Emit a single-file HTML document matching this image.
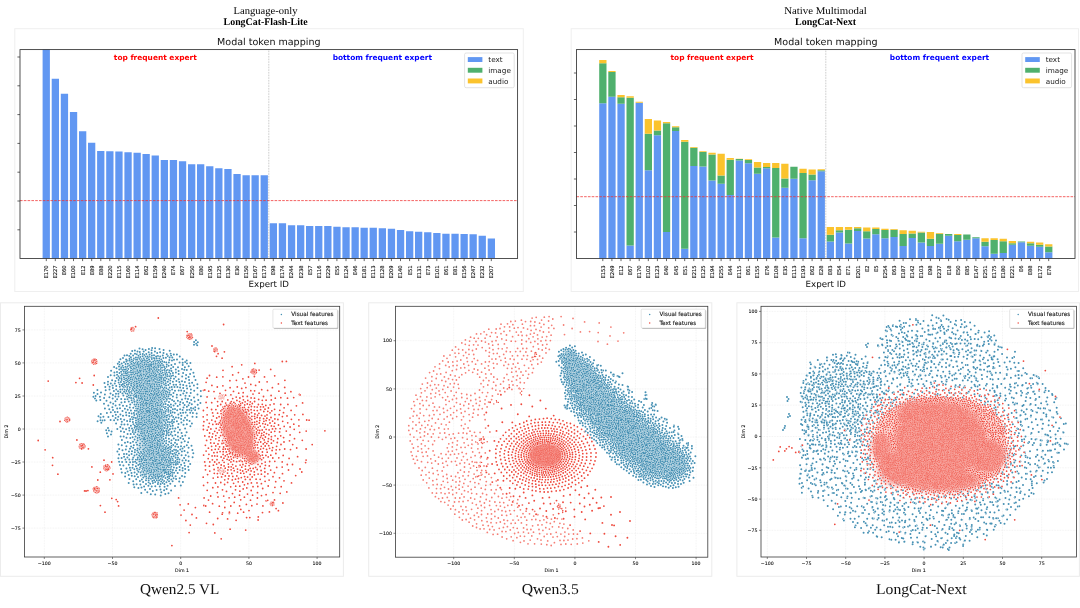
<!DOCTYPE html>
<html><head><meta charset="utf-8"><title>Modal token mapping and t-SNE features</title>
<style>html,body{margin:0;padding:0;background:#fff}svg{display:block;text-rendering:geometricPrecision;font-family:"DejaVu Sans","Liberation Sans",sans-serif}</style>
</head><body>
<svg width="1080" height="608" viewBox="0 0 1080 608">
<defs>
<filter id="bl1" x="-20%" y="-20%" width="140%" height="140%"><feGaussianBlur stdDeviation="1"/></filter>
<filter id="bl2" x="-20%" y="-20%" width="140%" height="140%"><feGaussianBlur stdDeviation="1.8"/></filter>
<filter id="bl3" x="-50%" y="-50%" width="200%" height="200%"><feGaussianBlur stdDeviation="3"/></filter>
<filter id="bl5" x="-50%" y="-50%" width="200%" height="200%"><feGaussianBlur stdDeviation="5"/></filter>
<clipPath id="cp1"><rect x="24.4" y="306.3" width="315.3" height="250.7"/></clipPath>
<clipPath id="cp2"><rect x="395.5" y="306.3" width="312.3" height="250.9"/></clipPath>
<clipPath id="cp3"><rect x="761" y="306.3" width="315.4" height="250.7"/></clipPath>
</defs>
<rect width="1080" height="608" fill="#fff"/>
<rect x="14.8" y="28.7" width="508.5" height="262.8" fill="#fff" stroke="#efefef" stroke-width="1"/>
<clipPath id="c20"><rect x="20" y="49.6" width="497.6" height="208.9"/></clipPath>
<g clip-path="url(#c20)" shape-rendering="auto">
<path fill="#6197f2" d="M42.6 20h7.3V258.5h-7.3zM51.7 78.7h7.3V258.5h-7.3zM60.8 93.7h7.3V258.5h-7.3zM69.9 112h7.3V258.5h-7.3zM79 131.3h7.3V258.5h-7.3zM88 142.8h7.3V258.5h-7.3zM97.1 151h7.3V258.5h-7.3zM106.2 151.2h7.3V258.5h-7.3zM115.3 151.6h7.3V258.5h-7.3zM124.4 152.2h7.3V258.5h-7.3zM133.5 152.8h7.3V258.5h-7.3zM142.5 154h7.3V258.5h-7.3zM151.6 155.5h7.3V258.5h-7.3zM160.7 160h7.3V258.5h-7.3zM169.8 160h7.3V258.5h-7.3zM178.9 161.3h7.3V258.5h-7.3zM188 164.3h7.3V258.5h-7.3zM197 164.3h7.3V258.5h-7.3zM206.1 166.3h7.3V258.5h-7.3zM215.2 168.2h7.3V258.5h-7.3zM224.3 169h7.3V258.5h-7.3zM233.4 174h7.3V258.5h-7.3zM242.5 175.2h7.3V258.5h-7.3zM251.5 175.2h7.3V258.5h-7.3zM260.6 175.2h7.3V258.5h-7.3zM269.7 223.3h7.3V258.5h-7.3zM278.8 223.3h7.3V258.5h-7.3zM287.9 225.2h7.3V258.5h-7.3zM297 225.2h7.3V258.5h-7.3zM306 226h7.3V258.5h-7.3zM315.1 226h7.3V258.5h-7.3zM324.2 226h7.3V258.5h-7.3zM333.3 226.7h7.3V258.5h-7.3zM342.4 227.3h7.3V258.5h-7.3zM351.5 227.3h7.3V258.5h-7.3zM360.5 227.8h7.3V258.5h-7.3zM369.6 227.8h7.3V258.5h-7.3zM378.7 228.3h7.3V258.5h-7.3zM387.8 228.8h7.3V258.5h-7.3zM396.9 230.1h7.3V258.5h-7.3zM406 231.2h7.3V258.5h-7.3zM415 231.7h7.3V258.5h-7.3zM424.1 232.3h7.3V258.5h-7.3zM433.2 233h7.3V258.5h-7.3zM442.3 233.7h7.3V258.5h-7.3zM451.4 233.7h7.3V258.5h-7.3zM460.5 234h7.3V258.5h-7.3zM469.5 234.3h7.3V258.5h-7.3zM478.6 235.7h7.3V258.5h-7.3zM487.7 238.5h7.3V258.5h-7.3z"/>
</g>
<path d="M268.8 49.6V258.5" stroke="#999" stroke-width="0.7" stroke-dasharray="0.7 0.9" fill="none"/>
<path d="M20 200.6H517.6" stroke="#f03030" stroke-width="0.75" stroke-dasharray="2.6 1.2" fill="none"/>
<rect x="20" y="49.6" width="497.6" height="208.9" fill="none" stroke="#333" stroke-width="0.85"/>
<path d="M46.3 258.5v2.6M55.3 258.5v2.6M64.4 258.5v2.6M73.5 258.5v2.6M82.6 258.5v2.6M91.7 258.5v2.6M100.8 258.5v2.6M109.8 258.5v2.6M118.9 258.5v2.6M128 258.5v2.6M137.1 258.5v2.6M146.2 258.5v2.6M155.3 258.5v2.6M164.3 258.5v2.6M173.4 258.5v2.6M182.5 258.5v2.6M191.6 258.5v2.6M200.7 258.5v2.6M209.8 258.5v2.6M218.8 258.5v2.6M227.9 258.5v2.6M237 258.5v2.6M246.1 258.5v2.6M255.2 258.5v2.6M264.3 258.5v2.6M273.3 258.5v2.6M282.4 258.5v2.6M291.5 258.5v2.6M300.6 258.5v2.6M309.7 258.5v2.6M318.8 258.5v2.6M327.8 258.5v2.6M336.9 258.5v2.6M346 258.5v2.6M355.1 258.5v2.6M364.2 258.5v2.6M373.3 258.5v2.6M382.3 258.5v2.6M391.4 258.5v2.6M400.5 258.5v2.6M409.6 258.5v2.6M418.7 258.5v2.6M427.8 258.5v2.6M436.8 258.5v2.6M445.9 258.5v2.6M455 258.5v2.6M464.1 258.5v2.6M473.2 258.5v2.6M482.3 258.5v2.6M491.3 258.5v2.6M20 57h-2.6M20 85.8h-2.6M20 114.6h-2.6M20 143.4h-2.6M20 172.2h-2.6M20 201h-2.6M20 229.8h-2.6" stroke="#333" stroke-width="0.75" fill="none"/>
<g font-size="5.2" fill="#111" stroke="#111" stroke-width="0.12" text-anchor="end">
<text transform="translate(48.2 265.4) rotate(-90)">E170</text>
<text transform="translate(57.2 265.4) rotate(-90)">E227</text>
<text transform="translate(66.3 265.4) rotate(-90)">E60</text>
<text transform="translate(75.4 265.4) rotate(-90)">E100</text>
<text transform="translate(84.5 265.4) rotate(-90)">E12</text>
<text transform="translate(93.6 265.4) rotate(-90)">E89</text>
<text transform="translate(102.7 265.4) rotate(-90)">E88</text>
<text transform="translate(111.7 265.4) rotate(-90)">E220</text>
<text transform="translate(120.8 265.4) rotate(-90)">E115</text>
<text transform="translate(129.9 265.4) rotate(-90)">E160</text>
<text transform="translate(139 265.4) rotate(-90)">E114</text>
<text transform="translate(148.1 265.4) rotate(-90)">E62</text>
<text transform="translate(157.2 265.4) rotate(-90)">E159</text>
<text transform="translate(166.2 265.4) rotate(-90)">E240</text>
<text transform="translate(175.3 265.4) rotate(-90)">E74</text>
<text transform="translate(184.4 265.4) rotate(-90)">E67</text>
<text transform="translate(193.5 265.4) rotate(-90)">E250</text>
<text transform="translate(202.6 265.4) rotate(-90)">E80</text>
<text transform="translate(211.7 265.4) rotate(-90)">E195</text>
<text transform="translate(220.7 265.4) rotate(-90)">E125</text>
<text transform="translate(229.8 265.4) rotate(-90)">E130</text>
<text transform="translate(238.9 265.4) rotate(-90)">E30</text>
<text transform="translate(248 265.4) rotate(-90)">E150</text>
<text transform="translate(257.1 265.4) rotate(-90)">E167</text>
<text transform="translate(266.2 265.4) rotate(-90)">E173</text>
<text transform="translate(275.2 265.4) rotate(-90)">E98</text>
<text transform="translate(284.3 265.4) rotate(-90)">E174</text>
<text transform="translate(293.4 265.4) rotate(-90)">E244</text>
<text transform="translate(302.5 265.4) rotate(-90)">E238</text>
<text transform="translate(311.6 265.4) rotate(-90)">E57</text>
<text transform="translate(320.7 265.4) rotate(-90)">E116</text>
<text transform="translate(329.7 265.4) rotate(-90)">E229</text>
<text transform="translate(338.8 265.4) rotate(-90)">E55</text>
<text transform="translate(347.9 265.4) rotate(-90)">E124</text>
<text transform="translate(357 265.4) rotate(-90)">E46</text>
<text transform="translate(366.1 265.4) rotate(-90)">E181</text>
<text transform="translate(375.2 265.4) rotate(-90)">E113</text>
<text transform="translate(384.2 265.4) rotate(-90)">E128</text>
<text transform="translate(393.3 265.4) rotate(-90)">E209</text>
<text transform="translate(402.4 265.4) rotate(-90)">E140</text>
<text transform="translate(411.5 265.4) rotate(-90)">E51</text>
<text transform="translate(420.6 265.4) rotate(-90)">E131</text>
<text transform="translate(429.7 265.4) rotate(-90)">E73</text>
<text transform="translate(438.7 265.4) rotate(-90)">E101</text>
<text transform="translate(447.8 265.4) rotate(-90)">E61</text>
<text transform="translate(456.9 265.4) rotate(-90)">E81</text>
<text transform="translate(466 265.4) rotate(-90)">E156</text>
<text transform="translate(475.1 265.4) rotate(-90)">E247</text>
<text transform="translate(484.2 265.4) rotate(-90)">E232</text>
<text transform="translate(493.2 265.4) rotate(-90)">E207</text>
</g>
<text x="268.8" y="45.3" font-size="9.55" text-anchor="middle" fill="#111">Modal token mapping</text>
<text x="268.8" y="286.9" font-size="8.7" text-anchor="middle" fill="#111">Expert ID</text>
<text x="155.3" y="60.2" font-size="7.43" font-weight="bold" text-anchor="middle" fill="#ff0000">top frequent expert</text>
<text x="382.3" y="60.2" font-size="7.43" font-weight="bold" text-anchor="middle" fill="#0000ff">bottom frequent expert</text>
<rect x="464.6" y="53" width="49.6" height="34.7" rx="1.5" fill="#fff" fill-opacity="0.8" stroke="#d0d0d0" stroke-width="0.6"/>
<rect x="467.8" y="57.1" width="14.6" height="4.9" fill="#6197f2"/>
<text x="488.3" y="62.1" font-size="7.25" fill="#222">text</text>
<rect x="467.8" y="67.8" width="14.6" height="4.9" fill="#4fb06d"/>
<text x="488.3" y="72.8" font-size="7.25" fill="#222">image</text>
<rect x="467.8" y="78.5" width="14.6" height="4.9" fill="#fbc32d"/>
<text x="488.3" y="83.5" font-size="7.25" fill="#222">audio</text>
<g font-family="'Liberation Serif',serif" fill="#000" text-anchor="middle" font-size="10.2">
<text x="265.6" y="13.7" textLength="64" lengthAdjust="spacingAndGlyphs">Language-only</text>
<text x="265.6" y="25" font-weight="bold" textLength="84" lengthAdjust="spacingAndGlyphs">LongCat-Flash-Lite</text>
</g>
<rect x="571.2" y="28.7" width="507.3" height="262.8" fill="#fff" stroke="#efefef" stroke-width="1"/>
<clipPath id="c576"><rect x="576.5" y="49.6" width="498.5" height="208.9"/></clipPath>
<g clip-path="url(#c576)" shape-rendering="auto">
<path fill="#6197f2" d="M599.2 103.3h7.3V258.5h-7.3zM608.3 96.7h7.3V258.5h-7.3zM617.4 103.8h7.3V258.5h-7.3zM626.5 245.5h7.3V258.5h-7.3zM635.6 102.8h7.3V258.5h-7.3zM644.7 170.3h7.3V258.5h-7.3zM653.8 135.2h7.3V258.5h-7.3zM662.9 232h7.3V258.5h-7.3zM672 131.1h7.3V258.5h-7.3zM681.1 248.8h7.3V258.5h-7.3zM690.2 166h7.3V258.5h-7.3zM699.3 166.5h7.3V258.5h-7.3zM708.4 180.4h7.3V258.5h-7.3zM717.5 183.8h7.3V258.5h-7.3zM726.6 195h7.3V258.5h-7.3zM735.7 160.4h7.3V258.5h-7.3zM744.8 163.2h7.3V258.5h-7.3zM753.9 173.7h7.3V258.5h-7.3zM763 168.2h7.3V258.5h-7.3zM772.1 237.5h7.3V258.5h-7.3zM781.2 187.8h7.3V258.5h-7.3zM790.3 178.7h7.3V258.5h-7.3zM799.4 238.3h7.3V258.5h-7.3zM808.5 180.3h7.3V258.5h-7.3zM817.6 171.3h7.3V258.5h-7.3zM826.7 241.6h7.3V258.5h-7.3zM835.8 232.6h7.3V258.5h-7.3zM844.9 243.4h7.3V258.5h-7.3zM854 230.9h7.3V258.5h-7.3zM863.1 238.6h7.3V258.5h-7.3zM872.2 234.2h7.3V258.5h-7.3zM881.3 238.2h7.3V258.5h-7.3zM890.4 237.1h7.3V258.5h-7.3zM899.5 246.1h7.3V258.5h-7.3zM908.6 238h7.3V258.5h-7.3zM917.7 242.4h7.3V258.5h-7.3zM926.8 246h7.3V258.5h-7.3zM935.9 243.7h7.3V258.5h-7.3zM945 235.8h7.3V258.5h-7.3zM954.1 241.2h7.3V258.5h-7.3zM963.2 239.7h7.3V258.5h-7.3zM972.3 238.2h7.3V258.5h-7.3zM981.4 246.3h7.3V258.5h-7.3zM990.5 253.7h7.3V258.5h-7.3zM999.6 252.9h7.3V258.5h-7.3zM1008.7 244.7h7.3V258.5h-7.3zM1017.8 242.2h7.3V258.5h-7.3zM1026.9 245.8h7.3V258.5h-7.3zM1036 246.7h7.3V258.5h-7.3zM1045.1 252.2h7.3V258.5h-7.3z"/>
<path fill="#4fb06d" d="M599.2 63.3h7.3V103.3h-7.3zM608.3 72h7.3V96.7h-7.3zM617.4 97.2h7.3V103.8h-7.3zM626.5 97.8h7.3V245.5h-7.3zM644.7 133.7h7.3V170.3h-7.3zM653.8 130.5h7.3V135.2h-7.3zM662.9 123.3h7.3V232h-7.3zM672 127.2h7.3V131.1h-7.3zM681.1 141.7h7.3V248.8h-7.3zM690.2 147.8h7.3V166h-7.3zM699.3 152h7.3V166.5h-7.3zM708.4 154.5h7.3V180.4h-7.3zM717.5 175.4h7.3V183.8h-7.3zM726.6 159.7h7.3V195h-7.3zM735.7 159h7.3V160.4h-7.3zM744.8 160h7.3V163.2h-7.3zM753.9 167.5h7.3V173.7h-7.3zM763 167h7.3V168.2h-7.3zM772.1 168h7.3V237.5h-7.3zM781.2 178.5h7.3V187.8h-7.3zM790.3 166.7h7.3V178.7h-7.3zM799.4 173h7.3V238.3h-7.3zM808.5 174.5h7.3V180.3h-7.3zM817.6 170.3h7.3V171.3h-7.3zM826.7 234.8h7.3V241.6h-7.3zM835.8 230.2h7.3V232.6h-7.3zM844.9 229.7h7.3V243.4h-7.3zM854 228.2h7.3V230.9h-7.3zM863.1 231.3h7.3V238.6h-7.3zM872.2 228.9h7.3V234.2h-7.3zM881.3 230h7.3V238.2h-7.3zM890.4 229.7h7.3V237.1h-7.3zM899.5 233.9h7.3V246.1h-7.3zM908.6 233.6h7.3V238h-7.3zM917.7 232.6h7.3V242.4h-7.3zM926.8 238.7h7.3V246h-7.3zM935.9 233.7h7.3V243.7h-7.3zM945 233.9h7.3V235.8h-7.3zM954.1 235.1h7.3V241.2h-7.3zM963.2 234.5h7.3V239.7h-7.3zM972.3 237.2h7.3V238.2h-7.3zM981.4 241.7h7.3V246.3h-7.3zM990.5 239.9h7.3V253.7h-7.3zM999.6 241.2h7.3V252.9h-7.3zM1008.7 243.2h7.3V244.7h-7.3zM1017.8 241.4h7.3V242.2h-7.3zM1026.9 243.2h7.3V245.8h-7.3zM1036 244.7h7.3V246.7h-7.3zM1045.1 246.4h7.3V252.2h-7.3z"/>
<path fill="#fbc32d" d="M599.2 60h7.3V63.3h-7.3zM608.3 71h7.3V72h-7.3zM617.4 95h7.3V97.2h-7.3zM626.5 96.3h7.3V97.8h-7.3zM635.6 101.7h7.3V102.8h-7.3zM644.7 119h7.3V133.7h-7.3zM653.8 120.5h7.3V130.5h-7.3zM662.9 122h7.3V123.3h-7.3zM672 126.2h7.3V127.2h-7.3zM681.1 140h7.3V141.7h-7.3zM690.2 147h7.3V147.8h-7.3zM699.3 151.2h7.3V152h-7.3zM708.4 152.8h7.3V154.5h-7.3zM717.5 153.8h7.3V175.4h-7.3zM726.6 157.9h7.3V159.7h-7.3zM735.7 158.8h7.3V159h-7.3zM744.8 159.2h7.3V160h-7.3zM753.9 162h7.3V167.5h-7.3zM763 163h7.3V167h-7.3zM772.1 163h7.3V168h-7.3zM781.2 163.7h7.3V178.5h-7.3zM799.4 168.8h7.3V173h-7.3zM808.5 169.5h7.3V174.5h-7.3zM817.6 169.3h7.3V170.3h-7.3zM826.7 227.1h7.3V234.8h-7.3zM835.8 227.1h7.3V230.2h-7.3zM844.9 227.1h7.3V229.7h-7.3zM854 227.1h7.3V228.2h-7.3zM863.1 227.4h7.3V231.3h-7.3zM872.2 227.4h7.3V228.9h-7.3zM881.3 228.7h7.3V230h-7.3zM890.4 228.9h7.3V229.7h-7.3zM899.5 230.3h7.3V233.9h-7.3zM908.6 230.7h7.3V233.6h-7.3zM917.7 231.8h7.3V232.6h-7.3zM926.8 232h7.3V238.7h-7.3zM935.9 232.9h7.3V233.7h-7.3zM954.1 233.9h7.3V235.1h-7.3zM981.4 238.3h7.3V241.7h-7.3zM990.5 238.2h7.3V239.9h-7.3zM999.6 238.8h7.3V241.2h-7.3zM1008.7 240.9h7.3V243.2h-7.3zM1026.9 241.8h7.3V243.2h-7.3zM1036 242.5h7.3V244.7h-7.3zM1045.1 244.2h7.3V246.4h-7.3z"/>
</g>
<path d="M825.8 49.6V258.5" stroke="#999" stroke-width="0.7" stroke-dasharray="0.7 0.9" fill="none"/>
<path d="M576.5 196.7H1075" stroke="#f03030" stroke-width="0.75" stroke-dasharray="2.6 1.2" fill="none"/>
<rect x="576.5" y="49.6" width="498.5" height="208.9" fill="none" stroke="#333" stroke-width="0.85"/>
<path d="M602.8 258.5v2.6M611.9 258.5v2.6M621 258.5v2.6M630.1 258.5v2.6M639.2 258.5v2.6M648.3 258.5v2.6M657.4 258.5v2.6M666.5 258.5v2.6M675.6 258.5v2.6M684.7 258.5v2.6M693.8 258.5v2.6M702.9 258.5v2.6M712 258.5v2.6M721.1 258.5v2.6M730.2 258.5v2.6M739.3 258.5v2.6M748.4 258.5v2.6M757.5 258.5v2.6M766.6 258.5v2.6M775.7 258.5v2.6M784.8 258.5v2.6M793.9 258.5v2.6M803 258.5v2.6M812.1 258.5v2.6M821.2 258.5v2.6M830.3 258.5v2.6M839.4 258.5v2.6M848.5 258.5v2.6M857.6 258.5v2.6M866.7 258.5v2.6M875.8 258.5v2.6M884.9 258.5v2.6M894 258.5v2.6M903.1 258.5v2.6M912.2 258.5v2.6M921.3 258.5v2.6M930.4 258.5v2.6M939.5 258.5v2.6M948.6 258.5v2.6M957.7 258.5v2.6M966.8 258.5v2.6M975.9 258.5v2.6M985 258.5v2.6M994.1 258.5v2.6M1003.2 258.5v2.6M1012.3 258.5v2.6M1021.4 258.5v2.6M1030.5 258.5v2.6M1039.6 258.5v2.6M1048.7 258.5v2.6M576.5 73h-2.6M576.5 99.5h-2.6M576.5 126h-2.6M576.5 152.5h-2.6M576.5 179h-2.6M576.5 205.5h-2.6M576.5 232h-2.6" stroke="#333" stroke-width="0.75" fill="none"/>
<g font-size="5.2" fill="#111" stroke="#111" stroke-width="0.12" text-anchor="end">
<text transform="translate(604.7 265.4) rotate(-90)">E153</text>
<text transform="translate(613.8 265.4) rotate(-90)">E249</text>
<text transform="translate(622.9 265.4) rotate(-90)">E12</text>
<text transform="translate(632 265.4) rotate(-90)">E67</text>
<text transform="translate(641.1 265.4) rotate(-90)">E170</text>
<text transform="translate(650.2 265.4) rotate(-90)">E102</text>
<text transform="translate(659.3 265.4) rotate(-90)">E123</text>
<text transform="translate(668.4 265.4) rotate(-90)">E40</text>
<text transform="translate(677.5 265.4) rotate(-90)">E45</text>
<text transform="translate(686.6 265.4) rotate(-90)">E51</text>
<text transform="translate(695.7 265.4) rotate(-90)">E215</text>
<text transform="translate(704.8 265.4) rotate(-90)">E125</text>
<text transform="translate(713.9 265.4) rotate(-90)">E194</text>
<text transform="translate(723 265.4) rotate(-90)">E255</text>
<text transform="translate(732.1 265.4) rotate(-90)">E44</text>
<text transform="translate(741.2 265.4) rotate(-90)">E115</text>
<text transform="translate(750.3 265.4) rotate(-90)">E61</text>
<text transform="translate(759.4 265.4) rotate(-90)">E155</text>
<text transform="translate(768.5 265.4) rotate(-90)">E76</text>
<text transform="translate(777.6 265.4) rotate(-90)">E108</text>
<text transform="translate(786.7 265.4) rotate(-90)">E35</text>
<text transform="translate(795.8 265.4) rotate(-90)">E113</text>
<text transform="translate(804.9 265.4) rotate(-90)">E193</text>
<text transform="translate(814 265.4) rotate(-90)">E62</text>
<text transform="translate(823.1 265.4) rotate(-90)">E28</text>
<text transform="translate(832.2 265.4) rotate(-90)">E83</text>
<text transform="translate(841.3 265.4) rotate(-90)">E54</text>
<text transform="translate(850.4 265.4) rotate(-90)">E71</text>
<text transform="translate(859.5 265.4) rotate(-90)">E201</text>
<text transform="translate(868.6 265.4) rotate(-90)">E2</text>
<text transform="translate(877.7 265.4) rotate(-90)">E5</text>
<text transform="translate(886.8 265.4) rotate(-90)">E254</text>
<text transform="translate(895.9 265.4) rotate(-90)">E63</text>
<text transform="translate(905 265.4) rotate(-90)">E187</text>
<text transform="translate(914.1 265.4) rotate(-90)">E142</text>
<text transform="translate(923.2 265.4) rotate(-90)">E103</text>
<text transform="translate(932.3 265.4) rotate(-90)">E98</text>
<text transform="translate(941.4 265.4) rotate(-90)">E237</text>
<text transform="translate(950.5 265.4) rotate(-90)">E18</text>
<text transform="translate(959.6 265.4) rotate(-90)">E50</text>
<text transform="translate(968.7 265.4) rotate(-90)">E85</text>
<text transform="translate(977.8 265.4) rotate(-90)">E147</text>
<text transform="translate(986.9 265.4) rotate(-90)">E251</text>
<text transform="translate(996 265.4) rotate(-90)">E175</text>
<text transform="translate(1005.1 265.4) rotate(-90)">E180</text>
<text transform="translate(1014.2 265.4) rotate(-90)">E221</text>
<text transform="translate(1023.3 265.4) rotate(-90)">E6</text>
<text transform="translate(1032.4 265.4) rotate(-90)">E88</text>
<text transform="translate(1041.5 265.4) rotate(-90)">E172</text>
<text transform="translate(1050.6 265.4) rotate(-90)">E78</text>
</g>
<text x="825.8" y="45.3" font-size="9.55" text-anchor="middle" fill="#111">Modal token mapping</text>
<text x="825.8" y="286.9" font-size="8.7" text-anchor="middle" fill="#111">Expert ID</text>
<text x="712" y="60.2" font-size="7.43" font-weight="bold" text-anchor="middle" fill="#ff0000">top frequent expert</text>
<text x="939.5" y="60.2" font-size="7.43" font-weight="bold" text-anchor="middle" fill="#0000ff">bottom frequent expert</text>
<rect x="1022" y="53" width="49.6" height="34.7" rx="1.5" fill="#fff" fill-opacity="0.8" stroke="#d0d0d0" stroke-width="0.6"/>
<rect x="1025.2" y="57.1" width="14.6" height="4.9" fill="#6197f2"/>
<text x="1045.7" y="62.1" font-size="7.25" fill="#222">text</text>
<rect x="1025.2" y="67.8" width="14.6" height="4.9" fill="#4fb06d"/>
<text x="1045.7" y="72.8" font-size="7.25" fill="#222">image</text>
<rect x="1025.2" y="78.5" width="14.6" height="4.9" fill="#fbc32d"/>
<text x="1045.7" y="83.5" font-size="7.25" fill="#222">audio</text>
<g font-family="'Liberation Serif',serif" fill="#000" text-anchor="middle" font-size="10.2">
<text x="825.5" y="13.7" textLength="82.5" lengthAdjust="spacingAndGlyphs">Native Multimodal</text>
<text x="825.5" y="25" font-weight="bold" textLength="61" lengthAdjust="spacingAndGlyphs">LongCat-Next</text>
</g>
<rect x="0.5" y="302.8" width="342.9" height="273.5" fill="#fff" stroke="#ececec" stroke-width="1"/>
<path d="M44.3 306.3V557M112.5 306.3V557M180.7 306.3V557M248.9 306.3V557M317.1 306.3V557M24.4 329.9H339.7M24.4 362.9H339.7M24.4 396H339.7M24.4 429H339.7M24.4 462H339.7M24.4 495.1H339.7M24.4 528.1H339.7" stroke="#e4e4e4" stroke-width="0.5" stroke-dasharray="0.8 0.8" fill="none"/>
<g clip-path="url(#cp1)" fill="none" stroke-linecap="round">
<path d="M143 374L149 400L152 425L156 462" stroke="#7fb2ce" stroke-width="24" stroke-linejoin="round" filter="url(#bl5)"/>
<path d="M95 398.4h0m.6-2.4h0m2 25.2h0m2.3-24.4h0m2.6 23.6h0m1.6-22.5h0m1.2-11h0m1.2 13.8h0m3.1-14h0m2.8 20.6h0m3.2 10.6h0m1.1-40h0m.6 51h0m.3-17h0m2.8 2.7h0m.7 54.5h0m.5-11h0m1.2-29.5h0m1-41h0m.3-14.7h0m.9 69.8h0m.1 33.7h0m1.3-93.8h0m.8 4.8h0m.6-27h0m.5 8.6h0m.6 26.2h0m.2 2.3h0m1.4-13.5h0m.2-30.2h0m.2 56.7h0m.2-42h0m.2 7.6h0m.2 97h0m.4-90h0m0-16.6h0m.1 84.7h0m.1-60.6h0m.1 11.9h0m.7-37.8h0m1.1 69.3h0m.6-67h0m.9-4.4h0m.7 6.5h0m0 19.7h0m.5 21.8h0m.1-33.8h0m.4-15.9h0m.8 13.6h0m.4 19.1h0m.1-26h0m.2 24.1h0m.2-5.4h0m0-3.1h0m.5 16.9h0m0 49.1h0m.2-31h0m.2-56.1h0m.2 32.9h0m.2-40.8h0m.2 85.2h0m.2-51.8h0m.1 2.6h0m.1 16.2h0m.2-19.8h0m0 34.4h0m.6-48.6h0m.1 17.2h0m.3 2.4h0m.1 22.7h0m.6 16.1h0m.3-52.5h0m.1 88.1h0m.2-102.1h0m.5 98.2h0m.4-89.1h0m.3 82.1h0m.1-83.9h0m.2 25.6h0m.4 65.5h0m.3-60.9h0m0 25.9h0m.2-71.1h0m.2 69.2h0m.1 28.4h0m.3-100.1h0m.1 107.2h0m0-88.6h0m.2 33.8h0m.1 8.4h0m0-47.1h0m.2 73.9h0m.4-43.8h0m0 94.3h0m.1-34.6h0m.1-40.5h0m0 8.6h0m.3 8.8h0m0-73.8h0m.6 10.1h0m.4 21.6h0m.1 66.4h0m.7 8h0m0-67.9h0m.3-16.1h0m.3 82.2h0m0-101.2h0m.3 89.1h0m.3 8.8h0m.2-86h0m.1 92h0m.4-77.7h0m.2 96.5h0m0-31.4h0m.1-92.6h0m0 15.4h0m.1-3.4h0m.1-6.9h0m.4 70.1h0m.3 30.7h0m.2-89.7h0m0 31.1h0m.1-51.9h0m.2 50h0m0 50.6h0m.1-36.7h0m.2 6.5h0m0-55h0m.1 31.2h0m0 26.2h0m.3-49.6h0m.5-1.3h0m.2-15h0m0 9.9h0m.2 78.6h0m0-95.1h0m.2 104.6h0m.1-30.8h0m0-83.7h0m1.7 85.7h0m.3-41.3h0m.1-28.7h0m0 78.2h0m.3-64.1h0m.1 78.5h0m.1-58.2h0m.2-42.5h0m0 81.8h0m.1-2.4h0m0-14.9h0m.1 43.4h0m.5-34.7h0m.7-30.3h0m.1-5.7h0m.8 42.9h0m0-79.4h0m.1 58.6h0m.5-46.2h0m.1 63.5h0m.2-7.5h0m0 48.6h0m.1-90.6h0m.5 38.1h0m0 14.6h0m.5 42h0m.3-29.4h0m.2-75.5h0m0 56h0m.2-15.5h0m.1-17.8h0m.4-30.3h0m.1 95h0m.1-21.2h0m.8 17.6h0m.7-.8h0m.4 22.1h0m.2-70.9h0m.1 18.8h0m.3 37.3h0m0-38.8h0m.6-30.4h0m.1 16h0m.4-35.7h0m1.3 119.1h0m.2-74.4h0m.1-4.2h0m.5 9.8h0m.2-18.3h0m1.2 6.8h0m0-59.2h0m1.7 120.1h0m.5-64.7h0m0 50.9h0m0 10h0m.7-64.5h0m.3 62h0m.1-5.3h0m1.5-58.8h0m.1 72.7h0m.3-103.6h0m1.1 71.7h0m.2 15.3h0m2.1-77.6h0m2.7-.8h0m.9 100.9h0m.4-88.6h0m1.4 47.7h0m.8-45.5h0m1.3 49.6h0m.3-43.5h0m.9-2.9h0m1.6 22.2h0m1.8-10.6h0m1.1 6.3h0" stroke="#fff" stroke-width="2.5" stroke-opacity="1.0"/>
<path d="M95 398.4h0m.6-2.4h0m2 25.2h0m2.3-24.4h0m2.6 23.6h0m1.6-22.5h0m1.2-11h0m1.2 13.8h0m3.1-14h0m2.8 20.6h0m3.2 10.6h0m1.1-40h0m.6 51h0m.3-17h0m2.8 2.7h0m.7 54.5h0m.5-11h0m1.2-29.5h0m1-41h0m.3-14.7h0m.9 69.8h0m.1 33.7h0m1.3-93.8h0m.8 4.8h0m.6-27h0m.5 8.6h0m.6 26.2h0m.2 2.3h0m1.4-13.5h0m.2-30.2h0m.2 56.7h0m.2-42h0m.2 7.6h0m.2 97h0m.4-90h0m0-16.6h0m.1 84.7h0m.1-60.6h0m.1 11.9h0m.7-37.8h0m1.1 69.3h0m.6-67h0m.9-4.4h0m.7 6.5h0m0 19.7h0m.5 21.8h0m.1-33.8h0m.4-15.9h0m.8 13.6h0m.4 19.1h0m.1-26h0m.2 24.1h0m.2-5.4h0m0-3.1h0m.5 16.9h0m0 49.1h0m.2-31h0m.2-56.1h0m.2 32.9h0m.2-40.8h0m.2 85.2h0m.2-51.8h0m.1 2.6h0m.1 16.2h0m.2-19.8h0m0 34.4h0m.6-48.6h0m.1 17.2h0m.3 2.4h0m.1 22.7h0m.6 16.1h0m.3-52.5h0m.1 88.1h0m.2-102.1h0m.5 98.2h0m.4-89.1h0m.3 82.1h0m.1-83.9h0m.2 25.6h0m.4 65.5h0m.3-60.9h0m0 25.9h0m.2-71.1h0m.2 69.2h0m.1 28.4h0m.3-100.1h0m.1 107.2h0m0-88.6h0m.2 33.8h0m.1 8.4h0m0-47.1h0m.2 73.9h0m.4-43.8h0m0 94.3h0m.1-34.6h0m.1-40.5h0m0 8.6h0m.3 8.8h0m0-73.8h0m.6 10.1h0m.4 21.6h0m.1 66.4h0m.7 8h0m0-67.9h0m.3-16.1h0m.3 82.2h0m0-101.2h0m.3 89.1h0m.3 8.8h0m.2-86h0m.1 92h0m.4-77.7h0m.2 96.5h0m0-31.4h0m.1-92.6h0m0 15.4h0m.1-3.4h0m.1-6.9h0m.4 70.1h0m.3 30.7h0m.2-89.7h0m0 31.1h0m.1-51.9h0m.2 50h0m0 50.6h0m.1-36.7h0m.2 6.5h0m0-55h0m.1 31.2h0m0 26.2h0m.3-49.6h0m.5-1.3h0m.2-15h0m0 9.9h0m.2 78.6h0m0-95.1h0m.2 104.6h0m.1-30.8h0m0-83.7h0m1.7 85.7h0m.3-41.3h0m.1-28.7h0m0 78.2h0m.3-64.1h0m.1 78.5h0m.1-58.2h0m.2-42.5h0m0 81.8h0m.1-2.4h0m0-14.9h0m.1 43.4h0m.5-34.7h0m.7-30.3h0m.1-5.7h0m.8 42.9h0m0-79.4h0m.1 58.6h0m.5-46.2h0m.1 63.5h0m.2-7.5h0m0 48.6h0m.1-90.6h0m.5 38.1h0m0 14.6h0m.5 42h0m.3-29.4h0m.2-75.5h0m0 56h0m.2-15.5h0m.1-17.8h0m.4-30.3h0m.1 95h0m.1-21.2h0m.8 17.6h0m.7-.8h0m.4 22.1h0m.2-70.9h0m.1 18.8h0m.3 37.3h0m0-38.8h0m.6-30.4h0m.1 16h0m.4-35.7h0m1.3 119.1h0m.2-74.4h0m.1-4.2h0m.5 9.8h0m.2-18.3h0m1.2 6.8h0m0-59.2h0m1.7 120.1h0m.5-64.7h0m0 50.9h0m0 10h0m.7-64.5h0m.3 62h0m.1-5.3h0m1.5-58.8h0m.1 72.7h0m.3-103.6h0m1.1 71.7h0m.2 15.3h0m2.1-77.6h0m2.7-.8h0m.9 100.9h0m.4-88.6h0m1.4 47.7h0m.8-45.5h0m1.3 49.6h0m.3-43.5h0m.9-2.9h0m1.6 22.2h0m1.8-10.6h0m1.1 6.3h0" stroke="#4791b4" stroke-width="2"/>
<path d="M101.3 422.8h0m2.7-19.1h0m.5-20.7h0m1.7 47.2h0m2.1-24.6h0m2.2-3.1h0m2.5 7.6h0m2.4-13.7h0m.7 27.1h0m3.9-15.2h0m.9 22.9h0m2.1-55.7h0m0 30.3h0m0-47.7h0m.8 23.7h0m.7-26.4h0m.4 53.4h0m.5-22.2h0m.6-6.2h0m.4 65.9h0m.6-91h0m.7 24h0m.3 2h0m.7-6.7h0m.2-2.7h0m.3 44h0m.2-33.2h0m.7 79.5h0m.2-42.9h0m1-60h0m.4 34.2h0m.3 23.6h0m.7 2.2h0m.1 45.5h0m.1-86.6h0m.6 17.2h0m0-19.2h0m.3 6.3h0m.9-11.1h0m.1 80.8h0m.2-2.5h0m.7-73.8h0m.2-18.5h0m.2 23.1h0m.1 62.1h0m0-57h0m.6-31.3h0m.7 116h0m.5-112.4h0m.5 12.9h0m.9 53.1h0m.1-75.3h0m0 26.1h0m.3 37.4h0m.1 68.8h0m.5-48.6h0m.4-16.6h0m.7 12h0m.2-68.4h0m.2 21.7h0m0 4.8h0m.2-16.9h0m0-3.8h0m.3 2.5h0m.1 39.7h0m.1-58h0m0 25.1h0m0 9h0m.2 1.3h0m.1-2.6h0m.2 15.6h0m1-42.7h0m.3 31.9h0m.2 89h0m.2-85.2h0m.3 73.9h0m.3-53.7h0m.1-39.9h0m.1 13.4h0m.2 89.9h0m0-96.6h0m.1-17.1h0m.1 119.6h0m.7-10.4h0m.3-21.5h0m.6 15h0m0-36.5h0m.1-8.4h0m0-52.2h0m.4 43.2h0m.2 4.3h0m.1 38.2h0m.2 30.4h0m.4-115.4h0m.1 7h0m.2-17.7h0m.3 73.7h0m.1-32.8h0m.2 54.4h0m0-84h0m.3 116.2h0m0-112.7h0m.2 97.7h0m.4-28.2h0m.3 7.7h0m.3-18.8h0m.4 40.4h0m.2-55.6h0m.1-66.1h0m.3 108h0m0-32.4h0m.1 6.1h0m.9 2.5h0m.1 8.5h0m0-37.8h0m.1 12.6h0m.1 33.6h0m.4 18.8h0m.1-10.2h0m0-22.8h0m0-5.8h0m.1 47.9h0m.4-4.6h0m.2-120.9h0m.2 108h0m.2-48.4h0m.1-38h0m0 55.3h0m0-66.5h0m.1 33.4h0m0 21.5h0m0 41.3h0m.2-51.6h0m.1-40.4h0m.3 20.6h0m.1 16.1h0m0 49.6h0m.2-74.9h0m0 54.7h0m.2-11.6h0m.1-20.8h0m.5-39.1h0m.3 94h0m.2-51.9h0m.6 58.9h0m.2-84.9h0m0 20.2h0m.1 72.8h0m.1-13.7h0m.4-49.3h0m0 8.2h0m.1-30.6h0m.2 46.7h0m.2-3.8h0m.3 44.7h0m.3-28.8h0m.1 17.2h0m.2-48.3h0m.4 66.7h0m.1-19.6h0m.4-79.7h0m.1 73.2h0m0-41.1h0m.2 33.8h0m0-31.1h0m.3-49.5h0m.3 37.3h0m0 72.2h0m.2-42.4h0m.3 50.9h0m.4-68.3h0m.2-56.7h0m.4 49h0m.4-44.8h0m.5 32.9h0m.1 68.4h0m.1-1.7h0m.4 5.5h0m.2-74.3h0m0 28.1h0m.2-38.9h0m.1 56h0m0 15.3h0m.5-90.9h0m1.3 117.2h0m1.3-40.9h0m.2 20.3h0m0-64.7h0m.5 22.2h0m.1-65.8h0m.5 29.8h0m.3 78h0m.4-54h0m.1 63.2h0m.8-52.4h0m.8 13h0m.1 25.7h0m2-.9h0m2.2-58.4h0m1.6 29.1h0m2.9-8.2h0m.6 60.2h0m.7-110.8h0m.5 19.8h0m.3 22.7h0m5.1 53.3h0m.8-51.2h0m.7-35.8h0m.1 38.9h0m.2-49.8h0m.3 29.9h0m3.4-16.5h0m3.1-31.1h0m3.6 45.7h0" stroke="#fff" stroke-width="2.5" stroke-opacity="1.0"/>
<path d="M101.3 422.8h0m2.7-19.1h0m.5-20.7h0m1.7 47.2h0m2.1-24.6h0m2.2-3.1h0m2.5 7.6h0m2.4-13.7h0m.7 27.1h0m3.9-15.2h0m.9 22.9h0m2.1-55.7h0m0 30.3h0m0-47.7h0m.8 23.7h0m.7-26.4h0m.4 53.4h0m.5-22.2h0m.6-6.2h0m.4 65.9h0m.6-91h0m.7 24h0m.3 2h0m.7-6.7h0m.2-2.7h0m.3 44h0m.2-33.2h0m.7 79.5h0m.2-42.9h0m1-60h0m.4 34.2h0m.3 23.6h0m.7 2.2h0m.1 45.5h0m.1-86.6h0m.6 17.2h0m0-19.2h0m.3 6.3h0m.9-11.1h0m.1 80.8h0m.2-2.5h0m.7-73.8h0m.2-18.5h0m.2 23.1h0m.1 62.1h0m0-57h0m.6-31.3h0m.7 116h0m.5-112.4h0m.5 12.9h0m.9 53.1h0m.1-75.3h0m0 26.1h0m.3 37.4h0m.1 68.8h0m.5-48.6h0m.4-16.6h0m.7 12h0m.2-68.4h0m.2 21.7h0m0 4.8h0m.2-16.9h0m0-3.8h0m.3 2.5h0m.1 39.7h0m.1-58h0m0 25.1h0m0 9h0m.2 1.3h0m.1-2.6h0m.2 15.6h0m1-42.7h0m.3 31.9h0m.2 89h0m.2-85.2h0m.3 73.9h0m.3-53.7h0m.1-39.9h0m.1 13.4h0m.2 89.9h0m0-96.6h0m.1-17.1h0m.1 119.6h0m.7-10.4h0m.3-21.5h0m.6 15h0m0-36.5h0m.1-8.4h0m0-52.2h0m.4 43.2h0m.2 4.3h0m.1 38.2h0m.2 30.4h0m.4-115.4h0m.1 7h0m.2-17.7h0m.3 73.7h0m.1-32.8h0m.2 54.4h0m0-84h0m.3 116.2h0m0-112.7h0m.2 97.7h0m.4-28.2h0m.3 7.7h0m.3-18.8h0m.4 40.4h0m.2-55.6h0m.1-66.1h0m.3 108h0m0-32.4h0m.1 6.1h0m.9 2.5h0m.1 8.5h0m0-37.8h0m.1 12.6h0m.1 33.6h0m.4 18.8h0m.1-10.2h0m0-22.8h0m0-5.8h0m.1 47.9h0m.4-4.6h0m.2-120.9h0m.2 108h0m.2-48.4h0m.1-38h0m0 55.3h0m0-66.5h0m.1 33.4h0m0 21.5h0m0 41.3h0m.2-51.6h0m.1-40.4h0m.3 20.6h0m.1 16.1h0m0 49.6h0m.2-74.9h0m0 54.7h0m.2-11.6h0m.1-20.8h0m.5-39.1h0m.3 94h0m.2-51.9h0m.6 58.9h0m.2-84.9h0m0 20.2h0m.1 72.8h0m.1-13.7h0m.4-49.3h0m0 8.2h0m.1-30.6h0m.2 46.7h0m.2-3.8h0m.3 44.7h0m.3-28.8h0m.1 17.2h0m.2-48.3h0m.4 66.7h0m.1-19.6h0m.4-79.7h0m.1 73.2h0m0-41.1h0m.2 33.8h0m0-31.1h0m.3-49.5h0m.3 37.3h0m0 72.2h0m.2-42.4h0m.3 50.9h0m.4-68.3h0m.2-56.7h0m.4 49h0m.4-44.8h0m.5 32.9h0m.1 68.4h0m.1-1.7h0m.4 5.5h0m.2-74.3h0m0 28.1h0m.2-38.9h0m.1 56h0m0 15.3h0m.5-90.9h0m1.3 117.2h0m1.3-40.9h0m.2 20.3h0m0-64.7h0m.5 22.2h0m.1-65.8h0m.5 29.8h0m.3 78h0m.4-54h0m.1 63.2h0m.8-52.4h0m.8 13h0m.1 25.7h0m2-.9h0m2.2-58.4h0m1.6 29.1h0m2.9-8.2h0m.6 60.2h0m.7-110.8h0m.5 19.8h0m.3 22.7h0m5.1 53.3h0m.8-51.2h0m.7-35.8h0m.1 38.9h0m.2-49.8h0m.3 29.9h0m3.4-16.5h0m3.1-31.1h0m3.6 45.7h0" stroke="#4791b4" stroke-width="2"/>
<path d="M97.5 394.1h0m3 26.1h0m7.5-38.4h0m0 46.2h0m5.2-24.3h0m.9 16.6h0m1.4-19.1h0m2.5-9.9h0m.5-15h0m1.1 28.5h0m.1-40.1h0m2.8 5.3h0m1.6 86.7h0m.7-54.7h0m.8-38h0m.2 7.4h0m.7 66.4h0m.7-67.1h0m.1 18.6h0m2.1-9h0m.1-4.7h0m.2 13.5h0m.5-24.6h0m.1 2.6h0m.1 103.2h0m0-108.2h0m.6 30h0m0-21.5h0m.2 10.9h0m.4 72.6h0m1 5.5h0m.2-85.3h0m0 57.6h0m.1-1.8h0m.2-74.7h0m.1 125.8h0m.1-23.7h0m.1-95.1h0m.6-4h0m.1 21.5h0m.4 14.3h0m.2-30.1h0m.7 54h0m.8-9.7h0m0-37.1h0m0 107.9h0m1.1-28.8h0m.2-80.7h0m.1 68.4h0m.1-3.7h0m.2-11.2h0m.1-38.4h0m.3 67.7h0m0-56.6h0m.1-6.8h0m0 15.6h0m.1-42.7h0m.9 60.1h0m0 47.1h0m.2-110.2h0m.1 7.3h0m.3-1.3h0m.1 45.1h0m.3 74.4h0m.8-53.6h0m.1-4.7h0m.1-48.7h0m.5 101.9h0m.1-97.5h0m0 89.3h0m.1-39h0m.1 2.6h0m.8-34.4h0m0 21.4h0m.1-8.2h0m0-37h0m.8 27.5h0m.2 8.4h0m.4-30.8h0m.4 37.5h0m.1 39.3h0m0 9h0m.1 22.2h0m.4-80.6h0m.3 38.3h0m.2-85.4h0m.1 24.7h0m.4-16.7h0m.1 73.8h0m.2-58.9h0m.4 55h0m.2-59.1h0m.4 3.9h0m.2 69.6h0m.1-30.7h0m0 33.1h0m.1 9.9h0m0-60.7h0m.3-11.7h0m.1 30.9h0m.1 30.2h0m.5 4.5h0m.4-85.1h0m.6 75.3h0m.1-33h0m.1 42.2h0m0-43.6h0m.1-42.5h0m.3-4.6h0m0 19.8h0m.2-16.3h0m0-2.4h0m.1 90.8h0m.1-28.1h0m.2-12.2h0m0-7.6h0m.3 52.1h0m.4-82.5h0m.3 10.3h0m.1 40.2h0m.3-34.2h0m.2-1.7h0m.3 75.9h0m.1-107.9h0m.4 100.9h0m0-76.7h0m.2 24.1h0m0 43.3h0m.7 9.8h0m.5-11.2h0m.4-49.9h0m.1-41.2h0m.1 81.7h0m.1-19.3h0m.4-36h0m1.7 23.9h0m.1-48.6h0m.1 7.3h0m.5 99h0m.7-47.7h0m0-60.3h0m.5 65.2h0m.4 21.9h0m.2 38.5h0m0-69.3h0m.3 26.6h0m.2-73.2h0m.5 90h0m.6-66.4h0m0-26.5h0m.3 53.1h0m.2-30.6h0m.6-10h0m.1 53.2h0m1-11.3h0m.3 61.7h0m.4-84.9h0m.1-29.8h0m.3 41.1h0m1.7 15.7h0m.3 36h0m.1-72.8h0m.1 85h0m.2-21h0m0-86.1h0m0 99.9h0m.3-61.9h0m1.3 48.3h0m0 20.2h0m0-116.4h0m.4 30.8h0m.5-17.1h0m.2 101.6h0m.3-21.8h0m.3-46.3h0m0-51.4h0m.1 95.1h0m.3-19h0m0-60.9h0m.6 29.1h0m.2 23.5h0m.5 2.2h0m.1-44.1h0m.3 63.2h0m.7-22.8h0m.1-20.9h0m1-37.1h0m.4 82.5h0m.5-29.2h0m.2 61.6h0m.9-119.5h0m.4 95.9h0m0-68.3h0m.1 74.9h0m1-44.3h0m.2-27.3h0m.7 69.2h0m.4-103.1h0m.5 45.5h0m.8 62.7h0m1.5-105.5h0m.6 79.7h0m1-48h0m.3 60.1h0m.3 14.8h0m1.3-90.7h0m2.4 30.1h0m.1-28.3h0m.5 3h0m1.8 9.7h0m3.8 11.9h0m.4 8.6h0m.8-69.8h0m.3 3.4h0" stroke="#fff" stroke-width="2.5" stroke-opacity="1.0"/>
<path d="M97.5 394.1h0m3 26.1h0m7.5-38.4h0m0 46.2h0m5.2-24.3h0m.9 16.6h0m1.4-19.1h0m2.5-9.9h0m.5-15h0m1.1 28.5h0m.1-40.1h0m2.8 5.3h0m1.6 86.7h0m.7-54.7h0m.8-38h0m.2 7.4h0m.7 66.4h0m.7-67.1h0m.1 18.6h0m2.1-9h0m.1-4.7h0m.2 13.5h0m.5-24.6h0m.1 2.6h0m.1 103.2h0m0-108.2h0m.6 30h0m0-21.5h0m.2 10.9h0m.4 72.6h0m1 5.5h0m.2-85.3h0m0 57.6h0m.1-1.8h0m.2-74.7h0m.1 125.8h0m.1-23.7h0m.1-95.1h0m.6-4h0m.1 21.5h0m.4 14.3h0m.2-30.1h0m.7 54h0m.8-9.7h0m0-37.1h0m0 107.9h0m1.1-28.8h0m.2-80.7h0m.1 68.4h0m.1-3.7h0m.2-11.2h0m.1-38.4h0m.3 67.7h0m0-56.6h0m.1-6.8h0m0 15.6h0m.1-42.7h0m.9 60.1h0m0 47.1h0m.2-110.2h0m.1 7.3h0m.3-1.3h0m.1 45.1h0m.3 74.4h0m.8-53.6h0m.1-4.7h0m.1-48.7h0m.5 101.9h0m.1-97.5h0m0 89.3h0m.1-39h0m.1 2.6h0m.8-34.4h0m0 21.4h0m.1-8.2h0m0-37h0m.8 27.5h0m.2 8.4h0m.4-30.8h0m.4 37.5h0m.1 39.3h0m0 9h0m.1 22.2h0m.4-80.6h0m.3 38.3h0m.2-85.4h0m.1 24.7h0m.4-16.7h0m.1 73.8h0m.2-58.9h0m.4 55h0m.2-59.1h0m.4 3.9h0m.2 69.6h0m.1-30.7h0m0 33.1h0m.1 9.9h0m0-60.7h0m.3-11.7h0m.1 30.9h0m.1 30.2h0m.5 4.5h0m.4-85.1h0m.6 75.3h0m.1-33h0m.1 42.2h0m0-43.6h0m.1-42.5h0m.3-4.6h0m0 19.8h0m.2-16.3h0m0-2.4h0m.1 90.8h0m.1-28.1h0m.2-12.2h0m0-7.6h0m.3 52.1h0m.4-82.5h0m.3 10.3h0m.1 40.2h0m.3-34.2h0m.2-1.7h0m.3 75.9h0m.1-107.9h0m.4 100.9h0m0-76.7h0m.2 24.1h0m0 43.3h0m.7 9.8h0m.5-11.2h0m.4-49.9h0m.1-41.2h0m.1 81.7h0m.1-19.3h0m.4-36h0m1.7 23.9h0m.1-48.6h0m.1 7.3h0m.5 99h0m.7-47.7h0m0-60.3h0m.5 65.2h0m.4 21.9h0m.2 38.5h0m0-69.3h0m.3 26.6h0m.2-73.2h0m.5 90h0m.6-66.4h0m0-26.5h0m.3 53.1h0m.2-30.6h0m.6-10h0m.1 53.2h0m1-11.3h0m.3 61.7h0m.4-84.9h0m.1-29.8h0m.3 41.1h0m1.7 15.7h0m.3 36h0m.1-72.8h0m.1 85h0m.2-21h0m0-86.1h0m0 99.9h0m.3-61.9h0m1.3 48.3h0m0 20.2h0m0-116.4h0m.4 30.8h0m.5-17.1h0m.2 101.6h0m.3-21.8h0m.3-46.3h0m0-51.4h0m.1 95.1h0m.3-19h0m0-60.9h0m.6 29.1h0m.2 23.5h0m.5 2.2h0m.1-44.1h0m.3 63.2h0m.7-22.8h0m.1-20.9h0m1-37.1h0m.4 82.5h0m.5-29.2h0m.2 61.6h0m.9-119.5h0m.4 95.9h0m0-68.3h0m.1 74.9h0m1-44.3h0m.2-27.3h0m.7 69.2h0m.4-103.1h0m.5 45.5h0m.8 62.7h0m1.5-105.5h0m.6 79.7h0m1-48h0m.3 60.1h0m.3 14.8h0m1.3-90.7h0m2.4 30.1h0m.1-28.3h0m.5 3h0m1.8 9.7h0m3.8 11.9h0m.4 8.6h0m.8-69.8h0m.3 3.4h0" stroke="#4791b4" stroke-width="2"/>
<path d="M101 392.6h0m5.9 20.4h0m0 20.3h0m4.1 1.1h0m.1-63.6h0m1.5 14.6h0m1.5-18.5h0m.7 16.5h0m.6-2.4h0m.8 8.5h0m.3-21.2h0m1.3-4.5h0m1.3 97.9h0m.6-77.1h0m.7-25.4h0m.8 8.1h0m.3 57.2h0m.2-61h0m.4 98.6h0m1.4-94.3h0m.7 17.7h0m.2 39h0m.2-34.8h0m.7 83.4h0m.8-113.7h0m.3 2.1h0m.2 92.5h0m.8 3.4h0m1.8-44.4h0m.1 46.5h0m.3-100.9h0m0 2h0m1.1 73.3h0m.2-56.2h0m.2-3.4h0m.7 101.4h0m.2-47.2h0m.9-6.6h0m.1-52.3h0m.6 14.9h0m.2 60.8h0m.5-30.4h0m.2-23.2h0m.1 80.8h0m.1-88.3h0m0 92h0m.3-89.3h0m.3 3.4h0m.1-30.7h0m.5 63.1h0m.5-58.6h0m.3 90.4h0m.2 14h0m0 5.8h0m.2-56.4h0m0 26.8h0m.1-78.9h0m.4 15.5h0m.4 95.7h0m.1-63h0m.8-15.9h0m.6 28.5h0m.4 27.5h0m.3-97h0m.4 50.6h0m.1-47.1h0m.1 33.4h0m.5-11.1h0m.1 29.2h0m.2 50.6h0m.2-46.3h0m.4 22.3h0m.2 29.6h0m0-74.5h0m.4 18.6h0m.4 57.4h0m.1 7.6h0m.5-119.2h0m0 76.8h0m.4 5.8h0m0-40.4h0m.1 27.9h0m.1 25.5h0m0-91.4h0m1 10.8h0m.2-23.1h0m.2 33h0m.1-3.4h0m0 52.2h0m.1-2.5h0m0-12.9h0m.3-53h0m.2 114.6h0m0-102.5h0m.7 18.8h0m.3 65.2h0m0-6.3h0m0-67.2h0m0 36.2h0m.1-39.4h0m.3 36.8h0m.2 9.7h0m.4-27.2h0m0-44.4h0m.3 61.4h0m.2-40.3h0m.1 82.3h0m.1 8.3h0m.2 1.8h0m.1-84.3h0m.3-15h0m.2 117h0m.2-14.1h0m.1-82.5h0m0 44.1h0m.1-18.3h0m0-17.2h0m.2-19.2h0m.3 22.8h0m.2 39.5h0m1 15.5h0m0 14.4h0m.2-70.1h0m.9-26.4h0m.2-7.7h0m.4 82.5h0m0-25.8h0m0-44.2h0m.2-27h0m.4 62h0m0 19.8h0m.1-50.8h0m.2 33.6h0m.6 47.6h0m0-84.1h0m.3 7.8h0m0 80.1h0m.8-103.7h0m.2 122.4h0m0-109.1h0m.3 37.5h0m.2-11.5h0m.9 50.8h0m.6-53.5h0m.1 69.2h0m0-94.4h0m.3 75.9h0m.2 20.1h0m.2-61.5h0m.4 20.6h0m.2-64.1h0m.3 96.8h0m.3 4.2h0m.1-40h0m0 26h0m.6-65.5h0m.8 7.1h0m.2 35.6h0m.3-28.7h0m.1 61.9h0m.2-51.6h0m.2 37.8h0m.3-59.3h0m.1 63.2h0m.1-107.6h0m.3 84.2h0m.3-12.5h0m.2 62.5h0m.1-8.4h0m.3-17.8h0m1-6.2h0m.2-35.9h0m.2-45.2h0m.1 17.6h0m.2-21.4h0m0 5.9h0m.1 116.3h0m.2-124.6h0m.6 51.1h0m.9-26h0m0 73.5h0m.3-83.5h0m.1 53.1h0m1.2-10.4h0m0 24.6h0m.4 26.6h0m0-10.3h0m.1-1.4h0m.2-50.9h0m.8 55.6h0m.2-20.4h0m.3-24.3h0m.1-61.2h0m.9 36.1h0m.3-29.5h0m.3 111.1h0m.7-59h0m.3 12h0m.2-18.4h0m.3 73.1h0m1.7-18h0m1-61.8h0m.3-38.9h0m1.7 102.8h0m.5-85.5h0m.1 65h0m2.3 18.5h0m.5-55.3h0m2.2 60.3h0m1.7-63h0m.3 5.6h0m4.5-11.3h0m.8 52.9h0m7.8-54.2h0" stroke="#fff" stroke-width="2.5" stroke-opacity="1.0"/>
<path d="M101 392.6h0m5.9 20.4h0m0 20.3h0m4.1 1.1h0m.1-63.6h0m1.5 14.6h0m1.5-18.5h0m.7 16.5h0m.6-2.4h0m.8 8.5h0m.3-21.2h0m1.3-4.5h0m1.3 97.9h0m.6-77.1h0m.7-25.4h0m.8 8.1h0m.3 57.2h0m.2-61h0m.4 98.6h0m1.4-94.3h0m.7 17.7h0m.2 39h0m.2-34.8h0m.7 83.4h0m.8-113.7h0m.3 2.1h0m.2 92.5h0m.8 3.4h0m1.8-44.4h0m.1 46.5h0m.3-100.9h0m0 2h0m1.1 73.3h0m.2-56.2h0m.2-3.4h0m.7 101.4h0m.2-47.2h0m.9-6.6h0m.1-52.3h0m.6 14.9h0m.2 60.8h0m.5-30.4h0m.2-23.2h0m.1 80.8h0m.1-88.3h0m0 92h0m.3-89.3h0m.3 3.4h0m.1-30.7h0m.5 63.1h0m.5-58.6h0m.3 90.4h0m.2 14h0m0 5.8h0m.2-56.4h0m0 26.8h0m.1-78.9h0m.4 15.5h0m.4 95.7h0m.1-63h0m.8-15.9h0m.6 28.5h0m.4 27.5h0m.3-97h0m.4 50.6h0m.1-47.1h0m.1 33.4h0m.5-11.1h0m.1 29.2h0m.2 50.6h0m.2-46.3h0m.4 22.3h0m.2 29.6h0m0-74.5h0m.4 18.6h0m.4 57.4h0m.1 7.6h0m.5-119.2h0m0 76.8h0m.4 5.8h0m0-40.4h0m.1 27.9h0m.1 25.5h0m0-91.4h0m1 10.8h0m.2-23.1h0m.2 33h0m.1-3.4h0m0 52.2h0m.1-2.5h0m0-12.9h0m.3-53h0m.2 114.6h0m0-102.5h0m.7 18.8h0m.3 65.2h0m0-6.3h0m0-67.2h0m0 36.2h0m.1-39.4h0m.3 36.8h0m.2 9.7h0m.4-27.2h0m0-44.4h0m.3 61.4h0m.2-40.3h0m.1 82.3h0m.1 8.3h0m.2 1.8h0m.1-84.3h0m.3-15h0m.2 117h0m.2-14.1h0m.1-82.5h0m0 44.1h0m.1-18.3h0m0-17.2h0m.2-19.2h0m.3 22.8h0m.2 39.5h0m1 15.5h0m0 14.4h0m.2-70.1h0m.9-26.4h0m.2-7.7h0m.4 82.5h0m0-25.8h0m0-44.2h0m.2-27h0m.4 62h0m0 19.8h0m.1-50.8h0m.2 33.6h0m.6 47.6h0m0-84.1h0m.3 7.8h0m0 80.1h0m.8-103.7h0m.2 122.4h0m0-109.1h0m.3 37.5h0m.2-11.5h0m.9 50.8h0m.6-53.5h0m.1 69.2h0m0-94.4h0m.3 75.9h0m.2 20.1h0m.2-61.5h0m.4 20.6h0m.2-64.1h0m.3 96.8h0m.3 4.2h0m.1-40h0m0 26h0m.6-65.5h0m.8 7.1h0m.2 35.6h0m.3-28.7h0m.1 61.9h0m.2-51.6h0m.2 37.8h0m.3-59.3h0m.1 63.2h0m.1-107.6h0m.3 84.2h0m.3-12.5h0m.2 62.5h0m.1-8.4h0m.3-17.8h0m1-6.2h0m.2-35.9h0m.2-45.2h0m.1 17.6h0m.2-21.4h0m0 5.9h0m.1 116.3h0m.2-124.6h0m.6 51.1h0m.9-26h0m0 73.5h0m.3-83.5h0m.1 53.1h0m1.2-10.4h0m0 24.6h0m.4 26.6h0m0-10.3h0m.1-1.4h0m.2-50.9h0m.8 55.6h0m.2-20.4h0m.3-24.3h0m.1-61.2h0m.9 36.1h0m.3-29.5h0m.3 111.1h0m.7-59h0m.3 12h0m.2-18.4h0m.3 73.1h0m1.7-18h0m1-61.8h0m.3-38.9h0m1.7 102.8h0m.5-85.5h0m.1 65h0m2.3 18.5h0m.5-55.3h0m2.2 60.3h0m1.7-63h0m.3 5.6h0m4.5-11.3h0m.8 52.9h0m7.8-54.2h0" stroke="#4791b4" stroke-width="2"/>
<path d="M96.3 400.4h0m8.6-6h0m0 14.2h0m3-24h0m4.2-4.4h0m1.8 10.8h0m4.5 2.7h0m.8 55.3h0m.3-76.1h0m.3 13.9h0m.6 5.2h0m2.1 18.9h0m.2-24.7h0m1.2-9h0m.3 42.5h0m.5-36.5h0m2.4 37.8h0m.4-21.8h0m.1 34.7h0m.1 8h0m.1-69.4h0m.1 13.4h0m1.1-20.5h0m.3-9.5h0m.1 123.1h0m.8-106.8h0m.7 53.5h0m1.7-37h0m.1-8.2h0m.3 61.2h0m.1-81.4h0m0 11h0m.1 76.4h0m.3-57.8h0m.1-21.7h0m.5 31.8h0m.9-46.3h0m.7 76.4h0m.1-36.5h0m.7 69.3h0m.2-38.7h0m1.1 35.4h0m0-2.2h0m.1-48.7h0m0-44.5h0m0 51.9h0m.3-4h0m0-33h0m.1 48.9h0m.1 60h0m0-16.2h0m.4-91.8h0m.4-16.1h0m.2 97.7h0m.5-92.4h0m.2 98.4h0m.4-100.3h0m.3 9.4h0m.1 75h0m.4 41.3h0m.4-91.8h0m.5 40.4h0m.8-7.9h0m.1 48.4h0m0-111.8h0m.1 2.6h0m.2 16.7h0m0-3.9h0m.3-17.6h0m.3 24h0m.1-25.4h0m.1 102.1h0m.1-91.4h0m.5 45.3h0m.3 22.4h0m0-31.8h0m0-47.5h0m0 76.2h0m.6-45.6h0m.4 69.7h0m0 10.5h0m.5-3.8h0m0-10.3h0m.6-88.7h0m.3 93.9h0m.3-3.4h0m.1-91.8h0m.2 64.4h0m.2 8.6h0m.3-9.9h0m.4 3.4h0m.1 23.6h0m.1-93.7h0m.4 54.7h0m0-69.2h0m.1 35h0m.1-9.6h0m0-9.8h0m1 25.7h0m.2 27.5h0m.3-1.7h0m.2-47.9h0m1 93.7h0m.1-51.9h0m.1 7.2h0m.1-39.2h0m.3 36.5h0m.3 50.1h0m0-76.9h0m.4 30.4h0m.6-27.1h0m.2-25h0m.4 85.6h0m.1 24.9h0m0-17.4h0m.1-13h0m.1 17.9h0m.2 6.9h0m.2 2h0m0-77.4h0m.3-31.8h0m.1 60.4h0m.2 34.8h0m.3-88.2h0m.2 104.1h0m.2-8.1h0m0-80.9h0m.1 4.5h0m.3 43.7h0m.1-34.1h0m0 2.7h0m.3-38.8h0m.1 52.3h0m.3 60.7h0m.1-94.8h0m.1 79.7h0m.3-51.1h0m0-20.5h0m.4 21.6h0m0-7.3h0m.1-49h0m.1 97.6h0m.1-52.9h0m0 13.3h0m.1-69.8h0m.4 27h0m.2 25.9h0m0 52.6h0m.3-72.7h0m.3 11.3h0m.1 33.9h0m.2 34.5h0m.3 30.8h0m.3-116.3h0m.2-12.7h0m.6 97.8h0m.7-43.7h0m.1 29h0m.3-19h0m.4-16.2h0m.2 79h0m.1-105.6h0m.4 3h0m.2 27.6h0m.2-46.8h0m0 91.8h0m1.1-17h0m.1 25.1h0m.1-21.8h0m.1 13.9h0m.2-64.1h0m.5 55.7h0m.7-95.9h0m0 25.7h0m.2 16.4h0m.8 69.1h0m.3-91h0m.3 16.4h0m.3-5.1h0m.9 38.6h0m1.8 32.4h0m.5-85.7h0m1.2 76.9h0m1.9 20.8h0m.3-18.3h0m.1-71.4h0m.8 29.4h0m1.4-39.2h0m1 96h0m.5-79.7h0m0 21.9h0m.4 28.6h0m.6-18.8h0m.1-28.6h0m.2 31.9h0m.8-46h0m.3 72.1h0m.6-45.5h0m.4 21.8h0m1.5-7h0m.7 37.4h0m.2-76.7h0m1.2 10h0m2.4 7.4h0m.9 30.4h0m.6-18.4h0m.2-8h0m.3 45.9h0m.4-22.3h0m1.5-50.7h0m.5 12.7h0m.2-43.6h0m1.4 38.2h0m2.3-37.9h0" stroke="#fff" stroke-width="2.5" stroke-opacity="1.0"/>
<path d="M96.3 400.4h0m8.6-6h0m0 14.2h0m3-24h0m4.2-4.4h0m1.8 10.8h0m4.5 2.7h0m.8 55.3h0m.3-76.1h0m.3 13.9h0m.6 5.2h0m2.1 18.9h0m.2-24.7h0m1.2-9h0m.3 42.5h0m.5-36.5h0m2.4 37.8h0m.4-21.8h0m.1 34.7h0m.1 8h0m.1-69.4h0m.1 13.4h0m1.1-20.5h0m.3-9.5h0m.1 123.1h0m.8-106.8h0m.7 53.5h0m1.7-37h0m.1-8.2h0m.3 61.2h0m.1-81.4h0m0 11h0m.1 76.4h0m.3-57.8h0m.1-21.7h0m.5 31.8h0m.9-46.3h0m.7 76.4h0m.1-36.5h0m.7 69.3h0m.2-38.7h0m1.1 35.4h0m0-2.2h0m.1-48.7h0m0-44.5h0m0 51.9h0m.3-4h0m0-33h0m.1 48.9h0m.1 60h0m0-16.2h0m.4-91.8h0m.4-16.1h0m.2 97.7h0m.5-92.4h0m.2 98.4h0m.4-100.3h0m.3 9.4h0m.1 75h0m.4 41.3h0m.4-91.8h0m.5 40.4h0m.8-7.9h0m.1 48.4h0m0-111.8h0m.1 2.6h0m.2 16.7h0m0-3.9h0m.3-17.6h0m.3 24h0m.1-25.4h0m.1 102.1h0m.1-91.4h0m.5 45.3h0m.3 22.4h0m0-31.8h0m0-47.5h0m0 76.2h0m.6-45.6h0m.4 69.7h0m0 10.5h0m.5-3.8h0m0-10.3h0m.6-88.7h0m.3 93.9h0m.3-3.4h0m.1-91.8h0m.2 64.4h0m.2 8.6h0m.3-9.9h0m.4 3.4h0m.1 23.6h0m.1-93.7h0m.4 54.7h0m0-69.2h0m.1 35h0m.1-9.6h0m0-9.8h0m1 25.7h0m.2 27.5h0m.3-1.7h0m.2-47.9h0m1 93.7h0m.1-51.9h0m.1 7.2h0m.1-39.2h0m.3 36.5h0m.3 50.1h0m0-76.9h0m.4 30.4h0m.6-27.1h0m.2-25h0m.4 85.6h0m.1 24.9h0m0-17.4h0m.1-13h0m.1 17.9h0m.2 6.9h0m.2 2h0m0-77.4h0m.3-31.8h0m.1 60.4h0m.2 34.8h0m.3-88.2h0m.2 104.1h0m.2-8.1h0m0-80.9h0m.1 4.5h0m.3 43.7h0m.1-34.1h0m0 2.7h0m.3-38.8h0m.1 52.3h0m.3 60.7h0m.1-94.8h0m.1 79.7h0m.3-51.1h0m0-20.5h0m.4 21.6h0m0-7.3h0m.1-49h0m.1 97.6h0m.1-52.9h0m0 13.3h0m.1-69.8h0m.4 27h0m.2 25.9h0m0 52.6h0m.3-72.7h0m.3 11.3h0m.1 33.9h0m.2 34.5h0m.3 30.8h0m.3-116.3h0m.2-12.7h0m.6 97.8h0m.7-43.7h0m.1 29h0m.3-19h0m.4-16.2h0m.2 79h0m.1-105.6h0m.4 3h0m.2 27.6h0m.2-46.8h0m0 91.8h0m1.1-17h0m.1 25.1h0m.1-21.8h0m.1 13.9h0m.2-64.1h0m.5 55.7h0m.7-95.9h0m0 25.7h0m.2 16.4h0m.8 69.1h0m.3-91h0m.3 16.4h0m.3-5.1h0m.9 38.6h0m1.8 32.4h0m.5-85.7h0m1.2 76.9h0m1.9 20.8h0m.3-18.3h0m.1-71.4h0m.8 29.4h0m1.4-39.2h0m1 96h0m.5-79.7h0m0 21.9h0m.4 28.6h0m.6-18.8h0m.1-28.6h0m.2 31.9h0m.8-46h0m.3 72.1h0m.6-45.5h0m.4 21.8h0m1.5-7h0m.7 37.4h0m.2-76.7h0m1.2 10h0m2.4 7.4h0m.9 30.4h0m.6-18.4h0m.2-8h0m.3 45.9h0m.4-22.3h0m1.5-50.7h0m.5 12.7h0m.2-43.6h0m1.4 38.2h0m2.3-37.9h0" stroke="#4791b4" stroke-width="2"/>
<path d="M93.4 396.7h0m7.4 17.4h0m7.2-37h0m1.3 32.1h0m1.5 3.1h0m2.1-17.4h0m1.5-22.4h0m0 3.1h0m4.6-9h0m2.1 5.1h0m.7 50h0m0 50.7h0m.1-32.3h0m.6-46.6h0m1.2 43.1h0m.3-74.4h0m2.1 67h0m.9-32.7h0m.5-30.1h0m0 10.9h0m.9 6.9h0m.3 90.8h0m.6-82.3h0m.1 37.8h0m.4-22.9h0m.1 60.1h0m2.3-116.7h0m1.2 73.2h0m.9-38.4h0m.5-7h0m.1-28.2h0m1 23.9h0m.1 45.9h0m.2-18.8h0m2.3-35.5h0m1 24h0m0-16.7h0m.1 47.2h0m.3-42.7h0m.1 50h0m.2 1.4h0m.1-26.5h0m.3-18.7h0m0-20.8h0m.3 102.6h0m0-52.3h0m0 20h0m.3 2.1h0m0 17.4h0m1.2-29.8h0m.2-60.9h0m.2 56.5h0m.6-2.9h0m.3-40.3h0m.4 67.6h0m0-26.1h0m.1 35h0m.6-46.8h0m.4-1.9h0m.3-35.2h0m.1 47h0m.2-27.4h0m.3 25.7h0m.2 57.6h0m0-68.5h0m.3 30.6h0m.2-24.9h0m.5-20.9h0m.2 40.8h0m0-24.6h0m.2 46.4h0m.3-86h0m.6 101.4h0m.2-79.7h0m.1-36.9h0m.1 63.9h0m.3 13.4h0m.3-23h0m.1-25.8h0m.1 36.4h0m.1 5.5h0m.2 23h0m.2 20.4h0m.1-5.3h0m.4-43.2h0m.1-30.8h0m0 47.3h0m.1 48.1h0m0-72.5h0m.1-3h0m.5-53h0m.3 126.3h0m.2-71.1h0m.2-33.4h0m.3 13.3h0m0 35.6h0m.1 12.8h0m.1-7.9h0m0-35.9h0m.1 54.3h0m0 38.8h0m.4-65.8h0m.1 18.6h0m.1-29.5h0m.1-14.6h0m0-28.8h0m0 111.2h0m0-74.5h0m.2 63.2h0m.2-96.4h0m0 109.2h0m.6-97.6h0m.3 3.9h0m.1 65.2h0m0-79.5h0m.1 72.9h0m.3-70.1h0m.4 54.4h0m.2-26.6h0m0 64.9h0m.2-6.8h0m0-77.2h0m.1 74.8h0m.3-45.1h0m0 37.9h0m.3 20.6h0m.1 6h0m.2-87.4h0m0 24.2h0m0-57.1h0m.3 95.5h0m.2 17.8h0m.4-67h0m.1-24.9h0m.5 37.8h0m0 20.5h0m.4-12.9h0m.2 26.8h0m.4-25.7h0m.1-9.8h0m0 11.1h0m.3 22.6h0m0-78.2h0m.2-4.6h0m.2 9.6h0m.1 51.3h0m.9 49.2h0m.2-65.6h0m0-11.1h0m.3-28.1h0m0 58.7h0m.6-6.7h0m.2-42h0m.2 52.9h0m.7-26h0m.4 43.8h0m.2-16.6h0m.6-23h0m.5-10.5h0m.1 60.9h0m.3 5.3h0m.2-78.7h0m.3 55.3h0m.2 15.1h0m0-77.3h0m.1 22.2h0m0 66.1h0m.5-18.3h0m.5-23.6h0m.5 46.5h0m.4 1.7h0m.2-25.4h0m.2-85.2h0m.1 112.1h0m.1-19.8h0m0 23.3h0m.5-120.6h0m.6 92h0m.1 34.2h0m.4-105.6h0m.3-9.7h0m.2 7.6h0m0 71.5h0m.2-82.6h0m.7 24.4h0m.2 86.7h0m1.7-97.3h0m1.3 49.6h0m.6 11.5h0m1-18.6h0m.9 29.6h0m0 13.2h0m.5-49.5h0m.9 66.9h0m1.3-86.6h0m1.4 56.7h0m.4-15.6h0m.8-62.9h0m.1 14.9h0m1.7-6.1h0m0-14.7h0m.3-5.2h0m.1 73.4h0m.1-37h0m.4 61.9h0m1.9-7.8h0m1-86.3h0m.6 17.1h0m.3 19.7h0m4.4-58.2h0m1.2 62.4h0m1.5 6.2h0m.7-29.2h0m.3 20.6h0" stroke="#fff" stroke-width="2.5" stroke-opacity="1.0"/>
<path d="M93.4 396.7h0m7.4 17.4h0m7.2-37h0m1.3 32.1h0m1.5 3.1h0m2.1-17.4h0m1.5-22.4h0m0 3.1h0m4.6-9h0m2.1 5.1h0m.7 50h0m0 50.7h0m.1-32.3h0m.6-46.6h0m1.2 43.1h0m.3-74.4h0m2.1 67h0m.9-32.7h0m.5-30.1h0m0 10.9h0m.9 6.9h0m.3 90.8h0m.6-82.3h0m.1 37.8h0m.4-22.9h0m.1 60.1h0m2.3-116.7h0m1.2 73.2h0m.9-38.4h0m.5-7h0m.1-28.2h0m1 23.9h0m.1 45.9h0m.2-18.8h0m2.3-35.5h0m1 24h0m0-16.7h0m.1 47.2h0m.3-42.7h0m.1 50h0m.2 1.4h0m.1-26.5h0m.3-18.7h0m0-20.8h0m.3 102.6h0m0-52.3h0m0 20h0m.3 2.1h0m0 17.4h0m1.2-29.8h0m.2-60.9h0m.2 56.5h0m.6-2.9h0m.3-40.3h0m.4 67.6h0m0-26.1h0m.1 35h0m.6-46.8h0m.4-1.9h0m.3-35.2h0m.1 47h0m.2-27.4h0m.3 25.7h0m.2 57.6h0m0-68.5h0m.3 30.6h0m.2-24.9h0m.5-20.9h0m.2 40.8h0m0-24.6h0m.2 46.4h0m.3-86h0m.6 101.4h0m.2-79.7h0m.1-36.9h0m.1 63.9h0m.3 13.4h0m.3-23h0m.1-25.8h0m.1 36.4h0m.1 5.5h0m.2 23h0m.2 20.4h0m.1-5.3h0m.4-43.2h0m.1-30.8h0m0 47.3h0m.1 48.1h0m0-72.5h0m.1-3h0m.5-53h0m.3 126.3h0m.2-71.1h0m.2-33.4h0m.3 13.3h0m0 35.6h0m.1 12.8h0m.1-7.9h0m0-35.9h0m.1 54.3h0m0 38.8h0m.4-65.8h0m.1 18.6h0m.1-29.5h0m.1-14.6h0m0-28.8h0m0 111.2h0m0-74.5h0m.2 63.2h0m.2-96.4h0m0 109.2h0m.6-97.6h0m.3 3.9h0m.1 65.2h0m0-79.5h0m.1 72.9h0m.3-70.1h0m.4 54.4h0m.2-26.6h0m0 64.9h0m.2-6.8h0m0-77.2h0m.1 74.8h0m.3-45.1h0m0 37.9h0m.3 20.6h0m.1 6h0m.2-87.4h0m0 24.2h0m0-57.1h0m.3 95.5h0m.2 17.8h0m.4-67h0m.1-24.9h0m.5 37.8h0m0 20.5h0m.4-12.9h0m.2 26.8h0m.4-25.7h0m.1-9.8h0m0 11.1h0m.3 22.6h0m0-78.2h0m.2-4.6h0m.2 9.6h0m.1 51.3h0m.9 49.2h0m.2-65.6h0m0-11.1h0m.3-28.1h0m0 58.7h0m.6-6.7h0m.2-42h0m.2 52.9h0m.7-26h0m.4 43.8h0m.2-16.6h0m.6-23h0m.5-10.5h0m.1 60.9h0m.3 5.3h0m.2-78.7h0m.3 55.3h0m.2 15.1h0m0-77.3h0m.1 22.2h0m0 66.1h0m.5-18.3h0m.5-23.6h0m.5 46.5h0m.4 1.7h0m.2-25.4h0m.2-85.2h0m.1 112.1h0m.1-19.8h0m0 23.3h0m.5-120.6h0m.6 92h0m.1 34.2h0m.4-105.6h0m.3-9.7h0m.2 7.6h0m0 71.5h0m.2-82.6h0m.7 24.4h0m.2 86.7h0m1.7-97.3h0m1.3 49.6h0m.6 11.5h0m1-18.6h0m.9 29.6h0m0 13.2h0m.5-49.5h0m.9 66.9h0m1.3-86.6h0m1.4 56.7h0m.4-15.6h0m.8-62.9h0m.1 14.9h0m1.7-6.1h0m0-14.7h0m.3-5.2h0m.1 73.4h0m.1-37h0m.4 61.9h0m1.9-7.8h0m1-86.3h0m.6 17.1h0m.3 19.7h0m4.4-58.2h0m1.2 62.4h0m1.5 6.2h0m.7-29.2h0m.3 20.6h0" stroke="#4791b4" stroke-width="2"/>
<path d="M100.5 417.5h0m2.9-.7h0m2.3-26.5h0m5.1-6.7h0m1.9 14.9h0m.2-10.5h0m2 24.1h0m2.1-40.1h0m.1 27.3h0m.6 20.5h0m.7 38.5h0m.1-61.8h0m.2-14.1h0m.7-4.4h0m.9 49.1h0m.9-28.2h0m.3-13.9h0m0-6.8h0m.1 1.9h0m1.4 3.8h0m1.3-4.7h0m.8-3.7h0m.6-2.6h0m.1 20.3h0m.5 22.1h0m0 46.8h0m.4-56h0m.3-32.2h0m.7 35.8h0m1.1-8.3h0m0 63.3h0m.1-73.6h0m1.1 57.7h0m0-27.5h0m.7-25.8h0m.4 50.9h0m.4-82.6h0m1.8 44h0m.1-9.6h0m.2 86.2h0m.9-109.9h0m.1 13.8h0m.1 39.5h0m.3-59.1h0m.1 27.9h0m.2 35.7h0m.1-54.5h0m.5 81.9h0m.2-77.1h0m.3 12.7h0m.2 1.8h0m.1-13.3h0m.2-4.8h0m.5-16.1h0m0 39.9h0m.1-31.7h0m.3 12.4h0m.4-6.9h0m.1 44.5h0m.2-65.3h0m1 89.7h0m.3-93.5h0m0 107.4h0m.3-79.1h0m.7 24.6h0m0 70.6h0m.2-53.1h0m.8-42.6h0m0 76.3h0m.4-89.6h0m.1 10.9h0m.3-21.2h0m.1 31.7h0m.2-7.4h0m0 73.6h0m.1-17.5h0m.2-16.3h0m.2-48.8h0m0 39.7h0m.3 56.4h0m.1-73.8h0m.2 80.4h0m0-25.8h0m.1 38h0m0-121.1h0m0 4.3h0m.1 63.7h0m.4-8h0m0-45.7h0m.1 70.7h0m.1 10h0m.3-25.8h0m.9-45.5h0m.4 70.9h0m0-8.5h0m.2-80h0m.4 52.3h0m.1-11.3h0m0 19.9h0m.2-1.5h0m.7-68.4h0m.3 111.1h0m.7-51.6h0m.2-38.5h0m0 69.5h0m.2-68.4h0m.1 47h0m.1 24.6h0m.4-27.4h0m.4-3.6h0m.2-27.2h0m.2-4.4h0m.1 41h0m.2-7.6h0m.1-35.8h0m0 79.8h0m0-92h0m.1-21.8h0m.3 27.6h0m0 87.9h0m.1-41.2h0m.4-37.4h0m.3 87h0m.1-32.7h0m.4 29.7h0m0-65.4h0m.5 42.5h0m.9-21.4h0m.1-64.7h0m.2-8.7h0m0 61.5h0m0 17.3h0m.4-62.5h0m.3 109.6h0m.8-129.8h0m0 81.3h0m.2-62.6h0m.3 19h0m.1 33.9h0m0-69.6h0m.1 11.7h0m.4 9.2h0m.4 95.3h0m.2-27.3h0m.2-24.2h0m.2-29.6h0m.1 56.5h0m.5-80h0m.3 94.7h0m.1-78.4h0m.2 66.4h0m.1-61.6h0m.2 70.6h0m0 4h0m.1 20.8h0m0-46.9h0m.3-31.3h0m0-56.1h0m.5 131.8h0m.1-7.7h0m.7-72.7h0m0 58.9h0m.1-8.4h0m.1-53.2h0m0 36.9h0m.2-21.3h0m.2 59.2h0m.3-88.4h0m.5-31.7h0m.2 87.7h0m.3-68.3h0m.2 96.4h0m0-90.9h0m0-27.6h0m.3 96.6h0m.1-37.1h0m.2 55.3h0m.1-1.3h0m.2-25.2h0m.2 11.4h0m.1-62.4h0m.2 29.4h0m0-2.8h0m.2-36.4h0m.5 23.7h0m.1 45.6h0m.4 15.9h0m.3 16.6h0m.2-10.9h0m1-95h0m.4 28.6h0m.2 39.8h0m.2-48.4h0m0 15.4h0m.6 69.6h0m.1-109h0m.1 69.5h0m1.3 29.8h0m.3-37.4h0m.8 22.5h0m.1-69.8h0m.5 33h0m.4-7.6h0m1.2-57.8h0m1.8 22.3h0m4-14.3h0m3.1 .2h0m1.6 100.3h0m2.7-43.1h0m4-50.4h0m1.4 80.5h0m.9-41.6h0m4.1-20.4h0m.1 6.6h0" stroke="#fff" stroke-width="2.5" stroke-opacity="1.0"/>
<path d="M100.5 417.5h0m2.9-.7h0m2.3-26.5h0m5.1-6.7h0m1.9 14.9h0m.2-10.5h0m2 24.1h0m2.1-40.1h0m.1 27.3h0m.6 20.5h0m.7 38.5h0m.1-61.8h0m.2-14.1h0m.7-4.4h0m.9 49.1h0m.9-28.2h0m.3-13.9h0m0-6.8h0m.1 1.9h0m1.4 3.8h0m1.3-4.7h0m.8-3.7h0m.6-2.6h0m.1 20.3h0m.5 22.1h0m0 46.8h0m.4-56h0m.3-32.2h0m.7 35.8h0m1.1-8.3h0m0 63.3h0m.1-73.6h0m1.1 57.7h0m0-27.5h0m.7-25.8h0m.4 50.9h0m.4-82.6h0m1.8 44h0m.1-9.6h0m.2 86.2h0m.9-109.9h0m.1 13.8h0m.1 39.5h0m.3-59.1h0m.1 27.9h0m.2 35.7h0m.1-54.5h0m.5 81.9h0m.2-77.1h0m.3 12.7h0m.2 1.8h0m.1-13.3h0m.2-4.8h0m.5-16.1h0m0 39.9h0m.1-31.7h0m.3 12.4h0m.4-6.9h0m.1 44.5h0m.2-65.3h0m1 89.7h0m.3-93.5h0m0 107.4h0m.3-79.1h0m.7 24.6h0m0 70.6h0m.2-53.1h0m.8-42.6h0m0 76.3h0m.4-89.6h0m.1 10.9h0m.3-21.2h0m.1 31.7h0m.2-7.4h0m0 73.6h0m.1-17.5h0m.2-16.3h0m.2-48.8h0m0 39.7h0m.3 56.4h0m.1-73.8h0m.2 80.4h0m0-25.8h0m.1 38h0m0-121.1h0m0 4.3h0m.1 63.7h0m.4-8h0m0-45.7h0m.1 70.7h0m.1 10h0m.3-25.8h0m.9-45.5h0m.4 70.9h0m0-8.5h0m.2-80h0m.4 52.3h0m.1-11.3h0m0 19.9h0m.2-1.5h0m.7-68.4h0m.3 111.1h0m.7-51.6h0m.2-38.5h0m0 69.5h0m.2-68.4h0m.1 47h0m.1 24.6h0m.4-27.4h0m.4-3.6h0m.2-27.2h0m.2-4.4h0m.1 41h0m.2-7.6h0m.1-35.8h0m0 79.8h0m0-92h0m.1-21.8h0m.3 27.6h0m0 87.9h0m.1-41.2h0m.4-37.4h0m.3 87h0m.1-32.7h0m.4 29.7h0m0-65.4h0m.5 42.5h0m.9-21.4h0m.1-64.7h0m.2-8.7h0m0 61.5h0m0 17.3h0m.4-62.5h0m.3 109.6h0m.8-129.8h0m0 81.3h0m.2-62.6h0m.3 19h0m.1 33.9h0m0-69.6h0m.1 11.7h0m.4 9.2h0m.4 95.3h0m.2-27.3h0m.2-24.2h0m.2-29.6h0m.1 56.5h0m.5-80h0m.3 94.7h0m.1-78.4h0m.2 66.4h0m.1-61.6h0m.2 70.6h0m0 4h0m.1 20.8h0m0-46.9h0m.3-31.3h0m0-56.1h0m.5 131.8h0m.1-7.7h0m.7-72.7h0m0 58.9h0m.1-8.4h0m.1-53.2h0m0 36.9h0m.2-21.3h0m.2 59.2h0m.3-88.4h0m.5-31.7h0m.2 87.7h0m.3-68.3h0m.2 96.4h0m0-90.9h0m0-27.6h0m.3 96.6h0m.1-37.1h0m.2 55.3h0m.1-1.3h0m.2-25.2h0m.2 11.4h0m.1-62.4h0m.2 29.4h0m0-2.8h0m.2-36.4h0m.5 23.7h0m.1 45.6h0m.4 15.9h0m.3 16.6h0m.2-10.9h0m1-95h0m.4 28.6h0m.2 39.8h0m.2-48.4h0m0 15.4h0m.6 69.6h0m.1-109h0m.1 69.5h0m1.3 29.8h0m.3-37.4h0m.8 22.5h0m.1-69.8h0m.5 33h0m.4-7.6h0m1.2-57.8h0m1.8 22.3h0m4-14.3h0m3.1 .2h0m1.6 100.3h0m2.7-43.1h0m4-50.4h0m1.4 80.5h0m.9-41.6h0m4.1-20.4h0m.1 6.6h0" stroke="#4791b4" stroke-width="2"/>
<path d="M93.9 392.7h0m6.4 7.4h0m7.7 36.5h0m.4-19.5h0m1-19.9h0m1.1-3.7h0m1.1 37.9h0m1.2-15.4h0m3.2-22.3h0m.2-7.8h0m1 22.7h0m.2 42.8h0m1.7 3.2h0m.9 10.5h0m1-96h0m.1 6.7h0m.3 26.6h0m.8-12.8h0m3.8 22.9h0m.7-44.6h0m1 56.7h0m.2-60.9h0m1.1 87.9h0m.2-23.7h0m1.7-70.7h0m.8 56.4h0m.2-52.2h0m.7 75.9h0m.4 24.6h0m.6-89.1h0m.2 44.6h0m.5 69.9h0m.1-85.5h0m.2 37.6h0m.2-13.7h0m.8-19.5h0m.3 60h0m.3-39.4h0m.4 57.4h0m.4-124.8h0m0 69.6h0m.3-55.5h0m.2 2.2h0m0 50.8h0m.1 21.9h0m.7 16.7h0m.1-33.7h0m.4-59.2h0m.6 65.4h0m.1-61.7h0m.1 38.8h0m.2-29.7h0m.2 79.1h0m.1-91.6h0m0 71h0m.4 3.9h0m.5-23.1h0m.2 36.9h0m0-2.3h0m.1-85.4h0m.1-3h0m.3 58.7h0m.6 45.6h0m.4-49h0m0 33.9h0m.1-63.3h0m.1-17.2h0m.3 22.9h0m.3 69.8h0m0-47.3h0m0 26.4h0m.2-99.5h0m0 87.4h0m.1-30.5h0m.3-48.3h0m.2 77.3h0m.1-22h0m.7 24.2h0m.2-15.4h0m.3 6.6h0m.3-50h0m.2 40.6h0m0 34.6h0m.1-51h0m.1-30.8h0m.3 61.5h0m.8-58.9h0m.6 44.1h0m.1-43.4h0m0 38.7h0m.2-26h0m.1-13.8h0m.3-24.1h0m0 127.9h0m.1-52.2h0m.5 12.6h0m.1-25.3h0m.1-6.5h0m.3 28.9h0m0-31.6h0m0 15.1h0m.1 33.6h0m.2 9h0m.1-18.6h0m0-34.6h0m.5-29.9h0m.3 85.6h0m.3-49.9h0m.1-16.4h0m.2-47h0m.2 6.1h0m.3 58.5h0m0 35h0m.4-51.1h0m.3 89.6h0m.3-115.4h0m.1 38h0m0 40.2h0m.6-81.8h0m0 39.5h0m.3 68.7h0m0-96.7h0m.1 30.7h0m.2-3.6h0m.2 32.8h0m.1-50.7h0m0 32.6h0m0-24h0m.3-13.2h0m.2 34.7h0m1.1 34.5h0m.1-35.4h0m.2 39.8h0m0-77.4h0m.3 67.1h0m.1-20.7h0m.4-48.2h0m.1 80.1h0m.2 6.6h0m.2-9.7h0m0 24.5h0m.2-93.1h0m.2-24h0m.1-4.8h0m.4 106.2h0m0-67.8h0m.2 25.1h0m.6-48.1h0m.1-3.6h0m.2 14.5h0m.4-23.2h0m.2 44.5h0m.4 18.5h0m.3-50.2h0m.8 79.6h0m.6 13.1h0m.4-11.8h0m.2 10.5h0m.3 7.2h0m.1-13.8h0m.1-84h0m.3 102.2h0m.2-11h0m.6-4.9h0m.8 4.6h0m0-46.9h0m.4-31.6h0m.2 44.2h0m.1 21.8h0m.3-39.9h0m.1-18.1h0m.2 34.5h0m.7 52h0m.2-19.7h0m.4-15.5h0m.2-40.7h0m.1 20.6h0m.1-64.7h0m.2 69.5h0m0 22h0m.3 12.5h0m.4-5.9h0m.1 1.3h0m.1-94.8h0m.3 28.4h0m0 30.3h0m.1-45.6h0m.9 11.3h0m.1 95.6h0m.9-18.2h0m.4-36.4h0m.3 15.2h0m.3-75.4h0m.6 9.1h0m.5 88h0m.4-85.6h0m.5 68.7h0m1.1-71.1h0m.8-30.3h0m1 82.2h0m.1-9.4h0m1.7 51.1h0m.2-73.9h0m1.1 41.8h0m.6 9h0m.4-86.2h0m0 30.4h0m.5 61.2h0m1.2-40.2h0m2.8-34.7h0m1.7 81.1h0m.4-19.1h0m.1 22.2h0m12.2-73.7h0" stroke="#fff" stroke-width="2.5" stroke-opacity="1.0"/>
<path d="M93.9 392.7h0m6.4 7.4h0m7.7 36.5h0m.4-19.5h0m1-19.9h0m1.1-3.7h0m1.1 37.9h0m1.2-15.4h0m3.2-22.3h0m.2-7.8h0m1 22.7h0m.2 42.8h0m1.7 3.2h0m.9 10.5h0m1-96h0m.1 6.7h0m.3 26.6h0m.8-12.8h0m3.8 22.9h0m.7-44.6h0m1 56.7h0m.2-60.9h0m1.1 87.9h0m.2-23.7h0m1.7-70.7h0m.8 56.4h0m.2-52.2h0m.7 75.9h0m.4 24.6h0m.6-89.1h0m.2 44.6h0m.5 69.9h0m.1-85.5h0m.2 37.6h0m.2-13.7h0m.8-19.5h0m.3 60h0m.3-39.4h0m.4 57.4h0m.4-124.8h0m0 69.6h0m.3-55.5h0m.2 2.2h0m0 50.8h0m.1 21.9h0m.7 16.7h0m.1-33.7h0m.4-59.2h0m.6 65.4h0m.1-61.7h0m.1 38.8h0m.2-29.7h0m.2 79.1h0m.1-91.6h0m0 71h0m.4 3.9h0m.5-23.1h0m.2 36.9h0m0-2.3h0m.1-85.4h0m.1-3h0m.3 58.7h0m.6 45.6h0m.4-49h0m0 33.9h0m.1-63.3h0m.1-17.2h0m.3 22.9h0m.3 69.8h0m0-47.3h0m0 26.4h0m.2-99.5h0m0 87.4h0m.1-30.5h0m.3-48.3h0m.2 77.3h0m.1-22h0m.7 24.2h0m.2-15.4h0m.3 6.6h0m.3-50h0m.2 40.6h0m0 34.6h0m.1-51h0m.1-30.8h0m.3 61.5h0m.8-58.9h0m.6 44.1h0m.1-43.4h0m0 38.7h0m.2-26h0m.1-13.8h0m.3-24.1h0m0 127.9h0m.1-52.2h0m.5 12.6h0m.1-25.3h0m.1-6.5h0m.3 28.9h0m0-31.6h0m0 15.1h0m.1 33.6h0m.2 9h0m.1-18.6h0m0-34.6h0m.5-29.9h0m.3 85.6h0m.3-49.9h0m.1-16.4h0m.2-47h0m.2 6.1h0m.3 58.5h0m0 35h0m.4-51.1h0m.3 89.6h0m.3-115.4h0m.1 38h0m0 40.2h0m.6-81.8h0m0 39.5h0m.3 68.7h0m0-96.7h0m.1 30.7h0m.2-3.6h0m.2 32.8h0m.1-50.7h0m0 32.6h0m0-24h0m.3-13.2h0m.2 34.7h0m1.1 34.5h0m.1-35.4h0m.2 39.8h0m0-77.4h0m.3 67.1h0m.1-20.7h0m.4-48.2h0m.1 80.1h0m.2 6.6h0m.2-9.7h0m0 24.5h0m.2-93.1h0m.2-24h0m.1-4.8h0m.4 106.2h0m0-67.8h0m.2 25.1h0m.6-48.1h0m.1-3.6h0m.2 14.5h0m.4-23.2h0m.2 44.5h0m.4 18.5h0m.3-50.2h0m.8 79.6h0m.6 13.1h0m.4-11.8h0m.2 10.5h0m.3 7.2h0m.1-13.8h0m.1-84h0m.3 102.2h0m.2-11h0m.6-4.9h0m.8 4.6h0m0-46.9h0m.4-31.6h0m.2 44.2h0m.1 21.8h0m.3-39.9h0m.1-18.1h0m.2 34.5h0m.7 52h0m.2-19.7h0m.4-15.5h0m.2-40.7h0m.1 20.6h0m.1-64.7h0m.2 69.5h0m0 22h0m.3 12.5h0m.4-5.9h0m.1 1.3h0m.1-94.8h0m.3 28.4h0m0 30.3h0m.1-45.6h0m.9 11.3h0m.1 95.6h0m.9-18.2h0m.4-36.4h0m.3 15.2h0m.3-75.4h0m.6 9.1h0m.5 88h0m.4-85.6h0m.5 68.7h0m1.1-71.1h0m.8-30.3h0m1 82.2h0m.1-9.4h0m1.7 51.1h0m.2-73.9h0m1.1 41.8h0m.6 9h0m.4-86.2h0m0 30.4h0m.5 61.2h0m1.2-40.2h0m2.8-34.7h0m1.7 81.1h0m.4-19.1h0m.1 22.2h0m12.2-73.7h0" stroke="#4791b4" stroke-width="2"/>
<path d="M98.5 416.2h0m6.1 4h0m11-14.7h0m.2 9.3h0m2.5 1.9h0m.3-36.6h0m.6-18.2h0m1.7 20.2h0m1-7.9h0m.6 76.1h0m.2-84.5h0m.3 50h0m1.1 16.1h0m0-62.2h0m1.4-3h0m.2 2.8h0m.1 80.1h0m.3-71.1h0m.3 12.4h0m.9 2.9h0m.3 77.7h0m1.3-94.7h0m1 10.5h0m.3 17.3h0m.3 38.4h0m.3-63.8h0m.8 21.1h0m.5-13.7h0m.4 81.1h0m2-63.1h0m.4 6.2h0m0-29.4h0m.9-15.2h0m.9 24.1h0m.4 2.3h0m.2 7.7h0m.2-48.9h0m0 36.5h0m.1 52.5h0m.9-33.9h0m.1 23.2h0m.2-51.4h0m.4 57.3h0m.1-53.3h0m.9 16.5h0m.4-7h0m0 80.6h0m.1-97.9h0m.8 22.9h0m0-18.6h0m0-3.1h0m.7 33.9h0m.1-10.3h0m.5-45.3h0m.2 74.9h0m.1 20.7h0m.8-75.2h0m.2 57.5h0m.5-11.1h0m0-37.9h0m.1 16.1h0m0 71.2h0m0-81h0m.1-10.8h0m.8-2.5h0m.1 17.8h0m0-27h0m.4 33.7h0m.1 22.1h0m0-4.5h0m.1-27.8h0m.4 20.8h0m.1-46.3h0m.2 14h0m.3 59.5h0m.3-69.5h0m.2 42.1h0m0 60.1h0m.2-70.3h0m0 7.2h0m.2 61.3h0m.5 9.2h0m.1-44.5h0m.3-22.8h0m.2-19.8h0m0 85h0m.6-115h0m.1 51.2h0m.1-36.3h0m0 96.3h0m.4-107.4h0m.6 73.2h0m.2 15.6h0m.1-87.5h0m0 96.5h0m.3-35.1h0m0 8.5h0m.1-72h0m.1 43.4h0m0-52.2h0m.2 86.6h0m.2-30.6h0m.1-24.4h0m.1 39.9h0m.4 33.5h0m.2-66.1h0m.1-14.4h0m.2 71h0m.1-55.4h0m.1 65.6h0m.7-76.4h0m0 61h0m.6-46.7h0m.1 9.8h0m.3 24.3h0m.1 28.2h0m.1-42.9h0m0-14.5h0m.1 10.5h0m.1 21.5h0m.1-38.9h0m.3 62.8h0m.3-43.8h0m.3 49.6h0m0 4.7h0m.5 5.8h0m0-12.3h0m0-74.1h0m.1-18h0m.1 45.8h0m.5 23.3h0m.1-16h0m.2-44.1h0m.1 8h0m0 39.2h0m.5 16h0m.5 4.2h0m.1-6.6h0m.2 16.1h0m.2-63.1h0m.5 70.5h0m.3-65.6h0m.1 5.7h0m.5-45.7h0m.2 26h0m.2 27.7h0m0 9.4h0m.1 29h0m0 18.1h0m0-88.1h0m.3 59h0m.4 39.2h0m.1-14h0m.6-9.7h0m0-4.9h0m.5-59.2h0m0-3h0m0 31.4h0m.4 34.3h0m.2-87.7h0m.3 106.4h0m.2-45.2h0m.4 43.8h0m.6-88.3h0m0 27.6h0m.1-35.3h0m.1-18.2h0m.8 114.9h0m0-10.7h0m.1-42h0m0-65.6h0m.4 100.2h0m.7-32.6h0m2.3 30.1h0m.5 17.4h0m0-4.8h0m.5-21.3h0m.1 36.1h0m.2-39.1h0m.5 22.5h0m.3-105.3h0m.9 59.4h0m.4 39.3h0m1.4-13.5h0m.7 11.7h0m.2 10.4h0m.1-14.7h0m0 12.9h0m.7-65.5h0m1.3 60.2h0m.2-10.8h0m.1-6.9h0m.4-60.7h0m.5 82.9h0m.7-32.5h0m.6-16.7h0m.3 72.5h0m.7-42.9h0m1.1 28h0m1.7-100.8h0m.3 35.1h0m.1 71.9h0m.5-7.9h0m.5-56.4h0m1.1-42.4h0m.1 36.6h0m1.2 35.5h0m2.1 21.7h0m1.9-81.2h0m1.2 70.5h0m.9-62.5h0m2.4 26.4h0m1.7-17.1h0" stroke="#fff" stroke-width="2.5" stroke-opacity="1.0"/>
<path d="M98.5 416.2h0m6.1 4h0m11-14.7h0m.2 9.3h0m2.5 1.9h0m.3-36.6h0m.6-18.2h0m1.7 20.2h0m1-7.9h0m.6 76.1h0m.2-84.5h0m.3 50h0m1.1 16.1h0m0-62.2h0m1.4-3h0m.2 2.8h0m.1 80.1h0m.3-71.1h0m.3 12.4h0m.9 2.9h0m.3 77.7h0m1.3-94.7h0m1 10.5h0m.3 17.3h0m.3 38.4h0m.3-63.8h0m.8 21.1h0m.5-13.7h0m.4 81.1h0m2-63.1h0m.4 6.2h0m0-29.4h0m.9-15.2h0m.9 24.1h0m.4 2.3h0m.2 7.7h0m.2-48.9h0m0 36.5h0m.1 52.5h0m.9-33.9h0m.1 23.2h0m.2-51.4h0m.4 57.3h0m.1-53.3h0m.9 16.5h0m.4-7h0m0 80.6h0m.1-97.9h0m.8 22.9h0m0-18.6h0m0-3.1h0m.7 33.9h0m.1-10.3h0m.5-45.3h0m.2 74.9h0m.1 20.7h0m.8-75.2h0m.2 57.5h0m.5-11.1h0m0-37.9h0m.1 16.1h0m0 71.2h0m0-81h0m.1-10.8h0m.8-2.5h0m.1 17.8h0m0-27h0m.4 33.7h0m.1 22.1h0m0-4.5h0m.1-27.8h0m.4 20.8h0m.1-46.3h0m.2 14h0m.3 59.5h0m.3-69.5h0m.2 42.1h0m0 60.1h0m.2-70.3h0m0 7.2h0m.2 61.3h0m.5 9.2h0m.1-44.5h0m.3-22.8h0m.2-19.8h0m0 85h0m.6-115h0m.1 51.2h0m.1-36.3h0m0 96.3h0m.4-107.4h0m.6 73.2h0m.2 15.6h0m.1-87.5h0m0 96.5h0m.3-35.1h0m0 8.5h0m.1-72h0m.1 43.4h0m0-52.2h0m.2 86.6h0m.2-30.6h0m.1-24.4h0m.1 39.9h0m.4 33.5h0m.2-66.1h0m.1-14.4h0m.2 71h0m.1-55.4h0m.1 65.6h0m.7-76.4h0m0 61h0m.6-46.7h0m.1 9.8h0m.3 24.3h0m.1 28.2h0m.1-42.9h0m0-14.5h0m.1 10.5h0m.1 21.5h0m.1-38.9h0m.3 62.8h0m.3-43.8h0m.3 49.6h0m0 4.7h0m.5 5.8h0m0-12.3h0m0-74.1h0m.1-18h0m.1 45.8h0m.5 23.3h0m.1-16h0m.2-44.1h0m.1 8h0m0 39.2h0m.5 16h0m.5 4.2h0m.1-6.6h0m.2 16.1h0m.2-63.1h0m.5 70.5h0m.3-65.6h0m.1 5.7h0m.5-45.7h0m.2 26h0m.2 27.7h0m0 9.4h0m.1 29h0m0 18.1h0m0-88.1h0m.3 59h0m.4 39.2h0m.1-14h0m.6-9.7h0m0-4.9h0m.5-59.2h0m0-3h0m0 31.4h0m.4 34.3h0m.2-87.7h0m.3 106.4h0m.2-45.2h0m.4 43.8h0m.6-88.3h0m0 27.6h0m.1-35.3h0m.1-18.2h0m.8 114.9h0m0-10.7h0m.1-42h0m0-65.6h0m.4 100.2h0m.7-32.6h0m2.3 30.1h0m.5 17.4h0m0-4.8h0m.5-21.3h0m.1 36.1h0m.2-39.1h0m.5 22.5h0m.3-105.3h0m.9 59.4h0m.4 39.3h0m1.4-13.5h0m.7 11.7h0m.2 10.4h0m.1-14.7h0m0 12.9h0m.7-65.5h0m1.3 60.2h0m.2-10.8h0m.1-6.9h0m.4-60.7h0m.5 82.9h0m.7-32.5h0m.6-16.7h0m.3 72.5h0m.7-42.9h0m1.1 28h0m1.7-100.8h0m.3 35.1h0m.1 71.9h0m.5-7.9h0m.5-56.4h0m1.1-42.4h0m.1 36.6h0m1.2 35.5h0m2.1 21.7h0m1.9-81.2h0m1.2 70.5h0m.9-62.5h0m2.4 26.4h0m1.7-17.1h0" stroke="#4791b4" stroke-width="2"/>
<path d="M97.4 389.9h0m11.5 40.7h0m.6-41h0m1.1 30.3h0m.1-44.7h0m6.4-.5h0m1.3 69.9h0m.9-75.1h0m1 19.9h0m.3 47.1h0m.2-17.5h0m1 26.2h0m1.6-49.7h0m0 70.1h0m.3-94.2h0m.3 82.6h0m.1-62.2h0m.8 7.5h0m.5 60.2h0m1 8.9h0m.5-83.6h0m.1-9.4h0m1.7 107.6h0m0-104.7h0m.4 76.9h0m1.2-17.2h0m.8-52.8h0m0 12.7h0m.9-25.4h0m.3 6.9h0m.9 7.6h0m.7 25.9h0m0-47.4h0m.4 103.8h0m.2-13.9h0m.6 6.3h0m.4-25.1h0m.4-63.4h0m.3 8.4h0m.2 22.9h0m.1-37.1h0m.1 46.7h0m0-27.2h0m.8-1h0m.6 39.2h0m.2-5.9h0m1 36.4h0m.4-39.4h0m.2-22.9h0m.1-22.9h0m.5 1h0m.1 85.6h0m.4-61h0m.3 23h0m.3 68.4h0m0-125.6h0m.6 56.1h0m0-14h0m.1 59.8h0m.5-18.2h0m.1-84.9h0m.5 45.1h0m.1 52.6h0m.2-1.5h0m.1-73h0m.1 81.4h0m.5-69.2h0m.1 34.4h0m.3-66.2h0m.4 5.5h0m.2 66.1h0m.5-44h0m.2 92.2h0m.4-19.5h0m0 3.9h0m.1-49h0m.4-60.9h0m.4 30.3h0m.1-7.1h0m0 9.8h0m.1-34.9h0m.9 129.1h0m.6-35.6h0m0-85h0m.1 15.3h0m0-21h0m.2 35.7h0m0 22.4h0m.1 50.7h0m0-87h0m0 66.4h0m.1-42.9h0m.7 22.6h0m.2-41.7h0m.4 108.6h0m0-35.9h0m0-11.2h0m.1-60.1h0m.5 22h0m.2 9.5h0m.1 6.1h0m.1 25.8h0m.2-11.3h0m.1 18.4h0m.4-11.2h0m.2 16.2h0m.1-91.5h0m0 17.2h0m.4-26.8h0m.1 6.4h0m0 96.1h0m.7-45.4h0m.2 52.6h0m0-73h0m.6-4h0m.1 21.6h0m0-25.8h0m.3 37.3h0m0 67.3h0m.3-81.9h0m0 18h0m.1 43.8h0m.2-55.1h0m.1-37.2h0m.3 66.9h0m0-25.3h0m.2-10.7h0m.2-24.4h0m.5 55.4h0m0-17.3h0m.4-14.3h0m.2 33.2h0m.2 7.7h0m0-27.3h0m.3 51.9h0m.2-85.7h0m.2 60h0m.4 11h0m0-80.6h0m.1 97.7h0m0-3.9h0m.1-15.8h0m.1-102h0m.5 21.3h0m.2 76h0m.1-58.7h0m.1 65.8h0m0 6.2h0m.5 26.2h0m.1-108.4h0m.2 63h0m0-31.9h0m.2 63.3h0m.5-87.3h0m0 35.8h0m.1 30.2h0m.1 4.4h0m.1-5.4h0m.1-49.4h0m.1 45.6h0m.1-94h0m.3 29.1h0m.9 74h0m.3-64.9h0m.2-2.5h0m.3-26.9h0m.2 75.2h0m.5-67.7h0m.3 116.5h0m0-120h0m.3 73.8h0m.6-17.5h0m.7 1.5h0m0 42.3h0m.3-14.6h0m.5-32.5h0m.7-42h0m.5 75.9h0m0-8.1h0m.1-51h0m1.6 58h0m2 21.4h0m.9-88.3h0m.1 71.4h0m.2-26h0m.2-78.6h0m1 49.1h0m0-18.2h0m.3 44.3h0m.3 22.7h0m0 3.3h0m.2-91.4h0m1.9 103.4h0m.2-72.3h0m.1 31.8h0m.7-58.4h0m.2 79.5h0m2.7-20.7h0m1-22.8h0m1.5 47.9h0m.2-11.2h0m.8-18.4h0m1.5 3.8h0m.1-39.5h0m0-32.3h0m.1 63.8h0m.2-60.7h0m1.6 93h0m.4-18.3h0m.9-52h0m3 26.9h0m1.1-15.6h0m4.6 10.9h0" stroke="#fff" stroke-width="2.5" stroke-opacity="1.0"/>
<path d="M97.4 389.9h0m11.5 40.7h0m.6-41h0m1.1 30.3h0m.1-44.7h0m6.4-.5h0m1.3 69.9h0m.9-75.1h0m1 19.9h0m.3 47.1h0m.2-17.5h0m1 26.2h0m1.6-49.7h0m0 70.1h0m.3-94.2h0m.3 82.6h0m.1-62.2h0m.8 7.5h0m.5 60.2h0m1 8.9h0m.5-83.6h0m.1-9.4h0m1.7 107.6h0m0-104.7h0m.4 76.9h0m1.2-17.2h0m.8-52.8h0m0 12.7h0m.9-25.4h0m.3 6.9h0m.9 7.6h0m.7 25.9h0m0-47.4h0m.4 103.8h0m.2-13.9h0m.6 6.3h0m.4-25.1h0m.4-63.4h0m.3 8.4h0m.2 22.9h0m.1-37.1h0m.1 46.7h0m0-27.2h0m.8-1h0m.6 39.2h0m.2-5.9h0m1 36.4h0m.4-39.4h0m.2-22.9h0m.1-22.9h0m.5 1h0m.1 85.6h0m.4-61h0m.3 23h0m.3 68.4h0m0-125.6h0m.6 56.1h0m0-14h0m.1 59.8h0m.5-18.2h0m.1-84.9h0m.5 45.1h0m.1 52.6h0m.2-1.5h0m.1-73h0m.1 81.4h0m.5-69.2h0m.1 34.4h0m.3-66.2h0m.4 5.5h0m.2 66.1h0m.5-44h0m.2 92.2h0m.4-19.5h0m0 3.9h0m.1-49h0m.4-60.9h0m.4 30.3h0m.1-7.1h0m0 9.8h0m.1-34.9h0m.9 129.1h0m.6-35.6h0m0-85h0m.1 15.3h0m0-21h0m.2 35.7h0m0 22.4h0m.1 50.7h0m0-87h0m0 66.4h0m.1-42.9h0m.7 22.6h0m.2-41.7h0m.4 108.6h0m0-35.9h0m0-11.2h0m.1-60.1h0m.5 22h0m.2 9.5h0m.1 6.1h0m.1 25.8h0m.2-11.3h0m.1 18.4h0m.4-11.2h0m.2 16.2h0m.1-91.5h0m0 17.2h0m.4-26.8h0m.1 6.4h0m0 96.1h0m.7-45.4h0m.2 52.6h0m0-73h0m.6-4h0m.1 21.6h0m0-25.8h0m.3 37.3h0m0 67.3h0m.3-81.9h0m0 18h0m.1 43.8h0m.2-55.1h0m.1-37.2h0m.3 66.9h0m0-25.3h0m.2-10.7h0m.2-24.4h0m.5 55.4h0m0-17.3h0m.4-14.3h0m.2 33.2h0m.2 7.7h0m0-27.3h0m.3 51.9h0m.2-85.7h0m.2 60h0m.4 11h0m0-80.6h0m.1 97.7h0m0-3.9h0m.1-15.8h0m.1-102h0m.5 21.3h0m.2 76h0m.1-58.7h0m.1 65.8h0m0 6.2h0m.5 26.2h0m.1-108.4h0m.2 63h0m0-31.9h0m.2 63.3h0m.5-87.3h0m0 35.8h0m.1 30.2h0m.1 4.4h0m.1-5.4h0m.1-49.4h0m.1 45.6h0m.1-94h0m.3 29.1h0m.9 74h0m.3-64.9h0m.2-2.5h0m.3-26.9h0m.2 75.2h0m.5-67.7h0m.3 116.5h0m0-120h0m.3 73.8h0m.6-17.5h0m.7 1.5h0m0 42.3h0m.3-14.6h0m.5-32.5h0m.7-42h0m.5 75.9h0m0-8.1h0m.1-51h0m1.6 58h0m2 21.4h0m.9-88.3h0m.1 71.4h0m.2-26h0m.2-78.6h0m1 49.1h0m0-18.2h0m.3 44.3h0m.3 22.7h0m0 3.3h0m.2-91.4h0m1.9 103.4h0m.2-72.3h0m.1 31.8h0m.7-58.4h0m.2 79.5h0m2.7-20.7h0m1-22.8h0m1.5 47.9h0m.2-11.2h0m.8-18.4h0m1.5 3.8h0m.1-39.5h0m0-32.3h0m.1 63.8h0m.2-60.7h0m1.6 93h0m.4-18.3h0m.9-52h0m3 26.9h0m1.1-15.6h0m4.6 10.9h0" stroke="#4791b4" stroke-width="2"/>
<g filter="url(#bl2)" fill="#f7a098" stroke="none"><ellipse cx="238" cy="431" rx="15.5" ry="26.5" transform="rotate(-15.5 238 431)"/><circle cx="252.5" cy="457" r="7"/></g>
<path d="M221.1 419.6h0m.4-3.4h0m1.1 11.5h0m0-6.6h0m.1 3.4h0m0-10.3h0m.4 14.6h0m.1 5h0m.1-16.1h0m.2 8.4h0m.1 4.1h0m.1-10.4h0m.3 18.6h0m.2-14.7h0m.2 3.7h0m0 4.7h0m.1-18.2h0m0 15h0m.1-10.9h0m.4 2.5h0m.1-3.8h0m.2 6.1h0m0 2.4h0m.2-10.6h0m.1 11.9h0m.2 9.5h0m0-25.7h0m.1 2.7h0m0-4.2h0m.1 34.4h0m.3-12.4h0m0-14.7h0m.1 5.1h0m.1-2.6h0m0 15.7h0m.1-10.9h0m.1 9.4h0m.1-4.6h0m.2 8.8h0m.1-19.8h0m.1 8.4h0m0-13.7h0m.1 2.4h0m.1 17.3h0m.1-22h0m0 29.6h0m0-9.3h0m0 10.8h0m.6-5.7h0m0 8.4h0m.1-15.7h0m.1-10h0m0 24.3h0m0-20.6h0m0-5.6h0m.1-3.4h0m0 21.3h0m0-9.6h0m.1-4.5h0m.1-9.4h0m0 27.9h0m.1-1.4h0m0-23h0m.1 17.8h0m0-8.9h0m.3-13.6h0m.3-1.3h0m.1 21.1h0m0 11.6h0m.1-22.3h0m.1 26.9h0m0-17.9h0m.1-11h0m0 31.1h0m0-13.1h0m0 4.7h0m.1 3.7h0m0-21.8h0m0 16.7h0m0-26.6h0m.3 25.2h0m0-12.6h0m0-8.9h0m.2 18.2h0m.4-19.5h0m0 3.7h0m.1-9.7h0m0 23.1h0m.1 13.7h0m.2-18.7h0m0-3.9h0m0 27.4h0m0-42.9h0m.1 3.9h0m.1 24h0m0 6.6h0m0-29.2h0m0 26h0m0 1.7h0m.2-12h0m.1-7h0m0-5.5h0m.1 17.6h0m.2 13.3h0m.2-22.5h0m0-14.6h0m.1 27.8h0m.1 14.9h0m.1-1.7h0m0-24.1h0m0 22.1h0m.2-34.8h0m.2 16.4h0m0 13.2h0m.1-2.5h0m.1-8.6h0m0-11.8h0m0 13.5h0m.1-16.6h0m0 1.6h0m0 20.3h0m.1-3h0m0 8.9h0m0-29.6h0m.1 9.9h0m0-17h0m0 2.3h0m.2 36.3h0m0 4.1h0m.1-28.5h0m.1 1.5h0m0 2.6h0m.2 22.8h0m.1-37.6h0m.1 36.3h0m0-6.7h0m0-13.3h0m.1 6.4h0m.1-16.7h0m0-4.5h0m0-3.9h0m.1 28.5h0m.2-1.5h0m.1 8.2h0m.2-19.5h0m.1 7.8h0m0-12.6h0m.1 31.9h0m.1-10h0m0-30.7h0m0 5.2h0m0 33.7h0m0-21h0m0-7.9h0m0 25.7h0m.2-32.9h0m0 16.8h0m.1-7.9h0m0 25.4h0m.1 4.7h0m.1-12.3h0m0-23h0m.1 9.2h0m.1 7.1h0m.2-24.4h0m.2 10h0m0-13.6h0m0 37.6h0m0-19.3h0m0 27.2h0m.1-22.8h0m.1 9.6h0m.1-22.5h0m0 31.8h0m0-11.1h0m0-1.4h0m.1-9.3h0m.1 28h0m.1-24h0m.1 15.8h0m.1-31.5h0m.1 17.4h0m0-10h0m.1 17.7h0m0-16.1h0m.1 17.9h0m0-22.1h0m.1 32.1h0m0-44.1h0m0 1.6h0m.1 25.3h0m.1-5.8h0m0-15.9h0m.1 36h0m0-4.5h0m.1-26.3h0m.2-6.9h0m0 13.8h0m0 2.5h0m0 9h0m0-15.5h0m.2 8.9h0m0 21h0m.1 4.6h0m.1-17.1h0m0-5.2h0m0 19.7h0m0-38.5h0m0 32.1h0m.2-4.5h0m0-24.8h0m.1 9.2h0m.1 27.8h0m.1-19.5h0m0-25.3h0m0 19.3h0m.1 20.9h0m.1-36.6h0m.1 30.9h0m.1-28.2h0m0 7.6h0m.1-12.6h0m0 28.8h0m0-7.7h0m.1-11.7h0m.3 18h0m0 9.1h0m.2-21.4h0m0 3.7h0m0 7h0m.1-14.4h0m.3 19.7h0m0-24.7h0m0 31.5h0m.1-14.1h0m0-3.7h0m0-18.4h0m.1 27.9h0m0 11h0m0-41.9h0m0 6h0m0 8.6h0m.1 21.5h0m0 13.3h0m0-8.8h0m.1-21.6h0m0 24.4h0m.1-39h0m0 29.2h0m0 11.7h0m.1-21.6h0m.1-6.1h0m.1 29h0m.1-8.9h0m0-11h0m0-17.2h0m0 18.7h0m.2-12.3h0m.2 23.7h0m.1-28.4h0m.1 3h0m.2 11h0m0-2.4h0m0-17h0m0 2.4h0m.1 22.9h0m.1-1.6h0m.1 19h0m0-44.4h0m0 41.1h0m.2-28.4h0m0 26.2h0m0-30.6h0m.2 21.5h0m0-24h0m0 26.3h0m.1 1.4h0m0-17.3h0m.1 21.4h0m.2-27.2h0m0 13.9h0m.1 11.5h0m0-21.8h0m0 6.3h0m.1 7.7h0m.1-24.7h0m0 4.2h0m.1-5.7h0m.1 24.4h0m.2-17.1h0m0 8.1h0m.1 25.6h0m.1-20.8h0m.1 8.8h0m0-15h0m.1 25.6h0m.1-7.4h0m0 5.9h0m.1-3.4h0m0-26.1h0m.1-4.6h0m.2 5.8h0m.1 14.4h0m.1 1.8h0m0-20.6h0m0 25.5h0m0-14h0m.1-14.2h0m0 8.6h0m.1 25.1h0m.1-14.1h0m.1 5.8h0m.1-20.6h0m.1 32.5h0m.1 1.9h0m.2-27.9h0m.1 24.6h0m.1-18.1h0m.2 26.1h0m0-35.6h0m.1 5.2h0m0-11.9h0m.1 22.1h0m0-3h0m0 5.9h0m0 5.2h0m0-25h0m0 26.7h0m.2-23.4h0m0-10.6h0m.1 39.1h0m.1-8.4h0m.1 10.7h0m0-28.8h0m.2 3.5h0m.2-11h0m0 24.3h0m.1 13.9h0m.1-45.9h0m.1 10.8h0m0 14.5h0m0-5.3h0m.1 18.7h0m0-16.8h0m.1 25.3h0m0-12.3h0m.1 7.4h0m0-25.6h0m0 23.7h0m.1-10.5h0m.1-16.4h0m0 14.3h0m0-18.6h0m.2-2.8h0m.1 42.8h0m0-16.1h0m.1-9.8h0m0-11.1h0m.4 16.7h0m0 7.3h0m0-16.9h0m.1 12.5h0m.1-9.9h0m0 24.7h0m.1-29.3h0m.1 8.8h0m0-10.9h0m.1 24.7h0m0 8.4h0m.1-5.2h0m0-4.6h0m.1 6.5h0m.2-33.8h0m.1 21.9h0m0 1.9h0m.1-26.4h0m.2 32.9h0m0-28.3h0m.1 11.6h0m0-1.4h0m0-3.6h0m.1 9.2h0m.1-14h0m.1 30.8h0m0-14.8h0m0-13.1h0m.1 9h0m.1 12.6h0m.1 3.5h0m.1-6.2h0m.1-15.5h0m.2 28.1h0m.1-2.7h0m0-18.8h0m.2 5.9h0m.1 4.8h0m0 6.4h0m0-28.6h0m0 13h0m.1 5.9h0m.1-11.3h0m.3 16.8h0m0 1.9h0m.1 5.2h0m0-25.6h0m0 10.4h0m.2-11.9h0m.1 10.5h0m0-12.1h0m0 6.6h0m.3 19.8h0m.2-1.5h0m.1-6.2h0m0 12.2h0m.5-1.9h0m0-11.5h0m0 4.7h0m.1-24.1h0m.2 29.6h0m.1-27h0m.1 23.5h0m.3-3.9h0m0-14.5h0m.2 24.6h0m.2-4.6h0m.1-7.3h0m.1 4.1h0m.4 1.3h0m.4 4.1h0m.3-6.6h0m.2 1.5h0m0 3.5h0m.2-6.3h0m.2 4.1h0m.4 4.8h0m.6-3.5h0m0-2.1h0m.1 4h0m.4-6.4h0" stroke="#f1695e" stroke-width="1.3"/>
<path d="M209.6 512.2h0m4.7-38.9h0m.4-17.4h0m1.7-31.7h0m1.6 43.5h0m3.8-49.8h0m.8 22.8h0m.3-54.9h0m.8 29.4h0m.2 43h0m1.4 17.7h0m.3-80.7h0m.2 43.4h0m.1 6.2h0m1.7 74.1h0m1.4-42.9h0m1.1-88.3h0m0 141.5h0m.7-23.2h0m.3-36.2h0m3.6 27.4h0m.6-91h0m.2 83.6h0m1.4-89.4h0m.4 57.7h0m1.6-53.4h0m.7 101.2h0m.5-40.8h0m.5-4.6h0m1.1-95.7h0m.6 96.8h0m2.4-56.7h0m1.7 99.5h0m.9-108h0m1 73.6h0m1.5-65.4h0m1.4 85.9h0m.2-119.1h0m1.6 115.3h0m1.2-76.4h0m.2-33.8h0m1.7 102.7h0m.9 3.7h0m.2-75.8h0m1.4 43.9h0m1.6 4.8h0m.4-49h0m1.3 56.8h0m1.5-15.3h0m2.7-19h0m0 65.4h0m.4-61.1h0m1.7 52.4h0m.2-78h0m2.3 62.1h0m5.9-23.8h0m3.5-17.7h0m3.4-15.9h0m.1 24.9h0m3.9-39.4h0m2 42.6h0m.6-5.9h0m1.3-15.6h0m3.3-4.5h0m1 60.8h0m6.1-3.6h0" stroke="#fff" stroke-width="2.5" stroke-opacity="1.0"/>
<path d="M209.6 512.2h0m4.7-38.9h0m.4-17.4h0m1.7-31.7h0m1.6 43.5h0m3.8-49.8h0m.8 22.8h0m.3-54.9h0m.8 29.4h0m.2 43h0m1.4 17.7h0m.3-80.7h0m.2 43.4h0m.1 6.2h0m1.7 74.1h0m1.4-42.9h0m1.1-88.3h0m0 141.5h0m.7-23.2h0m.3-36.2h0m3.6 27.4h0m.6-91h0m.2 83.6h0m1.4-89.4h0m.4 57.7h0m1.6-53.4h0m.7 101.2h0m.5-40.8h0m.5-4.6h0m1.1-95.7h0m.6 96.8h0m2.4-56.7h0m1.7 99.5h0m.9-108h0m1 73.6h0m1.5-65.4h0m1.4 85.9h0m.2-119.1h0m1.6 115.3h0m1.2-76.4h0m.2-33.8h0m1.7 102.7h0m.9 3.7h0m.2-75.8h0m1.4 43.9h0m1.6 4.8h0m.4-49h0m1.3 56.8h0m1.5-15.3h0m2.7-19h0m0 65.4h0m.4-61.1h0m1.7 52.4h0m.2-78h0m2.3 62.1h0m5.9-23.8h0m3.5-17.7h0m3.4-15.9h0m.1 24.9h0m3.9-39.4h0m2 42.6h0m.6-5.9h0m1.3-15.6h0m3.3-4.5h0m1 60.8h0m6.1-3.6h0" stroke="#ee4a3e" stroke-width="1.8"/>
<path d="M203.6 455.1h0m.5 42.8h0m.6-36h0m1.8 61.4h0m2.2-132.1h0m.6 32.1h0m1.4 72.7h0m3.4-26.5h0m.7-71.1h0m1.1 11.2h0m1.7 3.6h0m.1 105.3h0m1.4-101.8h0m1.7 6.8h0m.3 33.5h0m.2-31.8h0m2.3 21.8h0m.1-3.9h0m1.5 25.1h0m1.9-8.9h0m.1-4.7h0m.4 27.8h0m.2-82.5h0m3.5 1.8h0m.8-35h0m.5 88h0m1 28.6h0m1.9-4.1h0m3.3-22.8h0m5.6 28.4h0m7.1-72.1h0m.8-9.2h0m.9 64.9h0m1.2-33.6h0m.2-44h0m.4 36.3h0m.1 20.4h0m1.9 56.6h0m1.1-30h0m.6-74.7h0m.6 23.6h0m1.4 19h0m.7 32.2h0m.2-14.5h0m.1-26.4h0m.6-33h0m.5 23.3h0m2.6 .6h0m0 12.8h0m1.4 6.6h0m.4 8.6h0m.4-61.8h0m2.1 71.1h0m1-92.1h0m1.4 81.1h0m2-24.2h0m4.3 84.4h0m.1-85.7h0m2.2 10.8h0m.5 50.9h0m3-60.3h0m2.1 4.7h0m4.2 18.5h0m3.3-25.4h0m.4 5.1h0m8.4-26.4h0" stroke="#fff" stroke-width="2.5" stroke-opacity="1.0"/>
<path d="M203.6 455.1h0m.5 42.8h0m.6-36h0m1.8 61.4h0m2.2-132.1h0m.6 32.1h0m1.4 72.7h0m3.4-26.5h0m.7-71.1h0m1.1 11.2h0m1.7 3.6h0m.1 105.3h0m1.4-101.8h0m1.7 6.8h0m.3 33.5h0m.2-31.8h0m2.3 21.8h0m.1-3.9h0m1.5 25.1h0m1.9-8.9h0m.1-4.7h0m.4 27.8h0m.2-82.5h0m3.5 1.8h0m.8-35h0m.5 88h0m1 28.6h0m1.9-4.1h0m3.3-22.8h0m5.6 28.4h0m7.1-72.1h0m.8-9.2h0m.9 64.9h0m1.2-33.6h0m.2-44h0m.4 36.3h0m.1 20.4h0m1.9 56.6h0m1.1-30h0m.6-74.7h0m.6 23.6h0m1.4 19h0m.7 32.2h0m.2-14.5h0m.1-26.4h0m.6-33h0m.5 23.3h0m2.6 .6h0m0 12.8h0m1.4 6.6h0m.4 8.6h0m.4-61.8h0m2.1 71.1h0m1-92.1h0m1.4 81.1h0m2-24.2h0m4.3 84.4h0m.1-85.7h0m2.2 10.8h0m.5 50.9h0m3-60.3h0m2.1 4.7h0m4.2 18.5h0m3.3-25.4h0m.4 5.1h0m8.4-26.4h0" stroke="#ee4a3e" stroke-width="1.8"/>
<path d="M203.2 477.2h0m2.9-94.9h0m1 32.5h0m4.5-5.3h0m1.7 6.6h0m0 108.4h0m1.4-62.5h0m.5-12.7h0m.6-10.5h0m2.1 48.1h0m1.1-46.3h0m1.6-5h0m.2 46.9h0m.3-68.9h0m.1 51.4h0m.1-36.6h0m1.4-5.5h0m3.6 29h0m.2-10h0m4.4 20h0m1.1-57.8h0m.6 60.5h0m1-3.7h0m0-8.8h0m2.5 68.2h0m.7-44.4h0m4.5 1.7h0m.4-89.2h0m1 93.6h0m.2-85.6h0m.3 92.5h0m3.2-17.1h0m.2 45.8h0m1.3-107.9h0m1.7 10.9h0m.5 58.9h0m.4 20.7h0m1.3 5.5h0m1.2-111.6h0m.5 32.4h0m.8 45.4h0m.1 2.9h0m.2-73.3h0m.2-38.1h0m0 77.2h0m1 4.3h0m3.3-51.7h0m3.1 36.8h0m.5 8.3h0m2 38.1h0m.3-67.2h0m.2 52.9h0m0-16.1h0m.9-25.5h0m.9-5.6h0m.9 58.9h0m1.2-43.9h0m1-25.1h0m.9 12.7h0m1.5 11.4h0m2.8-30.7h0m.4 30.5h0m1.6 13.8h0m1.6-51.3h0m1.8 13.3h0m7.2-.1h0" stroke="#fff" stroke-width="2.5" stroke-opacity="1.0"/>
<path d="M203.2 477.2h0m2.9-94.9h0m1 32.5h0m4.5-5.3h0m1.7 6.6h0m0 108.4h0m1.4-62.5h0m.5-12.7h0m.6-10.5h0m2.1 48.1h0m1.1-46.3h0m1.6-5h0m.2 46.9h0m.3-68.9h0m.1 51.4h0m.1-36.6h0m1.4-5.5h0m3.6 29h0m.2-10h0m4.4 20h0m1.1-57.8h0m.6 60.5h0m1-3.7h0m0-8.8h0m2.5 68.2h0m.7-44.4h0m4.5 1.7h0m.4-89.2h0m1 93.6h0m.2-85.6h0m.3 92.5h0m3.2-17.1h0m.2 45.8h0m1.3-107.9h0m1.7 10.9h0m.5 58.9h0m.4 20.7h0m1.3 5.5h0m1.2-111.6h0m.5 32.4h0m.8 45.4h0m.1 2.9h0m.2-73.3h0m.2-38.1h0m0 77.2h0m1 4.3h0m3.3-51.7h0m3.1 36.8h0m.5 8.3h0m2 38.1h0m.3-67.2h0m.2 52.9h0m0-16.1h0m.9-25.5h0m.9-5.6h0m.9 58.9h0m1.2-43.9h0m1-25.1h0m.9 12.7h0m1.5 11.4h0m2.8-30.7h0m.4 30.5h0m1.6 13.8h0m1.6-51.3h0m1.8 13.3h0m7.2-.1h0" stroke="#ee4a3e" stroke-width="1.8"/>
<path d="M203.5 390.3h0m.1 95.1h0m3.5-88.5h0m.5 77.7h0m1.3-20.3h0m4.3 23.8h0m.9-34.9h0m2.6-66h0m.5 75.2h0m1.9-22.3h0m0 32.6h0m4-13.5h0m.1 2.5h0m1.3-15.3h0m.1 48.1h0m.1-4.7h0m4.8-26.1h0m1.1-1.2h0m.3-57.7h0m.9 78.6h0m.9-74.8h0m.6 7.2h0m.9 64.9h0m1.5-14h0m0 29.5h0m.5-89.1h0m2.3 81.4h0m1-72.3h0m0 89h0m.3-9h0m.1-88.2h0m0 93.2h0m.6-86.1h0m1.3 62.1h0m.9-59.5h0m1.1 65.6h0m2.6-11.5h0m.2-47.9h0m.7-9.9h0m2.9 64.4h0m.6-84h0m0 6.3h0m.9 28.7h0m1 8.7h0m2-3.7h0m.8 17.8h0m.1 25.2h0m.8-33.5h0m1.7 8.4h0m2.1-16.2h0m.9 44.4h0m.1-24.2h0m2.1-2.4h0m1.6 28.1h0m1.2-71.8h0m5.2 39.2h0m.1-13.5h0m.4-15.1h0m3 50.5h0m.1 26h0m4.7-55.4h0m3.1-10.6h0m.5 34.1h0m.9-47.6h0m.8-27.5h0m7.6 84.2h0" stroke="#fff" stroke-width="2.5" stroke-opacity="1.0"/>
<path d="M203.5 390.3h0m.1 95.1h0m3.5-88.5h0m.5 77.7h0m1.3-20.3h0m4.3 23.8h0m.9-34.9h0m2.6-66h0m.5 75.2h0m1.9-22.3h0m0 32.6h0m4-13.5h0m.1 2.5h0m1.3-15.3h0m.1 48.1h0m.1-4.7h0m4.8-26.1h0m1.1-1.2h0m.3-57.7h0m.9 78.6h0m.9-74.8h0m.6 7.2h0m.9 64.9h0m1.5-14h0m0 29.5h0m.5-89.1h0m2.3 81.4h0m1-72.3h0m0 89h0m.3-9h0m.1-88.2h0m0 93.2h0m.6-86.1h0m1.3 62.1h0m.9-59.5h0m1.1 65.6h0m2.6-11.5h0m.2-47.9h0m.7-9.9h0m2.9 64.4h0m.6-84h0m0 6.3h0m.9 28.7h0m1 8.7h0m2-3.7h0m.8 17.8h0m.1 25.2h0m.8-33.5h0m1.7 8.4h0m2.1-16.2h0m.9 44.4h0m.1-24.2h0m2.1-2.4h0m1.6 28.1h0m1.2-71.8h0m5.2 39.2h0m.1-13.5h0m.4-15.1h0m3 50.5h0m.1 26h0m4.7-55.4h0m3.1-10.6h0m.5 34.1h0m.9-47.6h0m.8-27.5h0m7.6 84.2h0" stroke="#ee4a3e" stroke-width="1.8"/>
<path d="M203.4 425.7h0m0-15.2h0m0 19h0m2 36.2h0m1.7-45.9h0m.1-12.2h0m2.6 54.3h0m2.3-6h0m3.7-20.3h0m1.5-48.6h0m.3 14.6h0m2 45.2h0m4.5 19.1h0m.7 41.6h0m.1-5.9h0m.8-98.5h0m1.8 70h0m.9-16.2h0m1.3-8.1h0m.6-45.6h0m3.3 54.3h0m.6 44.9h0m.8-98.8h0m1.4-23.3h0m1.1 88.8h0m.9-96.5h0m1.2 29h0m1.2 2h0m1.9 67.4h0m.5-78.3h0m.2 7.1h0m1.7 12.4h0m.3 67.2h0m1.2-67.3h0m2.4 98.5h0m.1-45h0m2.8-1.5h0m0-47.8h0m.7 78.9h0m3.8-56.9h0m3.3-7.8h0m1.7 53.2h0m2.5-62.4h0m1.1-5.2h0m1.6 33.3h0m4.7-49.5h0m.1 43.3h0m1-55.5h0m.3 59.9h0m.3 45h0m0-15.9h0m.5-35.9h0m1.2-9.5h0m1 50.4h0m.2-28.2h0m3.3-38.8h0m.5 34.9h0m1.1-51.9h0m1.4 64.2h0m.3 11.8h0m.4 29.3h0m2.2-109.8h0m1.9 22.7h0m1.5 54.1h0m7.9-64.2h0m10.3 14.2h0" stroke="#fff" stroke-width="2.5" stroke-opacity="1.0"/>
<path d="M203.4 425.7h0m0-15.2h0m0 19h0m2 36.2h0m1.7-45.9h0m.1-12.2h0m2.6 54.3h0m2.3-6h0m3.7-20.3h0m1.5-48.6h0m.3 14.6h0m2 45.2h0m4.5 19.1h0m.7 41.6h0m.1-5.9h0m.8-98.5h0m1.8 70h0m.9-16.2h0m1.3-8.1h0m.6-45.6h0m3.3 54.3h0m.6 44.9h0m.8-98.8h0m1.4-23.3h0m1.1 88.8h0m.9-96.5h0m1.2 29h0m1.2 2h0m1.9 67.4h0m.5-78.3h0m.2 7.1h0m1.7 12.4h0m.3 67.2h0m1.2-67.3h0m2.4 98.5h0m.1-45h0m2.8-1.5h0m0-47.8h0m.7 78.9h0m3.8-56.9h0m3.3-7.8h0m1.7 53.2h0m2.5-62.4h0m1.1-5.2h0m1.6 33.3h0m4.7-49.5h0m.1 43.3h0m1-55.5h0m.3 59.9h0m.3 45h0m0-15.9h0m.5-35.9h0m1.2-9.5h0m1 50.4h0m.2-28.2h0m3.3-38.8h0m.5 34.9h0m1.1-51.9h0m1.4 64.2h0m.3 11.8h0m.4 29.3h0m2.2-109.8h0m1.9 22.7h0m1.5 54.1h0m7.9-64.2h0m10.3 14.2h0" stroke="#ee4a3e" stroke-width="1.8"/>
<path d="M203.2 416.8h0m.7 88.7h0m1.5-60.2h0m.1 24.5h0m3.9-3.6h0m.2-33.2h0m2 13.3h0m.1-43.6h0m.7 57.1h0m.2 43.9h0m.8-38.5h0m1.3-33.9h0m1.5-3h0m1.1 64.3h0m.1-19h0m1.9 32.6h0m1.2-85.3h0m.2-16.4h0m.2 63.5h0m1.2-58.4h0m.6 64.6h0m.3-67.1h0m2.3 48.8h0m.2-65.6h0m2.3 17.9h0m.1 61.7h0m.7-2.9h0m.8 46.4h0m2-54.2h0m1.3-84.3h0m4.6 12h0m.9 94.9h0m4.2-78.9h0m2.2 73.7h0m.9-7.4h0m2 24.9h0m.1-17h0m1-69.7h0m.7 6.7h0m3 8.6h0m2 22.4h0m.2-46.9h0m.4 20.3h0m.7-33.1h0m1.7 25.2h0m.3 4.5h0m.2 15h0m.5 86.8h0m3.4-127.2h0m.7 65.5h0m2-28.1h0m1.4-21.7h0m3.3 74.7h0m.3 31.8h0m.2-63.6h0m1.2 6.9h0m.4-23h0m1.4-11.1h0m1.4-17.2h0m.9 15h0m.2 16.9h0m9.6-48.4h0m12.9 69.3h0m4.7-16.4h0m.6-25.9h0m3.3 16.7h0" stroke="#fff" stroke-width="2.5" stroke-opacity="1.0"/>
<path d="M203.2 416.8h0m.7 88.7h0m1.5-60.2h0m.1 24.5h0m3.9-3.6h0m.2-33.2h0m2 13.3h0m.1-43.6h0m.7 57.1h0m.2 43.9h0m.8-38.5h0m1.3-33.9h0m1.5-3h0m1.1 64.3h0m.1-19h0m1.9 32.6h0m1.2-85.3h0m.2-16.4h0m.2 63.5h0m1.2-58.4h0m.6 64.6h0m.3-67.1h0m2.3 48.8h0m.2-65.6h0m2.3 17.9h0m.1 61.7h0m.7-2.9h0m.8 46.4h0m2-54.2h0m1.3-84.3h0m4.6 12h0m.9 94.9h0m4.2-78.9h0m2.2 73.7h0m.9-7.4h0m2 24.9h0m.1-17h0m1-69.7h0m.7 6.7h0m3 8.6h0m2 22.4h0m.2-46.9h0m.4 20.3h0m.7-33.1h0m1.7 25.2h0m.3 4.5h0m.2 15h0m.5 86.8h0m3.4-127.2h0m.7 65.5h0m2-28.1h0m1.4-21.7h0m3.3 74.7h0m.3 31.8h0m.2-63.6h0m1.2 6.9h0m.4-23h0m1.4-11.1h0m1.4-17.2h0m.9 15h0m.2 16.9h0m9.6-48.4h0m12.9 69.3h0m4.7-16.4h0m.6-25.9h0m3.3 16.7h0" stroke="#ee4a3e" stroke-width="1.8"/>
<path d="M203.9 421.7h0m4.6 5.2h0m2.2 16h0m1.1-22.8h0m.4 16.9h0m.4-24.1h0m1.3 39.8h0m1.6 30.3h0m1.8-26.9h0m.7-12.1h0m.3 26.5h0m.8-32.9h0m2.5 39.3h0m.4-33.4h0m.5 46.3h0m.1 23h0m0-52.5h0m.5-5.9h0m.5-41.8h0m2.8-7.5h0m.1 41h0m1.4-.2h0m2-65.2h0m.9 75.9h0m.4 10.2h0m1.3 26.8h0m4.6-39.3h0m.6 58.9h0m1-120h0m1 61.8h0m1 44.8h0m2-89.9h0m.1 48.2h0m2.1 2.7h0m.8 69.3h0m2.1-46.4h0m.7-106.7h0m.1 39.9h0m2.5-19h0m.8 26.3h0m2.2 19.1h0m3.2 1.6h0m.1 53.1h0m.4-11.5h0m.4-59.2h0m.7-14h0m.2 19.7h0m.3 6.6h0m4-32.7h0m.1-10.4h0m1-19.6h0m.2 91.5h0m.2-26.1h0m.5 23h0m.5-9.9h0m1.9-44.1h0m.4 45.6h0m.7-22.2h0m.4 31.2h0m5.1 6.8h0m.3-49.5h0m3.2-3.7h0m.9 38.3h0m8.5 6.7h0m4.2 18.4h0m1.2-38.3h0" stroke="#fff" stroke-width="2.5" stroke-opacity="1.0"/>
<path d="M203.9 421.7h0m4.6 5.2h0m2.2 16h0m1.1-22.8h0m.4 16.9h0m.4-24.1h0m1.3 39.8h0m1.6 30.3h0m1.8-26.9h0m.7-12.1h0m.3 26.5h0m.8-32.9h0m2.5 39.3h0m.4-33.4h0m.5 46.3h0m.1 23h0m0-52.5h0m.5-5.9h0m.5-41.8h0m2.8-7.5h0m.1 41h0m1.4-.2h0m2-65.2h0m.9 75.9h0m.4 10.2h0m1.3 26.8h0m4.6-39.3h0m.6 58.9h0m1-120h0m1 61.8h0m1 44.8h0m2-89.9h0m.1 48.2h0m2.1 2.7h0m.8 69.3h0m2.1-46.4h0m.7-106.7h0m.1 39.9h0m2.5-19h0m.8 26.3h0m2.2 19.1h0m3.2 1.6h0m.1 53.1h0m.4-11.5h0m.4-59.2h0m.7-14h0m.2 19.7h0m.3 6.6h0m4-32.7h0m.1-10.4h0m1-19.6h0m.2 91.5h0m.2-26.1h0m.5 23h0m.5-9.9h0m1.9-44.1h0m.4 45.6h0m.7-22.2h0m.4 31.2h0m5.1 6.8h0m.3-49.5h0m3.2-3.7h0m.9 38.3h0m8.5 6.7h0m4.2 18.4h0m1.2-38.3h0" stroke="#ee4a3e" stroke-width="1.8"/>
<path d="M204.8 435.9h0m3.4 22.7h0m1.6 12.5h0m1.1-42.1h0m.8 20.9h0m5.3 9.8h0m.7-53.7h0m.1 71.2h0m.5-53.2h0m1.7-30.7h0m.1 58.3h0m.8-40.7h0m.8 20.2h0m.5-29.6h0m.1 69.6h0m.7-36.1h0m.7-26.4h0m0 87.5h0m2.8-4.7h0m1.6-86.1h0m1.4 .2h0m4.4-3.1h0m2 63.7h0m.7-4.4h0m2.7-.6h0m3.3-6.2h0m.3-76.1h0m.8 32.1h0m.6-3.5h0m.8-5.6h0m.8-14.2h0m.2 75.7h0m0-4.9h0m3.9-40.3h0m1.1 52.8h0m0-61.2h0m.3 73.2h0m.8-6h0m2.3-60.6h0m2 15.7h0m.4-10.6h0m.3 48.1h0m1.9-99.4h0m.6 50.3h0m.2-2.4h0m.3 48.5h0m.2-29.1h0m1.1-1.9h0m.1-20.1h0m.7-11.1h0m1.4 30.8h0m1.4 46.2h0m3.4-42.6h0m1.5-15.7h0m4.6-13.7h0m.3 5.3h0m2.9 24.1h0m6.9 10.3h0m2.1 42.9h0m.9-69.1h0m1.4 35.6h0m2-48h0m7.8 15.5h0m.5-31.5h0m.3 37.9h0m6.4 16.7h0" stroke="#fff" stroke-width="2.5" stroke-opacity="1.0"/>
<path d="M204.8 435.9h0m3.4 22.7h0m1.6 12.5h0m1.1-42.1h0m.8 20.9h0m5.3 9.8h0m.7-53.7h0m.1 71.2h0m.5-53.2h0m1.7-30.7h0m.1 58.3h0m.8-40.7h0m.8 20.2h0m.5-29.6h0m.1 69.6h0m.7-36.1h0m.7-26.4h0m0 87.5h0m2.8-4.7h0m1.6-86.1h0m1.4 .2h0m4.4-3.1h0m2 63.7h0m.7-4.4h0m2.7-.6h0m3.3-6.2h0m.3-76.1h0m.8 32.1h0m.6-3.5h0m.8-5.6h0m.8-14.2h0m.2 75.7h0m0-4.9h0m3.9-40.3h0m1.1 52.8h0m0-61.2h0m.3 73.2h0m.8-6h0m2.3-60.6h0m2 15.7h0m.4-10.6h0m.3 48.1h0m1.9-99.4h0m.6 50.3h0m.2-2.4h0m.3 48.5h0m.2-29.1h0m1.1-1.9h0m.1-20.1h0m.7-11.1h0m1.4 30.8h0m1.4 46.2h0m3.4-42.6h0m1.5-15.7h0m4.6-13.7h0m.3 5.3h0m2.9 24.1h0m6.9 10.3h0m2.1 42.9h0m.9-69.1h0m1.4 35.6h0m2-48h0m7.8 15.5h0m.5-31.5h0m.3 37.9h0m6.4 16.7h0" stroke="#ee4a3e" stroke-width="1.8"/>
<path d="M206.1 402.4h0m0 48.7h0m.5-10.7h0m.6 49.9h0m1.2-42.1h0m.7-11.5h0m.4-61.2h0m1.2 64.1h0m2.1-15.2h0m0 63.3h0m0-53.9h0m1.2-42.2h0m2.7 72.5h0m.6-31.3h0m1.2 16.3h0m1-26.4h0m.7 4.6h0m1-29.4h0m1.8-27.6h0m1.1 92h0m.8-55.8h0m.3 33.8h0m.2 8.7h0m2.8-42.2h0m.9 91h0m0-46.8h0m.2 9.2h0m1.4 26.6h0m1.8-33.8h0m.3 23.4h0m4.7-4.3h0m6.1 40.1h0m1.5-55.4h0m.3 9.3h0m1.4 21.8h0m1.8-77h0m1.5 63.5h0m4.4-67.6h0m.1 29.9h0m2.3-12.4h0m1.5-19.8h0m.7 50.1h0m.2-72.6h0m.7 76.5h0m.6-48.8h0m0 39.4h0m1.8 2.9h0m.5 53.9h0m.5-48.1h0m.4-46.3h0m.4 28.4h0m3.5-14.8h0m1 20.6h0m1.3-32.9h0m1.4 23.9h0m7-52.8h0m2.6 60.6h0m1.4-27.9h0m1.6 25.4h0m6.1-15h0m.8-35.3h0m3.6 47h0m2.2 9.3h0m2.2-28.2h0m6.7 42.8h0" stroke="#fff" stroke-width="2.5" stroke-opacity="1.0"/>
<path d="M206.1 402.4h0m0 48.7h0m.5-10.7h0m.6 49.9h0m1.2-42.1h0m.7-11.5h0m.4-61.2h0m1.2 64.1h0m2.1-15.2h0m0 63.3h0m0-53.9h0m1.2-42.2h0m2.7 72.5h0m.6-31.3h0m1.2 16.3h0m1-26.4h0m.7 4.6h0m1-29.4h0m1.8-27.6h0m1.1 92h0m.8-55.8h0m.3 33.8h0m.2 8.7h0m2.8-42.2h0m.9 91h0m0-46.8h0m.2 9.2h0m1.4 26.6h0m1.8-33.8h0m.3 23.4h0m4.7-4.3h0m6.1 40.1h0m1.5-55.4h0m.3 9.3h0m1.4 21.8h0m1.8-77h0m1.5 63.5h0m4.4-67.6h0m.1 29.9h0m2.3-12.4h0m1.5-19.8h0m.7 50.1h0m.2-72.6h0m.7 76.5h0m.6-48.8h0m0 39.4h0m1.8 2.9h0m.5 53.9h0m.5-48.1h0m.4-46.3h0m.4 28.4h0m3.5-14.8h0m1 20.6h0m1.3-32.9h0m1.4 23.9h0m7-52.8h0m2.6 60.6h0m1.4-27.9h0m1.6 25.4h0m6.1-15h0m.8-35.3h0m3.6 47h0m2.2 9.3h0m2.2-28.2h0m6.7 42.8h0" stroke="#ee4a3e" stroke-width="1.8"/>
<path d="M207.2 430.2h0m.4 52.4h0m4.3-97.2h0m3.4 36.1h0m.5 24.4h0m.9-27.9h0m1.3 78.9h0m3.4-64.6h0m.5-2.7h0m1-52.8h0m1.3 45.1h0m.1-10.7h0m.5 60.1h0m3.1-22.1h0m.4 29.6h0m0-14.7h0m4 15.8h0m1.1-11.7h0m.1-76.8h0m1.5 64.1h0m.6-1.2h0m1.7 1.9h0m3 13.9h0m.4 3.1h0m2.2-8.7h0m1.5 32.7h0m0-38.6h0m.6-75.5h0m.5 26.4h0m2.3-9.1h0m2.5 63.2h0m0-61.8h0m1.1 4.7h0m2.4 41.5h0m.8-25.8h0m.3-8.2h0m1.4 14.8h0m.9-11.4h0m.3 75.3h0m0-57.4h0m.3 12.5h0m.2 16.6h0m2.2 14.9h0m1.3 16.3h0m1.2-7.1h0m.9-69.8h0m.5 13.5h0m2 68.6h0m.8-82.6h0m.2-36.4h0m1 59.6h0m1.3-21.6h0m1.7-24.3h0m0 109.8h0m1.7-47.3h0m1.7 41.9h0m.2-124.1h0m1.5 74h0m.5 17.6h0m2.8 10.4h0m.3-67.5h0m.4 83h0m2-26.2h0m1.8 13.7h0m9.7-83.2h0" stroke="#fff" stroke-width="2.5" stroke-opacity="1.0"/>
<path d="M207.2 430.2h0m.4 52.4h0m4.3-97.2h0m3.4 36.1h0m.5 24.4h0m.9-27.9h0m1.3 78.9h0m3.4-64.6h0m.5-2.7h0m1-52.8h0m1.3 45.1h0m.1-10.7h0m.5 60.1h0m3.1-22.1h0m.4 29.6h0m0-14.7h0m4 15.8h0m1.1-11.7h0m.1-76.8h0m1.5 64.1h0m.6-1.2h0m1.7 1.9h0m3 13.9h0m.4 3.1h0m2.2-8.7h0m1.5 32.7h0m0-38.6h0m.6-75.5h0m.5 26.4h0m2.3-9.1h0m2.5 63.2h0m0-61.8h0m1.1 4.7h0m2.4 41.5h0m.8-25.8h0m.3-8.2h0m1.4 14.8h0m.9-11.4h0m.3 75.3h0m0-57.4h0m.3 12.5h0m.2 16.6h0m2.2 14.9h0m1.3 16.3h0m1.2-7.1h0m.9-69.8h0m.5 13.5h0m2 68.6h0m.8-82.6h0m.2-36.4h0m1 59.6h0m1.3-21.6h0m1.7-24.3h0m0 109.8h0m1.7-47.3h0m1.7 41.9h0m.2-124.1h0m1.5 74h0m.5 17.6h0m2.8 10.4h0m.3-67.5h0m.4 83h0m2-26.2h0m1.8 13.7h0m9.7-83.2h0" stroke="#ee4a3e" stroke-width="1.8"/>
<path d="M38.2 440.5h0m6.9 9.3h0m3.1-68.7h0m4.3 84.2h0m.2-7.6h0m5.2 16.5h0m2.1-52.7h0m15.9-38.9h0m1 57.4h0m2.7-61.7h0m2.5 4.7h0m2.5 107.9h0m1.5 .1h0m1.8-.4h0m.5-41.8h0m3.5 18.1h0m1.4-81.9h0m.9-9.5h0m3.6 104.5h0m2.5-7.8h0m.1 33.4h0m3.6-45.4h0m1 52h0m4.9-32.4h0m1.8-17.8h0m.1 36.3h0m1.2-24.4h0m3.2 25.7h0m1.4 2h0m1 4.3h0m17-179.2h0m22.7-8.7h0m13.6 227.6h0m6.7-47.7h0m1.5 6.9h0m.9 10.3h0m3.1-5h0m1.8 10.4h0m1.3-188.9h0m1.1 172.3h0m.8 28.7h0m1.2-7.5h0m1.7-10.6h0m3.4-6.9h0m1 10.3h0m8.4-127.9h0m.9 116h0m1.4-127.8h0m1.4 121.9h0m3.5-154.1h0m2.8 186.9h0m1.7-176.6h0m1.6-2.6h0m3.1 185.1h0m.9-180.6h0m.1 156h0m1.4-189.7h0m.8 27.3h0m5 160.4h0m11.4-2.8h0m9 8.2h0m8.3 2.4h0m4.4-7.4h0m5.2-12.3h0m8.4 8.3h0m6.2-147.1h0m4.1-.1h0m13.6 107.6h0m.1-74.1h0m6 65.2h0m3-39.9h0m3.1 24.4h0m12.7-13.8h0" stroke="#fff" stroke-width="2.5" stroke-opacity="1.0"/>
<path d="M38.2 440.5h0m6.9 9.3h0m3.1-68.7h0m4.3 84.2h0m.2-7.6h0m5.2 16.5h0m2.1-52.7h0m15.9-38.9h0m1 57.4h0m2.7-61.7h0m2.5 4.7h0m2.5 107.9h0m1.5 .1h0m1.8-.4h0m.5-41.8h0m3.5 18.1h0m1.4-81.9h0m.9-9.5h0m3.6 104.5h0m2.5-7.8h0m.1 33.4h0m3.6-45.4h0m1 52h0m4.9-32.4h0m1.8-17.8h0m.1 36.3h0m1.2-24.4h0m3.2 25.7h0m1.4 2h0m1 4.3h0m17-179.2h0m22.7-8.7h0m13.6 227.6h0m6.7-47.7h0m1.5 6.9h0m.9 10.3h0m3.1-5h0m1.8 10.4h0m1.3-188.9h0m1.1 172.3h0m.8 28.7h0m1.2-7.5h0m1.7-10.6h0m3.4-6.9h0m1 10.3h0m8.4-127.9h0m.9 116h0m1.4-127.8h0m1.4 121.9h0m3.5-154.1h0m2.8 186.9h0m1.7-176.6h0m1.6-2.6h0m3.1 185.1h0m.9-180.6h0m.1 156h0m1.4-189.7h0m.8 27.3h0m5 160.4h0m11.4-2.8h0m9 8.2h0m8.3 2.4h0m4.4-7.4h0m5.2-12.3h0m8.4 8.3h0m6.2-147.1h0m4.1-.1h0m13.6 107.6h0m.1-74.1h0m6 65.2h0m3-39.9h0m3.1 24.4h0m12.7-13.8h0" stroke="#ee4a3e" stroke-width="1.8"/>
<circle cx="132.3" cy="329.3" r="2.2" fill="#f0645a" stroke="none"/>
<path d="M131.1 330.5h0m.6-1.2h0m0-1.5h0m.2 2h0m1.4-1.9h0m.4 3.1h0m.2-1.2h0m.4-1h0" stroke="#fff" stroke-width="1.7" stroke-opacity="1.0"/>
<path d="M131.1 330.5h0m.6-1.2h0m0-1.5h0m.2 2h0m1.4-1.9h0m.4 3.1h0m.2-1.2h0m.4-1h0" stroke="#ee4a3e" stroke-width="1.2"/>
<path d="M131.1 330.2h0m.2-1.3h0m.1-.5h0m.4-.5h0m.1 2.9h0m0-1.9h0m.9-.4h0m.2-1.2h0" stroke="#fff" stroke-width="1.7" stroke-opacity="1.0"/>
<path d="M131.1 330.2h0m.2-1.3h0m.1-.5h0m.4-.5h0m.1 2.9h0m0-1.9h0m.9-.4h0m.2-1.2h0" stroke="#ee4a3e" stroke-width="1.2"/>
<path d="M130.5 329.8h0m.6-.6h0m0-1.1h0m.3 1.3h0m0 1.7h0m.3-2.3h0m.4-1.4h0m1.9 1.5h0" stroke="#fff" stroke-width="1.7" stroke-opacity="1.0"/>
<path d="M130.5 329.8h0m.6-.6h0m0-1.1h0m.3 1.3h0m0 1.7h0m.3-2.3h0m.4-1.4h0m1.9 1.5h0" stroke="#ee4a3e" stroke-width="1.2"/>
<circle cx="189.7" cy="336.5" r="3.2" fill="#f0645a" stroke="none"/>
<path d="M186.8 335.4h0m.5 1.1h0m.5-1.1h0m.1-1.3h0m1.2 .4h0m.5 .8h0m.2-1.8h0m.2 4.3h0m.1-.9h0m.3-2.9h0m.1 .7h0m0-.2h0m.2-.8h0m.4 4.1h0m.1 .6h0m.4-1.6h0m.2 2h0" stroke="#fff" stroke-width="1.7" stroke-opacity="1.0"/>
<path d="M186.8 335.4h0m.5 1.1h0m.5-1.1h0m.1-1.3h0m1.2 .4h0m.5 .8h0m.2-1.8h0m.2 4.3h0m.1-.9h0m.3-2.9h0m.1 .7h0m0-.2h0m.2-.8h0m.4 4.1h0m.1 .6h0m.4-1.6h0m.2 2h0" stroke="#ee4a3e" stroke-width="1.2"/>
<path d="M186.7 337.3h0m1-.7h0m.1 1.9h0m.7-3.6h0m.1 3.6h0m.1 .2h0m.1-4.3h0m.1 2.6h0m0-1.3h0m.6 3.5h0m.5-5.5h0m.6 5.3h0m1-2.5h0m.2-1.7h0m.2 2.7h0m0-.2h0m.5 .4h0" stroke="#fff" stroke-width="1.7" stroke-opacity="1.0"/>
<path d="M186.7 337.3h0m1-.7h0m.1 1.9h0m.7-3.6h0m.1 3.6h0m.1 .2h0m.1-4.3h0m.1 2.6h0m0-1.3h0m.6 3.5h0m.5-5.5h0m.6 5.3h0m1-2.5h0m.2-1.7h0m.2 2.7h0m0-.2h0m.5 .4h0" stroke="#ee4a3e" stroke-width="1.2"/>
<path d="M187.1 336.5h0m.5-.9h0m.9-.4h0m.1 2.2h0m.3 .2h0m.2-2.1h0m.4 2.3h0m0-1.8h0m.1 .2h0m.5 0h0m0 1h0m.7 .9h0m.4 .3h0m.2-4.6h0m.4 1.4h0m.1 1.7h0m.8 .6h0" stroke="#fff" stroke-width="1.7" stroke-opacity="1.0"/>
<path d="M187.1 336.5h0m.5-.9h0m.9-.4h0m.1 2.2h0m.3 .2h0m.2-2.1h0m.4 2.3h0m0-1.8h0m.1 .2h0m.5 0h0m0 1h0m.7 .9h0m.4 .3h0m.2-4.6h0m.4 1.4h0m.1 1.7h0m.8 .6h0" stroke="#ee4a3e" stroke-width="1.2"/>
<circle cx="215.4" cy="349.8" r="2.3" fill="#f0645a" stroke="none"/>
<path d="M213.5 351h0m.2 .2h0m.9-.6h0m0 1.2h0m.8-.2h0m0-3.6h0m1.4 2h0m.2-.9h0m.2 1.9h0" stroke="#fff" stroke-width="1.7" stroke-opacity="1.0"/>
<path d="M213.5 351h0m.2 .2h0m.9-.6h0m0 1.2h0m.8-.2h0m0-3.6h0m1.4 2h0m.2-.9h0m.2 1.9h0" stroke="#ee4a3e" stroke-width="1.2"/>
<path d="M215 348h0m.2 2.1h0m0-1.2h0m.3 2.2h0m.1-.1h0m.1-3h0m.3 1.2h0m.2-1.1h0m1 1.1h0" stroke="#fff" stroke-width="1.7" stroke-opacity="1.0"/>
<path d="M215 348h0m.2 2.1h0m0-1.2h0m.3 2.2h0m.1-.1h0m.1-3h0m.3 1.2h0m.2-1.1h0m1 1.1h0" stroke="#ee4a3e" stroke-width="1.2"/>
<path d="M214.2 349.7h0m.3 2h0m.6-1.4h0m0 .9h0m.7-2.2h0m.2-1.2h0m.1 1h0m1.1 .5h0" stroke="#fff" stroke-width="1.7" stroke-opacity="1.0"/>
<path d="M214.2 349.7h0m.3 2h0m.6-1.4h0m0 .9h0m.7-2.2h0m.2-1.2h0m.1 1h0m1.1 .5h0" stroke="#ee4a3e" stroke-width="1.2"/>
<circle cx="94.4" cy="361.6" r="3.0" fill="#f0645a" stroke="none"/>
<path d="M92 361.7h0m.6-.6h0m.1-.1h0m0 .2h0m.1 .4h0m.1 .6h0m1.2-3.5h0m0-.1h0m.7 .4h0m.4 1.9h0m.2 1.5h0m.1 .9h0m.1-4.3h0m.5 1.9h0m.1 2.2h0" stroke="#fff" stroke-width="1.7" stroke-opacity="1.0"/>
<path d="M92 361.7h0m.6-.6h0m.1-.1h0m0 .2h0m.1 .4h0m.1 .6h0m1.2-3.5h0m0-.1h0m.7 .4h0m.4 1.9h0m.2 1.5h0m.1 .9h0m.1-4.3h0m.5 1.9h0m.1 2.2h0" stroke="#ee4a3e" stroke-width="1.2"/>
<path d="M91.9 362.8h0m.4-2.7h0m.4 1.1h0m.2 2.1h0m.6-3.9h0m.5 2.1h0m.2-2.2h0m.3-.1h0m.5 4h0m.1 1h0m.1-1.8h0m.1-2.2h0m.4 .6h0m.3 2.2h0m.7-1.4h0" stroke="#fff" stroke-width="1.7" stroke-opacity="1.0"/>
<path d="M91.9 362.8h0m.4-2.7h0m.4 1.1h0m.2 2.1h0m.6-3.9h0m.5 2.1h0m.2-2.2h0m.3-.1h0m.5 4h0m.1 1h0m.1-1.8h0m.1-2.2h0m.4 .6h0m.3 2.2h0m.7-1.4h0" stroke="#ee4a3e" stroke-width="1.2"/>
<path d="M91.5 361.1h0m.7 1.2h0m.1-2.3h0m.8 2.7h0m.4-.8h0m.2 2.6h0m0-2.6h0m.1-1.5h0m.3 .1h0m.6-1.1h0m.4 0h0m.1 .9h0m1.3 3.3h0m0-3.9h0m.3 3.5h0" stroke="#fff" stroke-width="1.7" stroke-opacity="1.0"/>
<path d="M91.5 361.1h0m.7 1.2h0m.1-2.3h0m.8 2.7h0m.4-.8h0m.2 2.6h0m0-2.6h0m.1-1.5h0m.3 .1h0m.6-1.1h0m.4 0h0m.1 .9h0m1.3 3.3h0m0-3.9h0m.3 3.5h0" stroke="#ee4a3e" stroke-width="1.2"/>
<circle cx="253.8" cy="371.6" r="3.0" fill="#f0645a" stroke="none"/>
<path d="M251.7 370.4h0m.9 .9h0m.4 2.1h0m.2-.4h0m0-2.7h0m.1 .4h0m.2 2.5h0m.9-1.4h0m.2-.1h0m.3 2.4h0m.4-3.2h0m.3 .8h0m.2 1.1h0m.3 .4h0m.1-2.9h0" stroke="#fff" stroke-width="1.7" stroke-opacity="1.0"/>
<path d="M251.7 370.4h0m.9 .9h0m.4 2.1h0m.2-.4h0m0-2.7h0m.1 .4h0m.2 2.5h0m.9-1.4h0m.2-.1h0m.3 2.4h0m.4-3.2h0m.3 .8h0m.2 1.1h0m.3 .4h0m.1-2.9h0" stroke="#ee4a3e" stroke-width="1.2"/>
<path d="M251 372.4h0m1.2-1.1h0m.9 .8h0m.4-2.4h0m0 .8h0m.1 1.5h0m0-2.9h0m0 2.4h0m.2 1.6h0m.9-1.4h0m.5 1.4h0m0-3.2h0m.7 .2h0m.5 .9h0m.1-.8h0" stroke="#fff" stroke-width="1.7" stroke-opacity="1.0"/>
<path d="M251 372.4h0m1.2-1.1h0m.9 .8h0m.4-2.4h0m0 .8h0m.1 1.5h0m0-2.9h0m0 2.4h0m.2 1.6h0m.9-1.4h0m.5 1.4h0m0-3.2h0m.7 .2h0m.5 .9h0m.1-.8h0" stroke="#ee4a3e" stroke-width="1.2"/>
<path d="M251.8 371.7h0m.2 1h0m.1-3.4h0m.2 .4h0m0 1.4h0m0-.1h0m.1 0h0m1.1-2.1h0m.1 2.9h0m.5 .2h0m0-1.1h0m.3 1.4h0m.8-1.3h0m1.1 1.1h0m.3 .3h0" stroke="#fff" stroke-width="1.7" stroke-opacity="1.0"/>
<path d="M251.8 371.7h0m.2 1h0m.1-3.4h0m.2 .4h0m0 1.4h0m0-.1h0m.1 0h0m1.1-2.1h0m.1 2.9h0m.5 .2h0m0-1.1h0m.3 1.4h0m.8-1.3h0m1.1 1.1h0m.3 .3h0" stroke="#ee4a3e" stroke-width="1.2"/>
<circle cx="67.2" cy="419.6" r="2.8" fill="#f0645a" stroke="none"/>
<path d="M64.8 420h0m.9-.6h0m.4 .6h0m.5 .2h0m.2-2.1h0m.1 1.5h0m.2 .2h0m0-1.9h0m.4 3.5h0m0-4.5h0m.4 2.9h0m.6-.2h0m1.1 0h0" stroke="#fff" stroke-width="1.7" stroke-opacity="1.0"/>
<path d="M64.8 420h0m.9-.6h0m.4 .6h0m.5 .2h0m.2-2.1h0m.1 1.5h0m.2 .2h0m0-1.9h0m.4 3.5h0m0-4.5h0m.4 2.9h0m.6-.2h0m1.1 0h0" stroke="#ee4a3e" stroke-width="1.2"/>
<path d="M65.7 419.5h0m.1-1.5h0m0-.2h0m.1 1.8h0m1 2.6h0m.2-4.8h0m.3 3.9h0m1.2-3.3h0m0-.1h0m.3 .8h0m.2 .2h0m0 1.8h0m.1-.4h0" stroke="#fff" stroke-width="1.7" stroke-opacity="1.0"/>
<path d="M65.7 419.5h0m.1-1.5h0m0-.2h0m.1 1.8h0m1 2.6h0m.2-4.8h0m.3 3.9h0m1.2-3.3h0m0-.1h0m.3 .8h0m.2 .2h0m0 1.8h0m.1-.4h0" stroke="#ee4a3e" stroke-width="1.2"/>
<path d="M64.7 420.4h0m.6-2.4h0m1 2.1h0m.5-.9h0m.2-1.9h0m.6 2.5h0m.5-1.7h0m.4-.3h0m.8 2.9h0m0 0h0m.3-1.1h0m.1-.7h0m.1 1.3h0" stroke="#fff" stroke-width="1.7" stroke-opacity="1.0"/>
<path d="M64.7 420.4h0m.6-2.4h0m1 2.1h0m.5-.9h0m.2-1.9h0m.6 2.5h0m.5-1.7h0m.4-.3h0m.8 2.9h0m0 0h0m.3-1.1h0m.1-.7h0m.1 1.3h0" stroke="#ee4a3e" stroke-width="1.2"/>
<circle cx="82" cy="446.3" r="3.2" fill="#f0645a" stroke="none"/>
<path d="M79.6 444.8h0m.2 .2h0m.3-.7h0m.4 2.5h0m.7-2h0m.3 .1h0m.4-.2h0m.1 3.9h0m.4-4.6h0m.6-.4h0m.3 3.8h0m0-.7h0m.4-2.8h0m.5 2.6h0m0-1.3h0m.6 2.1h0m.3-.8h0" stroke="#fff" stroke-width="1.7" stroke-opacity="1.0"/>
<path d="M79.6 444.8h0m.2 .2h0m.3-.7h0m.4 2.5h0m.7-2h0m.3 .1h0m.4-.2h0m.1 3.9h0m.4-4.6h0m.6-.4h0m.3 3.8h0m0-.7h0m.4-2.8h0m.5 2.6h0m0-1.3h0m.6 2.1h0m.3-.8h0" stroke="#ee4a3e" stroke-width="1.2"/>
<path d="M79.1 446.8h0m.7-2.4h0m.7-.2h0m.9 .9h0m.1 4.3h0m.4-5.6h0m.1 3.5h0m.2-3.5h0m.2 4.8h0m0-5.1h0m.1 3.6h0m0-.3h0m.4 1.3h0m.1-1.3h0m.3-.7h0m0 2.3h0m1-4h0" stroke="#fff" stroke-width="1.7" stroke-opacity="1.0"/>
<path d="M79.1 446.8h0m.7-2.4h0m.7-.2h0m.9 .9h0m.1 4.3h0m.4-5.6h0m.1 3.5h0m.2-3.5h0m.2 4.8h0m0-5.1h0m.1 3.6h0m0-.3h0m.4 1.3h0m.1-1.3h0m.3-.7h0m0 2.3h0m1-4h0" stroke="#ee4a3e" stroke-width="1.2"/>
<path d="M80.6 445.1h0m.4 1.4h0m.1 1.5h0m.2-1.8h0m.3 2.2h0m.1-4.8h0m.1 2h0m.6-.4h0m.1 2.6h0m0-2.4h0m.3 1.4h0m0-2.3h0m.4 2.4h0m.1-2.1h0m.7 2.7h0m1-2h0m0 .7h0" stroke="#fff" stroke-width="1.7" stroke-opacity="1.0"/>
<path d="M80.6 445.1h0m.4 1.4h0m.1 1.5h0m.2-1.8h0m.3 2.2h0m.1-4.8h0m.1 2h0m.6-.4h0m.1 2.6h0m0-2.4h0m.3 1.4h0m0-2.3h0m.4 2.4h0m.1-2.1h0m.7 2.7h0m1-2h0m0 .7h0" stroke="#ee4a3e" stroke-width="1.2"/>
<circle cx="106.7" cy="467.8" r="3.4" fill="#f0645a" stroke="none"/>
<path d="M104.7 467.4h0m.6 1.6h0m0 .9h0m.1-.4h0m0-.3h0m.4 1.4h0m.3-3.4h0m0 2.2h0m.1-3.1h0m.3 1.3h0m.3 3.2h0m.3-2.3h0m.2-1.1h0m.3 3h0m.5-4.5h0m.3 .4h0m.3 2.8h0m.1-1.7h0m1.1 1h0" stroke="#fff" stroke-width="1.7" stroke-opacity="1.0"/>
<path d="M104.7 467.4h0m.6 1.6h0m0 .9h0m.1-.4h0m0-.3h0m.4 1.4h0m.3-3.4h0m0 2.2h0m.1-3.1h0m.3 1.3h0m.3 3.2h0m.3-2.3h0m.2-1.1h0m.3 3h0m.5-4.5h0m.3 .4h0m.3 2.8h0m.1-1.7h0m1.1 1h0" stroke="#ee4a3e" stroke-width="1.2"/>
<path d="M103.8 468.2h0m.2-2h0m.6 0h0m.7 3.6h0m.2-.8h0m0-2.4h0m.6-1.4h0m.1 4.7h0m.1-.7h0m0 0h0m1-4h0m.3 1.2h0m.4 3h0m0-1.9h0m0 .8h0m.2 .9h0m.1-3.5h0m.1 3.1h0m.6-1.5h0" stroke="#fff" stroke-width="1.7" stroke-opacity="1.0"/>
<path d="M103.8 468.2h0m.2-2h0m.6 0h0m.7 3.6h0m.2-.8h0m0-2.4h0m.6-1.4h0m.1 4.7h0m.1-.7h0m0 0h0m1-4h0m.3 1.2h0m.4 3h0m0-1.9h0m0 .8h0m.2 .9h0m.1-3.5h0m.1 3.1h0m.6-1.5h0" stroke="#ee4a3e" stroke-width="1.2"/>
<path d="M103.9 466.1h0m0 0h0m1.4-.7h0m.2 1.2h0m.1-1.6h0m.1 0h0m.2 3.6h0m.5-2h0m.3 2.8h0m.6-4.6h0m.3 4.3h0m.1 1.4h0m.2-5.9h0m.4 3.7h0m.1 1.2h0m.2-1.5h0m.2 1.5h0m.8-3h0m.3 1.1h0" stroke="#fff" stroke-width="1.7" stroke-opacity="1.0"/>
<path d="M103.9 466.1h0m0 0h0m1.4-.7h0m.2 1.2h0m.1-1.6h0m.1 0h0m.2 3.6h0m.5-2h0m.3 2.8h0m.6-4.6h0m.3 4.3h0m.1 1.4h0m.2-5.9h0m.4 3.7h0m.1 1.2h0m.2-1.5h0m.2 1.5h0m.8-3h0m.3 1.1h0" stroke="#ee4a3e" stroke-width="1.2"/>
<circle cx="96.4" cy="489.8" r="3.4" fill="#f0645a" stroke="none"/>
<path d="M93.2 489.6h0m.4-.8h0m.2-.9h0m1.2 2.5h0m0-2.5h0m.1-.1h0m0 3.9h0m.4-1.5h0m.1-2.7h0m.6 2.6h0m.1 1.3h0m.3 1h0m.1 .5h0m1.4-.4h0m.3-4.7h0m.2 1.3h0m.4 2.9h0m.3-2.9h0m.1 1.7h0" stroke="#fff" stroke-width="1.7" stroke-opacity="1.0"/>
<path d="M93.2 489.6h0m.4-.8h0m.2-.9h0m1.2 2.5h0m0-2.5h0m.1-.1h0m0 3.9h0m.4-1.5h0m.1-2.7h0m.6 2.6h0m.1 1.3h0m.3 1h0m.1 .5h0m1.4-.4h0m.3-4.7h0m.2 1.3h0m.4 2.9h0m.3-2.9h0m.1 1.7h0" stroke="#ee4a3e" stroke-width="1.2"/>
<path d="M93.2 488.6h0m.6 1.2h0m.3 .5h0m.6 1.8h0m.9-2.2h0m0-1.7h0m.1 1.9h0m.4 1h0m.1 0h0m0 1.2h0m.2-5.3h0m.3-.3h0m.1 4.6h0m.5-4.1h0m.1 4.3h0m1.4-3.7h0m.3 3.7h0m.2-.7h0m.1-2h0" stroke="#fff" stroke-width="1.7" stroke-opacity="1.0"/>
<path d="M93.2 488.6h0m.6 1.2h0m.3 .5h0m.6 1.8h0m.9-2.2h0m0-1.7h0m.1 1.9h0m.4 1h0m.1 0h0m0 1.2h0m.2-5.3h0m.3-.3h0m.1 4.6h0m.5-4.1h0m.1 4.3h0m1.4-3.7h0m.3 3.7h0m.2-.7h0m.1-2h0" stroke="#ee4a3e" stroke-width="1.2"/>
<path d="M93.8 490h0m0 1.1h0m.1-2.5h0m.2-1.2h0m.2 1.1h0m.1 .7h0m.5-.6h0m.4 .5h0m.2 3.5h0m.4-2.3h0m.6 .6h0m.4 2.1h0m0-4.6h0m.9-.1h0m.1 2.6h0m.1 1.7h0m.1-2.6h0m.3 2h0m.8-3.5h0" stroke="#fff" stroke-width="1.7" stroke-opacity="1.0"/>
<path d="M93.8 490h0m0 1.1h0m.1-2.5h0m.2-1.2h0m.2 1.1h0m.1 .7h0m.5-.6h0m.4 .5h0m.2 3.5h0m.4-2.3h0m.6 .6h0m.4 2.1h0m0-4.6h0m.9-.1h0m.1 2.6h0m.1 1.7h0m.1-2.6h0m.3 2h0m.8-3.5h0" stroke="#ee4a3e" stroke-width="1.2"/>
<circle cx="154.9" cy="515" r="3.2" fill="#f0645a" stroke="none"/>
<path d="M152.1 514.4h0m.2 .5h0m.4-.2h0m.4 1.3h0m.6 .3h0m.1-.7h0m.2-1h0m.2 2.2h0m.1-1.6h0m.2 1.7h0m.4-2.8h0m.1-1.2h0m0 .8h0m0 4.1h0m.8-5.5h0m0 3.8h0m.5 1.7h0" stroke="#fff" stroke-width="1.7" stroke-opacity="1.0"/>
<path d="M152.1 514.4h0m.2 .5h0m.4-.2h0m.4 1.3h0m.6 .3h0m.1-.7h0m.2-1h0m.2 2.2h0m.1-1.6h0m.2 1.7h0m.4-2.8h0m.1-1.2h0m0 .8h0m0 4.1h0m.8-5.5h0m0 3.8h0m.5 1.7h0" stroke="#ee4a3e" stroke-width="1.2"/>
<path d="M152.5 513.5h0m.4 2.9h0m.3-2.6h0m.7 0h0m.1-1.4h0m.3 3.7h0m.7-2.7h0m.3-1.1h0m.2 1.4h0m.1 2.1h0m.4 .8h0m.1 1.3h0m.5-5h0m.1 3.7h0m.1-1.9h0m.3-1.8h0m.1 4.3h0" stroke="#fff" stroke-width="1.7" stroke-opacity="1.0"/>
<path d="M152.5 513.5h0m.4 2.9h0m.3-2.6h0m.7 0h0m.1-1.4h0m.3 3.7h0m.7-2.7h0m.3-1.1h0m.2 1.4h0m.1 2.1h0m.4 .8h0m.1 1.3h0m.5-5h0m.1 3.7h0m.1-1.9h0m.3-1.8h0m.1 4.3h0" stroke="#ee4a3e" stroke-width="1.2"/>
<path d="M152.9 513.5h0m.1 .5h0m.1 3.5h0m.2-3.4h0m.5 3.7h0m.2-3.1h0m0-1.7h0m.1 3.4h0m.5-3.9h0m.3-.1h0m.2 5.1h0m.5-2.1h0m.1-1.1h0m.1-1.5h0m.2 2.6h0m.4-1.3h0m1 .4h0" stroke="#fff" stroke-width="1.7" stroke-opacity="1.0"/>
<path d="M152.9 513.5h0m.1 .5h0m.1 3.5h0m.2-3.4h0m.5 3.7h0m.2-3.1h0m0-1.7h0m.1 3.4h0m.5-3.9h0m.3-.1h0m.2 5.1h0m.5-2.1h0m.1-1.1h0m.1-1.5h0m.2 2.6h0m.4-1.3h0m1 .4h0" stroke="#ee4a3e" stroke-width="1.2"/>
<circle cx="272.3" cy="503.7" r="2.2" fill="#f0645a" stroke="none"/>
<path d="M271.1 505.2h0m.2-2.2h0m.1 2h0m1.4 .2h0m.3-.6h0m.1-.4h0m.3-.9h0m.4-.8h0" stroke="#fff" stroke-width="1.7" stroke-opacity="1.0"/>
<path d="M271.1 505.2h0m.2-2.2h0m.1 2h0m1.4 .2h0m.3-.6h0m.1-.4h0m.3-.9h0m.4-.8h0" stroke="#ee4a3e" stroke-width="1.2"/>
<path d="M271.1 502h0m.7 2.2h0m.5-.8h0m.3 1.5h0m.1 .5h0m.2-1.3h0m0-.2h0m.7-.9h0" stroke="#fff" stroke-width="1.7" stroke-opacity="1.0"/>
<path d="M271.1 502h0m.7 2.2h0m.5-.8h0m.3 1.5h0m.1 .5h0m.2-1.3h0m0-.2h0m.7-.9h0" stroke="#ee4a3e" stroke-width="1.2"/>
<path d="M270.2 503.9h0m.9 1.1h0m.7-1.4h0m.3-1.3h0m.4 3.4h0m.3-2.9h0m.7-.6h0m.4 2.9h0" stroke="#fff" stroke-width="1.7" stroke-opacity="1.0"/>
<path d="M270.2 503.9h0m.9 1.1h0m.7-1.4h0m.3-1.3h0m.4 3.4h0m.3-2.9h0m.7-.6h0m.4 2.9h0" stroke="#ee4a3e" stroke-width="1.2"/>
<path d="M219.3 397h0m0 2.1h0m.7-4h0m0 0h0m1.5-.2h0m.6 1.5h0m.3 .1h0m.7-1.8h0m.7 4.3h0m0-.9h0" stroke="#fff" stroke-width="1.7" stroke-opacity="1.0"/>
<path d="M219.3 397h0m0 2.1h0m.7-4h0m0 0h0m1.5-.2h0m.6 1.5h0m.3 .1h0m.7-1.8h0m.7 4.3h0m0-.9h0" stroke="#f59a92" stroke-width="1.2"/>
<path d="M218.8 396.8h0m.5-1h0m.4 .3h0m.4 .4h0m0 2.4h0m.9-2.6h0m.2 1.9h0m.2 .6h0m.5-.7h0m2.2-1.3h0" stroke="#fff" stroke-width="1.7" stroke-opacity="1.0"/>
<path d="M218.8 396.8h0m.5-1h0m.4 .3h0m.4 .4h0m0 2.4h0m.9-2.6h0m.2 1.9h0m.2 .6h0m.5-.7h0m2.2-1.3h0" stroke="#f59a92" stroke-width="1.2"/>
<path d="M219.2 398.4h0m.8-3.3h0m0 .9h0m1.9 1.7h0m.1-1.8h0m.5-.2h0m.2 2.4h0m.2-2.2h0m.8 2h0m.8-1.7h0" stroke="#fff" stroke-width="1.7" stroke-opacity="1.0"/>
<path d="M219.2 398.4h0m.8-3.3h0m0 .9h0m1.9 1.7h0m.1-1.8h0m.5-.2h0m.2 2.4h0m.2-2.2h0m.8 2h0m.8-1.7h0" stroke="#f59a92" stroke-width="1.2"/>
<path d="M219.6 470.2h0m.4 .3h0m.5 2h0m1-.9h0m.6 .2h0m.3-1h0m.2-.6h0m1.3 1.1h0m.1-1.4h0" stroke="#fff" stroke-width="1.7" stroke-opacity="1.0"/>
<path d="M219.6 470.2h0m.4 .3h0m.5 2h0m1-.9h0m.6 .2h0m.3-1h0m.2-.6h0m1.3 1.1h0m.1-1.4h0" stroke="#f59a92" stroke-width="1.2"/>
<path d="M219.2 473.3h0m.6-1.5h0m1-1.4h0m1.2 1.1h0m.2-.3h0m1.1 .9h0m.2 .4h0m.7-.1h0m.2-.6h0" stroke="#fff" stroke-width="1.7" stroke-opacity="1.0"/>
<path d="M219.2 473.3h0m.6-1.5h0m1-1.4h0m1.2 1.1h0m.2-.3h0m1.1 .9h0m.2 .4h0m.7-.1h0m.2-.6h0" stroke="#f59a92" stroke-width="1.2"/>
<path d="M219.3 469.8h0m.5-.7h0m.6 4.5h0m.3 .3h0m1.2-5.4h0m1 2.8h0m.7-.7h0m.2-.6h0m0 1.2h0" stroke="#fff" stroke-width="1.7" stroke-opacity="1.0"/>
<path d="M219.3 469.8h0m.5-.7h0m.6 4.5h0m.3 .3h0m1.2-5.4h0m1 2.8h0m.7-.7h0m.2-.6h0m0 1.2h0" stroke="#f59a92" stroke-width="1.2"/>
</g>
<rect x="24.4" y="306.3" width="315.3" height="250.7" fill="none" stroke="#3a3a3a" stroke-width="0.8"/>
<path d="M44.3 557v2M112.5 557v2M180.7 557v2M248.9 557v2M317.1 557v2M24.4 329.9h-2M24.4 362.9h-2M24.4 396h-2M24.4 429h-2M24.4 462h-2M24.4 495.1h-2M24.4 528.1h-2" stroke="#3a3a3a" stroke-width="0.6" fill="none"/>
<g font-size="4.7" fill="#111" stroke="#111" stroke-width="0.08">
<text x="44.3" y="564.6" text-anchor="middle">−100</text>
<text x="112.5" y="564.6" text-anchor="middle">−50</text>
<text x="180.7" y="564.6" text-anchor="middle">0</text>
<text x="248.9" y="564.6" text-anchor="middle">50</text>
<text x="317.1" y="564.6" text-anchor="middle">100</text>
<text x="20.8" y="331.6" text-anchor="end">75</text>
<text x="20.8" y="364.6" text-anchor="end">50</text>
<text x="20.8" y="397.7" text-anchor="end">25</text>
<text x="20.8" y="430.7" text-anchor="end">0</text>
<text x="20.8" y="463.7" text-anchor="end">−25</text>
<text x="20.8" y="496.8" text-anchor="end">−50</text>
<text x="20.8" y="529.8" text-anchor="end">−75</text>
<text x="182" y="571.6" text-anchor="middle">Dim 1</text>
<text transform="translate(8.2 431.6) rotate(-90)" text-anchor="middle">Dim 2</text>
</g>
<rect x="273.8" y="310.1" width="64.5" height="18.9" rx="1" fill="#888" fill-opacity="0.55"/>
<rect x="272.9" y="309.2" width="64.5" height="18.9" rx="1" fill="#fff" stroke="#ccc" stroke-width="0.5"/>
<circle cx="281.4" cy="314.6" r="0.75" fill="#4791b4"/><circle cx="281.4" cy="323" r="0.75" fill="#ee4a3e"/>
<text x="291.3" y="316.1" font-size="5.68" fill="#111" stroke="#111" stroke-width="0.1">Visual features</text>
<text x="291.3" y="324.5" font-size="5.68" fill="#111" stroke="#111" stroke-width="0.1">Text features</text>
<text x="179.7" y="594.2" font-family="'Liberation Serif',serif" font-size="15" text-anchor="middle" fill="#111" textLength="79.3" lengthAdjust="spacingAndGlyphs">Qwen2.5 VL</text>
<rect x="368.7" y="302.8" width="343.1" height="273.5" fill="#fff" stroke="#ececec" stroke-width="1"/>
<path d="M453.7 306.3V557.2M514.3 306.3V557.2M574.9 306.3V557.2M635.5 306.3V557.2M696.1 306.3V557.2M395.5 340.7H707.8M395.5 388.9H707.8M395.5 437H707.8M395.5 485.1H707.8M395.5 533.3H707.8" stroke="#e4e4e4" stroke-width="0.5" stroke-dasharray="0.8 0.8" fill="none"/>
<g clip-path="url(#cp2)" fill="none" stroke-linecap="round">
<path d="M408.8 430.4h0m1.2-12.3h0m1.5-9.5h0m1.4 13.2h0m2.1 41.6h0m1.7-32.5h0m.6-31.6h0m.7 51.9h0m1.2-32.8h0m.7-14.7h0m.6 33.5h0m1.3-11.8h0m.4 45.1h0m.9-30.2h0m1.3-4.4h0m.4-14.6h0m.2-30.5h0m1 84h0m.2-22.8h0m.2-51.3h0m.1 8.6h0m.4-12.4h0m.9 37.1h0m1.5 44.1h0m1.5-84.4h0m0 65.1h0m.6-21.8h0m.3 26.1h0m0-37h0m.5-7.6h0m.1 74.4h0m.4-48.4h0m.4 6.4h0m1.3-21.2h0m1 31.3h0m.1-38.1h0m.8-34.8h0m.2 105.1h0m.5-82.7h0m1.2 64.1h0m.1-55.4h0m.3 38h0m.8-50.1h0m.1-38.5h0m.1 26h0m.4 19.7h0m1.1 39.4h0m.8-73.3h0m.6 117.6h0m.2-34.8h0m.5 18.1h0m.8-95.6h0m.7 116.6h0m0-69.3h0m.3 60.7h0m2.2-77h0m.2-6.3h0m.3 71.9h0m.1-95.1h0m.3 117.9h0m.3-47h0m.1 30.9h0m.5 11.7h0m.4-78.5h0m1.3 86.8h0m.6-22.6h0m1.2-86.9h0m.6-33.8h0m.1 140.3h0m.1-72.1h0m1.2 20.3h0m.5-101.1h0m.1 22.8h0m.5-29h0m.2 140.5h0m.7-88.9h0m0-29h0m.9 71.3h0m1.2-7.6h0m.6 56h0m.6 8.8h0m.7-27.9h0m1.1-50.3h0m.2-76.9h0m.9 166.9h0m.4-8.3h0m.1 12.3h0m.6-108.3h0m.7 85.2h0m.6-66.6h0m1.7 9.4h0m.3-35.1h0m1 93.4h0m0-63.9h0m.2 17.4h0m.1 68.8h0m.6-159.8h0m.1 167.9h0m2.4-74.1h0m.4-12.5h0m2.1-26.1h0m.2-71.3h0m.1 177.2h0m.2-83.1h0m.5-38.8h0m.7 6h0m.3-58h0m.3 7.5h0m.3 174.8h0m.9-149.7h0m.8 35.3h0m2.1 52.9h0m.2 34.6h0m1-155.9h0m.2 179.7h0m.5-112h0m1.2-21.9h0m2.3-36.1h0m0 134.6h0m.8 9.4h0m.3-35.8h0m.2-52h0m.8 57.2h0m2-32.1h0m.3-95.7h0m.3 148.2h0m.6-110.5h0m.3 144.9h0m.2-119.3h0m.4-40.5h0m.1-17.6h0m.9 8.2h0m1.9 152.3h0m.9-143h0m.1 26.5h0m2.5 111h0m2.6-162.8h0m2.4 193.7h0m.3-24.7h0m0-114.7h0m.2-22.6h0m.1-34h0m.4 12.5h0m1.2 18h0m.1 149.6h0m.2 20.1h0m.4-191.4h0m.3 175.2h0m2.6-130.6h0m1.4 129.4h0m.2-192.7h0m.4 215.3h0m.5-164.6h0m.7-16.4h0m.5-31.1h0m1.2 34.8h0m.2 151.1h0m1.2-169.3h0m0 25.8h0m1 12.8h0m1.3 119.8h0m2.5 36.4h0m.1 6.2h0m1.3-198.3h0m.3 15.2h0m.1-23.7h0m.8 13h0m.6 183.6h0m.1-176.4h0m.7 27.1h0m1.2-61.2h0m.4 49.5h0m.7-35.6h0m.3 23.8h0m.6-3.7h0m1.2 12.5h0m1.7-34h0m.1-8.4h0m.2-4.2h0m3.7 4.2h0m.2 218.1h0m.1-32.5h0m.2-169.9h0m1.1-12h0m2 195.6h0m1.6 8.7h0m1.4-192.7h0m.3 21.1h0m.3-42h0m.4 204.7h0m.2-174.8h0m.9 165.9h0m.8 3.9h0m0-195.4h0m.4-7.2h0m1.5 31h0m.8 174.2h0m.2 22.3h0m.6-26.5h0m1.5-186.1h0m.2-15.5h0m.2 32.8h0m2.4-24.1h0m.7 201.5h0m2 15.9h0m1.8-10.4h0m1.1 4.3h0m3.8-220h0m.9 202.5h0m2.5-184.5h0m.2 201.9h0m8.3-218.1h0m4.3 225.5h0m3.1-212h0m2.4 211.2h0m6-2.3h0m18.6-196.6h0m10.6-3.1h0m5.7-8.3h0" stroke="#fff" stroke-width="2.4" stroke-opacity="1.0"/>
<path d="M408.8 430.4h0m1.2-12.3h0m1.5-9.5h0m1.4 13.2h0m2.1 41.6h0m1.7-32.5h0m.6-31.6h0m.7 51.9h0m1.2-32.8h0m.7-14.7h0m.6 33.5h0m1.3-11.8h0m.4 45.1h0m.9-30.2h0m1.3-4.4h0m.4-14.6h0m.2-30.5h0m1 84h0m.2-22.8h0m.2-51.3h0m.1 8.6h0m.4-12.4h0m.9 37.1h0m1.5 44.1h0m1.5-84.4h0m0 65.1h0m.6-21.8h0m.3 26.1h0m0-37h0m.5-7.6h0m.1 74.4h0m.4-48.4h0m.4 6.4h0m1.3-21.2h0m1 31.3h0m.1-38.1h0m.8-34.8h0m.2 105.1h0m.5-82.7h0m1.2 64.1h0m.1-55.4h0m.3 38h0m.8-50.1h0m.1-38.5h0m.1 26h0m.4 19.7h0m1.1 39.4h0m.8-73.3h0m.6 117.6h0m.2-34.8h0m.5 18.1h0m.8-95.6h0m.7 116.6h0m0-69.3h0m.3 60.7h0m2.2-77h0m.2-6.3h0m.3 71.9h0m.1-95.1h0m.3 117.9h0m.3-47h0m.1 30.9h0m.5 11.7h0m.4-78.5h0m1.3 86.8h0m.6-22.6h0m1.2-86.9h0m.6-33.8h0m.1 140.3h0m.1-72.1h0m1.2 20.3h0m.5-101.1h0m.1 22.8h0m.5-29h0m.2 140.5h0m.7-88.9h0m0-29h0m.9 71.3h0m1.2-7.6h0m.6 56h0m.6 8.8h0m.7-27.9h0m1.1-50.3h0m.2-76.9h0m.9 166.9h0m.4-8.3h0m.1 12.3h0m.6-108.3h0m.7 85.2h0m.6-66.6h0m1.7 9.4h0m.3-35.1h0m1 93.4h0m0-63.9h0m.2 17.4h0m.1 68.8h0m.6-159.8h0m.1 167.9h0m2.4-74.1h0m.4-12.5h0m2.1-26.1h0m.2-71.3h0m.1 177.2h0m.2-83.1h0m.5-38.8h0m.7 6h0m.3-58h0m.3 7.5h0m.3 174.8h0m.9-149.7h0m.8 35.3h0m2.1 52.9h0m.2 34.6h0m1-155.9h0m.2 179.7h0m.5-112h0m1.2-21.9h0m2.3-36.1h0m0 134.6h0m.8 9.4h0m.3-35.8h0m.2-52h0m.8 57.2h0m2-32.1h0m.3-95.7h0m.3 148.2h0m.6-110.5h0m.3 144.9h0m.2-119.3h0m.4-40.5h0m.1-17.6h0m.9 8.2h0m1.9 152.3h0m.9-143h0m.1 26.5h0m2.5 111h0m2.6-162.8h0m2.4 193.7h0m.3-24.7h0m0-114.7h0m.2-22.6h0m.1-34h0m.4 12.5h0m1.2 18h0m.1 149.6h0m.2 20.1h0m.4-191.4h0m.3 175.2h0m2.6-130.6h0m1.4 129.4h0m.2-192.7h0m.4 215.3h0m.5-164.6h0m.7-16.4h0m.5-31.1h0m1.2 34.8h0m.2 151.1h0m1.2-169.3h0m0 25.8h0m1 12.8h0m1.3 119.8h0m2.5 36.4h0m.1 6.2h0m1.3-198.3h0m.3 15.2h0m.1-23.7h0m.8 13h0m.6 183.6h0m.1-176.4h0m.7 27.1h0m1.2-61.2h0m.4 49.5h0m.7-35.6h0m.3 23.8h0m.6-3.7h0m1.2 12.5h0m1.7-34h0m.1-8.4h0m.2-4.2h0m3.7 4.2h0m.2 218.1h0m.1-32.5h0m.2-169.9h0m1.1-12h0m2 195.6h0m1.6 8.7h0m1.4-192.7h0m.3 21.1h0m.3-42h0m.4 204.7h0m.2-174.8h0m.9 165.9h0m.8 3.9h0m0-195.4h0m.4-7.2h0m1.5 31h0m.8 174.2h0m.2 22.3h0m.6-26.5h0m1.5-186.1h0m.2-15.5h0m.2 32.8h0m2.4-24.1h0m.7 201.5h0m2 15.9h0m1.8-10.4h0m1.1 4.3h0m3.8-220h0m.9 202.5h0m2.5-184.5h0m.2 201.9h0m8.3-218.1h0m4.3 225.5h0m3.1-212h0m2.4 211.2h0m6-2.3h0m18.6-196.6h0m10.6-3.1h0m5.7-8.3h0" stroke="#f57f76" stroke-width="1.8"/>
<path d="M410.2 434.5h0m2 21.1h0m.9-39.5h0m.3 31.9h0m.5-10.9h0m3.5 2.5h0m1.9-17.2h0m1.1 6.5h0m.1-32.2h0m.9 47.2h0m.1 4.9h0m.8-64.7h0m.9 21.4h0m.5 10.1h0m1.6 12h0m1.4 55.2h0m1.1-57.9h0m.6 16.2h0m1.2-68.5h0m.5 56.9h0m.3-44h0m.7 12.6h0m.8-21.4h0m1.1 26.5h0m1.5 3.7h0m.3-22.3h0m.2-17.8h0m.1 30h0m1.6 82.5h0m1.6-15.3h0m.4 34.6h0m.2-70.6h0m2 73.6h0m1.5-62.3h0m.3-78.4h0m.5 115.5h0m.2-67.9h0m1-31.6h0m.8 15.7h0m.5-11.1h0m1.3-23.2h0m.3 89.5h0m0 49.6h0m1.9-130.5h0m0 67.7h0m1-50.8h0m.5 31.1h0m.8 46.8h0m3.2-23.7h0m1.5-45.7h0m.3 10.3h0m0 47h0m0 43.2h0m.3-82.3h0m.2 47.4h0m2 54.1h0m0-26.8h0m.3-7.4h0m.1 39.5h0m.8-113.1h0m.6-44.2h0m0 7.9h0m.2 138.5h0m.4-80.8h0m.2 34.5h0m.1 34h0m.1-96.6h0m.3 54.9h0m.6-102.5h0m.8 66.7h0m.3 66.8h0m.8-20.6h0m.4 16.5h0m.4-139.4h0m.2 32.9h0m.3 134.1h0m.5 3.7h0m.5-152.7h0m.3 81.3h0m.2-77.6h0m.9 114.1h0m.2-67.4h0m.3-4.3h0m.1-54.5h0m0 122.3h0m.2-57.2h0m1.5-77.4h0m.1 160.8h0m.1-102.6h0m.2 61.9h0m.2 32.1h0m.4 19.9h0m.6-147.6h0m0 100h0m.1-17.4h0m.1 58.8h0m.3-51.2h0m0-79.6h0m.6 40.9h0m.8 60.9h0m.6 25h0m1.6 5.6h0m0-101.3h0m.2-69.5h0m.1 160h0m.5-23.5h0m.1 6.1h0m.4-116.1h0m.2 9.6h0m.5-31.7h0m.3 178.6h0m.4-51.2h0m.5-68.3h0m.1 41.5h0m.1-61.7h0m.3 124.3h0m.5-43.9h0m.3-123.8h0m.2 49.9h0m.5 130.8h0m.1-142.3h0m0 138.5h0m.1-40.2h0m.1 3.9h0m0-26.9h0m2.2 81.3h0m.3-114.1h0m.6-10.8h0m.2-4.1h0m0 19.9h0m.2 69.7h0m.4-115.5h0m.1 96.8h0m.6 47.1h0m.2-183.1h0m.5 187h0m.6-129.1h0m.6 133.1h0m.1-159.9h0m.2 36.3h0m.2-72.9h0m.7 18.9h0m.1 157.3h0m.1 24.1h0m2.1-32h0m.9-152.3h0m.4 189.2h0m.4-180.8h0m1.1 139.9h0m.3 22.9h0m1.5 6.4h0m.8-169.4h0m.4 180.8h0m.1-48.9h0m.6 32.7h0m0-8.5h0m1 18.8h0m1-6.3h0m.3-137.8h0m.3-23.9h0m.5 129.2h0m.7 42h0m2.7-139.8h0m.4-33.5h0m1.1-6.7h0m.4 187.3h0m.8-215h0m1 56h0m1.8 150.1h0m.9-188.7h0m.7 48.2h0m.7-52.7h0m.4 183.4h0m0-135.1h0m.1-8.2h0m1.5 156.7h0m2.5-30.1h0m.5-147.7h0m.1 151.5h0m.3-179.6h0m.4 7.6h0m1.6 43.1h0m1.4 144.6h0m.4-182.9h0m.6-15.8h0m.6 51h0m1.4-9.9h0m2.2 159.5h0m.1-4.6h0m0-171.8h0m1.9 25.9h0m.9 139.5h0m.7 26.3h0m.7-10.6h0m.5-178.3h0m.4 184.7h0m.6-163.2h0m3.4 146.8h0m.4-202.2h0m1.3 17.6h0m.4 3.9h0m.7 10.2h0m1-25.8h0m2.6 13.9h0m1.2-5.1h0m.8 204.5h0m1.8-183.6h0m.7-16.3h0m.3 197.5h0m4.4-15h0m2.5-190.7h0m7 205.7h0m7.1 6h0m.8-6h0m3.9 4.9h0m9.7-1.1h0m15.6-196.4h0m.2-8.9h0m12.7-5.5h0" stroke="#fff" stroke-width="2.4" stroke-opacity="1.0"/>
<path d="M410.2 434.5h0m2 21.1h0m.9-39.5h0m.3 31.9h0m.5-10.9h0m3.5 2.5h0m1.9-17.2h0m1.1 6.5h0m.1-32.2h0m.9 47.2h0m.1 4.9h0m.8-64.7h0m.9 21.4h0m.5 10.1h0m1.6 12h0m1.4 55.2h0m1.1-57.9h0m.6 16.2h0m1.2-68.5h0m.5 56.9h0m.3-44h0m.7 12.6h0m.8-21.4h0m1.1 26.5h0m1.5 3.7h0m.3-22.3h0m.2-17.8h0m.1 30h0m1.6 82.5h0m1.6-15.3h0m.4 34.6h0m.2-70.6h0m2 73.6h0m1.5-62.3h0m.3-78.4h0m.5 115.5h0m.2-67.9h0m1-31.6h0m.8 15.7h0m.5-11.1h0m1.3-23.2h0m.3 89.5h0m0 49.6h0m1.9-130.5h0m0 67.7h0m1-50.8h0m.5 31.1h0m.8 46.8h0m3.2-23.7h0m1.5-45.7h0m.3 10.3h0m0 47h0m0 43.2h0m.3-82.3h0m.2 47.4h0m2 54.1h0m0-26.8h0m.3-7.4h0m.1 39.5h0m.8-113.1h0m.6-44.2h0m0 7.9h0m.2 138.5h0m.4-80.8h0m.2 34.5h0m.1 34h0m.1-96.6h0m.3 54.9h0m.6-102.5h0m.8 66.7h0m.3 66.8h0m.8-20.6h0m.4 16.5h0m.4-139.4h0m.2 32.9h0m.3 134.1h0m.5 3.7h0m.5-152.7h0m.3 81.3h0m.2-77.6h0m.9 114.1h0m.2-67.4h0m.3-4.3h0m.1-54.5h0m0 122.3h0m.2-57.2h0m1.5-77.4h0m.1 160.8h0m.1-102.6h0m.2 61.9h0m.2 32.1h0m.4 19.9h0m.6-147.6h0m0 100h0m.1-17.4h0m.1 58.8h0m.3-51.2h0m0-79.6h0m.6 40.9h0m.8 60.9h0m.6 25h0m1.6 5.6h0m0-101.3h0m.2-69.5h0m.1 160h0m.5-23.5h0m.1 6.1h0m.4-116.1h0m.2 9.6h0m.5-31.7h0m.3 178.6h0m.4-51.2h0m.5-68.3h0m.1 41.5h0m.1-61.7h0m.3 124.3h0m.5-43.9h0m.3-123.8h0m.2 49.9h0m.5 130.8h0m.1-142.3h0m0 138.5h0m.1-40.2h0m.1 3.9h0m0-26.9h0m2.2 81.3h0m.3-114.1h0m.6-10.8h0m.2-4.1h0m0 19.9h0m.2 69.7h0m.4-115.5h0m.1 96.8h0m.6 47.1h0m.2-183.1h0m.5 187h0m.6-129.1h0m.6 133.1h0m.1-159.9h0m.2 36.3h0m.2-72.9h0m.7 18.9h0m.1 157.3h0m.1 24.1h0m2.1-32h0m.9-152.3h0m.4 189.2h0m.4-180.8h0m1.1 139.9h0m.3 22.9h0m1.5 6.4h0m.8-169.4h0m.4 180.8h0m.1-48.9h0m.6 32.7h0m0-8.5h0m1 18.8h0m1-6.3h0m.3-137.8h0m.3-23.9h0m.5 129.2h0m.7 42h0m2.7-139.8h0m.4-33.5h0m1.1-6.7h0m.4 187.3h0m.8-215h0m1 56h0m1.8 150.1h0m.9-188.7h0m.7 48.2h0m.7-52.7h0m.4 183.4h0m0-135.1h0m.1-8.2h0m1.5 156.7h0m2.5-30.1h0m.5-147.7h0m.1 151.5h0m.3-179.6h0m.4 7.6h0m1.6 43.1h0m1.4 144.6h0m.4-182.9h0m.6-15.8h0m.6 51h0m1.4-9.9h0m2.2 159.5h0m.1-4.6h0m0-171.8h0m1.9 25.9h0m.9 139.5h0m.7 26.3h0m.7-10.6h0m.5-178.3h0m.4 184.7h0m.6-163.2h0m3.4 146.8h0m.4-202.2h0m1.3 17.6h0m.4 3.9h0m.7 10.2h0m1-25.8h0m2.6 13.9h0m1.2-5.1h0m.8 204.5h0m1.8-183.6h0m.7-16.3h0m.3 197.5h0m4.4-15h0m2.5-190.7h0m7 205.7h0m7.1 6h0m.8-6h0m3.9 4.9h0m9.7-1.1h0m15.6-196.4h0m.2-8.9h0m12.7-5.5h0" stroke="#f57f76" stroke-width="1.8"/>
<path d="M408.8 425.7h0m3.3 18.4h0m1.7-42.5h0m.1 9.9h0m2.5 44.9h0m1 3.8h0m2.5-27.4h0m.1-23.9h0m.2 4.2h0m1 62.1h0m.2-82.4h0m.1 68.9h0m.6-9.3h0m1.1 27.5h0m1.9-34.1h0m.2 21.6h0m.3-89.3h0m1.6 9.6h0m.3-4.7h0m0 72.9h0m.2 6.4h0m.8-13.7h0m.6 23.7h0m0-66.9h0m.3 10.1h0m3 52.7h0m.4 12.5h0m.4-46.9h0m.8-19.1h0m.4 40.4h0m1.3-62h0m.5-14.6h0m1 106h0m.1-13.9h0m2.3-106.7h0m.4 69.2h0m.6 55.6h0m.1-114.8h0m.7 50.2h0m0 60.7h0m.8-26.4h0m0 12.5h0m.6-81.5h0m1.3 29.7h0m.4 68.2h0m1.2-121.9h0m.4 59.4h0m1.1 53.7h0m1.2-27h0m.7 41.4h0m.1-91.6h0m.8-46.2h0m1.1 35.9h0m1.2 55.9h0m0-76.2h0m0-20.5h0m.3 92.5h0m.2 51.8h0m0-132.6h0m1.3 33.7h0m.4 106.4h0m.8-4h0m.1-36.7h0m.2 15.2h0m1-11.3h0m.4-99.8h0m1.8 22.9h0m1 93.2h0m.8-72.6h0m1-15.3h0m.2-18.9h0m.5 145.3h0m.3-32.9h0m.6-54.2h0m.3-77.3h0m.2 73.1h0m.1-64.7h0m.7 103h0m.2-99.3h0m.4 79.6h0m1 72.2h0m.2-65.8h0m.5-59.2h0m.5 65.2h0m.7 40.9h0m.1-14.5h0m.8-115.8h0m.3-25h0m.4-4.2h0m.9 127h0m0 50.1h0m1.2-24.9h0m.8-142.8h0m.2 175.5h0m.3-120.2h0m.6 60.1h0m.1-111.4h0m.5 14.5h0m.4 150.8h0m.4-32.6h0m.6-123h0m.3 72h0m.6 91.3h0m1.4-78.7h0m.1-33.8h0m1.4-9.6h0m.1-15.4h0m.6 42.4h0m1.1 73.1h0m.3-63.2h0m.1-78.4h0m.6-16.3h0m.2 45h0m.2 100.9h0m.7-56.6h0m.7 29h0m.4 37.1h0m.2 4.5h0m.3-139.3h0m.4 84.7h0m.1-110.8h0m0 19.9h0m.7 15.8h0m.1 121.7h0m.1-17.9h0m1 50.8h0m1.4-188.5h0m.4 12.3h0m.6 144.9h0m1.7-23.5h0m.2-145h0m.8 55.9h0m1.2-6.3h0m.5 147.7h0m1.7-139.8h0m.2-49.4h0m.1 149h0m1.1-152.7h0m.1 42.2h0m.9-34.8h0m.2 4.2h0m1.1 8h0m.3 145.7h0m.6 3.8h0m.6-181.9h0m.9 191h0m1-21.3h0m.8-139.5h0m.2 165.6h0m.3-142.1h0m.3-51.1h0m.1 196.9h0m2.4-175.9h0m.4 41.1h0m0-20.6h0m.4 137.1h0m1.5-5.3h0m.3-173.2h0m.7 24.9h0m2.8 188.9h0m.1-176.7h0m1.1-35.8h0m1-7.1h0m.4 30.5h0m.6-19.5h0m.6 205.6h0m.3-21.6h0m0 12.2h0m.4-179.9h0m.3 14.8h0m.4 169.2h0m.1-12.3h0m2.6-148.1h0m.1-40.1h0m1.9 181.8h0m.5-185.8h0m.1 200h0m.4 13h0m.9-24h0m1.2-5.7h0m1.5-182.1h0m.1 49.1h0m.3 165.6h0m2.7-201.4h0m1.2 177.2h0m.2-201.5h0m.5 207.7h0m.5-189h0m.2 9.9h0m.1 21.6h0m.1 163.9h0m.2-16.1h0m.4-182.9h0m.8-11.2h0m0 32.8h0m3-10.9h0m1.7 12.1h0m.3 164.6h0m1.4 23.5h0m1.4-185.9h0m3.1 169.5h0m1.9 13.2h0m2.7-200.3h0m.4 193.4h0m.3-198.8h0m.1 210.3h0m1.6-226.5h0m6 207.9h0m2.2 17.5h0m1.6-16.6h0m1-202.8h0m.3 215.5h0m0-16.4h0m1.9 19.9h0m5.4 .3h0m.9-215.8h0m12.5-6.6h0m5 9.7h0m20.4 4.3h0" stroke="#fff" stroke-width="2.4" stroke-opacity="1.0"/>
<path d="M408.8 425.7h0m3.3 18.4h0m1.7-42.5h0m.1 9.9h0m2.5 44.9h0m1 3.8h0m2.5-27.4h0m.1-23.9h0m.2 4.2h0m1 62.1h0m.2-82.4h0m.1 68.9h0m.6-9.3h0m1.1 27.5h0m1.9-34.1h0m.2 21.6h0m.3-89.3h0m1.6 9.6h0m.3-4.7h0m0 72.9h0m.2 6.4h0m.8-13.7h0m.6 23.7h0m0-66.9h0m.3 10.1h0m3 52.7h0m.4 12.5h0m.4-46.9h0m.8-19.1h0m.4 40.4h0m1.3-62h0m.5-14.6h0m1 106h0m.1-13.9h0m2.3-106.7h0m.4 69.2h0m.6 55.6h0m.1-114.8h0m.7 50.2h0m0 60.7h0m.8-26.4h0m0 12.5h0m.6-81.5h0m1.3 29.7h0m.4 68.2h0m1.2-121.9h0m.4 59.4h0m1.1 53.7h0m1.2-27h0m.7 41.4h0m.1-91.6h0m.8-46.2h0m1.1 35.9h0m1.2 55.9h0m0-76.2h0m0-20.5h0m.3 92.5h0m.2 51.8h0m0-132.6h0m1.3 33.7h0m.4 106.4h0m.8-4h0m.1-36.7h0m.2 15.2h0m1-11.3h0m.4-99.8h0m1.8 22.9h0m1 93.2h0m.8-72.6h0m1-15.3h0m.2-18.9h0m.5 145.3h0m.3-32.9h0m.6-54.2h0m.3-77.3h0m.2 73.1h0m.1-64.7h0m.7 103h0m.2-99.3h0m.4 79.6h0m1 72.2h0m.2-65.8h0m.5-59.2h0m.5 65.2h0m.7 40.9h0m.1-14.5h0m.8-115.8h0m.3-25h0m.4-4.2h0m.9 127h0m0 50.1h0m1.2-24.9h0m.8-142.8h0m.2 175.5h0m.3-120.2h0m.6 60.1h0m.1-111.4h0m.5 14.5h0m.4 150.8h0m.4-32.6h0m.6-123h0m.3 72h0m.6 91.3h0m1.4-78.7h0m.1-33.8h0m1.4-9.6h0m.1-15.4h0m.6 42.4h0m1.1 73.1h0m.3-63.2h0m.1-78.4h0m.6-16.3h0m.2 45h0m.2 100.9h0m.7-56.6h0m.7 29h0m.4 37.1h0m.2 4.5h0m.3-139.3h0m.4 84.7h0m.1-110.8h0m0 19.9h0m.7 15.8h0m.1 121.7h0m.1-17.9h0m1 50.8h0m1.4-188.5h0m.4 12.3h0m.6 144.9h0m1.7-23.5h0m.2-145h0m.8 55.9h0m1.2-6.3h0m.5 147.7h0m1.7-139.8h0m.2-49.4h0m.1 149h0m1.1-152.7h0m.1 42.2h0m.9-34.8h0m.2 4.2h0m1.1 8h0m.3 145.7h0m.6 3.8h0m.6-181.9h0m.9 191h0m1-21.3h0m.8-139.5h0m.2 165.6h0m.3-142.1h0m.3-51.1h0m.1 196.9h0m2.4-175.9h0m.4 41.1h0m0-20.6h0m.4 137.1h0m1.5-5.3h0m.3-173.2h0m.7 24.9h0m2.8 188.9h0m.1-176.7h0m1.1-35.8h0m1-7.1h0m.4 30.5h0m.6-19.5h0m.6 205.6h0m.3-21.6h0m0 12.2h0m.4-179.9h0m.3 14.8h0m.4 169.2h0m.1-12.3h0m2.6-148.1h0m.1-40.1h0m1.9 181.8h0m.5-185.8h0m.1 200h0m.4 13h0m.9-24h0m1.2-5.7h0m1.5-182.1h0m.1 49.1h0m.3 165.6h0m2.7-201.4h0m1.2 177.2h0m.2-201.5h0m.5 207.7h0m.5-189h0m.2 9.9h0m.1 21.6h0m.1 163.9h0m.2-16.1h0m.4-182.9h0m.8-11.2h0m0 32.8h0m3-10.9h0m1.7 12.1h0m.3 164.6h0m1.4 23.5h0m1.4-185.9h0m3.1 169.5h0m1.9 13.2h0m2.7-200.3h0m.4 193.4h0m.3-198.8h0m.1 210.3h0m1.6-226.5h0m6 207.9h0m2.2 17.5h0m1.6-16.6h0m1-202.8h0m.3 215.5h0m0-16.4h0m1.9 19.9h0m5.4 .3h0m.9-215.8h0m12.5-6.6h0m5 9.7h0m20.4 4.3h0" stroke="#f57f76" stroke-width="1.8"/>
<path d="M410.2 440.9h0m.9 11h0m1.6-23.4h0m.7 30.7h0m1.2-53.7h0m1.4-10.3h0m0 29.8h0m.9-9.5h0m1.1 31.1h0m1 21.4h0m1.7-79.4h0m1.7 11.8h0m.7 55.9h0m1.5-24.4h0m4.3 56h0m0-67.3h0m2.9-39.5h0m.5 8.6h0m.8 95.1h0m0-74.2h0m.1 62.9h0m.4-102.5h0m.9 69.8h0m.9 55.9h0m1.1-8.1h0m.4-114.5h0m1.6 10.7h0m.2 52.5h0m.3-46.4h0m2.1 101.9h0m1.5-95.2h0m1.1 69.5h0m.2-54.7h0m0-56.4h0m.5 73.1h0m1.3-29.1h0m.2 37.4h0m.1-32.8h0m0 49.8h0m.1-82h0m0 89h0m.6 13.1h0m.7-9.2h0m.3-68.7h0m.5-34.6h0m0 66.8h0m.3-50.1h0m.3 65.1h0m1.7-68.8h0m0 33.3h0m0 46.4h0m.5-16.1h0m.2 37.6h0m1.1-25.1h0m.3-71.5h0m0 110.3h0m.1-9.7h0m0-61.7h0m.9-31.4h0m0 25.5h0m.6-6.3h0m.1-22.8h0m.5 130.7h0m.6-4.5h0m.2-152.9h0m.4 125.1h0m.4-101.9h0m.3 36.6h0m.4-55.5h0m0 83.8h0m.8 27.8h0m.3-88.4h0m.4 69.5h0m0-104.5h0m.2 4h0m.2 148.4h0m.2-124.4h0m.8 86.2h0m1-16.1h0m.3-34.4h0m1.3 24.7h0m.4 38.2h0m.4-19.3h0m.7-13.8h0m0 54.1h0m.2-24.9h0m.7-60.6h0m.3-9.8h0m0-57.3h0m.5 8.2h0m2.8 12.8h0m.7 98.9h0m.4-43.5h0m.3 10.5h0m.3 50.4h0m.5-81.1h0m1.3 39.6h0m.5-22.9h0m.6 61.4h0m.4-133.8h0m.6 13.8h0m.7 124h0m.2-26.9h0m1.6 6.7h0m.4 50.5h0m.8-4.7h0m.1-64.3h0m0-98.8h0m.7 138.6h0m.7-31h0m.7-51.5h0m0 127.7h0m.1-49.3h0m1 8.6h0m1.8 37h0m.4-144.7h0m.7-48.7h0m1 145.1h0m0-138.7h0m.5 89.9h0m.9-31.8h0m1.2 117.7h0m.1-129h0m1.1-4.3h0m0 93.5h0m.2-104.2h0m.2-8.3h0m.1-9.4h0m1.6 157.3h0m0 13.1h0m.3-32.8h0m.2 24h0m.9-118h0m0 130.7h0m1-163.3h0m.4 4.7h0m0 9h0m1 134.5h0m.8-178.6h0m.6-3.9h0m.1 151.9h0m.1 24.7h0m.7-141.7h0m.9 30.3h0m2-3.3h0m0-62.4h0m1.8 10.4h0m.2 171.8h0m0-12.5h0m.1 38.8h0m.1-188.2h0m1.2 32.7h0m1.2 125.8h0m1.9-172.3h0m.1 162.3h0m.3-122.9h0m.5 152.3h0m.1-6.1h0m1-156.2h0m1.1 128.6h0m.1 17.6h0m.1-179.8h0m.4 28.1h0m.5 137.7h0m.4 26.8h0m.6-18.4h0m.2-123.7h0m0-12.9h0m1.3 132.5h0m.1 26.7h0m2-4.4h0m.8-151.7h0m1.2 4.2h0m1.8-7h0m1.2 13.8h0m0-31.1h0m.1 158.4h0m.7 7.5h0m.3-197.1h0m1 184.8h0m2.1 31.3h0m1.4-184.3h0m.4-10.5h0m.8 188h0m1.4 3.6h0m.4-194.4h0m1.7 22.4h0m.5-30.7h0m.7 34.3h0m.3-7.3h0m5.4 2h0m0 179.4h0m.3-174.8h0m0 150.7h0m1.2 14.8h0m.9-198.8h0m1.1 209.4h0m.1-213h0m1.5 17.9h0m.3 185.4h0m2.9-190h0m1.1 3.9h0m1.7-23.3h0m.1 6.9h0m.7 201.2h0m.9-5.7h0m2.7 13.7h0m.3-22.3h0m1 6.9h0m3-3.1h0m2.6 4.7h0m.1 17.1h0m4.9-8.3h0m2.9-3.6h0m5.4 1.4h0m.3 4.1h0m3.4 4.7h0m.5-4.5h0m21.8-211.3h0" stroke="#fff" stroke-width="2.4" stroke-opacity="1.0"/>
<path d="M410.2 440.9h0m.9 11h0m1.6-23.4h0m.7 30.7h0m1.2-53.7h0m1.4-10.3h0m0 29.8h0m.9-9.5h0m1.1 31.1h0m1 21.4h0m1.7-79.4h0m1.7 11.8h0m.7 55.9h0m1.5-24.4h0m4.3 56h0m0-67.3h0m2.9-39.5h0m.5 8.6h0m.8 95.1h0m0-74.2h0m.1 62.9h0m.4-102.5h0m.9 69.8h0m.9 55.9h0m1.1-8.1h0m.4-114.5h0m1.6 10.7h0m.2 52.5h0m.3-46.4h0m2.1 101.9h0m1.5-95.2h0m1.1 69.5h0m.2-54.7h0m0-56.4h0m.5 73.1h0m1.3-29.1h0m.2 37.4h0m.1-32.8h0m0 49.8h0m.1-82h0m0 89h0m.6 13.1h0m.7-9.2h0m.3-68.7h0m.5-34.6h0m0 66.8h0m.3-50.1h0m.3 65.1h0m1.7-68.8h0m0 33.3h0m0 46.4h0m.5-16.1h0m.2 37.6h0m1.1-25.1h0m.3-71.5h0m0 110.3h0m.1-9.7h0m0-61.7h0m.9-31.4h0m0 25.5h0m.6-6.3h0m.1-22.8h0m.5 130.7h0m.6-4.5h0m.2-152.9h0m.4 125.1h0m.4-101.9h0m.3 36.6h0m.4-55.5h0m0 83.8h0m.8 27.8h0m.3-88.4h0m.4 69.5h0m0-104.5h0m.2 4h0m.2 148.4h0m.2-124.4h0m.8 86.2h0m1-16.1h0m.3-34.4h0m1.3 24.7h0m.4 38.2h0m.4-19.3h0m.7-13.8h0m0 54.1h0m.2-24.9h0m.7-60.6h0m.3-9.8h0m0-57.3h0m.5 8.2h0m2.8 12.8h0m.7 98.9h0m.4-43.5h0m.3 10.5h0m.3 50.4h0m.5-81.1h0m1.3 39.6h0m.5-22.9h0m.6 61.4h0m.4-133.8h0m.6 13.8h0m.7 124h0m.2-26.9h0m1.6 6.7h0m.4 50.5h0m.8-4.7h0m.1-64.3h0m0-98.8h0m.7 138.6h0m.7-31h0m.7-51.5h0m0 127.7h0m.1-49.3h0m1 8.6h0m1.8 37h0m.4-144.7h0m.7-48.7h0m1 145.1h0m0-138.7h0m.5 89.9h0m.9-31.8h0m1.2 117.7h0m.1-129h0m1.1-4.3h0m0 93.5h0m.2-104.2h0m.2-8.3h0m.1-9.4h0m1.6 157.3h0m0 13.1h0m.3-32.8h0m.2 24h0m.9-118h0m0 130.7h0m1-163.3h0m.4 4.7h0m0 9h0m1 134.5h0m.8-178.6h0m.6-3.9h0m.1 151.9h0m.1 24.7h0m.7-141.7h0m.9 30.3h0m2-3.3h0m0-62.4h0m1.8 10.4h0m.2 171.8h0m0-12.5h0m.1 38.8h0m.1-188.2h0m1.2 32.7h0m1.2 125.8h0m1.9-172.3h0m.1 162.3h0m.3-122.9h0m.5 152.3h0m.1-6.1h0m1-156.2h0m1.1 128.6h0m.1 17.6h0m.1-179.8h0m.4 28.1h0m.5 137.7h0m.4 26.8h0m.6-18.4h0m.2-123.7h0m0-12.9h0m1.3 132.5h0m.1 26.7h0m2-4.4h0m.8-151.7h0m1.2 4.2h0m1.8-7h0m1.2 13.8h0m0-31.1h0m.1 158.4h0m.7 7.5h0m.3-197.1h0m1 184.8h0m2.1 31.3h0m1.4-184.3h0m.4-10.5h0m.8 188h0m1.4 3.6h0m.4-194.4h0m1.7 22.4h0m.5-30.7h0m.7 34.3h0m.3-7.3h0m5.4 2h0m0 179.4h0m.3-174.8h0m0 150.7h0m1.2 14.8h0m.9-198.8h0m1.1 209.4h0m.1-213h0m1.5 17.9h0m.3 185.4h0m2.9-190h0m1.1 3.9h0m1.7-23.3h0m.1 6.9h0m.7 201.2h0m.9-5.7h0m2.7 13.7h0m.3-22.3h0m1 6.9h0m3-3.1h0m2.6 4.7h0m.1 17.1h0m4.9-8.3h0m2.9-3.6h0m5.4 1.4h0m.3 4.1h0m3.4 4.7h0m.5-4.5h0m21.8-211.3h0" stroke="#f57f76" stroke-width="1.8"/>
<path d="M481.2 456.5h0m2.8-17.2h0m2.3-26.8h0m.1 59.9h0m.3-6.1h0m1-8.5h0m.6-32h0m1.4 24.9h0m.4-48.5h0m2 61.8h0m.2 18.1h0m2.1-41.2h0m.3 32.5h0m1.8-42.5h0m1.4 49h0m2.4 7.9h0m.6-93.1h0m.7 13.8h0m.7 13.8h0m1.1 58.5h0m3.2 13h0m2.7-106.3h0m.4 100.5h0m1.3-83.1h0m1.3 17.5h0m.4 79.5h0m.8-5.6h0m1.8-7.6h0m2.5-74.4h0m1.2 91.4h0m.3-117.2h0m.4 107.9h0m1.6-92.2h0m2.4 88.3h0m1.9 5.4h0m.9 10.9h0m2.4-5.7h0m.3-86.7h0m.2-21.1h0m2.9 11.2h0m.1 88.9h0m.2 14.2h0m1.6-8.9h0m1.9 13.5h0m3.9-5.7h0m.4-108h0m2.2 97.4h0m1.1 5.6h0m2.1-94.9h0m.5 102.4h0m.2 5.8h0m2.8-19.4h0m1.1 6.4h0m2.7 5.1h0m.6-93.3h0m1.2 102.4h0m1.6-17.4h0m2.2 13h0m1.5-5.6h0m2.8-5.8h0m.6 16.5h0m0-22.8h0m2.2 15.3h0m4.3 13.9h0m0-30.3h0m.6 7.8h0m3.6 6.9h0m.2 7.2h0m.9-26.5h0m3.9 4.6h0m.5 8.7h0m.3 27.6h0m1.1-43.9h0m.5 24.8h0m2.7-14h0m.1 8.5h0m.7 12.9h0m2.1-33.4h0m1.4 7.5h0m1.1 11.3h0m.5 28.6h0m1.8-22.7h0m.8-12.5h0m2.4-8.4h0m1.3 13h0m1.8 5.5h0m.3 33.6h0m1.3-33.9h0m1.3-10.5h0m1.1 25.4h0m1.5-16.8h0m.5 27.7h0m4 12.9h0m2.6-49.7h0m0 17.8h0m1 10.2h0m2.1 .4h0m1.5 10.8h0m4.4-24.2h0m.2 32.9h0m7.2-7.2h0m2.6-16.7h0" stroke="#fff" stroke-width="2.6" stroke-opacity="1.0"/>
<path d="M481.2 456.5h0m2.8-17.2h0m2.3-26.8h0m.1 59.9h0m.3-6.1h0m1-8.5h0m.6-32h0m1.4 24.9h0m.4-48.5h0m2 61.8h0m.2 18.1h0m2.1-41.2h0m.3 32.5h0m1.8-42.5h0m1.4 49h0m2.4 7.9h0m.6-93.1h0m.7 13.8h0m.7 13.8h0m1.1 58.5h0m3.2 13h0m2.7-106.3h0m.4 100.5h0m1.3-83.1h0m1.3 17.5h0m.4 79.5h0m.8-5.6h0m1.8-7.6h0m2.5-74.4h0m1.2 91.4h0m.3-117.2h0m.4 107.9h0m1.6-92.2h0m2.4 88.3h0m1.9 5.4h0m.9 10.9h0m2.4-5.7h0m.3-86.7h0m.2-21.1h0m2.9 11.2h0m.1 88.9h0m.2 14.2h0m1.6-8.9h0m1.9 13.5h0m3.9-5.7h0m.4-108h0m2.2 97.4h0m1.1 5.6h0m2.1-94.9h0m.5 102.4h0m.2 5.8h0m2.8-19.4h0m1.1 6.4h0m2.7 5.1h0m.6-93.3h0m1.2 102.4h0m1.6-17.4h0m2.2 13h0m1.5-5.6h0m2.8-5.8h0m.6 16.5h0m0-22.8h0m2.2 15.3h0m4.3 13.9h0m0-30.3h0m.6 7.8h0m3.6 6.9h0m.2 7.2h0m.9-26.5h0m3.9 4.6h0m.5 8.7h0m.3 27.6h0m1.1-43.9h0m.5 24.8h0m2.7-14h0m.1 8.5h0m.7 12.9h0m2.1-33.4h0m1.4 7.5h0m1.1 11.3h0m.5 28.6h0m1.8-22.7h0m.8-12.5h0m2.4-8.4h0m1.3 13h0m1.8 5.5h0m.3 33.6h0m1.3-33.9h0m1.3-10.5h0m1.1 25.4h0m1.5-16.8h0m.5 27.7h0m4 12.9h0m2.6-49.7h0m0 17.8h0m1 10.2h0m2.1 .4h0m1.5 10.8h0m4.4-24.2h0m.2 32.9h0m7.2-7.2h0m2.6-16.7h0" stroke="#ee4a3e" stroke-width="1.9"/>
<path d="M475 462.3h0m2.1-19.7h0m2 33h0m.8-10.1h0m.5 1h0m.1-27.8h0m.6 36.6h0m.4-32.5h0m5.7-1h0m6.6-37.9h0m2.6-3.3h0m.3 1.4h0m1.6 .4h0m22-9.4h0m3.5-4.4h0m9.3-28.9h0m1.4-3.2h0m.4-2.5h0m.3-1.5h0m.5 4.1h0m.4-3.7h0m21.3 153.6h0m.8-1.1h0m.5-1.5h0m.6 3.2h0m.4 .5h0m2.3 .9h0m.6 2.7h0m.2-.8h0" stroke="#fff" stroke-width="2" stroke-opacity="1.0"/>
<path d="M475 462.3h0m2.1-19.7h0m2 33h0m.8-10.1h0m.5 1h0m.1-27.8h0m.6 36.6h0m.4-32.5h0m5.7-1h0m6.6-37.9h0m2.6-3.3h0m.3 1.4h0m1.6 .4h0m22-9.4h0m3.5-4.4h0m9.3-28.9h0m1.4-3.2h0m.4-2.5h0m.3-1.5h0m.5 4.1h0m.4-3.7h0m21.3 153.6h0m.8-1.1h0m.5-1.5h0m.6 3.2h0m.4 .5h0m2.3 .9h0m.6 2.7h0m.2-.8h0" stroke="#ee4a3e" stroke-width="1.4"/>
<path d="M471.7 444.1h0m4-2.2h0m0 35h0m.9-9.5h0m.7 9.2h0m1.2-.6h0m.6-9.1h0m.4-26.6h0m1.1-.4h0m.3 32.9h0m.2-32.9h0m.4-1.2h0m.1 23.7h0m1.1-18.9h0m1.4-.9h0m33-56.8h0m3 3.1h0m1.4 5.8h0m.2-3.4h0m11.1-34h0m3.7-3.1h0m17.9 148.9h0m3.7 4.4h0m.6 1.6h0m1.3-2.7h0m0-1.4h0m1.7 3.7h0m1 3.8h0m3-4.6h0" stroke="#fff" stroke-width="2" stroke-opacity="1.0"/>
<path d="M471.7 444.1h0m4-2.2h0m0 35h0m.9-9.5h0m.7 9.2h0m1.2-.6h0m.6-9.1h0m.4-26.6h0m1.1-.4h0m.3 32.9h0m.2-32.9h0m.4-1.2h0m.1 23.7h0m1.1-18.9h0m1.4-.9h0m33-56.8h0m3 3.1h0m1.4 5.8h0m.2-3.4h0m11.1-34h0m3.7-3.1h0m17.9 148.9h0m3.7 4.4h0m.6 1.6h0m1.3-2.7h0m0-1.4h0m1.7 3.7h0m1 3.8h0m3-4.6h0" stroke="#ee4a3e" stroke-width="1.4"/>
<ellipse cx="545.6" cy="455.2" rx="18" ry="13.3" fill="#f6968e" filter="url(#bl2)" stroke="none"/>
<path d="M529.3 458.9h0m.1-5.1h0m0-1.6h0m.2 3.9h0m.3 1.2h0m.1-2.3h0m.2 4.9h0m.1-8.6h0m.3 2.6h0m.2-4.2h0m.4 6.4h0m.2 2.2h0m0-5.6h0m.2 2.1h0m.1 5.2h0m.2-11.7h0m.1 2h0m.1 6.9h0m0 4.3h0m.3 1.3h0m.2-15.7h0m.4 12.6h0m0-7.6h0m.2 4h0m.1-7.3h0m0 15.1h0m.2-9.9h0m.1 6.9h0m.2-3.4h0m0 5h0m.4-9.5h0m0 2.1h0m0-4.3h0m.1-4.9h0m.1 13h0m.1-11.8h0m.2 2.3h0m0 14.7h0m.5-3.4h0m.1-3.5h0m0-9.1h0m.1 7.6h0m.1-1.7h0m.1 4.8h0m.1 3.9h0m.1-17.6h0m0 6h0m.3 14.1h0m0-15.4h0m.1-3.3h0m.2 14.7h0m0-8.5h0m.1 11.3h0m.2-8.5h0m0-7.3h0m.3 6h0m0-9.2h0m.1 6.5h0m.1 10.9h0m.1-5.3h0m0-7.8h0m.1-3h0m.1 12.7h0m.3 7.2h0m.1-5.3h0m.1-13.1h0m.1 5.7h0m.1 2h0m0 8.8h0m.2-1.3h0m.1-11.6h0m.1 5.8h0m.1-7.1h0m0-5.9h0m.1 15.4h0m.1-13h0m0 15h0m.4-9.2h0m.1 13.1h0m0-9.9h0m.1 2.9h0m.2-4.2h0m0-6h0m.2-4.5h0m0 19.6h0m.1-2.5h0m0-4.2h0m.1-6.6h0m.2-4.9h0m.1 8h0m.1 6.3h0m.1-12.6h0m.1 19.9h0m.2-12.3h0m0 3.5h0m0-7h0m.1 11.1h0m.1-13.4h0m.4-2.9h0m.1 6.5h0m.1 13h0m.1-9h0m.1-5.9h0m0 9.4h0m.1-15.9h0m.1 22.7h0m0-12.6h0m0 9.1h0m.1-1.6h0m.6-13.4h0m.1 1.5h0m0-4.8h0m.1 13.5h0m0-6.2h0m.1 12.2h0m.1-8.7h0m.1-4.7h0m.1-4.5h0m.1 10.5h0m0 4.4h0m.1-18.3h0m0 10.3h0m.2 6.1h0m.1 6.5h0m.2 1.5h0m.1-22.8h0m0 18.3h0m.1-13.5h0m.1 5.5h0m.4 2.3h0m.1-9h0m.2 13.3h0m0-7.7h0m0-1.9h0m.2 14.3h0m0-19.9h0m.1 4.1h0m0 14h0m0-4.5h0m.3-15.7h0m.1 14.2h0m0-15.7h0m.1 12.8h0m.3-3h0m0-4.4h0m.1 19h0m0-4.5h0m0-17.2h0m0 8.5h0m.1-4.5h0m.1 12h0m.5 4.2h0m.1-1.6h0m0-17.1h0m.1 11.6h0m.1-1.3h0m.1-13.4h0m0 8h0m.1 8.2h0m.1-9.8h0m.1 11.7h0m0-13.3h0m.1 5.4h0m.1 1.8h0m.3 11h0m.3-4h0m.1-18h0m.1 2.4h0m0-3.9h0m0 17.3h0m.2-1.6h0m0-4.2h0m.1-3.3h0m0 6.2h0m.1 6.3h0m0 1.4h0m.3-19.4h0m0 3.1h0m.1 12.7h0m.1-8.3h0m.1-3.1h0m.1-2.5h0m.1-3.6h0m0 22.6h0m.3-6.8h0m0-3.8h0m.1 1.7h0m0-5.7h0m0 2.5h0m.5-6.2h0m.1 12.7h0m0 4.1h0m.1-1.8h0m.2-17h0m0-3.2h0m.2 6.9h0m0 4h0m.1-1.5h0m0 2.8h0m.1 3.1h0m0-13.9h0m.2 17.7h0m.2-14.7h0m.1 18.8h0m.1-9.6h0m0-5.8h0m.2 8.7h0m0 5.1h0m.1-11.6h0m.1 7.9h0m.1 2.2h0m0-16.9h0m.2 2.3h0m.4 6.6h0m.1 2.8h0m.2-6.4h0m.1 10.7h0m.1-16.7h0m0 1.5h0m0 13h0m.1-6.1h0m0-9.9h0m.1 5.9h0m.3 15.6h0m.1-1.4h0m.2-5.4h0m.1-2.8h0m0 5.3h0m.1-3.9h0m.2-8.5h0m.1-2.4h0m.2 5h0m0 1.9h0m.2 9.6h0m0-8.1h0m.1-9.9h0m.6 14.6h0m0-9.6h0m.2-4h0m.1 8h0m0 7.8h0m0-3.6h0m.1-2h0m.1 8.1h0m.1-12.8h0m.1 1.3h0m.1-5.1h0m.1 15.3h0m.4-14.1h0m0 6.4h0m.1 1.8h0m.1 4.1h0m.4-11.1h0m.1 4h0m0-1.8h0m.1-5.4h0m0 12.3h0m.1 3.4h0m.3-6.7h0m0 4.6h0m.4-9.4h0m0 6h0m.1-9.4h0m.3 1.2h0m.1 5.7h0m.1-1.5h0m0 5.5h0m.2 1.3h0m0 1.6h0m.4-10.1h0m.3 6.1h0m0-2h0m.2-5.5h0m.2 4.2h0m.1-1.5h0m.2 6.8h0m.4-8.3h0m.4 6.9h0m.3-1.5h0m.2-3.3h0m.1 1.5h0" stroke="#f1695e" stroke-width="1.3"/>
<path d="M496 453.5h0m5.3 18.9h0m7.2-17.2h0m1.2 20.3h0m.7-29.6h0m1-12.2h0m2.5 7.4h0m1.6 12.2h0m.1-27.7h0m.2 46.2h0m.3-21.1h0m1.6 13h0m1.4-4.2h0m.2-19.8h0m.7 22h0m.1 25.5h0m2.4-21.3h0m2.3-6.1h0m.3-30.9h0m.1 13.2h0m0 29.4h0m.5-6.5h0m.2-26.3h0m.3 30.2h0m.3-33.8h0m.4 22.8h0m1.7-2.2h0m0 9.2h0m.7-5.8h0m.1-17.2h0m1.6-18.3h0m.2 54.1h0m1.1-2.8h0m.3-4.5h0m.7-30.5h0m.8 1.8h0m1.4 1.6h0m.4-6.6h0m.1 50.3h0m.9-15.1h0m.4-40.5h0m.8 9.1h0m.1-18.1h0m.8 62.8h0m.8-5.9h0m.5-39.7h0m.2-4h0m.2-2.2h0m3 55.5h0m1.1-60.9h0m.7 51.8h0m0-8.6h0m.1 14.1h0m.2-12.4h0m.4-39.7h0m.9 34.7h0m.7 14.7h0m.1-11.7h0m.1 21.1h0m2.2-23.1h0m.9-40.5h0m.1-9.7h0m.4 55.7h0m.3-32.5h0m.1 28.4h0m.3-44.9h0m.3 59.3h0m.6-46.6h0m.6 4.5h0m.2 31.6h0m1.2-37.8h0m.1-17h0m.6 56.6h0m.1-30.9h0m.2 45.8h0m.5-56.1h0m.8 2.5h0m1.1 5h0m.2 30.2h0m0-25.1h0m1.8 27.2h0m.6-24.9h0m1.1-22.2h0m.7 42.8h0m.1-38.6h0m.8 5.6h0m.7 25.8h0m0-15.5h0m.1 18.8h0m.3-10.6h0m2.4-.3h0m.1 1.9h0m.2 5.6h0m.9-32.5h0m.3 53.7h0m.6-32.1h0m.9-28.6h0m.8 63.2h0m.5-20.1h0m.3-7.2h0m.1-15.2h0m2.4-10.7h0m0 43h0m.7-16.9h0m.2-8h0m.2 14.9h0m1.8-39.7h0m.3 4.7h0m1.1 20.8h0m1 19.9h0m2.4-12.3h0m4.2 10.5h0m.1-10.2h0m5.6 8.1h0" stroke="#fff" stroke-width="2.4" stroke-opacity="1.0"/>
<path d="M496 453.5h0m5.3 18.9h0m7.2-17.2h0m1.2 20.3h0m.7-29.6h0m1-12.2h0m2.5 7.4h0m1.6 12.2h0m.1-27.7h0m.2 46.2h0m.3-21.1h0m1.6 13h0m1.4-4.2h0m.2-19.8h0m.7 22h0m.1 25.5h0m2.4-21.3h0m2.3-6.1h0m.3-30.9h0m.1 13.2h0m0 29.4h0m.5-6.5h0m.2-26.3h0m.3 30.2h0m.3-33.8h0m.4 22.8h0m1.7-2.2h0m0 9.2h0m.7-5.8h0m.1-17.2h0m1.6-18.3h0m.2 54.1h0m1.1-2.8h0m.3-4.5h0m.7-30.5h0m.8 1.8h0m1.4 1.6h0m.4-6.6h0m.1 50.3h0m.9-15.1h0m.4-40.5h0m.8 9.1h0m.1-18.1h0m.8 62.8h0m.8-5.9h0m.5-39.7h0m.2-4h0m.2-2.2h0m3 55.5h0m1.1-60.9h0m.7 51.8h0m0-8.6h0m.1 14.1h0m.2-12.4h0m.4-39.7h0m.9 34.7h0m.7 14.7h0m.1-11.7h0m.1 21.1h0m2.2-23.1h0m.9-40.5h0m.1-9.7h0m.4 55.7h0m.3-32.5h0m.1 28.4h0m.3-44.9h0m.3 59.3h0m.6-46.6h0m.6 4.5h0m.2 31.6h0m1.2-37.8h0m.1-17h0m.6 56.6h0m.1-30.9h0m.2 45.8h0m.5-56.1h0m.8 2.5h0m1.1 5h0m.2 30.2h0m0-25.1h0m1.8 27.2h0m.6-24.9h0m1.1-22.2h0m.7 42.8h0m.1-38.6h0m.8 5.6h0m.7 25.8h0m0-15.5h0m.1 18.8h0m.3-10.6h0m2.4-.3h0m.1 1.9h0m.2 5.6h0m.9-32.5h0m.3 53.7h0m.6-32.1h0m.9-28.6h0m.8 63.2h0m.5-20.1h0m.3-7.2h0m.1-15.2h0m2.4-10.7h0m0 43h0m.7-16.9h0m.2-8h0m.2 14.9h0m1.8-39.7h0m.3 4.7h0m1.1 20.8h0m1 19.9h0m2.4-12.3h0m4.2 10.5h0m.1-10.2h0m5.6 8.1h0" stroke="#ee4a3e" stroke-width="1.8"/>
<path d="M496.3 461.8h0m2.4-19.9h0m1.8-3.1h0m.5 9.9h0m.9-3.7h0m1.8 31h0m3.1-3.4h0m.6-28.8h0m0 23.2h0m1.9-5.7h0m2.5 10.7h0m.6-19.9h0m3.9-13.6h0m.4 9.9h0m1.4 33.5h0m.4-25h0m.1-4.8h0m.5 13.6h0m1.5-38.1h0m.5 44.6h0m.4-30.3h0m.2 3.7h0m.5-15h0m.5 49.3h0m0-18.4h0m1.2-28.1h0m1.2 16.6h0m1.4 28.7h0m.7-15.6h0m.3-16.8h0m.7 42.8h0m.6-44h0m.2 7.2h0m1 21.3h0m.5-4.2h0m.2-5.2h0m.5-23.4h0m.1-20.4h0m.6 47.1h0m.3-4.4h0m.3 23.5h0m.3-51.4h0m.9 33.4h0m.4-36.7h0m0 46.1h0m1.5-8.7h0m.3-24.3h0m2.6 21.5h0m.1-38h0m0 7.7h0m1 34.4h0m1.3-27.4h0m.2 25.6h0m1.3-29.2h0m0-14.6h0m.3 16.3h0m.4-10.6h0m.7 40.6h0m1.3-3.4h0m1.5 7.2h0m2.1-7.8h0m.7-45.3h0m.9 13.5h0m.1 37.2h0m1.2 18.7h0m.4-60.4h0m1.3-8.4h0m0 53.8h0m.5-10.2h0m.1 1.6h0m.8-23.3h0m0 27h0m1.9-30.1h0m0 36.9h0m.4-7.5h0m.3-4.7h0m.2-19.7h0m.1-7h0m.9 36h0m2.6-3.8h0m.5-8.7h0m.1 3.2h0m.2-14.6h0m.4 25h0m.3-21.8h0m.8-8.7h0m1.2 12h0m.3-13.8h0m.6 27.7h0m.3-10.6h0m0-11.9h0m.1 28.6h0m.4-39.2h0m.3 12.7h0m.2 15.9h0m0-44.6h0m1.6 38h0m.4 4.9h0m.9 3h0m.1-30h0m1.9-6.8h0m.5 8.2h0m1.8 28.4h0m1.9-23.8h0m2.5 23.7h0m.4 14.4h0m.6-44.7h0m3.4 15.6h0m.7-10h0m3.1 13.3h0m.9-21.9h0m.4 39.9h0m7.1-26h0" stroke="#fff" stroke-width="2.4" stroke-opacity="1.0"/>
<path d="M496.3 461.8h0m2.4-19.9h0m1.8-3.1h0m.5 9.9h0m.9-3.7h0m1.8 31h0m3.1-3.4h0m.6-28.8h0m0 23.2h0m1.9-5.7h0m2.5 10.7h0m.6-19.9h0m3.9-13.6h0m.4 9.9h0m1.4 33.5h0m.4-25h0m.1-4.8h0m.5 13.6h0m1.5-38.1h0m.5 44.6h0m.4-30.3h0m.2 3.7h0m.5-15h0m.5 49.3h0m0-18.4h0m1.2-28.1h0m1.2 16.6h0m1.4 28.7h0m.7-15.6h0m.3-16.8h0m.7 42.8h0m.6-44h0m.2 7.2h0m1 21.3h0m.5-4.2h0m.2-5.2h0m.5-23.4h0m.1-20.4h0m.6 47.1h0m.3-4.4h0m.3 23.5h0m.3-51.4h0m.9 33.4h0m.4-36.7h0m0 46.1h0m1.5-8.7h0m.3-24.3h0m2.6 21.5h0m.1-38h0m0 7.7h0m1 34.4h0m1.3-27.4h0m.2 25.6h0m1.3-29.2h0m0-14.6h0m.3 16.3h0m.4-10.6h0m.7 40.6h0m1.3-3.4h0m1.5 7.2h0m2.1-7.8h0m.7-45.3h0m.9 13.5h0m.1 37.2h0m1.2 18.7h0m.4-60.4h0m1.3-8.4h0m0 53.8h0m.5-10.2h0m.1 1.6h0m.8-23.3h0m0 27h0m1.9-30.1h0m0 36.9h0m.4-7.5h0m.3-4.7h0m.2-19.7h0m.1-7h0m.9 36h0m2.6-3.8h0m.5-8.7h0m.1 3.2h0m.2-14.6h0m.4 25h0m.3-21.8h0m.8-8.7h0m1.2 12h0m.3-13.8h0m.6 27.7h0m.3-10.6h0m0-11.9h0m.1 28.6h0m.4-39.2h0m.3 12.7h0m.2 15.9h0m0-44.6h0m1.6 38h0m.4 4.9h0m.9 3h0m.1-30h0m1.9-6.8h0m.5 8.2h0m1.8 28.4h0m1.9-23.8h0m2.5 23.7h0m.4 14.4h0m.6-44.7h0m3.4 15.6h0m.7-10h0m3.1 13.3h0m.9-21.9h0m.4 39.9h0m7.1-26h0" stroke="#ee4a3e" stroke-width="1.8"/>
<path d="M497 445.8h0m3 6h0m1.5 11.7h0m1.7-28.2h0m1 6h0m1.1 18.9h0m.8-13.3h0m.3-8.1h0m.4 39.8h0m2.4-37.4h0m.1 7.7h0m3.8 .6h0m1-18.6h0m1.1 49.4h0m.3-21.6h0m1.2-24.7h0m.5-4.7h0m1.2 16.7h0m.1 8.6h0m1-10.8h0m.4 35.2h0m.6-31.3h0m1.4 35.6h0m1.4-34.8h0m.4 28.8h0m.1-54.8h0m.3 24h0m.3 5.2h0m2.9 8.3h0m.3-35.3h0m.6 36.9h0m.5 6.4h0m.1 14.7h0m.2-48.9h0m.4 29.1h0m.8 3.4h0m.2 5.3h0m.2-27.9h0m1.1 4.1h0m.1-14.8h0m.5 9.5h0m1.5 24h0m1.6 14.5h0m.4 3.2h0m1.3-5h0m.9-45.4h0m.8 9.7h0m.5 25h0m.1-49.4h0m.4 69.6h0m1.1-47.1h0m.9-13.6h0m.3 47h0m1.2-41.7h0m.1 34.4h0m2.2-32.2h0m.2 7.3h0m.2-12h0m2.4 8.8h0m.2-8.6h0m.2-5.8h0m.4 49.7h0m1.4 2.1h0m.5-33.5h0m1.4 28.5h0m.3-28.3h0m1.2 35.5h0m.1-9.3h0m.5-29.5h0m.1-8.9h0m.4-5.1h0m.2 39h0m1.9-21.6h0m.2-21.2h0m1 63.9h0m.5-16.4h0m.1-4.9h0m.3-45.5h0m2.5 27.8h0m.2-3h0m.3 13.7h0m.9 14.8h0m0 6.1h0m.7-19.3h0m.6-7.6h0m1.1 29.1h0m2.3-33.2h0m.2 39.9h0m.6-11.7h0m0-42.4h0m1.4 8.5h0m.7 5.1h0m.4-11.7h0m2.8 37h0m.2-47.4h0m.2 16.8h0m2.6 21.9h0m3.1 1.4h0m1-17.8h0m.3 15.2h0m.2 13.1h0m.2-34.8h0m.7 28.1h0m.2-12.4h0m1.9-25.2h0m.3 15h0m.3 16.8h0m1.5-10.1h0m.7-10.9h0m.4 24.8h0m3.1-10.7h0m.1-3.7h0m.9-11.4h0" stroke="#fff" stroke-width="2.4" stroke-opacity="1.0"/>
<path d="M497 445.8h0m3 6h0m1.5 11.7h0m1.7-28.2h0m1 6h0m1.1 18.9h0m.8-13.3h0m.3-8.1h0m.4 39.8h0m2.4-37.4h0m.1 7.7h0m3.8 .6h0m1-18.6h0m1.1 49.4h0m.3-21.6h0m1.2-24.7h0m.5-4.7h0m1.2 16.7h0m.1 8.6h0m1-10.8h0m.4 35.2h0m.6-31.3h0m1.4 35.6h0m1.4-34.8h0m.4 28.8h0m.1-54.8h0m.3 24h0m.3 5.2h0m2.9 8.3h0m.3-35.3h0m.6 36.9h0m.5 6.4h0m.1 14.7h0m.2-48.9h0m.4 29.1h0m.8 3.4h0m.2 5.3h0m.2-27.9h0m1.1 4.1h0m.1-14.8h0m.5 9.5h0m1.5 24h0m1.6 14.5h0m.4 3.2h0m1.3-5h0m.9-45.4h0m.8 9.7h0m.5 25h0m.1-49.4h0m.4 69.6h0m1.1-47.1h0m.9-13.6h0m.3 47h0m1.2-41.7h0m.1 34.4h0m2.2-32.2h0m.2 7.3h0m.2-12h0m2.4 8.8h0m.2-8.6h0m.2-5.8h0m.4 49.7h0m1.4 2.1h0m.5-33.5h0m1.4 28.5h0m.3-28.3h0m1.2 35.5h0m.1-9.3h0m.5-29.5h0m.1-8.9h0m.4-5.1h0m.2 39h0m1.9-21.6h0m.2-21.2h0m1 63.9h0m.5-16.4h0m.1-4.9h0m.3-45.5h0m2.5 27.8h0m.2-3h0m.3 13.7h0m.9 14.8h0m0 6.1h0m.7-19.3h0m.6-7.6h0m1.1 29.1h0m2.3-33.2h0m.2 39.9h0m.6-11.7h0m0-42.4h0m1.4 8.5h0m.7 5.1h0m.4-11.7h0m2.8 37h0m.2-47.4h0m.2 16.8h0m2.6 21.9h0m3.1 1.4h0m1-17.8h0m.3 15.2h0m.2 13.1h0m.2-34.8h0m.7 28.1h0m.2-12.4h0m1.9-25.2h0m.3 15h0m.3 16.8h0m1.5-10.1h0m.7-10.9h0m.4 24.8h0m3.1-10.7h0m.1-3.7h0m.9-11.4h0" stroke="#ee4a3e" stroke-width="1.8"/>
<path d="M495.7 457.7h0m1.5 7.3h0m8.5-32.7h0m.3 31.4h0m2.4-11.7h0m.7-22.1h0m1 51h0m1-42.2h0m1.3 19h0m0 9.2h0m.1-39.1h0m3.4 16.2h0m.5 17.5h0m2.8-29.5h0m1.8 32.1h0m.6-25.7h0m.6 12.1h0m1.6 3.3h0m.1 9.5h0m.3 4.2h0m.2-9.7h0m1.6-12.9h0m.3 7.4h0m0-20.5h0m.1 24.5h0m.3-35.3h0m.2 45.8h0m1-17.7h0m.2 21.3h0m.5-16.7h0m.5-23.1h0m.1 49.2h0m.3-32.4h0m.2 3.3h0m.9-1.6h0m1.5-3.9h0m.4 20.1h0m.2-35.5h0m.9 34.4h0m.7-18.5h0m.4 27.8h0m.7-47.6h0m.1 41.4h0m1.2-1.4h0m.6 1.9h0m.2-29.4h0m2 36.2h0m.4-43.2h0m2 6h0m1.1 31.7h0m.5-50.5h0m.7 73.4h0m.1-49.2h0m0-3.4h0m1.4-14.2h0m1 44.2h0m.4-51.2h0m.3 69.9h0m.7-52.7h0m.1 44.2h0m.1-6.6h0m.4-39.7h0m1.6 33.9h0m.5 21h0m0-6.2h0m.3-48.2h0m.3 45.8h0m.5-12.9h0m.7-26.5h0m2.8 3h0m1 30.2h0m1.9-9.8h0m.7-18.6h0m.4 32.7h0m0-42.6h0m.1 3.3h0m.4 41.6h0m.3-47.1h0m0 10.6h0m.8 25.4h0m.5-32.4h0m.1 5.1h0m.4 45h0m1-18.7h0m0-47.1h0m.2 22.3h0m.1 18.2h0m.5 28.3h0m0-39h0m1.1-15.5h0m.2 50.2h0m.1-16.2h0m.8-27h0m.2 22.6h0m.3-18.6h0m.8-19.7h0m2.2 32.6h0m.5-4.8h0m1-26.5h0m.5 34h0m.6 8.9h0m.3-18.2h0m.1 2.1h0m1.3-8.1h0m2.1 7.9h0m1.5 20h0m1 4h0m1.5-33.4h0m.4-11.1h0m3.1 2.6h0m6.4 1.3h0m5.2 23.2h0m.9-3.9h0" stroke="#fff" stroke-width="2.4" stroke-opacity="1.0"/>
<path d="M495.7 457.7h0m1.5 7.3h0m8.5-32.7h0m.3 31.4h0m2.4-11.7h0m.7-22.1h0m1 51h0m1-42.2h0m1.3 19h0m0 9.2h0m.1-39.1h0m3.4 16.2h0m.5 17.5h0m2.8-29.5h0m1.8 32.1h0m.6-25.7h0m.6 12.1h0m1.6 3.3h0m.1 9.5h0m.3 4.2h0m.2-9.7h0m1.6-12.9h0m.3 7.4h0m0-20.5h0m.1 24.5h0m.3-35.3h0m.2 45.8h0m1-17.7h0m.2 21.3h0m.5-16.7h0m.5-23.1h0m.1 49.2h0m.3-32.4h0m.2 3.3h0m.9-1.6h0m1.5-3.9h0m.4 20.1h0m.2-35.5h0m.9 34.4h0m.7-18.5h0m.4 27.8h0m.7-47.6h0m.1 41.4h0m1.2-1.4h0m.6 1.9h0m.2-29.4h0m2 36.2h0m.4-43.2h0m2 6h0m1.1 31.7h0m.5-50.5h0m.7 73.4h0m.1-49.2h0m0-3.4h0m1.4-14.2h0m1 44.2h0m.4-51.2h0m.3 69.9h0m.7-52.7h0m.1 44.2h0m.1-6.6h0m.4-39.7h0m1.6 33.9h0m.5 21h0m0-6.2h0m.3-48.2h0m.3 45.8h0m.5-12.9h0m.7-26.5h0m2.8 3h0m1 30.2h0m1.9-9.8h0m.7-18.6h0m.4 32.7h0m0-42.6h0m.1 3.3h0m.4 41.6h0m.3-47.1h0m0 10.6h0m.8 25.4h0m.5-32.4h0m.1 5.1h0m.4 45h0m1-18.7h0m0-47.1h0m.2 22.3h0m.1 18.2h0m.5 28.3h0m0-39h0m1.1-15.5h0m.2 50.2h0m.1-16.2h0m.8-27h0m.2 22.6h0m.3-18.6h0m.8-19.7h0m2.2 32.6h0m.5-4.8h0m1-26.5h0m.5 34h0m.6 8.9h0m.3-18.2h0m.1 2.1h0m1.3-8.1h0m2.1 7.9h0m1.5 20h0m1 4h0m1.5-33.4h0m.4-11.1h0m3.1 2.6h0m6.4 1.3h0m5.2 23.2h0m.9-3.9h0" stroke="#ee4a3e" stroke-width="1.8"/>
<path d="M495.8 449.2h0m3.2 20.2h0m1-13.8h0m.7 3.9h0m3.5-5.7h0m.3 3.5h0m.3 12.2h0m4.2-33.6h0m4 24.7h0m.9 2.7h0m.1 6.7h0m2.9 14.9h0m.2-16.8h0m.1-25.9h0m1 31.5h0m.6-3.6h0m2.8-17.4h0m.2 6.6h0m1.6-15.6h0m.2-3.2h0m.1 32.9h0m.2-37h0m.2-10.2h0m1.1 58.7h0m.5-3.7h0m.5-6.1h0m.8-34.4h0m.3 31.9h0m.2-29.2h0m.9-15.4h0m.3 29.4h0m0 19.2h0m.1 9.7h0m.3-47.1h0m2.1 22.7h0m1 21.8h0m0-57.3h0m.2 46.4h0m.3 7.8h0m.4-33.7h0m.7-9.5h0m.9-14.7h0m.5 11.8h0m.1-15.1h0m.3 9.9h0m.3 11.4h0m1 33.5h0m.3-31.5h0m.3 1.5h0m1.4 37.5h0m.1-39.8h0m.9 35h0m.2 14.8h0m1.4-18.9h0m.1 9.8h0m.6-3h0m0 5.6h0m.3-42.3h0m.9-7.5h0m1.3 33.8h0m.1-28.2h0m.1 41.1h0m.4-5h0m1.1-37.6h0m2.1 29.8h0m.3-31.6h0m.6 47.4h0m.2-42.2h0m.6-1.4h0m.3-1.7h0m1.9 28.8h0m1.4 13.2h0m0-47.8h0m.1-5.1h0m.8 58.8h0m2.3-58.5h0m2.5 11.3h0m.3 26.6h0m.3-18.5h0m.4-24.9h0m.1 40.4h0m1-4.5h0m.4-20.2h0m.5 16.9h0m0 26h0m.2-48.4h0m.5 30.8h0m2.4-36.1h0m.7 30.9h0m.3-26.7h0m.5 20.7h0m.1 20.6h0m.6-37.3h0m.1 7h0m.2-3.1h0m.9 9.5h0m.7 22.2h0m.3-16h0m1.7-6.6h0m.3 28.2h0m1.1-13.5h0m.9-27.1h0m1.4 42.8h0m.1-23.3h0m2.1-9.8h0m.8 2.9h0m.7 8.4h0m2.9 22.2h0m1.9-7.7h0m5.3-27.5h0m.7 18.2h0m3.8-18.2h0m.1 19.1h0" stroke="#fff" stroke-width="2.4" stroke-opacity="1.0"/>
<path d="M495.8 449.2h0m3.2 20.2h0m1-13.8h0m.7 3.9h0m3.5-5.7h0m.3 3.5h0m.3 12.2h0m4.2-33.6h0m4 24.7h0m.9 2.7h0m.1 6.7h0m2.9 14.9h0m.2-16.8h0m.1-25.9h0m1 31.5h0m.6-3.6h0m2.8-17.4h0m.2 6.6h0m1.6-15.6h0m.2-3.2h0m.1 32.9h0m.2-37h0m.2-10.2h0m1.1 58.7h0m.5-3.7h0m.5-6.1h0m.8-34.4h0m.3 31.9h0m.2-29.2h0m.9-15.4h0m.3 29.4h0m0 19.2h0m.1 9.7h0m.3-47.1h0m2.1 22.7h0m1 21.8h0m0-57.3h0m.2 46.4h0m.3 7.8h0m.4-33.7h0m.7-9.5h0m.9-14.7h0m.5 11.8h0m.1-15.1h0m.3 9.9h0m.3 11.4h0m1 33.5h0m.3-31.5h0m.3 1.5h0m1.4 37.5h0m.1-39.8h0m.9 35h0m.2 14.8h0m1.4-18.9h0m.1 9.8h0m.6-3h0m0 5.6h0m.3-42.3h0m.9-7.5h0m1.3 33.8h0m.1-28.2h0m.1 41.1h0m.4-5h0m1.1-37.6h0m2.1 29.8h0m.3-31.6h0m.6 47.4h0m.2-42.2h0m.6-1.4h0m.3-1.7h0m1.9 28.8h0m1.4 13.2h0m0-47.8h0m.1-5.1h0m.8 58.8h0m2.3-58.5h0m2.5 11.3h0m.3 26.6h0m.3-18.5h0m.4-24.9h0m.1 40.4h0m1-4.5h0m.4-20.2h0m.5 16.9h0m0 26h0m.2-48.4h0m.5 30.8h0m2.4-36.1h0m.7 30.9h0m.3-26.7h0m.5 20.7h0m.1 20.6h0m.6-37.3h0m.1 7h0m.2-3.1h0m.9 9.5h0m.7 22.2h0m.3-16h0m1.7-6.6h0m.3 28.2h0m1.1-13.5h0m.9-27.1h0m1.4 42.8h0m.1-23.3h0m2.1-9.8h0m.8 2.9h0m.7 8.4h0m2.9 22.2h0m1.9-7.7h0m5.3-27.5h0m.7 18.2h0m3.8-18.2h0m.1 19.1h0" stroke="#ee4a3e" stroke-width="1.8"/>
<path d="M502.8 466.5h0m2-15.9h0m4 7.8h0m.6 11.7h0m1.1-5.8h0m1.1-9.5h0m.1-11.4h0m1 34.3h0m.1 5.6h0m1.2-8.6h0m0-28.2h0m.1-10.1h0m1.3 19.7h0m.1 9.7h0m1.4 10.9h0m1.7-39.9h0m1 13h0m.1-25.8h0m1.3 51.7h0m0-7.8h0m.1-33.1h0m.1 20.2h0m.1 2.2h0m1.5 12.6h0m.9 19.1h0m.2-32.7h0m2 5.7h0m.3-13.7h0m.1 6.1h0m1-3.5h0m.6-13.4h0m2.3 23.1h0m.2-24.3h0m.2 10.1h0m.7-7.9h0m1 52h0m1.3-46.2h0m1.2 31.4h0m.2-4.4h0m.1-6h0m.3-26.1h0m.5 51.8h0m1.4-14.7h0m.1-6.3h0m1.2-44.5h0m.5 47.2h0m.8-34.7h0m.1 29.2h0m1.7 .3h0m.1 3.4h0m.4-48.6h0m.5 55h0m.6-4.2h0m1-35.5h0m.1 37.5h0m1-52.9h0m1.2 19h0m0-3.5h0m1-9.7h0m.2 15h0m.2 34.2h0m.2-35.8h0m1.6 29.2h0m1.1-32.5h0m1.9-1.9h0m2.6 2.8h0m.4 28.3h0m.2 17h0m.1-15h0m.5-4.7h0m.5-32.6h0m.2 48.9h0m.7-12.8h0m1.2-41.2h0m.1 56.6h0m.2-21h0m.5 28.1h0m.4-44.4h0m.2-15.9h0m.1 30.9h0m1.7-8h0m.6-4.2h0m1-8.1h0m.2-16.1h0m.6 29.3h0m.2 21.6h0m2.7-5.4h0m1.1 9.8h0m.5-34.3h0m.9 18.1h0m1.1 11.2h0m.9 7.5h0m.3-25.3h0m1.9-27.4h0m0 32.3h0m.2-13.1h0m1 35.6h0m.4-45h0m.2 31h0m1.1-34.8h0m1 6.5h0m.2 18.7h0m.9-5.5h0m2.2-26.2h0m.8 21.3h0m1.4 15.6h0m.7 12h0m1.2-39.2h0m.2 10.9h0m3.9-.7h0m.3 22.1h0m.8-11h0m5.2-7.4h0" stroke="#fff" stroke-width="2.4" stroke-opacity="1.0"/>
<path d="M502.8 466.5h0m2-15.9h0m4 7.8h0m.6 11.7h0m1.1-5.8h0m1.1-9.5h0m.1-11.4h0m1 34.3h0m.1 5.6h0m1.2-8.6h0m0-28.2h0m.1-10.1h0m1.3 19.7h0m.1 9.7h0m1.4 10.9h0m1.7-39.9h0m1 13h0m.1-25.8h0m1.3 51.7h0m0-7.8h0m.1-33.1h0m.1 20.2h0m.1 2.2h0m1.5 12.6h0m.9 19.1h0m.2-32.7h0m2 5.7h0m.3-13.7h0m.1 6.1h0m1-3.5h0m.6-13.4h0m2.3 23.1h0m.2-24.3h0m.2 10.1h0m.7-7.9h0m1 52h0m1.3-46.2h0m1.2 31.4h0m.2-4.4h0m.1-6h0m.3-26.1h0m.5 51.8h0m1.4-14.7h0m.1-6.3h0m1.2-44.5h0m.5 47.2h0m.8-34.7h0m.1 29.2h0m1.7 .3h0m.1 3.4h0m.4-48.6h0m.5 55h0m.6-4.2h0m1-35.5h0m.1 37.5h0m1-52.9h0m1.2 19h0m0-3.5h0m1-9.7h0m.2 15h0m.2 34.2h0m.2-35.8h0m1.6 29.2h0m1.1-32.5h0m1.9-1.9h0m2.6 2.8h0m.4 28.3h0m.2 17h0m.1-15h0m.5-4.7h0m.5-32.6h0m.2 48.9h0m.7-12.8h0m1.2-41.2h0m.1 56.6h0m.2-21h0m.5 28.1h0m.4-44.4h0m.2-15.9h0m.1 30.9h0m1.7-8h0m.6-4.2h0m1-8.1h0m.2-16.1h0m.6 29.3h0m.2 21.6h0m2.7-5.4h0m1.1 9.8h0m.5-34.3h0m.9 18.1h0m1.1 11.2h0m.9 7.5h0m.3-25.3h0m1.9-27.4h0m0 32.3h0m.2-13.1h0m1 35.6h0m.4-45h0m.2 31h0m1.1-34.8h0m1 6.5h0m.2 18.7h0m.9-5.5h0m2.2-26.2h0m.8 21.3h0m1.4 15.6h0m.7 12h0m1.2-39.2h0m.2 10.9h0m3.9-.7h0m.3 22.1h0m.8-11h0m5.2-7.4h0" stroke="#ee4a3e" stroke-width="1.8"/>
<path d="M576 372L589 390L611 417L635 443L658 461" stroke="#6ea5c3" stroke-width="15" stroke-linejoin="round" filter="url(#bl5)"/>
<path d="M562.3 355.7h0m1.7 3.9h0m1.3 11.7h0m.9-10.4h0m.7 21.9h0m.7-29.3h0m.4 8.2h0m1.5-.2h0m.1 33h0m.7-44.9h0m.8 13.8h0m.1 47.9h0m.1-22.3h0m.4-36.8h0m.3 42.7h0m.2-47.3h0m1.3 17.3h0m.4-1h0m.3 13.9h0m.4 26.9h0m.4-25.7h0m.6 5.4h0m.3 3.7h0m1.1-11.9h0m0 5.3h0m1.3 8.6h0m.1-20.2h0m.3 16.3h0m.2 5.3h0m.3-16.1h0m.3-5.9h0m.1 4.3h0m.1 16.7h0m.2-1.3h0m.3-16.5h0m.5 6.7h0m.3-11.5h0m.7 12.3h0m.4 7.8h0m.4-4.3h0m0-25.6h0m0 36.1h0m.2-5.2h0m.2 16.3h0m.1-32.9h0m.5-2.4h0m.2 36.4h0m1.2-.6h0m.2-28.8h0m.7 22.1h0m.5-2h0m.7-27h0m.1 23.2h0m.4-2.5h0m.2 17.4h0m.6-12.7h0m.4 5.6h0m.2-26.4h0m.1 42.6h0m.4-33.2h0m.1-8.3h0m.4 43.5h0m.6-51.8h0m.1 67.2h0m.7-32.8h0m.7 6.8h0m.5-5.4h0m.4-36.9h0m0 26h0m.5 16.8h0m.7 30.2h0m.2-49.5h0m1.4 27.1h0m.4 9.5h0m0-13.9h0m.5-31.1h0m.2 25.7h0m.2-41.6h0m.6 42.4h0m1 2.5h0m.3-24.6h0m.1 30h0m2.4-.4h0m.4-42.9h0m.1 25.7h0m.8-8.9h0m.1 1.3h0m1 48.8h0m.6-19.3h0m.1-27.6h0m.7 35.5h0m0-15.2h0m.1-5.9h0m.1 12.7h0m.1-39.7h0m.1 45h0m.1 14.4h0m.4-24.4h0m0-39.4h0m.1 25h0m.1 36h0m.8-1.2h0m.1-3.3h0m.4-29.2h0m2-6.4h0m.2 24.7h0m.1 10.4h0m.1-28.5h0m.1 20.1h0m.1-5.4h0m.5 34.3h0m.9-67.8h0m.6 58h0m.3-28.4h0m.2-15h0m.1 1.3h0m.2 38.2h0m.3 11.6h0m.4-36.7h0m.8 20.1h0m.1-34.7h0m1.3 54.9h0m.8-2h0m.1-21.4h0m1.1 0h0m.1 26.9h0m.3-15.3h0m.5-28.6h0m.1 16.5h0m.7-13.5h0m.1 35.9h0m.2-7.4h0m.1-23h0m.4 13.1h0m.6 4.2h0m.2-9.6h0m.7-36.4h0m0 3.8h0m0 24.2h0m.6 12.1h0m.1-28.5h0m.6 9.1h0m.4-6.7h0m.1 9.4h0m.5 25.2h0m.4-22.7h0m0-1.5h0m.6-18.4h0m.5 47.7h0m.3-11.8h0m.2-32h0m0 30.5h0m.6 4.6h0m.8 28.1h0m.3-50.7h0m.2 36.4h0m.2 6.6h0m.3-49.4h0m.4 18.6h0m.6 41.6h0m.2-54h0m.5 24.5h0m.6 7.7h0m.4-12.5h0m.2-33.8h0m.6 33.3h0m.9 13.6h0m0-23.3h0m.1-7.1h0m.2 5.1h0m.6 23.7h0m.2-9.9h0m.9-.8h0m.2 28.6h0m.2-1.6h0m.8-9.6h0m.5-14h0m.2 2.6h0m.4 2.3h0m.5 15.4h0m.6 13h0m.5-6.6h0m.1-64.9h0m.6 51.2h0m.6-2.8h0m.2-23.9h0m.6 22.9h0m1.4 9h0m0-21.1h0m.5 30.9h0m.4-23.8h0m.3 30.7h0m.2-22h0m.2-13h0m.3-40.1h0m.5 38.4h0m.2-9.5h0m.4 13.9h0m.3 24.6h0m.4 9.5h0m.2 4.3h0m.1-34.1h0m.5 14.1h0m.3-32.6h0m.4 53.9h0m.4-7.5h0m.4-27.1h0m1.5 11.9h0m.2 2h0m.4 19.6h0m.6-41.8h0m.1 22.5h0m.4-12.5h0m1.1-25.6h0m.2 30.7h0m.8-4.9h0m1-4.3h0m3.4-1h0m.6 13h0m.1 2.2h0m.2 3.1h0m.1-16.9h0m.2 24.4h0m.2-14.9h0m.5-8.1h0m.4 5.9h0m.1-14.9h0m2 13.5h0m0 4.2h0m.3 11.6h0m.2 3.6h0m0-20.5h0m.2 10.6h0m0-1.5h0m.5-24h0m.1 11.3h0m.4-1.4h0m.9 4.3h0m.6 27h0m.8-44.6h0m.6 42.3h0m.9 10.6h0m1.4-26.6h0m0 10.8h0m1.1-1.6h0m2-2.4h0m1.2-4.4h0m.2 9.5h0m.1-21.7h0m.8-12.8h0m0 36.8h0m.1-6.1h0m1.1-7.5h0m.2 8.1h0m1.5 2.2h0m.5-8h0m.2-6.2h0m.4 7.8h0m.4-16.7h0m2.3 7.9h0m1-13h0m.5 19.4h0m6.9-3.2h0m5.5-.2h0" stroke="#fff" stroke-width="2.4" stroke-opacity="1.0"/>
<path d="M562.3 355.7h0m1.7 3.9h0m1.3 11.7h0m.9-10.4h0m.7 21.9h0m.7-29.3h0m.4 8.2h0m1.5-.2h0m.1 33h0m.7-44.9h0m.8 13.8h0m.1 47.9h0m.1-22.3h0m.4-36.8h0m.3 42.7h0m.2-47.3h0m1.3 17.3h0m.4-1h0m.3 13.9h0m.4 26.9h0m.4-25.7h0m.6 5.4h0m.3 3.7h0m1.1-11.9h0m0 5.3h0m1.3 8.6h0m.1-20.2h0m.3 16.3h0m.2 5.3h0m.3-16.1h0m.3-5.9h0m.1 4.3h0m.1 16.7h0m.2-1.3h0m.3-16.5h0m.5 6.7h0m.3-11.5h0m.7 12.3h0m.4 7.8h0m.4-4.3h0m0-25.6h0m0 36.1h0m.2-5.2h0m.2 16.3h0m.1-32.9h0m.5-2.4h0m.2 36.4h0m1.2-.6h0m.2-28.8h0m.7 22.1h0m.5-2h0m.7-27h0m.1 23.2h0m.4-2.5h0m.2 17.4h0m.6-12.7h0m.4 5.6h0m.2-26.4h0m.1 42.6h0m.4-33.2h0m.1-8.3h0m.4 43.5h0m.6-51.8h0m.1 67.2h0m.7-32.8h0m.7 6.8h0m.5-5.4h0m.4-36.9h0m0 26h0m.5 16.8h0m.7 30.2h0m.2-49.5h0m1.4 27.1h0m.4 9.5h0m0-13.9h0m.5-31.1h0m.2 25.7h0m.2-41.6h0m.6 42.4h0m1 2.5h0m.3-24.6h0m.1 30h0m2.4-.4h0m.4-42.9h0m.1 25.7h0m.8-8.9h0m.1 1.3h0m1 48.8h0m.6-19.3h0m.1-27.6h0m.7 35.5h0m0-15.2h0m.1-5.9h0m.1 12.7h0m.1-39.7h0m.1 45h0m.1 14.4h0m.4-24.4h0m0-39.4h0m.1 25h0m.1 36h0m.8-1.2h0m.1-3.3h0m.4-29.2h0m2-6.4h0m.2 24.7h0m.1 10.4h0m.1-28.5h0m.1 20.1h0m.1-5.4h0m.5 34.3h0m.9-67.8h0m.6 58h0m.3-28.4h0m.2-15h0m.1 1.3h0m.2 38.2h0m.3 11.6h0m.4-36.7h0m.8 20.1h0m.1-34.7h0m1.3 54.9h0m.8-2h0m.1-21.4h0m1.1 0h0m.1 26.9h0m.3-15.3h0m.5-28.6h0m.1 16.5h0m.7-13.5h0m.1 35.9h0m.2-7.4h0m.1-23h0m.4 13.1h0m.6 4.2h0m.2-9.6h0m.7-36.4h0m0 3.8h0m0 24.2h0m.6 12.1h0m.1-28.5h0m.6 9.1h0m.4-6.7h0m.1 9.4h0m.5 25.2h0m.4-22.7h0m0-1.5h0m.6-18.4h0m.5 47.7h0m.3-11.8h0m.2-32h0m0 30.5h0m.6 4.6h0m.8 28.1h0m.3-50.7h0m.2 36.4h0m.2 6.6h0m.3-49.4h0m.4 18.6h0m.6 41.6h0m.2-54h0m.5 24.5h0m.6 7.7h0m.4-12.5h0m.2-33.8h0m.6 33.3h0m.9 13.6h0m0-23.3h0m.1-7.1h0m.2 5.1h0m.6 23.7h0m.2-9.9h0m.9-.8h0m.2 28.6h0m.2-1.6h0m.8-9.6h0m.5-14h0m.2 2.6h0m.4 2.3h0m.5 15.4h0m.6 13h0m.5-6.6h0m.1-64.9h0m.6 51.2h0m.6-2.8h0m.2-23.9h0m.6 22.9h0m1.4 9h0m0-21.1h0m.5 30.9h0m.4-23.8h0m.3 30.7h0m.2-22h0m.2-13h0m.3-40.1h0m.5 38.4h0m.2-9.5h0m.4 13.9h0m.3 24.6h0m.4 9.5h0m.2 4.3h0m.1-34.1h0m.5 14.1h0m.3-32.6h0m.4 53.9h0m.4-7.5h0m.4-27.1h0m1.5 11.9h0m.2 2h0m.4 19.6h0m.6-41.8h0m.1 22.5h0m.4-12.5h0m1.1-25.6h0m.2 30.7h0m.8-4.9h0m1-4.3h0m3.4-1h0m.6 13h0m.1 2.2h0m.2 3.1h0m.1-16.9h0m.2 24.4h0m.2-14.9h0m.5-8.1h0m.4 5.9h0m.1-14.9h0m2 13.5h0m0 4.2h0m.3 11.6h0m.2 3.6h0m0-20.5h0m.2 10.6h0m0-1.5h0m.5-24h0m.1 11.3h0m.4-1.4h0m.9 4.3h0m.6 27h0m.8-44.6h0m.6 42.3h0m.9 10.6h0m1.4-26.6h0m0 10.8h0m1.1-1.6h0m2-2.4h0m1.2-4.4h0m.2 9.5h0m.1-21.7h0m.8-12.8h0m0 36.8h0m.1-6.1h0m1.1-7.5h0m.2 8.1h0m1.5 2.2h0m.5-8h0m.2-6.2h0m.4 7.8h0m.4-16.7h0m2.3 7.9h0m1-13h0m.5 19.4h0m6.9-3.2h0m5.5-.2h0" stroke="#4791b4" stroke-width="2"/>
<path d="M563.8 377.5h0m.3-21.7h0m1.1 51.7h0m.9-55.3h0m.8 18.1h0m.4-20.7h0m2.2 22.7h0m.2 24.1h0m.6 2.5h0m1.5-1.9h0m.2-6.1h0m.8-18.8h0m.1 16.5h0m.3-35.6h0m.5 34.3h0m.3-17.2h0m.6-18.1h0m1.5 46h0m1.8-32.2h0m.5 16.7h0m.3-14.6h0m2.9 41.7h0m.3-27.1h0m.6 7.7h0m.1 9.7h0m1.5 3.8h0m.1-9h0m.6-23.1h0m.1 9.8h0m.2 39.1h0m.3-49.8h0m.2 21.7h0m.3-6.6h0m1 12.7h0m1-12.1h0m0 11.2h0m.2-4.5h0m.8-33h0m.9 31.6h0m.1-2.6h0m.3 12.5h0m.9 9.5h0m1 7.5h0m1.1-47.1h0m1.2 21.1h0m1.5 11h0m.3 37.2h0m.2-51.4h0m.5 1.2h0m.1-15.7h0m.2 42.7h0m.8-4.6h0m.1-29.1h0m.3 41.9h0m.8-35.6h0m.1 43.6h0m0-27.5h0m.4 13.4h0m.9 .9h0m.2-22.2h0m.2 14.1h0m.7-.9h0m.2-16.8h0m1 21h0m.6-13.8h0m.5 35.4h0m.3-32.2h0m.3 18h0m.2 21.2h0m.2-49.4h0m.3 26.4h0m.2-35.7h0m.7 20.2h0m.2 1.1h0m.2-4.7h0m.4 14.9h0m.6 31.3h0m.3-65.7h0m.2 7.2h0m.4 20.8h0m.8 18.9h0m.7 26.8h0m.4-48.9h0m.4-28.7h0m.2 47.5h0m.1-26.7h0m1.1-4.1h0m.1 14h0m.2 27.1h0m0-34.2h0m.5 45h0m0-39.6h0m.3 1.1h0m.3-33.1h0m.8 32.1h0m.7 51.4h0m1.7-26.6h0m.1-25.6h0m.2 7.3h0m.1-1.2h0m.3-37.3h0m1 59.9h0m0-18.3h0m1 9.2h0m.1-21.6h0m.9-15.7h0m.9 55.2h0m.6 9.7h0m0-42.7h0m.5 18.8h0m.3-11.9h0m.1-16.3h0m.4 53.1h0m.2-12.2h0m.1-51.7h0m0 31.4h0m.7-19.7h0m.1 18.4h0m.1-15.7h0m.1 23.2h0m.2-16.6h0m.6 31.8h0m0 4.6h0m.2 5.1h0m.1-24.5h0m.8 7.1h0m.1-10.9h0m.9 2.4h0m.1 7.4h0m.4-18.9h0m.2-4.1h0m.8 28.8h0m.2 1.1h0m.6 7.7h0m.9-11.3h0m.8-14h0m.5-6.7h0m.2 48.9h0m0-17.4h0m1.3-.6h0m.2 3.1h0m1.2-9.8h0m.3-4.3h0m.2-17.5h0m.3 39.3h0m.4-10.4h0m0 2.2h0m.2 14.9h0m0-28.6h0m.7 22.8h0m.1-3.9h0m.6-18.1h0m.1-12.4h0m.5 1.2h0m.7 4.2h0m.7-10h0m.6 32.3h0m0 8.4h0m.3-35.9h0m.1-7.2h0m.1 31.1h0m.1 29.3h0m.8-33h0m.3-20.8h0m1.5 36.1h0m.2-32.8h0m0-10.5h0m.5 46.8h0m.3 1.3h0m.1-12.5h0m.4-2.9h0m.2-28.4h0m0 21.3h0m.9-1.6h0m.2 6.4h0m.5 20.8h0m.3-27.4h0m0-4h0m.2 19.2h0m.2 5.1h0m.2-51.3h0m.5 66.9h0m.6-35.7h0m.2 21h0m.3-4h0m.2-12.5h0m.1 4.4h0m.8-1.8h0m.6 36.3h0m0-18.3h0m.3-5.7h0m0 3h0m0 1.5h0m.3-21.9h0m.1 25.1h0m.7 8.2h0m1-19.4h0m.9-18.6h0m.1 9.4h0m.4-14.3h0m.1 34.3h0m.1-23.4h0m.6 9.6h0m0-34.4h0m1 39.2h0m.2-4.1h0m.1-4.2h0m.2-16.8h0m.3-4.4h0m.2 24.8h0m.4-6.9h0m1 25.5h0m.4-23.2h0m.1-32.2h0m.9 40h0m1.2-18.2h0m.6 12.4h0m.8-16.6h0m.4-15h0m1.4 11.7h0m.1 7.2h0m.5 27.3h0m.3-1h0m.6-17.2h0m.1-13.7h0m.5 33.5h0m.1-22.4h0m.9 22h0m.8-27.9h0m.1 34.2h0m.2-15.1h0m.2-11.4h0m.2 13.3h0m.8 1h0m.1 2.6h0m.4 12.4h0m1.1-41.9h0m.4 38.1h0m.2-21.2h0m.4-2.7h0m.3 22.7h0m.4 2.1h0m.2-31.8h0m.3-17.8h0m.4 35.4h0m.8-12.1h0m.3 27.4h0m.7-6.7h0m.2-9.7h0m.8 5.7h0m.1 4.6h0m.7-11.2h0m.9-29.8h0m.9 13.6h0m1.1 16.2h0m.6-23h0m.2 24.6h0m1 20h0m.4-27.5h0m1.2 19.8h0m.4-12.6h0m3.8-9.9h0m5 27.4h0m1.1-14.8h0" stroke="#fff" stroke-width="2.4" stroke-opacity="1.0"/>
<path d="M563.8 377.5h0m.3-21.7h0m1.1 51.7h0m.9-55.3h0m.8 18.1h0m.4-20.7h0m2.2 22.7h0m.2 24.1h0m.6 2.5h0m1.5-1.9h0m.2-6.1h0m.8-18.8h0m.1 16.5h0m.3-35.6h0m.5 34.3h0m.3-17.2h0m.6-18.1h0m1.5 46h0m1.8-32.2h0m.5 16.7h0m.3-14.6h0m2.9 41.7h0m.3-27.1h0m.6 7.7h0m.1 9.7h0m1.5 3.8h0m.1-9h0m.6-23.1h0m.1 9.8h0m.2 39.1h0m.3-49.8h0m.2 21.7h0m.3-6.6h0m1 12.7h0m1-12.1h0m0 11.2h0m.2-4.5h0m.8-33h0m.9 31.6h0m.1-2.6h0m.3 12.5h0m.9 9.5h0m1 7.5h0m1.1-47.1h0m1.2 21.1h0m1.5 11h0m.3 37.2h0m.2-51.4h0m.5 1.2h0m.1-15.7h0m.2 42.7h0m.8-4.6h0m.1-29.1h0m.3 41.9h0m.8-35.6h0m.1 43.6h0m0-27.5h0m.4 13.4h0m.9 .9h0m.2-22.2h0m.2 14.1h0m.7-.9h0m.2-16.8h0m1 21h0m.6-13.8h0m.5 35.4h0m.3-32.2h0m.3 18h0m.2 21.2h0m.2-49.4h0m.3 26.4h0m.2-35.7h0m.7 20.2h0m.2 1.1h0m.2-4.7h0m.4 14.9h0m.6 31.3h0m.3-65.7h0m.2 7.2h0m.4 20.8h0m.8 18.9h0m.7 26.8h0m.4-48.9h0m.4-28.7h0m.2 47.5h0m.1-26.7h0m1.1-4.1h0m.1 14h0m.2 27.1h0m0-34.2h0m.5 45h0m0-39.6h0m.3 1.1h0m.3-33.1h0m.8 32.1h0m.7 51.4h0m1.7-26.6h0m.1-25.6h0m.2 7.3h0m.1-1.2h0m.3-37.3h0m1 59.9h0m0-18.3h0m1 9.2h0m.1-21.6h0m.9-15.7h0m.9 55.2h0m.6 9.7h0m0-42.7h0m.5 18.8h0m.3-11.9h0m.1-16.3h0m.4 53.1h0m.2-12.2h0m.1-51.7h0m0 31.4h0m.7-19.7h0m.1 18.4h0m.1-15.7h0m.1 23.2h0m.2-16.6h0m.6 31.8h0m0 4.6h0m.2 5.1h0m.1-24.5h0m.8 7.1h0m.1-10.9h0m.9 2.4h0m.1 7.4h0m.4-18.9h0m.2-4.1h0m.8 28.8h0m.2 1.1h0m.6 7.7h0m.9-11.3h0m.8-14h0m.5-6.7h0m.2 48.9h0m0-17.4h0m1.3-.6h0m.2 3.1h0m1.2-9.8h0m.3-4.3h0m.2-17.5h0m.3 39.3h0m.4-10.4h0m0 2.2h0m.2 14.9h0m0-28.6h0m.7 22.8h0m.1-3.9h0m.6-18.1h0m.1-12.4h0m.5 1.2h0m.7 4.2h0m.7-10h0m.6 32.3h0m0 8.4h0m.3-35.9h0m.1-7.2h0m.1 31.1h0m.1 29.3h0m.8-33h0m.3-20.8h0m1.5 36.1h0m.2-32.8h0m0-10.5h0m.5 46.8h0m.3 1.3h0m.1-12.5h0m.4-2.9h0m.2-28.4h0m0 21.3h0m.9-1.6h0m.2 6.4h0m.5 20.8h0m.3-27.4h0m0-4h0m.2 19.2h0m.2 5.1h0m.2-51.3h0m.5 66.9h0m.6-35.7h0m.2 21h0m.3-4h0m.2-12.5h0m.1 4.4h0m.8-1.8h0m.6 36.3h0m0-18.3h0m.3-5.7h0m0 3h0m0 1.5h0m.3-21.9h0m.1 25.1h0m.7 8.2h0m1-19.4h0m.9-18.6h0m.1 9.4h0m.4-14.3h0m.1 34.3h0m.1-23.4h0m.6 9.6h0m0-34.4h0m1 39.2h0m.2-4.1h0m.1-4.2h0m.2-16.8h0m.3-4.4h0m.2 24.8h0m.4-6.9h0m1 25.5h0m.4-23.2h0m.1-32.2h0m.9 40h0m1.2-18.2h0m.6 12.4h0m.8-16.6h0m.4-15h0m1.4 11.7h0m.1 7.2h0m.5 27.3h0m.3-1h0m.6-17.2h0m.1-13.7h0m.5 33.5h0m.1-22.4h0m.9 22h0m.8-27.9h0m.1 34.2h0m.2-15.1h0m.2-11.4h0m.2 13.3h0m.8 1h0m.1 2.6h0m.4 12.4h0m1.1-41.9h0m.4 38.1h0m.2-21.2h0m.4-2.7h0m.3 22.7h0m.4 2.1h0m.2-31.8h0m.3-17.8h0m.4 35.4h0m.8-12.1h0m.3 27.4h0m.7-6.7h0m.2-9.7h0m.8 5.7h0m.1 4.6h0m.7-11.2h0m.9-29.8h0m.9 13.6h0m1.1 16.2h0m.6-23h0m.2 24.6h0m1 20h0m.4-27.5h0m1.2 19.8h0m.4-12.6h0m3.8-9.9h0m5 27.4h0m1.1-14.8h0" stroke="#4791b4" stroke-width="2"/>
<path d="M556.3 361.7h0m3.7-3h0m2.2 .3h0m1-4.8h0m.3 17.6h0m.9 1.9h0m1 13.3h0m.4 3.3h0m.4-9.6h0m.2-12.7h0m.9-16.5h0m.3 11.8h0m.6-3.3h0m.7-11.3h0m0 19.8h0m.3 13.4h0m.7-36.3h0m1.5 8h0m.1 12.7h0m.4 20.5h0m.7-18.3h0m.8 6.3h0m.1-8.6h0m1.5 2.4h0m.6-3.9h0m.3-7.3h0m.3 4.7h0m1.3 5.8h0m.5 19.6h0m0 10.4h0m.1-26.9h0m1.4 12.3h0m.5 39.9h0m.3-28h0m0-17.4h0m.7 14.9h0m0-5.7h0m.2 14.7h0m.3 6h0m.4-36.3h0m.7 8.3h0m0-14.6h0m1.6 10.4h0m.5 3.5h0m.2-14.8h0m.8 9.7h0m1.1 32.9h0m.1-14.8h0m.1-8.7h0m1.2 23.6h0m0-30.3h0m.7 15.9h0m0-23.5h0m.5 30.5h0m.1 3.3h0m.5-23.1h0m.4-8.5h0m0 18.8h0m.1 13.8h0m0 17.4h0m0-37.1h0m.7-8.9h0m.6-4.6h0m1 34.5h0m.7-11.1h0m.3-7.4h0m.1 1.4h0m0 34.1h0m1.4-32.3h0m.7-13.7h0m1.3 67h0m.6-37.8h0m.2-6.4h0m.2 8.3h0m.6-30.2h0m.7 35.7h0m.3 24.6h0m.9-18.8h0m.2-34.5h0m.1 51h0m.4-8.3h0m.4 13.1h0m.6-27.4h0m0 16.1h0m1.6 3h0m.4-17.6h0m.3-9.9h0m.9-5.7h0m0 6.3h0m.1-34h0m1 22.8h0m.3 6.6h0m.2 7.7h0m.1 18.6h0m0-2.4h0m0-12h0m.4-17.4h0m.9 20.8h0m.3 35.1h0m.2-43.6h0m.3 37.8h0m.2-44.8h0m.2-1.2h0m.1 16.6h0m0-2.4h0m.5-6.2h0m.1 17.5h0m.3 16.8h0m.2 9.1h0m.1-17.2h0m0-11.3h0m.4-7.3h0m1.5-23.2h0m.2 12.3h0m.2 29.3h0m.2-7h0m.2-50.9h0m.7 37.6h0m.1 35.7h0m.1-32.3h0m.5-10.3h0m.3 29.2h0m.3-53h0m0 7.7h0m.7 52.8h0m.4-20.6h0m0 14.9h0m.9-36h0m.1 43.2h0m.4 9.9h0m.2-61.8h0m.6 16.8h0m.5 33.7h0m.1-46.9h0m.1 5.4h0m.8 14h0m.6 48.3h0m0-2.5h0m.2-42h0m.3-4.6h0m.9 44h0m.7-25.8h0m1.2-30.7h0m.4 39.3h0m.3-26.7h0m.2 25.6h0m.1-32.3h0m.7 19.7h0m.4 20.8h0m.2-31.8h0m.3-9.1h0m0 27.3h0m.3 6.9h0m.8-21.6h0m.3-22.8h0m.7 17h0m.6 12.9h0m.4 17.9h0m.8-31.7h0m1.6 23.1h0m1.4-10.4h0m.2-6.7h0m.1 14.2h0m1-1.5h0m.3 23.9h0m0-14.1h0m.1-11.5h0m.2 13.9h0m1.1-19.1h0m.1 16h0m.3-7.9h0m.2 17.1h0m.5-7.1h0m.9-.9h0m0 14.5h0m.1-45.5h0m.2 22.6h0m.4 7.4h0m0 14.6h0m.4-22.9h0m.8-4.8h0m.1 41.3h0m.1-29.6h0m0-18.4h0m.6 33.7h0m0 1.3h0m.5 14.5h0m.1-27.5h0m.1-15.2h0m.2 11.6h0m.5 19h0m1.2-17.3h0m1.3 14.1h0m.6-25.1h0m0 23.7h0m.1-58.7h0m.6 46.3h0m0 25.1h0m.3-11h0m1.1-15.3h0m.2-1.2h0m.2 31.7h0m.3-29.2h0m.1 7.1h0m.2-10.5h0m.9 1.5h0m0 3.1h0m1-34.8h0m.2 44.2h0m0-24.9h0m.5 2.4h0m.1 41.6h0m.3-31.5h0m.2 20.7h0m.3 9.6h0m.2-14.2h0m.9 6.6h0m.5-51.9h0m.5 27.2h0m.4 5.4h0m.5-38.2h0m.2 12.5h0m.3 46.1h0m.9-18.1h0m.5 21h0m.2-39h0m.3 9h0m4.3 21.4h0m.1 13.8h0m.4-8.5h0m.1 5.7h0m.1 14.4h0m.8-29.7h0m1 10h0m.2-9.4h0m1.1 .5h0m.1-6.5h0m.2 12.3h0m1 10.2h0m.4 1.8h0m.5-10.9h0m.2 16h0m1.7-5.6h0m.1-26.6h0m0-4.7h0m1.3 42.3h0m.1-50.7h0m.6 22.8h0m.8 10.1h0m.5 15.4h0m1-17.4h0m.3-16.5h0m.8 5.9h0m.7 1.7h0m1.3 22.5h0m1.8-15.9h0m1.6-5.3h0m1.1-4.7h0m1.2 32h0m1.4-11.5h0m.2 3h0m2.2-18.1h0m.6-13.3h0m1.2 23.2h0" stroke="#fff" stroke-width="2.4" stroke-opacity="1.0"/>
<path d="M556.3 361.7h0m3.7-3h0m2.2 .3h0m1-4.8h0m.3 17.6h0m.9 1.9h0m1 13.3h0m.4 3.3h0m.4-9.6h0m.2-12.7h0m.9-16.5h0m.3 11.8h0m.6-3.3h0m.7-11.3h0m0 19.8h0m.3 13.4h0m.7-36.3h0m1.5 8h0m.1 12.7h0m.4 20.5h0m.7-18.3h0m.8 6.3h0m.1-8.6h0m1.5 2.4h0m.6-3.9h0m.3-7.3h0m.3 4.7h0m1.3 5.8h0m.5 19.6h0m0 10.4h0m.1-26.9h0m1.4 12.3h0m.5 39.9h0m.3-28h0m0-17.4h0m.7 14.9h0m0-5.7h0m.2 14.7h0m.3 6h0m.4-36.3h0m.7 8.3h0m0-14.6h0m1.6 10.4h0m.5 3.5h0m.2-14.8h0m.8 9.7h0m1.1 32.9h0m.1-14.8h0m.1-8.7h0m1.2 23.6h0m0-30.3h0m.7 15.9h0m0-23.5h0m.5 30.5h0m.1 3.3h0m.5-23.1h0m.4-8.5h0m0 18.8h0m.1 13.8h0m0 17.4h0m0-37.1h0m.7-8.9h0m.6-4.6h0m1 34.5h0m.7-11.1h0m.3-7.4h0m.1 1.4h0m0 34.1h0m1.4-32.3h0m.7-13.7h0m1.3 67h0m.6-37.8h0m.2-6.4h0m.2 8.3h0m.6-30.2h0m.7 35.7h0m.3 24.6h0m.9-18.8h0m.2-34.5h0m.1 51h0m.4-8.3h0m.4 13.1h0m.6-27.4h0m0 16.1h0m1.6 3h0m.4-17.6h0m.3-9.9h0m.9-5.7h0m0 6.3h0m.1-34h0m1 22.8h0m.3 6.6h0m.2 7.7h0m.1 18.6h0m0-2.4h0m0-12h0m.4-17.4h0m.9 20.8h0m.3 35.1h0m.2-43.6h0m.3 37.8h0m.2-44.8h0m.2-1.2h0m.1 16.6h0m0-2.4h0m.5-6.2h0m.1 17.5h0m.3 16.8h0m.2 9.1h0m.1-17.2h0m0-11.3h0m.4-7.3h0m1.5-23.2h0m.2 12.3h0m.2 29.3h0m.2-7h0m.2-50.9h0m.7 37.6h0m.1 35.7h0m.1-32.3h0m.5-10.3h0m.3 29.2h0m.3-53h0m0 7.7h0m.7 52.8h0m.4-20.6h0m0 14.9h0m.9-36h0m.1 43.2h0m.4 9.9h0m.2-61.8h0m.6 16.8h0m.5 33.7h0m.1-46.9h0m.1 5.4h0m.8 14h0m.6 48.3h0m0-2.5h0m.2-42h0m.3-4.6h0m.9 44h0m.7-25.8h0m1.2-30.7h0m.4 39.3h0m.3-26.7h0m.2 25.6h0m.1-32.3h0m.7 19.7h0m.4 20.8h0m.2-31.8h0m.3-9.1h0m0 27.3h0m.3 6.9h0m.8-21.6h0m.3-22.8h0m.7 17h0m.6 12.9h0m.4 17.9h0m.8-31.7h0m1.6 23.1h0m1.4-10.4h0m.2-6.7h0m.1 14.2h0m1-1.5h0m.3 23.9h0m0-14.1h0m.1-11.5h0m.2 13.9h0m1.1-19.1h0m.1 16h0m.3-7.9h0m.2 17.1h0m.5-7.1h0m.9-.9h0m0 14.5h0m.1-45.5h0m.2 22.6h0m.4 7.4h0m0 14.6h0m.4-22.9h0m.8-4.8h0m.1 41.3h0m.1-29.6h0m0-18.4h0m.6 33.7h0m0 1.3h0m.5 14.5h0m.1-27.5h0m.1-15.2h0m.2 11.6h0m.5 19h0m1.2-17.3h0m1.3 14.1h0m.6-25.1h0m0 23.7h0m.1-58.7h0m.6 46.3h0m0 25.1h0m.3-11h0m1.1-15.3h0m.2-1.2h0m.2 31.7h0m.3-29.2h0m.1 7.1h0m.2-10.5h0m.9 1.5h0m0 3.1h0m1-34.8h0m.2 44.2h0m0-24.9h0m.5 2.4h0m.1 41.6h0m.3-31.5h0m.2 20.7h0m.3 9.6h0m.2-14.2h0m.9 6.6h0m.5-51.9h0m.5 27.2h0m.4 5.4h0m.5-38.2h0m.2 12.5h0m.3 46.1h0m.9-18.1h0m.5 21h0m.2-39h0m.3 9h0m4.3 21.4h0m.1 13.8h0m.4-8.5h0m.1 5.7h0m.1 14.4h0m.8-29.7h0m1 10h0m.2-9.4h0m1.1 .5h0m.1-6.5h0m.2 12.3h0m1 10.2h0m.4 1.8h0m.5-10.9h0m.2 16h0m1.7-5.6h0m.1-26.6h0m0-4.7h0m1.3 42.3h0m.1-50.7h0m.6 22.8h0m.8 10.1h0m.5 15.4h0m1-17.4h0m.3-16.5h0m.8 5.9h0m.7 1.7h0m1.3 22.5h0m1.8-15.9h0m1.6-5.3h0m1.1-4.7h0m1.2 32h0m1.4-11.5h0m.2 3h0m2.2-18.1h0m.6-13.3h0m1.2 23.2h0" stroke="#4791b4" stroke-width="2"/>
<path d="M563.6 351.5h0m1.3 27.9h0m.1-18.4h0m.2-1.5h0m1.3 25.5h0m.4-6.6h0m0-12.4h0m1.8-6.9h0m.9-2h0m.2 1.6h0m2.3 18.6h0m.4 2.5h0m.2 28.2h0m.1-52.3h0m.1 17.5h0m.2-14h0m.2 10.1h0m.1 27.1h0m.4-39.9h0m.5 3.2h0m.6-13.4h0m.3 12.4h0m.6 7.5h0m0 23.2h0m.7-25.6h0m1.3 3.1h0m.2 6.7h0m.1 43.9h0m.5-57.7h0m.4 5.4h0m.3 42.8h0m.3-40.7h0m.2 20.2h0m.2 27.7h0m.2-29.1h0m.1 16.4h0m.2 4.3h0m.7-22.6h0m0 36.7h0m.1-15.5h0m.9-1.2h0m.3-7.9h0m.1 26.8h0m.4-48h0m2.2 11.6h0m.2 15.8h0m0-19.2h0m.1-21.1h0m.3-7.6h0m.1 20.8h0m.2 29.5h0m.3 3.1h0m.1-35h0m.2 14h0m.6-12h0m1-7.7h0m.3 16.2h0m.1 20.5h0m.4-22.6h0m.7-3.2h0m.2 4.6h0m.5-20.7h0m.2 55.8h0m.5-35.6h0m.7 55.6h0m.1-52h0m.2 26.2h0m.1-16.1h0m.7 23.6h0m.9 16.1h0m.4-38.3h0m.5-11.7h0m0 9.1h0m.1 24.2h0m1.6-22h0m.4 26.1h0m.2-17h0m0 21.6h0m.4-23.4h0m1 33.9h0m.1-63h0m.2 18.2h0m1.2 21.9h0m0-15.5h0m0-6.8h0m.4-4.1h0m.3 39.1h0m1.1-32h0m.1 22.7h0m.1-9.9h0m.8-22.6h0m.3 27.3h0m0-42.9h0m.1 35.8h0m.6-26.5h0m.5 44.8h0m.2-34.5h0m.9 6.7h0m.2 4.5h0m.5 9.9h0m.2-15.8h0m.3 48.2h0m1.3-22.5h0m.2-1.6h0m.4-2.1h0m0-19.4h0m.5 24.8h0m.3-38.2h0m.7 16.7h0m.8 42.4h0m1-37.3h0m.5 50.9h0m.1-37.2h0m.3-7.7h0m.7 5.4h0m.6-18h0m.1 27.6h0m.1-17.8h0m0 32.2h0m.5 15h0m0-5.1h0m.1-28.1h0m.4-14.8h0m.1 31.6h0m.1-19.8h0m.4-6.2h0m.1-7.8h0m.6-6h0m0 24.2h0m.3 39.4h0m0-19.7h0m1-21.8h0m.1-25.5h0m.4-9.3h0m.2 60h0m0-33.5h0m0-2.7h0m.2 19.7h0m.2-46.9h0m1.2 63.3h0m.3-25.2h0m.2-24.7h0m.3 10.4h0m1.5 32.2h0m.2 5.9h0m1.1-17.1h0m.3 1.1h0m.4-15.5h0m1.9-.3h0m.7 24.8h0m.2-21.9h0m.5 24.9h0m.8-52.1h0m.1 57.1h0m.6-23.6h0m0 15h0m.4-33.4h0m0 34.9h0m.5-37.4h0m.6 15.3h0m.3 17.8h0m.1 35.4h0m1-31.4h0m0-23.6h0m.3-13.2h0m.5 22.4h0m.1 30h0m1.1-26.4h0m.6 14.1h0m1-3.3h0m.9 6.2h0m.6-18.9h0m1.1 34.2h0m.3-6.7h0m1.4-7.4h0m.6 4.1h0m.3-15.5h0m.9 25.2h0m.3-2.3h0m.9 1.1h0m.1-47.8h0m.1 18.6h0m0 14.3h0m.2-12.8h0m.5-27.4h0m1.9 57.6h0m.1-22.1h0m.1 11.1h0m.1-19.2h0m.3 32.5h0m.2-30.3h0m.3 29.3h0m.1-11.3h0m.7 15.2h0m.3-24.3h0m.1-23h0m.2 39.9h0m.1-38.1h0m1.5 39.5h0m0-31.6h0m.1 44.3h0m.4-27.8h0m.2-9.3h0m.4-3.4h0m0 20.9h0m0 1.7h0m.2-13.3h0m1.1 30.5h0m.2-14.4h0m.3-16.7h0m.6-4.5h0m.4 13.4h0m.4 11.8h0m.3 23.5h0m.5-53.6h0m1.7-7.8h0m0 42.2h0m.4-34.6h0m.5 9.1h0m.6 43h0m1-56.1h0m1 11h0m.1 28h0m.5 16.6h0m.1-31.2h0m1 6.9h0m.2 5.1h0m3-46.4h0m.2 .3h0m.5 67.4h0m1.3-46.1h0m.7 7.4h0m.3 19.4h0m.7-15.4h0m.4 18.5h0m.2-9.6h0m2.1 .9h0m.1-3.8h0m.1 8.5h0m.6-9.3h0m.4 11.7h0m.8-30.9h0m.9-7.7h0m.6 52.7h0m.3-32.6h0m.3-9.3h0m.3 13.8h0m.3 15.8h0m1.8-7.4h0m1.4-10.6h0m.3 3.2h0m.5-6.9h0m.2 2.1h0m.3 6.4h0m.3 12.6h0m.7 1.4h0m.3-7.8h0m2.1-1.7h0m1.3-14.7h0m.3 18.4h0m1.7 5h0m2.1-.8h0m.2-9h0m2.2-15.1h0" stroke="#fff" stroke-width="2.4" stroke-opacity="1.0"/>
<path d="M563.6 351.5h0m1.3 27.9h0m.1-18.4h0m.2-1.5h0m1.3 25.5h0m.4-6.6h0m0-12.4h0m1.8-6.9h0m.9-2h0m.2 1.6h0m2.3 18.6h0m.4 2.5h0m.2 28.2h0m.1-52.3h0m.1 17.5h0m.2-14h0m.2 10.1h0m.1 27.1h0m.4-39.9h0m.5 3.2h0m.6-13.4h0m.3 12.4h0m.6 7.5h0m0 23.2h0m.7-25.6h0m1.3 3.1h0m.2 6.7h0m.1 43.9h0m.5-57.7h0m.4 5.4h0m.3 42.8h0m.3-40.7h0m.2 20.2h0m.2 27.7h0m.2-29.1h0m.1 16.4h0m.2 4.3h0m.7-22.6h0m0 36.7h0m.1-15.5h0m.9-1.2h0m.3-7.9h0m.1 26.8h0m.4-48h0m2.2 11.6h0m.2 15.8h0m0-19.2h0m.1-21.1h0m.3-7.6h0m.1 20.8h0m.2 29.5h0m.3 3.1h0m.1-35h0m.2 14h0m.6-12h0m1-7.7h0m.3 16.2h0m.1 20.5h0m.4-22.6h0m.7-3.2h0m.2 4.6h0m.5-20.7h0m.2 55.8h0m.5-35.6h0m.7 55.6h0m.1-52h0m.2 26.2h0m.1-16.1h0m.7 23.6h0m.9 16.1h0m.4-38.3h0m.5-11.7h0m0 9.1h0m.1 24.2h0m1.6-22h0m.4 26.1h0m.2-17h0m0 21.6h0m.4-23.4h0m1 33.9h0m.1-63h0m.2 18.2h0m1.2 21.9h0m0-15.5h0m0-6.8h0m.4-4.1h0m.3 39.1h0m1.1-32h0m.1 22.7h0m.1-9.9h0m.8-22.6h0m.3 27.3h0m0-42.9h0m.1 35.8h0m.6-26.5h0m.5 44.8h0m.2-34.5h0m.9 6.7h0m.2 4.5h0m.5 9.9h0m.2-15.8h0m.3 48.2h0m1.3-22.5h0m.2-1.6h0m.4-2.1h0m0-19.4h0m.5 24.8h0m.3-38.2h0m.7 16.7h0m.8 42.4h0m1-37.3h0m.5 50.9h0m.1-37.2h0m.3-7.7h0m.7 5.4h0m.6-18h0m.1 27.6h0m.1-17.8h0m0 32.2h0m.5 15h0m0-5.1h0m.1-28.1h0m.4-14.8h0m.1 31.6h0m.1-19.8h0m.4-6.2h0m.1-7.8h0m.6-6h0m0 24.2h0m.3 39.4h0m0-19.7h0m1-21.8h0m.1-25.5h0m.4-9.3h0m.2 60h0m0-33.5h0m0-2.7h0m.2 19.7h0m.2-46.9h0m1.2 63.3h0m.3-25.2h0m.2-24.7h0m.3 10.4h0m1.5 32.2h0m.2 5.9h0m1.1-17.1h0m.3 1.1h0m.4-15.5h0m1.9-.3h0m.7 24.8h0m.2-21.9h0m.5 24.9h0m.8-52.1h0m.1 57.1h0m.6-23.6h0m0 15h0m.4-33.4h0m0 34.9h0m.5-37.4h0m.6 15.3h0m.3 17.8h0m.1 35.4h0m1-31.4h0m0-23.6h0m.3-13.2h0m.5 22.4h0m.1 30h0m1.1-26.4h0m.6 14.1h0m1-3.3h0m.9 6.2h0m.6-18.9h0m1.1 34.2h0m.3-6.7h0m1.4-7.4h0m.6 4.1h0m.3-15.5h0m.9 25.2h0m.3-2.3h0m.9 1.1h0m.1-47.8h0m.1 18.6h0m0 14.3h0m.2-12.8h0m.5-27.4h0m1.9 57.6h0m.1-22.1h0m.1 11.1h0m.1-19.2h0m.3 32.5h0m.2-30.3h0m.3 29.3h0m.1-11.3h0m.7 15.2h0m.3-24.3h0m.1-23h0m.2 39.9h0m.1-38.1h0m1.5 39.5h0m0-31.6h0m.1 44.3h0m.4-27.8h0m.2-9.3h0m.4-3.4h0m0 20.9h0m0 1.7h0m.2-13.3h0m1.1 30.5h0m.2-14.4h0m.3-16.7h0m.6-4.5h0m.4 13.4h0m.4 11.8h0m.3 23.5h0m.5-53.6h0m1.7-7.8h0m0 42.2h0m.4-34.6h0m.5 9.1h0m.6 43h0m1-56.1h0m1 11h0m.1 28h0m.5 16.6h0m.1-31.2h0m1 6.9h0m.2 5.1h0m3-46.4h0m.2 .3h0m.5 67.4h0m1.3-46.1h0m.7 7.4h0m.3 19.4h0m.7-15.4h0m.4 18.5h0m.2-9.6h0m2.1 .9h0m.1-3.8h0m.1 8.5h0m.6-9.3h0m.4 11.7h0m.8-30.9h0m.9-7.7h0m.6 52.7h0m.3-32.6h0m.3-9.3h0m.3 13.8h0m.3 15.8h0m1.8-7.4h0m1.4-10.6h0m.3 3.2h0m.5-6.9h0m.2 2.1h0m.3 6.4h0m.3 12.6h0m.7 1.4h0m.3-7.8h0m2.1-1.7h0m1.3-14.7h0m.3 18.4h0m1.7 5h0m2.1-.8h0m.2-9h0m2.2-15.1h0" stroke="#4791b4" stroke-width="2"/>
<path d="M558.4 356.2h0m1.6-.9h0m1.1 2h0m2.2 1.2h0m.9 23.8h0m.6-14.7h0m2.6 9.4h0m1.8 7h0m.1-31.7h0m.7 35.7h0m1.3-27.3h0m.1 11.3h0m.6-13.8h0m0 47.2h0m1.4-42.7h0m.1-1.3h0m0 28.9h0m.5 21.7h0m.2-20.1h0m.3 7h0m.2-32.8h0m.1-11.7h0m1.5 12.6h0m.1-13.2h0m.1 17.4h0m.2 32.3h0m.3-38.5h0m1.9 34.1h0m1.2-2.5h0m.4-32.5h0m.1 2.2h0m.2 16.8h0m.1-11.5h0m.2 45.5h0m.5-53.4h0m0 47.4h0m.4-58.5h0m.8 73h0m.1-56.6h0m.5 39.3h0m0-29.4h0m.4-1.6h0m.4 8.3h0m.1-3.5h0m0 9.7h0m.1-23.1h0m.3-9.4h0m.1 37.6h0m.5-8.9h0m.1 5.9h0m.8 9.7h0m.8-39.7h0m.2 3.9h0m0 21.8h0m0-9.8h0m.3-18.5h0m.1 60.2h0m.2-43.1h0m.1 54.4h0m1.5-38.1h0m.3 15.5h0m.5 1.7h0m.5-16.9h0m.1-6.3h0m.2 2.3h0m.1-18.5h0m.9 19.2h0m.1 29.7h0m.2-36.8h0m.1-8.9h0m.7 28.4h0m.1-25.9h0m.4 17.7h0m.5 2.8h0m.2 6.4h0m.1 21.2h0m.1-37.5h0m.1 2.8h0m0 9.9h0m.6-3.4h0m.5 36h0m.1-48.9h0m.1 39.4h0m.4-2.8h0m.4-1.8h0m0-20.8h0m.3 9.6h0m.2-5.6h0m.2 31.4h0m1.2-37.1h0m3-7.3h0m.3 33.2h0m.6-48.4h0m.1 50.4h0m.5-42h0m.4 27.1h0m0 11.2h0m.2-3.6h0m.3-20.6h0m.8 32h0m.6-21.4h0m.5 5.9h0m.8 5.8h0m.3 33h0m.3-37.3h0m1.1-14.3h0m.3 8.1h0m1.2-.8h0m.4 2h0m.4-18.1h0m.2-19.8h0m.1 46.3h0m.5 40.8h0m0-46.7h0m.8 11.7h0m.1-9.4h0m.3 18.4h0m.1-22.8h0m.2-30.3h0m0 65.1h0m.2-21.7h0m.6 10.8h0m0 9.1h0m.2-3.4h0m1.7 5.6h0m0-15.6h0m.2-39.2h0m.4 57.5h0m.2-9.9h0m.1-39.5h0m.9 38.2h0m0-9h0m1.1 4.7h0m.6-13.7h0m.2 12.8h0m.1 1.9h0m.3 9h0m.9-19.3h0m.6-7h0m.3-15.6h0m1.2 48h0m.7-29.7h0m.1 4.9h0m.2 44.6h0m.1-43.4h0m.2 7.3h0m.3-5h0m0 18.2h0m.7-23h0m2.2-2.5h0m1.1 19.1h0m.9-32.7h0m.5 12.9h0m.6 10.6h0m.1 22.3h0m.3-44.6h0m.1 20.7h0m0 34.2h0m.1-31.3h0m.9 28.1h0m.1-63.1h0m0 45.8h0m.1 1.7h0m.3 2.5h0m.5-5.4h0m.2-2.4h0m2.2 13.1h0m.8-17.5h0m.4 39.8h0m.4-44.4h0m.6 25.5h0m1.1-42.9h0m.2 40.6h0m2.4 6.5h0m.1-1.8h0m0-14.3h0m.6-25.4h0m.5 32.6h0m1.5-2.7h0m0 2.5h0m.3-14.4h0m.1 5.6h0m.1 26.3h0m.5-54.1h0m0 42.6h0m.1 7.4h0m.4 5.5h0m0-74.5h0m.4 29.1h0m.2 43.7h0m1.3 4.1h0m.4-42.9h0m.1 19.8h0m.9 18.1h0m.5-33h0m.8 1.5h0m.5 17.6h0m.8-5.9h0m.8 16.1h0m.2-22.1h0m0 15.4h0m.1-25.4h0m.4-21.1h0m.1 73.8h0m.7-23.2h0m1.1-1h0m0-3.7h0m.1 18.5h0m.1-46.2h0m.2 34.1h0m.2 1.5h0m.1-16.7h0m.3 33.5h0m.1-5h0m.2-10.1h0m.2-19.8h0m.2 7.2h0m.7 4.2h0m.8-10.7h0m0 26.6h0m.3-2.9h0m.3-20.1h0m.7-3.1h0m.2 5.6h0m.2-26.7h0m.4 38.5h0m2.7 10.8h0m.5-2.3h0m1.8-2.7h0m1-32.2h0m.1 44.5h0m0-11.8h0m.3-7.1h0m.4-7.6h0m0 11.9h0m.4-10.5h0m.3-2.4h0m0-2.3h0m.2-1.1h0m1-4.6h0m.8-4.4h0m.7 21.4h0m0 10.6h0m1.3 1h0m.8-19.7h0m.3 3.2h0m.5-12.7h0m.8-1.5h0m1.1 8.7h0m.6 11.1h0m2.1 10.4h0m0-3.7h0m.4 9.7h0m1.7-14h0m.5-2.1h0m.4 8h0m.3-10.1h0m1.2-1h0m1.4-3.7h0m1.9 9.2h0m2.5-22.4h0m.1 12.8h0m1.5 23h0m3.2-20h0" stroke="#fff" stroke-width="2.4" stroke-opacity="1.0"/>
<path d="M558.4 356.2h0m1.6-.9h0m1.1 2h0m2.2 1.2h0m.9 23.8h0m.6-14.7h0m2.6 9.4h0m1.8 7h0m.1-31.7h0m.7 35.7h0m1.3-27.3h0m.1 11.3h0m.6-13.8h0m0 47.2h0m1.4-42.7h0m.1-1.3h0m0 28.9h0m.5 21.7h0m.2-20.1h0m.3 7h0m.2-32.8h0m.1-11.7h0m1.5 12.6h0m.1-13.2h0m.1 17.4h0m.2 32.3h0m.3-38.5h0m1.9 34.1h0m1.2-2.5h0m.4-32.5h0m.1 2.2h0m.2 16.8h0m.1-11.5h0m.2 45.5h0m.5-53.4h0m0 47.4h0m.4-58.5h0m.8 73h0m.1-56.6h0m.5 39.3h0m0-29.4h0m.4-1.6h0m.4 8.3h0m.1-3.5h0m0 9.7h0m.1-23.1h0m.3-9.4h0m.1 37.6h0m.5-8.9h0m.1 5.9h0m.8 9.7h0m.8-39.7h0m.2 3.9h0m0 21.8h0m0-9.8h0m.3-18.5h0m.1 60.2h0m.2-43.1h0m.1 54.4h0m1.5-38.1h0m.3 15.5h0m.5 1.7h0m.5-16.9h0m.1-6.3h0m.2 2.3h0m.1-18.5h0m.9 19.2h0m.1 29.7h0m.2-36.8h0m.1-8.9h0m.7 28.4h0m.1-25.9h0m.4 17.7h0m.5 2.8h0m.2 6.4h0m.1 21.2h0m.1-37.5h0m.1 2.8h0m0 9.9h0m.6-3.4h0m.5 36h0m.1-48.9h0m.1 39.4h0m.4-2.8h0m.4-1.8h0m0-20.8h0m.3 9.6h0m.2-5.6h0m.2 31.4h0m1.2-37.1h0m3-7.3h0m.3 33.2h0m.6-48.4h0m.1 50.4h0m.5-42h0m.4 27.1h0m0 11.2h0m.2-3.6h0m.3-20.6h0m.8 32h0m.6-21.4h0m.5 5.9h0m.8 5.8h0m.3 33h0m.3-37.3h0m1.1-14.3h0m.3 8.1h0m1.2-.8h0m.4 2h0m.4-18.1h0m.2-19.8h0m.1 46.3h0m.5 40.8h0m0-46.7h0m.8 11.7h0m.1-9.4h0m.3 18.4h0m.1-22.8h0m.2-30.3h0m0 65.1h0m.2-21.7h0m.6 10.8h0m0 9.1h0m.2-3.4h0m1.7 5.6h0m0-15.6h0m.2-39.2h0m.4 57.5h0m.2-9.9h0m.1-39.5h0m.9 38.2h0m0-9h0m1.1 4.7h0m.6-13.7h0m.2 12.8h0m.1 1.9h0m.3 9h0m.9-19.3h0m.6-7h0m.3-15.6h0m1.2 48h0m.7-29.7h0m.1 4.9h0m.2 44.6h0m.1-43.4h0m.2 7.3h0m.3-5h0m0 18.2h0m.7-23h0m2.2-2.5h0m1.1 19.1h0m.9-32.7h0m.5 12.9h0m.6 10.6h0m.1 22.3h0m.3-44.6h0m.1 20.7h0m0 34.2h0m.1-31.3h0m.9 28.1h0m.1-63.1h0m0 45.8h0m.1 1.7h0m.3 2.5h0m.5-5.4h0m.2-2.4h0m2.2 13.1h0m.8-17.5h0m.4 39.8h0m.4-44.4h0m.6 25.5h0m1.1-42.9h0m.2 40.6h0m2.4 6.5h0m.1-1.8h0m0-14.3h0m.6-25.4h0m.5 32.6h0m1.5-2.7h0m0 2.5h0m.3-14.4h0m.1 5.6h0m.1 26.3h0m.5-54.1h0m0 42.6h0m.1 7.4h0m.4 5.5h0m0-74.5h0m.4 29.1h0m.2 43.7h0m1.3 4.1h0m.4-42.9h0m.1 19.8h0m.9 18.1h0m.5-33h0m.8 1.5h0m.5 17.6h0m.8-5.9h0m.8 16.1h0m.2-22.1h0m0 15.4h0m.1-25.4h0m.4-21.1h0m.1 73.8h0m.7-23.2h0m1.1-1h0m0-3.7h0m.1 18.5h0m.1-46.2h0m.2 34.1h0m.2 1.5h0m.1-16.7h0m.3 33.5h0m.1-5h0m.2-10.1h0m.2-19.8h0m.2 7.2h0m.7 4.2h0m.8-10.7h0m0 26.6h0m.3-2.9h0m.3-20.1h0m.7-3.1h0m.2 5.6h0m.2-26.7h0m.4 38.5h0m2.7 10.8h0m.5-2.3h0m1.8-2.7h0m1-32.2h0m.1 44.5h0m0-11.8h0m.3-7.1h0m.4-7.6h0m0 11.9h0m.4-10.5h0m.3-2.4h0m0-2.3h0m.2-1.1h0m1-4.6h0m.8-4.4h0m.7 21.4h0m0 10.6h0m1.3 1h0m.8-19.7h0m.3 3.2h0m.5-12.7h0m.8-1.5h0m1.1 8.7h0m.6 11.1h0m2.1 10.4h0m0-3.7h0m.4 9.7h0m1.7-14h0m.5-2.1h0m.4 8h0m.3-10.1h0m1.2-1h0m1.4-3.7h0m1.9 9.2h0m2.5-22.4h0m.1 12.8h0m1.5 23h0m3.2-20h0" stroke="#4791b4" stroke-width="2"/>
<path d="M561.8 370.7h0m.1 11.2h0m1.4-13.3h0m2-2.7h0m1.8 41.4h0m.8-16.4h0m.1-23.7h0m0 34.6h0m.6-43.7h0m1.5 32.9h0m.4 12.3h0m.5-38h0m.5-5.9h0m.5 11.7h0m.2 27.7h0m.4-17.1h0m.4-5.5h0m.6 3.1h0m1-17h0m0 13.8h0m.2 12.5h0m.4-27.8h0m.3 6.9h0m.2 24.6h0m.3 2h0m.1-8.7h0m.4-13h0m.3-11.9h0m1.5 20.8h0m.8-23h0m1 2.3h0m.6 13.5h0m.5-9.2h0m1 19.5h0m.1-16.5h0m1.1 29.8h0m.1-17.3h0m.4-19.8h0m.3 12.9h0m.8 15.5h0m.2-16.3h0m.1 25.1h0m.1-2.3h0m.6-27.5h0m.7 13.9h0m.1 32.6h0m.6-18.4h0m.1 7.3h0m1.6-33.1h0m.2 6.7h0m.6-20.3h0m.3 74.4h0m.1-37.9h0m0-19.5h0m.1 13.7h0m.8-9.5h0m.2 22.6h0m.1-17h0m.2 21.8h0m.1 10.4h0m.8-15.3h0m1.4-40.3h0m.5 39.8h0m.1 6.8h0m.8 8.5h0m.2-8h0m0-15.5h0m.1 8.4h0m.1-11.9h0m.7 48.4h0m.3-68.6h0m.6 19.9h0m.1 23.7h0m.7-20.2h0m.1-12.8h0m.9 17.6h0m0 26.8h0m.2 1.4h0m0 10.8h0m.1-31.8h0m0-1.4h0m.3 37.9h0m.5 2.5h0m.1-41.5h0m.1 6.3h0m.1-2h0m.2-39.6h0m.2 58.2h0m.4-2.6h0m.3-14h0m.1 12.5h0m.9-8.8h0m.3 31h0m.2-11.8h0m.3-6.9h0m1.3 26.2h0m.4-66.2h0m.2 16.4h0m1.1 28.7h0m.6-24.6h0m1.3-8h0m0-4.2h0m.2 8h0m.3 37.1h0m0 5.6h0m.5-48.7h0m.1 25.7h0m1.4 27h0m1.3-25h0m0 1.1h0m.6-47.7h0m.3 54.4h0m2.3-17.8h0m.3 7.6h0m.4 18.5h0m1.3-6.1h0m.1-36.7h0m0 13.6h0m.7 18.9h0m1.5-3.5h0m.4-16.8h0m.4 46.7h0m.3-11.8h0m.1-16.7h0m.2 8.7h0m.1 15.2h0m.1-17.7h0m.2-25.4h0m.8 46.7h0m.4-30.2h0m.4 4.5h0m0 1h0m.6-17.1h0m.2 29.1h0m1.2-13.2h0m.2-15.8h0m0 55.8h0m.2-15.4h0m.1-34.8h0m.5-21.3h0m.3 37.3h0m.1-22.8h0m.3 45.5h0m.3-10.1h0m.3-15.6h0m.2-4.5h0m.2 11.8h0m.4 9.1h0m.8-45.9h0m.4 35.4h0m.5 13.4h0m.2-24.3h0m.1-14.4h0m.1 48h0m.5-24h0m0-6.7h0m.3 13.4h0m0 4.7h0m1.8 5.3h0m.3 25h0m.7-25.7h0m.3-11.2h0m.7-5h0m1.2 13.7h0m1.4 15h0m.6-41.2h0m.2 47.1h0m.1-10.8h0m.1-10.6h0m.9-26.7h0m.3-2.4h0m.4 25.1h0m.2 2.9h0m.6-1.2h0m1-4h0m0-10.4h0m1-6.3h0m.3 25.4h0m1.2 25.9h0m.2-44.2h0m.2-14.9h0m.2 33.9h0m.4-14.6h0m.1-37.2h0m1.2 .7h0m.2 51.2h0m.1 34.1h0m.8-19.9h0m.2-22.9h0m.2 27.9h0m.4-23.9h0m0-17.6h0m.1 9.2h0m0 24.2h0m0 1.1h0m.1-5.3h0m.6-48.6h0m.1 74.8h0m.9-20.6h0m.4-30.6h0m.1 31.9h0m.5-4.6h0m.3-54.5h0m.5 53.4h0m.4 14h0m.3-23.1h0m.1 13.1h0m.5-18.2h0m.5 8.6h0m0 19.9h0m.2-66.2h0m.1 30.2h0m.4-10.2h0m.1 39.6h0m.6-12.4h0m.2 3.2h0m.8 17.1h0m.4-30.7h0m.2-6.5h0m.8 16h0m0 22.9h0m1.1-40.9h0m.1 25.1h0m1 3.6h0m.1-7.8h0m.5-8.2h0m.3 23h0m.8 2h0m.2-26.1h0m.1 30.4h0m.1-14.1h0m1.2-22.6h0m1.2 25.5h0m.4-17.8h0m.1 3h0m1.1 21.8h0m.5-21.8h0m.5-8.3h0m.2-9h0m1.4 54.2h0m0-41.9h0m.6 7.7h0m.1 28.6h0m1.5-27.1h0m.4-2.4h0m.2 10.5h0m.3-15.1h0m1.3 18.8h0m.8-8.6h0m1.4 16.6h0m.5 12.5h0m.9-43.7h0m.2 18.2h0m.8-8.9h0m.3 31.2h0m1.1-10.5h0m.7 1.6h0m3.1-2h0m1.6-7.9h0m1.7 11.3h0m.6-33.2h0m1.2 20.2h0m.8 13.8h0m4.3-10h0" stroke="#fff" stroke-width="2.4" stroke-opacity="1.0"/>
<path d="M561.8 370.7h0m.1 11.2h0m1.4-13.3h0m2-2.7h0m1.8 41.4h0m.8-16.4h0m.1-23.7h0m0 34.6h0m.6-43.7h0m1.5 32.9h0m.4 12.3h0m.5-38h0m.5-5.9h0m.5 11.7h0m.2 27.7h0m.4-17.1h0m.4-5.5h0m.6 3.1h0m1-17h0m0 13.8h0m.2 12.5h0m.4-27.8h0m.3 6.9h0m.2 24.6h0m.3 2h0m.1-8.7h0m.4-13h0m.3-11.9h0m1.5 20.8h0m.8-23h0m1 2.3h0m.6 13.5h0m.5-9.2h0m1 19.5h0m.1-16.5h0m1.1 29.8h0m.1-17.3h0m.4-19.8h0m.3 12.9h0m.8 15.5h0m.2-16.3h0m.1 25.1h0m.1-2.3h0m.6-27.5h0m.7 13.9h0m.1 32.6h0m.6-18.4h0m.1 7.3h0m1.6-33.1h0m.2 6.7h0m.6-20.3h0m.3 74.4h0m.1-37.9h0m0-19.5h0m.1 13.7h0m.8-9.5h0m.2 22.6h0m.1-17h0m.2 21.8h0m.1 10.4h0m.8-15.3h0m1.4-40.3h0m.5 39.8h0m.1 6.8h0m.8 8.5h0m.2-8h0m0-15.5h0m.1 8.4h0m.1-11.9h0m.7 48.4h0m.3-68.6h0m.6 19.9h0m.1 23.7h0m.7-20.2h0m.1-12.8h0m.9 17.6h0m0 26.8h0m.2 1.4h0m0 10.8h0m.1-31.8h0m0-1.4h0m.3 37.9h0m.5 2.5h0m.1-41.5h0m.1 6.3h0m.1-2h0m.2-39.6h0m.2 58.2h0m.4-2.6h0m.3-14h0m.1 12.5h0m.9-8.8h0m.3 31h0m.2-11.8h0m.3-6.9h0m1.3 26.2h0m.4-66.2h0m.2 16.4h0m1.1 28.7h0m.6-24.6h0m1.3-8h0m0-4.2h0m.2 8h0m.3 37.1h0m0 5.6h0m.5-48.7h0m.1 25.7h0m1.4 27h0m1.3-25h0m0 1.1h0m.6-47.7h0m.3 54.4h0m2.3-17.8h0m.3 7.6h0m.4 18.5h0m1.3-6.1h0m.1-36.7h0m0 13.6h0m.7 18.9h0m1.5-3.5h0m.4-16.8h0m.4 46.7h0m.3-11.8h0m.1-16.7h0m.2 8.7h0m.1 15.2h0m.1-17.7h0m.2-25.4h0m.8 46.7h0m.4-30.2h0m.4 4.5h0m0 1h0m.6-17.1h0m.2 29.1h0m1.2-13.2h0m.2-15.8h0m0 55.8h0m.2-15.4h0m.1-34.8h0m.5-21.3h0m.3 37.3h0m.1-22.8h0m.3 45.5h0m.3-10.1h0m.3-15.6h0m.2-4.5h0m.2 11.8h0m.4 9.1h0m.8-45.9h0m.4 35.4h0m.5 13.4h0m.2-24.3h0m.1-14.4h0m.1 48h0m.5-24h0m0-6.7h0m.3 13.4h0m0 4.7h0m1.8 5.3h0m.3 25h0m.7-25.7h0m.3-11.2h0m.7-5h0m1.2 13.7h0m1.4 15h0m.6-41.2h0m.2 47.1h0m.1-10.8h0m.1-10.6h0m.9-26.7h0m.3-2.4h0m.4 25.1h0m.2 2.9h0m.6-1.2h0m1-4h0m0-10.4h0m1-6.3h0m.3 25.4h0m1.2 25.9h0m.2-44.2h0m.2-14.9h0m.2 33.9h0m.4-14.6h0m.1-37.2h0m1.2 .7h0m.2 51.2h0m.1 34.1h0m.8-19.9h0m.2-22.9h0m.2 27.9h0m.4-23.9h0m0-17.6h0m.1 9.2h0m0 24.2h0m0 1.1h0m.1-5.3h0m.6-48.6h0m.1 74.8h0m.9-20.6h0m.4-30.6h0m.1 31.9h0m.5-4.6h0m.3-54.5h0m.5 53.4h0m.4 14h0m.3-23.1h0m.1 13.1h0m.5-18.2h0m.5 8.6h0m0 19.9h0m.2-66.2h0m.1 30.2h0m.4-10.2h0m.1 39.6h0m.6-12.4h0m.2 3.2h0m.8 17.1h0m.4-30.7h0m.2-6.5h0m.8 16h0m0 22.9h0m1.1-40.9h0m.1 25.1h0m1 3.6h0m.1-7.8h0m.5-8.2h0m.3 23h0m.8 2h0m.2-26.1h0m.1 30.4h0m.1-14.1h0m1.2-22.6h0m1.2 25.5h0m.4-17.8h0m.1 3h0m1.1 21.8h0m.5-21.8h0m.5-8.3h0m.2-9h0m1.4 54.2h0m0-41.9h0m.6 7.7h0m.1 28.6h0m1.5-27.1h0m.4-2.4h0m.2 10.5h0m.3-15.1h0m1.3 18.8h0m.8-8.6h0m1.4 16.6h0m.5 12.5h0m.9-43.7h0m.2 18.2h0m.8-8.9h0m.3 31.2h0m1.1-10.5h0m.7 1.6h0m3.1-2h0m1.6-7.9h0m1.7 11.3h0m.6-33.2h0m1.2 20.2h0m.8 13.8h0m4.3-10h0" stroke="#4791b4" stroke-width="2"/>
<path d="M560.4 375.8h0m5.2 20.4h0m.2-19.2h0m.3-19.6h0m.1 15.8h0m.9-18.5h0m.3 53.5h0m.2-50.8h0m1.1 35.4h0m1.3-26.5h0m.3-14.7h0m1.1 49h0m.4-38.9h0m.2 12.3h0m1.7 7.2h0m.2 28.4h0m1-37.6h0m.1 9h0m1 1.3h0m.4-13.9h0m.2 44.5h0m.1-13h0m.1-21.2h0m.8 14.5h0m.1 2.7h0m0 19h0m.9-10.8h0m.2-10h0m.1-31.2h0m.1 21.7h0m.8-8h0m.5 15.2h0m.6-30h0m1 7.9h0m1.2 12.5h0m.4 11.2h0m.2-4.8h0m0 30.3h0m1.2-34.8h0m1.7-5.8h0m.1 9.9h0m.2-7.2h0m.5 18.5h0m.2 6.3h0m.3-20.5h0m0-3h0m.6 32.3h0m.2-9.4h0m.1 7.4h0m0-23.2h0m.2-25.2h0m1.4 17.1h0m.8-2h0m0-2.9h0m.1 16.7h0m.5-24.9h0m.1 30.9h0m.1-8.8h0m.2-16.8h0m.1 8.2h0m.1 6.5h0m.4-4.6h0m.3 27.5h0m.3 7.1h0m.5-33h0m.3 42.6h0m.2-23.9h0m.1 10.2h0m.5 6.2h0m.2-23.5h0m1.7-11.9h0m0 17.2h0m.1 13.7h0m1.1 8.4h0m.1-59.1h0m0 56.5h0m.1-6.6h0m.2-11.4h0m.1 16.5h0m.6-47.5h0m.1 28.2h0m.1 21.1h0m.4-13.3h0m.2 36.7h0m.7-50.7h0m.9-14.2h0m0 1.8h0m.1 5.5h0m.3-9.1h0m.1 68.8h0m.4-50.3h0m.3 17.6h0m.2-20h0m.2-1.4h0m.1 26.2h0m.4-16.1h0m.1 5.6h0m1.9 14.3h0m.1 8.5h0m.2-21.9h0m.3 12.2h0m.7-7.7h0m.3-13.3h0m.4 17.6h0m.1 3.8h0m0 6.4h0m.9-25.6h0m1.5-21.4h0m.9 38.6h0m0-16.3h0m.1 7.7h0m.1 13.2h0m.5-14.5h0m.2-21.1h0m1.1 32h0m.4-2.3h0m.2-44.6h0m.2 45.7h0m.1-4h0m0-27.3h0m.1 39.5h0m1.2-45.7h0m.1 42.7h0m.9 1.5h0m.1 2.2h0m.1 6.2h0m.4-19.8h0m1.3 34.6h0m.4-40.5h0m1.4 23.6h0m.3-13.7h0m.9 31.1h0m.2-13.7h0m.1 19.4h0m.5-48.9h0m.4 27.6h0m1-.5h0m.2 10.3h0m.9-24.5h0m.1 37.1h0m.1-32.9h0m.4 11.5h0m.1 9.3h0m.5-8h0m1.8-10.7h0m.9 7.8h0m.4-4.2h0m.1 6h0m.5 25.6h0m.2-32.7h0m.2 18h0m1.2-23.7h0m.7-3.6h0m.5-8.2h0m.1 19.5h0m0 23.2h0m1.1-21.8h0m.1-2.5h0m.5 26.8h0m.2-57.3h0m.4 67.1h0m1.9-35h0m0 39.2h0m.3-36.9h0m.3 23.9h0m.2-5h0m.7-45.4h0m0 43.9h0m.1 18.9h0m.2-34.1h0m.2-11.6h0m.1 5.2h0m.5 47h0m.1-28.1h0m.2-19.9h0m0 7.6h0m.2 7.8h0m.1-5.4h0m.3-25h0m.3 2.4h0m.1 25.6h0m.8-39.8h0m.6 50.4h0m.1-17.4h0m.2 3.4h0m.2-9h0m.1-14.5h0m.5 39.3h0m.6-27.4h0m.1 13.5h0m.5-15.3h0m.2 19.5h0m.2 2.6h0m.8-7.5h0m0 21.4h0m.2 16.4h0m.6-29.7h0m.4 13.8h0m.5-28.2h0m.1 6.5h0m.5 21.6h0m0-15.1h0m.1 12.9h0m.2-7.5h0m.8-25.8h0m0 5.4h0m.1 37h0m.2-23.8h0m1.2 25.3h0m.9-55.3h0m.2 43.4h0m.3-23h0m.6 2.1h0m.4 30.3h0m.2-1.2h0m.1-1.6h0m.1-28.7h0m.7 32.6h0m.8-17.8h0m1.6-21.1h0m.1 12h0m.8 36.7h0m0-24.2h0m.6-42.9h0m.5 56.6h0m.4-2.2h0m.4-41.7h0m0 57.1h0m0-2.5h0m2.6-35.5h0m.3-4.8h0m.9-10h0m.7 33.8h0m0-6h0m.2 8.1h0m.1 3.1h0m.5-4.7h0m.2-1.6h0m.9-.4h0m.1 4.6h0m.2-8.4h0m1.9 8.8h0m.3-5h0m.6 9.4h0m.3-15.2h0m.5 4.1h0m.5 7.6h0m.3-38.4h0m.5 34.1h0m0-2.1h0m1 5.4h0m.1-11.2h0m2.2 2.6h0m.8 7.7h0m1.1 8.2h0m.9-15.4h0m1.5-30.5h0m1 20.8h0m.1 24.8h0m.2-1.7h0m.1-11.3h0m4.6 7.7h0m.6 2.5h0m5.6 2.8h0" stroke="#fff" stroke-width="2.4" stroke-opacity="1.0"/>
<path d="M560.4 375.8h0m5.2 20.4h0m.2-19.2h0m.3-19.6h0m.1 15.8h0m.9-18.5h0m.3 53.5h0m.2-50.8h0m1.1 35.4h0m1.3-26.5h0m.3-14.7h0m1.1 49h0m.4-38.9h0m.2 12.3h0m1.7 7.2h0m.2 28.4h0m1-37.6h0m.1 9h0m1 1.3h0m.4-13.9h0m.2 44.5h0m.1-13h0m.1-21.2h0m.8 14.5h0m.1 2.7h0m0 19h0m.9-10.8h0m.2-10h0m.1-31.2h0m.1 21.7h0m.8-8h0m.5 15.2h0m.6-30h0m1 7.9h0m1.2 12.5h0m.4 11.2h0m.2-4.8h0m0 30.3h0m1.2-34.8h0m1.7-5.8h0m.1 9.9h0m.2-7.2h0m.5 18.5h0m.2 6.3h0m.3-20.5h0m0-3h0m.6 32.3h0m.2-9.4h0m.1 7.4h0m0-23.2h0m.2-25.2h0m1.4 17.1h0m.8-2h0m0-2.9h0m.1 16.7h0m.5-24.9h0m.1 30.9h0m.1-8.8h0m.2-16.8h0m.1 8.2h0m.1 6.5h0m.4-4.6h0m.3 27.5h0m.3 7.1h0m.5-33h0m.3 42.6h0m.2-23.9h0m.1 10.2h0m.5 6.2h0m.2-23.5h0m1.7-11.9h0m0 17.2h0m.1 13.7h0m1.1 8.4h0m.1-59.1h0m0 56.5h0m.1-6.6h0m.2-11.4h0m.1 16.5h0m.6-47.5h0m.1 28.2h0m.1 21.1h0m.4-13.3h0m.2 36.7h0m.7-50.7h0m.9-14.2h0m0 1.8h0m.1 5.5h0m.3-9.1h0m.1 68.8h0m.4-50.3h0m.3 17.6h0m.2-20h0m.2-1.4h0m.1 26.2h0m.4-16.1h0m.1 5.6h0m1.9 14.3h0m.1 8.5h0m.2-21.9h0m.3 12.2h0m.7-7.7h0m.3-13.3h0m.4 17.6h0m.1 3.8h0m0 6.4h0m.9-25.6h0m1.5-21.4h0m.9 38.6h0m0-16.3h0m.1 7.7h0m.1 13.2h0m.5-14.5h0m.2-21.1h0m1.1 32h0m.4-2.3h0m.2-44.6h0m.2 45.7h0m.1-4h0m0-27.3h0m.1 39.5h0m1.2-45.7h0m.1 42.7h0m.9 1.5h0m.1 2.2h0m.1 6.2h0m.4-19.8h0m1.3 34.6h0m.4-40.5h0m1.4 23.6h0m.3-13.7h0m.9 31.1h0m.2-13.7h0m.1 19.4h0m.5-48.9h0m.4 27.6h0m1-.5h0m.2 10.3h0m.9-24.5h0m.1 37.1h0m.1-32.9h0m.4 11.5h0m.1 9.3h0m.5-8h0m1.8-10.7h0m.9 7.8h0m.4-4.2h0m.1 6h0m.5 25.6h0m.2-32.7h0m.2 18h0m1.2-23.7h0m.7-3.6h0m.5-8.2h0m.1 19.5h0m0 23.2h0m1.1-21.8h0m.1-2.5h0m.5 26.8h0m.2-57.3h0m.4 67.1h0m1.9-35h0m0 39.2h0m.3-36.9h0m.3 23.9h0m.2-5h0m.7-45.4h0m0 43.9h0m.1 18.9h0m.2-34.1h0m.2-11.6h0m.1 5.2h0m.5 47h0m.1-28.1h0m.2-19.9h0m0 7.6h0m.2 7.8h0m.1-5.4h0m.3-25h0m.3 2.4h0m.1 25.6h0m.8-39.8h0m.6 50.4h0m.1-17.4h0m.2 3.4h0m.2-9h0m.1-14.5h0m.5 39.3h0m.6-27.4h0m.1 13.5h0m.5-15.3h0m.2 19.5h0m.2 2.6h0m.8-7.5h0m0 21.4h0m.2 16.4h0m.6-29.7h0m.4 13.8h0m.5-28.2h0m.1 6.5h0m.5 21.6h0m0-15.1h0m.1 12.9h0m.2-7.5h0m.8-25.8h0m0 5.4h0m.1 37h0m.2-23.8h0m1.2 25.3h0m.9-55.3h0m.2 43.4h0m.3-23h0m.6 2.1h0m.4 30.3h0m.2-1.2h0m.1-1.6h0m.1-28.7h0m.7 32.6h0m.8-17.8h0m1.6-21.1h0m.1 12h0m.8 36.7h0m0-24.2h0m.6-42.9h0m.5 56.6h0m.4-2.2h0m.4-41.7h0m0 57.1h0m0-2.5h0m2.6-35.5h0m.3-4.8h0m.9-10h0m.7 33.8h0m0-6h0m.2 8.1h0m.1 3.1h0m.5-4.7h0m.2-1.6h0m.9-.4h0m.1 4.6h0m.2-8.4h0m1.9 8.8h0m.3-5h0m.6 9.4h0m.3-15.2h0m.5 4.1h0m.5 7.6h0m.3-38.4h0m.5 34.1h0m0-2.1h0m1 5.4h0m.1-11.2h0m2.2 2.6h0m.8 7.7h0m1.1 8.2h0m.9-15.4h0m1.5-30.5h0m1 20.8h0m.1 24.8h0m.2-1.7h0m.1-11.3h0m4.6 7.7h0m.6 2.5h0m5.6 2.8h0" stroke="#4791b4" stroke-width="2"/>
<path d="M561.5 354.1h0m.5 8.9h0m1.8-1h0m.2-4.8h0m1 1.2h0m1.3-2.9h0m.3 53.3h0m1.7-9.6h0m.2-13.4h0m.3-32h0m.9 26.1h0m.8-10.9h0m.8 24.1h0m.2-10.1h0m1.5-28.4h0m.7 17.9h0m1.6 1.3h0m0 3.6h0m.1-14.2h0m.5 42.9h0m.1-30.6h0m.2 20.3h0m0-15.3h0m1.4-1h0m.1-1.8h0m.6-13.3h0m.1-8.3h0m.4-2.7h0m1.7 6.2h0m.5 29.8h0m.4-4h0m.4-6.9h0m.6 14.5h0m.5-6.1h0m.2-31.6h0m.4 57.3h0m.2-16.8h0m.2 4.5h0m.7-20h0m.5 21h0m1.1-35.3h0m.3 28.6h0m.4 14.9h0m.3 19.5h0m.7-63.3h0m.2 22.8h0m.9-3.2h0m0 1.6h0m1.1 20.7h0m1.4 2.3h0m0-2.5h0m0 12.5h0m.8 3.1h0m.7-23.7h0m0 6.9h0m.9-32.6h0m1.5 49.4h0m.5-4.8h0m.1-39.6h0m.4 51.9h0m.4-29.4h0m0-14.9h0m.3-15.4h0m.2 9.8h0m0-3.6h0m.8 32.6h0m.2 8.4h0m.3-4h0m.2-33.6h0m.7 18.3h0m.2 31.2h0m.1-15.8h0m.7-22h0m.4 33.2h0m0-16h0m.5 1.1h0m.1 2.9h0m.1-13.5h0m1.1 22.8h0m0 4.4h0m.6-28.4h0m.2-2.4h0m.4-4.5h0m.3 55.2h0m.2-44.1h0m0-20.9h0m0 2.9h0m.1 21.5h0m0 5.4h0m.5-2.6h0m.2 8.8h0m2.2 22.5h0m.1-6.8h0m.1 3.9h0m.6-25h0m.3 13h0m.1 9.5h0m.1-32.7h0m.2 28.8h0m0-54.2h0m.2 47.3h0m.1 29.4h0m1-19.1h0m.2-44.3h0m0 40h0m.5-28.1h0m.8-1.1h0m.2 27h0m.6-9.2h0m.9-17.6h0m1.2 38h0m.2-9.7h0m.2-12.2h0m2.4-7.8h0m.2 2.7h0m.2 6.8h0m0 15.5h0m.4-28h0m1 58h0m0-24.2h0m.1-15.2h0m1.2 15.4h0m0-27.9h0m.4 14h0m0 5.8h0m.5-29.3h0m.7 36.4h0m.3-30.2h0m.1-36.1h0m1.2 62.4h0m.9 2.7h0m.7-12.6h0m1 38.4h0m.6-20.3h0m.4-20.4h0m.3-18.9h0m0 52.2h0m.2-34.7h0m.6 27.4h0m.4-28.3h0m.1-28h0m.2 80.1h0m0-55.8h0m.1 7.5h0m.7-2.1h0m.1 14.5h0m1.2 .2h0m.4-9.4h0m.1-21.7h0m.1 8.5h0m.3-22.8h0m1.4 67.3h0m.2-28.2h0m.4-7.3h0m.5-2.2h0m.2 23.4h0m.2-35.6h0m1.8 1.2h0m0 2.2h0m.1 4.8h0m.1 19.5h0m.6 7.9h0m.5-13.9h0m0-26.4h0m.1 36.1h0m0-1.1h0m.2-1.8h0m0-20.7h0m1.3 28h0m.2 21.9h0m.2 4.1h0m.2-14.2h0m.4-33.3h0m.3 52.8h0m.9-31.6h0m.1 8.4h0m.6-9.1h0m.5-2.5h0m.2 35.3h0m.6-20.5h0m.6-23.8h0m.5 15.4h0m.9-22.5h0m.1 32.3h0m1.7-4.1h0m.6-36h0m.3 36.7h0m.1 1.2h0m1.4 0h0m.1-11.9h0m0-3.1h0m.2 7.9h0m0 17.3h0m1.2 9.9h0m.4-20.4h0m0-1.1h0m.2-51.5h0m.5 13.9h0m.1 62.9h0m0-33h0m.1-12.4h0m.2 20.3h0m1.9 22.8h0m.6-19.4h0m.1 2.1h0m0-11.3h0m.3 21.3h0m.1-19.2h0m1.2 31.3h0m0-42.3h0m.1 23.3h0m.5-12h0m1-3h0m0 9.3h0m.1-16.2h0m.1-3.2h0m0 28.3h0m1.2 5.3h0m.2 5.7h0m0-27.4h0m.1 15.9h0m0-8.1h0m.2-22h0m.4 26.1h0m1-31.6h0m.1 31.2h0m.7-7.7h0m.5-6.4h0m.2 29.2h0m.3 4.4h0m.5-26.1h0m1.8-8.9h0m.2 5.9h0m.2 7.1h0m.4 12.6h0m.5-21.6h0m.8 9.3h0m.7 4.3h0m.2-12.8h0m.4 16.6h0m.6-29.4h0m.4 18.2h0m2 4.2h0m.2 27.5h0m2.2-28.6h0m.3 1.2h0m.1 7.1h0m1.4-20.2h0m.2 26.1h0m.3-9.2h0m0-13h0m.3 4.4h0m.2-22.3h0m.1 16.1h0m0 17.4h0m.6 19.9h0m1.8-46.7h0m.5 26.3h0m4.1-16.5h0m1.5-1.9h0m0 13.9h0m.6 12.4h0m.5-26.9h0m4.3 1.1h0" stroke="#fff" stroke-width="2.4" stroke-opacity="1.0"/>
<path d="M561.5 354.1h0m.5 8.9h0m1.8-1h0m.2-4.8h0m1 1.2h0m1.3-2.9h0m.3 53.3h0m1.7-9.6h0m.2-13.4h0m.3-32h0m.9 26.1h0m.8-10.9h0m.8 24.1h0m.2-10.1h0m1.5-28.4h0m.7 17.9h0m1.6 1.3h0m0 3.6h0m.1-14.2h0m.5 42.9h0m.1-30.6h0m.2 20.3h0m0-15.3h0m1.4-1h0m.1-1.8h0m.6-13.3h0m.1-8.3h0m.4-2.7h0m1.7 6.2h0m.5 29.8h0m.4-4h0m.4-6.9h0m.6 14.5h0m.5-6.1h0m.2-31.6h0m.4 57.3h0m.2-16.8h0m.2 4.5h0m.7-20h0m.5 21h0m1.1-35.3h0m.3 28.6h0m.4 14.9h0m.3 19.5h0m.7-63.3h0m.2 22.8h0m.9-3.2h0m0 1.6h0m1.1 20.7h0m1.4 2.3h0m0-2.5h0m0 12.5h0m.8 3.1h0m.7-23.7h0m0 6.9h0m.9-32.6h0m1.5 49.4h0m.5-4.8h0m.1-39.6h0m.4 51.9h0m.4-29.4h0m0-14.9h0m.3-15.4h0m.2 9.8h0m0-3.6h0m.8 32.6h0m.2 8.4h0m.3-4h0m.2-33.6h0m.7 18.3h0m.2 31.2h0m.1-15.8h0m.7-22h0m.4 33.2h0m0-16h0m.5 1.1h0m.1 2.9h0m.1-13.5h0m1.1 22.8h0m0 4.4h0m.6-28.4h0m.2-2.4h0m.4-4.5h0m.3 55.2h0m.2-44.1h0m0-20.9h0m0 2.9h0m.1 21.5h0m0 5.4h0m.5-2.6h0m.2 8.8h0m2.2 22.5h0m.1-6.8h0m.1 3.9h0m.6-25h0m.3 13h0m.1 9.5h0m.1-32.7h0m.2 28.8h0m0-54.2h0m.2 47.3h0m.1 29.4h0m1-19.1h0m.2-44.3h0m0 40h0m.5-28.1h0m.8-1.1h0m.2 27h0m.6-9.2h0m.9-17.6h0m1.2 38h0m.2-9.7h0m.2-12.2h0m2.4-7.8h0m.2 2.7h0m.2 6.8h0m0 15.5h0m.4-28h0m1 58h0m0-24.2h0m.1-15.2h0m1.2 15.4h0m0-27.9h0m.4 14h0m0 5.8h0m.5-29.3h0m.7 36.4h0m.3-30.2h0m.1-36.1h0m1.2 62.4h0m.9 2.7h0m.7-12.6h0m1 38.4h0m.6-20.3h0m.4-20.4h0m.3-18.9h0m0 52.2h0m.2-34.7h0m.6 27.4h0m.4-28.3h0m.1-28h0m.2 80.1h0m0-55.8h0m.1 7.5h0m.7-2.1h0m.1 14.5h0m1.2 .2h0m.4-9.4h0m.1-21.7h0m.1 8.5h0m.3-22.8h0m1.4 67.3h0m.2-28.2h0m.4-7.3h0m.5-2.2h0m.2 23.4h0m.2-35.6h0m1.8 1.2h0m0 2.2h0m.1 4.8h0m.1 19.5h0m.6 7.9h0m.5-13.9h0m0-26.4h0m.1 36.1h0m0-1.1h0m.2-1.8h0m0-20.7h0m1.3 28h0m.2 21.9h0m.2 4.1h0m.2-14.2h0m.4-33.3h0m.3 52.8h0m.9-31.6h0m.1 8.4h0m.6-9.1h0m.5-2.5h0m.2 35.3h0m.6-20.5h0m.6-23.8h0m.5 15.4h0m.9-22.5h0m.1 32.3h0m1.7-4.1h0m.6-36h0m.3 36.7h0m.1 1.2h0m1.4 0h0m.1-11.9h0m0-3.1h0m.2 7.9h0m0 17.3h0m1.2 9.9h0m.4-20.4h0m0-1.1h0m.2-51.5h0m.5 13.9h0m.1 62.9h0m0-33h0m.1-12.4h0m.2 20.3h0m1.9 22.8h0m.6-19.4h0m.1 2.1h0m0-11.3h0m.3 21.3h0m.1-19.2h0m1.2 31.3h0m0-42.3h0m.1 23.3h0m.5-12h0m1-3h0m0 9.3h0m.1-16.2h0m.1-3.2h0m0 28.3h0m1.2 5.3h0m.2 5.7h0m0-27.4h0m.1 15.9h0m0-8.1h0m.2-22h0m.4 26.1h0m1-31.6h0m.1 31.2h0m.7-7.7h0m.5-6.4h0m.2 29.2h0m.3 4.4h0m.5-26.1h0m1.8-8.9h0m.2 5.9h0m.2 7.1h0m.4 12.6h0m.5-21.6h0m.8 9.3h0m.7 4.3h0m.2-12.8h0m.4 16.6h0m.6-29.4h0m.4 18.2h0m2 4.2h0m.2 27.5h0m2.2-28.6h0m.3 1.2h0m.1 7.1h0m1.4-20.2h0m.2 26.1h0m.3-9.2h0m0-13h0m.3 4.4h0m.2-22.3h0m.1 16.1h0m0 17.4h0m.6 19.9h0m1.8-46.7h0m.5 26.3h0m4.1-16.5h0m1.5-1.9h0m0 13.9h0m.6 12.4h0m.5-26.9h0m4.3 1.1h0" stroke="#4791b4" stroke-width="2"/>
<path d="M561.1 379.5h0m.1-29.2h0m2 33.9h0m2.3-30.8h0m.6 54.5h0m.9-2h0m.6-25.9h0m0 24.7h0m.2-31.3h0m.1-4.3h0m.7-17.9h0m.2 27.3h0m0-2.3h0m1.1-20.1h0m.1 11.8h0m.4-15.1h0m.1 5h0m.2 3.8h0m0 23.8h0m1.3-1.1h0m.6-23.8h0m.2 22.7h0m.8-22.8h0m.1-2.1h0m.7-2.8h0m.1 9.4h0m.4 32h0m1.5-27.4h0m.2-10.3h0m.9-1.1h0m.1 50.3h0m.3-46h0m.8 13.9h0m.2 20.6h0m0-8.5h0m.5-16.2h0m0 7.4h0m.7 4.9h0m.2 9.1h0m1 20h0m0-32.5h0m.1-4.3h0m.3-10.6h0m.4 32.2h0m1.3 12.4h0m.1-8.9h0m.3-39.6h0m.3 21h0m1.4 43.5h0m.1 4.4h0m.1-52.9h0m.2 32.3h0m.9-9.5h0m1.2-27.1h0m.3 50.2h0m1.2-33.7h0m.2 36.2h0m.6-60.7h0m.1 20.1h0m.3 13.7h0m1.2 4.7h0m.3-27.1h0m.9 37h0m.2-7.1h0m.2-30.5h0m.1 26h0m.4 21.3h0m.3-40h0m.3-15.8h0m.8 40.6h0m.4 2.3h0m1.1 21h0m.2-33.9h0m.4 30.9h0m0-36.3h0m1 9h0m.3-19.5h0m.1 29.3h0m.1 16.7h0m.4-36.9h0m.1 3.3h0m.4 32.2h0m0-16.8h0m.3 7h0m0 14.9h0m.6-28.9h0m.2 1.2h0m.7-2h0m.2 3.6h0m.8 28.3h0m1.1-34.6h0m.1 27.1h0m.1-11.5h0m.1-2.6h0m.3-2.8h0m1.1-20.8h0m.3 37.6h0m.5 3.7h0m0-39.2h0m.1 33h0m0-5.8h0m.4 2.6h0m0-22.4h0m.7 29h0m.1 19h0m1.8-19.9h0m.1 6.4h0m.6-28.2h0m.7 34.1h0m.1-52.1h0m0 8.9h0m.1 9.8h0m0 42.6h0m.1-38.7h0m.1 13.6h0m.6-26.3h0m.4 8.4h0m.4 11.8h0m.3 13.4h0m.5-24.5h0m.1-10.8h0m.2 19.3h0m.7-20.6h0m.2 25.1h0m.2 19.1h0m.4-35h0m.1 58.9h0m.6-49.4h0m1 34.6h0m2.8 3.1h0m.2-11.4h0m0-35.3h0m0 27.5h0m.1-1.2h0m.1-1.1h0m.7-17.8h0m1.4 14.5h0m0 12.4h0m.1-5.8h0m.2 4.5h0m.6-15.7h0m.1 27.3h0m.3-30.7h0m0 19.7h0m1.1 10.3h0m.2 7.9h0m.3-24.8h0m.2 2.3h0m.4 23.6h0m.5-43.5h0m0 18.5h0m.1-8.1h0m.5-4.2h0m0 27.2h0m.1 4.8h0m.1-50.4h0m.2 67.4h0m.4-81.5h0m.5 44.7h0m0-13.1h0m0-31.4h0m.4 66.1h0m.2-9.1h0m.2-11.7h0m.7 24.4h0m.3-24.3h0m.2 11.2h0m.4-27.1h0m.4 33.4h0m.8-1.1h0m.2-25.5h0m.1-13.1h0m1.3 59.2h0m.1-34.8h0m.8 26.8h0m0-26h0m.1 37.9h0m.3-61.1h0m.2 35.5h0m.5-24.4h0m.2 4.8h0m.5 8.7h0m.4-8h0m.3-2.9h0m.1-5h0m.4-1.2h0m.4 34.9h0m1.9 20.2h0m0-13.6h0m.7-26.6h0m.5 3.9h0m.2-6.8h0m.8 34.9h0m.2 8.6h0m.2-11.9h0m.5-40.7h0m.1-15h0m.8 27.9h0m1.2 24.6h0m.4-30.2h0m.4-37.5h0m0 26.8h0m1.9 5h0m.2 12h0m.4 12h0m0 17.7h0m.6-12.7h0m1 19.8h0m.4-49.7h0m0 34.3h0m.3-29.2h0m0 49.9h0m.5-57.1h0m.3 15h0m.8 17.4h0m.4 15.2h0m.4-62.4h0m.7 26.5h0m.2-3.1h0m.3 37.4h0m.4-35.7h0m.9 20.7h0m.3 15.3h0m1.5 3.6h0m.6-12.6h0m0 6.5h0m.1-3.3h0m.5-41h0m.7 62.8h0m1-7.6h0m1-8.7h0m.2-16h0m.4 5.3h0m1.5 22.3h0m1.6-6.6h0m0-7.5h0m1.1-19.8h0m1.8 22h0m.1-3.4h0m.6 1.1h0m1.5-8.2h0m1.4-6.4h0m.9 21.6h0m.3-3.6h0m.2-4.8h0m1.1 .5h0m.8 10.4h0m0 4.3h0m.3-16.1h0m1.4 15.8h0m.3-14.3h0m.3 4.2h0m1.7-33.6h0m.5 34.5h0m2.3 8.5h0m1.1-11.5h0m.1-8.6h0m.5-2.6h0m.6-8.7h0m.5 11h0m1.9 6.6h0m2.8-9.4h0m.8 20.9h0" stroke="#fff" stroke-width="2.4" stroke-opacity="1.0"/>
<path d="M561.1 379.5h0m.1-29.2h0m2 33.9h0m2.3-30.8h0m.6 54.5h0m.9-2h0m.6-25.9h0m0 24.7h0m.2-31.3h0m.1-4.3h0m.7-17.9h0m.2 27.3h0m0-2.3h0m1.1-20.1h0m.1 11.8h0m.4-15.1h0m.1 5h0m.2 3.8h0m0 23.8h0m1.3-1.1h0m.6-23.8h0m.2 22.7h0m.8-22.8h0m.1-2.1h0m.7-2.8h0m.1 9.4h0m.4 32h0m1.5-27.4h0m.2-10.3h0m.9-1.1h0m.1 50.3h0m.3-46h0m.8 13.9h0m.2 20.6h0m0-8.5h0m.5-16.2h0m0 7.4h0m.7 4.9h0m.2 9.1h0m1 20h0m0-32.5h0m.1-4.3h0m.3-10.6h0m.4 32.2h0m1.3 12.4h0m.1-8.9h0m.3-39.6h0m.3 21h0m1.4 43.5h0m.1 4.4h0m.1-52.9h0m.2 32.3h0m.9-9.5h0m1.2-27.1h0m.3 50.2h0m1.2-33.7h0m.2 36.2h0m.6-60.7h0m.1 20.1h0m.3 13.7h0m1.2 4.7h0m.3-27.1h0m.9 37h0m.2-7.1h0m.2-30.5h0m.1 26h0m.4 21.3h0m.3-40h0m.3-15.8h0m.8 40.6h0m.4 2.3h0m1.1 21h0m.2-33.9h0m.4 30.9h0m0-36.3h0m1 9h0m.3-19.5h0m.1 29.3h0m.1 16.7h0m.4-36.9h0m.1 3.3h0m.4 32.2h0m0-16.8h0m.3 7h0m0 14.9h0m.6-28.9h0m.2 1.2h0m.7-2h0m.2 3.6h0m.8 28.3h0m1.1-34.6h0m.1 27.1h0m.1-11.5h0m.1-2.6h0m.3-2.8h0m1.1-20.8h0m.3 37.6h0m.5 3.7h0m0-39.2h0m.1 33h0m0-5.8h0m.4 2.6h0m0-22.4h0m.7 29h0m.1 19h0m1.8-19.9h0m.1 6.4h0m.6-28.2h0m.7 34.1h0m.1-52.1h0m0 8.9h0m.1 9.8h0m0 42.6h0m.1-38.7h0m.1 13.6h0m.6-26.3h0m.4 8.4h0m.4 11.8h0m.3 13.4h0m.5-24.5h0m.1-10.8h0m.2 19.3h0m.7-20.6h0m.2 25.1h0m.2 19.1h0m.4-35h0m.1 58.9h0m.6-49.4h0m1 34.6h0m2.8 3.1h0m.2-11.4h0m0-35.3h0m0 27.5h0m.1-1.2h0m.1-1.1h0m.7-17.8h0m1.4 14.5h0m0 12.4h0m.1-5.8h0m.2 4.5h0m.6-15.7h0m.1 27.3h0m.3-30.7h0m0 19.7h0m1.1 10.3h0m.2 7.9h0m.3-24.8h0m.2 2.3h0m.4 23.6h0m.5-43.5h0m0 18.5h0m.1-8.1h0m.5-4.2h0m0 27.2h0m.1 4.8h0m.1-50.4h0m.2 67.4h0m.4-81.5h0m.5 44.7h0m0-13.1h0m0-31.4h0m.4 66.1h0m.2-9.1h0m.2-11.7h0m.7 24.4h0m.3-24.3h0m.2 11.2h0m.4-27.1h0m.4 33.4h0m.8-1.1h0m.2-25.5h0m.1-13.1h0m1.3 59.2h0m.1-34.8h0m.8 26.8h0m0-26h0m.1 37.9h0m.3-61.1h0m.2 35.5h0m.5-24.4h0m.2 4.8h0m.5 8.7h0m.4-8h0m.3-2.9h0m.1-5h0m.4-1.2h0m.4 34.9h0m1.9 20.2h0m0-13.6h0m.7-26.6h0m.5 3.9h0m.2-6.8h0m.8 34.9h0m.2 8.6h0m.2-11.9h0m.5-40.7h0m.1-15h0m.8 27.9h0m1.2 24.6h0m.4-30.2h0m.4-37.5h0m0 26.8h0m1.9 5h0m.2 12h0m.4 12h0m0 17.7h0m.6-12.7h0m1 19.8h0m.4-49.7h0m0 34.3h0m.3-29.2h0m0 49.9h0m.5-57.1h0m.3 15h0m.8 17.4h0m.4 15.2h0m.4-62.4h0m.7 26.5h0m.2-3.1h0m.3 37.4h0m.4-35.7h0m.9 20.7h0m.3 15.3h0m1.5 3.6h0m.6-12.6h0m0 6.5h0m.1-3.3h0m.5-41h0m.7 62.8h0m1-7.6h0m1-8.7h0m.2-16h0m.4 5.3h0m1.5 22.3h0m1.6-6.6h0m0-7.5h0m1.1-19.8h0m1.8 22h0m.1-3.4h0m.6 1.1h0m1.5-8.2h0m1.4-6.4h0m.9 21.6h0m.3-3.6h0m.2-4.8h0m1.1 .5h0m.8 10.4h0m0 4.3h0m.3-16.1h0m1.4 15.8h0m.3-14.3h0m.3 4.2h0m1.7-33.6h0m.5 34.5h0m2.3 8.5h0m1.1-11.5h0m.1-8.6h0m.5-2.6h0m.6-8.7h0m.5 11h0m1.9 6.6h0m2.8-9.4h0m.8 20.9h0" stroke="#4791b4" stroke-width="2"/>
<path d="M558.7 360.9h0m.4 4.6h0m2.1 7.7h0m3.2 2.7h0m.1 29.6h0m.4-42.1h0m.4-13.7h0m.8 12.5h0m1 46.2h0m1.6-43.6h0m.5 5.6h0m.2 3.8h0m.1-11.5h0m1.1-7.6h0m.4 20.1h0m.2-7.8h0m.3-10.3h0m.6 18.1h0m.1-10h0m.2 38.1h0m.9-35.9h0m1.2 7.2h0m1.1 16.2h0m0 10.7h0m.4-46h0m.6 28h0m0-9.9h0m.3 36.5h0m.1-18.4h0m.2-1.3h0m.2 11.5h0m.1-27.3h0m.9 4.2h0m1 34.2h0m.1-51.2h0m.5 39.3h0m1.7-27.6h0m.6 41.6h0m.1-23.8h0m.1-10.3h0m.2-3.2h0m.6-1.5h0m1.4 31h0m1.3 9h0m0-26.7h0m.8 12.9h0m.3-43.8h0m1.2 52.4h0m.1-20.2h0m.7 7.3h0m.1-4.6h0m.7 3h0m1.6-9.1h0m.2-23h0m0 30.3h0m.6 37.4h0m.1-4.4h0m1.2-47.9h0m.2-4.4h0m.2 36.4h0m.9-32.6h0m.4 2.9h0m0-1.7h0m.3 25.5h0m.3-10.5h0m1.2-.4h0m0 18.9h0m.2-17.7h0m.6-26.2h0m0 16.7h0m1.2 18.3h0m.8-18.1h0m.3-8.9h0m.3 12.4h0m.1 5.3h0m.6-9.4h0m.2 46.6h0m.3-3h0m.5-28.9h0m.6 15.9h0m0 15.5h0m.6-55.4h0m.1 10.9h0m1.6-.1h0m.8 53.9h0m1.8-11.1h0m.3-44.2h0m.1 29.7h0m0-7.8h0m.5 30.8h0m.1-25.5h0m.6-1.7h0m0 4.3h0m1.8 0h0m.3 21.4h0m.5-8.4h0m.6-36.7h0m.3 47.5h0m.3 13.5h0m.1-30.8h0m.6 13.5h0m0-24.9h0m.2 19.1h0m.2-38.2h0m.4-5.6h0m.1 19.8h0m0 20h0m.2-25.2h0m.6 42.6h0m.1-11.6h0m.5-10.3h0m.3-28.9h0m0 10.5h0m1.2 13.4h0m0-6.3h0m.2-8h0m1.6 8.4h0m.1 24.5h0m.2-14.8h0m.1 34.2h0m.6-36.5h0m.4-19h0m.1 16.3h0m.3 4.2h0m.1 47.2h0m.6-19.2h0m.1-21.3h0m.1-7.4h0m.1 9.4h0m.2-29.4h0m.1-14.3h0m.8 77.6h0m.9-65.6h0m.6 11.7h0m.9 9.8h0m0 24.7h0m0-23.1h0m.3 2.1h0m.1 2.3h0m2 14h0m.3-27.8h0m.1 15.6h0m.1 28.5h0m.3 5.1h0m.5-8.6h0m1.1 14.6h0m.2-4.9h0m.5-19.1h0m.2 1.8h0m.2 8.6h0m.2-22.2h0m.1 26.7h0m.2-24.2h0m.4 20.7h0m.4 4.6h0m.2-36.6h0m.3 23.2h0m.1-7h0m.1-27.3h0m.2 60.7h0m0-16.2h0m.4-13.9h0m.2-13.9h0m.4 23.9h0m.2-47.1h0m.4 64.7h0m.1-14.4h0m.4-27.6h0m.1 50.6h0m.3-32.3h0m0-12h0m1.1 31.8h0m1.3-48.8h0m.3 47.3h0m.6-35.6h0m.6 31.3h0m.7 6.5h0m1-32.5h0m.1 17.3h0m.5 14.6h0m0-16h0m.9 20.6h0m0-5.8h0m1.1-20.4h0m.4-32.9h0m0 11h0m.5 24.6h0m.5 28.1h0m0-2.7h0m.1-34.2h0m.3 7.3h0m.5 12.3h0m.2-11.4h0m.2-7.6h0m.8 19.1h0m.1-41.3h0m.2 43h0m1-4.5h0m.5-8.1h0m3.5 30.3h0m.8-33h0m0-28.4h0m.5 43.6h0m.8-8.5h0m.4-17.8h0m.4 39.8h0m.1-9.7h0m.3-3.2h0m1 1.3h0m.1-21.7h0m.5 33.3h0m.2-16.8h0m.3-15h0m1.5 9h0m.1 13.2h0m.1-2h0m.9-5.3h0m.1 26.2h0m.2-63.4h0m0 40h0m.1-8.5h0m.7-24h0m2 49.2h0m0-15h0m.1-2.2h0m0 11.6h0m.3-49.9h0m0 59.4h0m.5-25.2h0m1.2 25.8h0m.5-3.9h0m0-21.2h0m.6-9.4h0m.1 35.9h0m1.8-15.4h0m.1 14.9h0m.4-3.3h0m.6-18h0m.4 9.6h0m.1-10.7h0m.4-13.4h0m1.3-2.4h0m.5 20h0m0 10.4h0m.2 13.4h0m.3-58.6h0m.1 41.6h0m.5 2.1h0m1.9 9.4h0m.8-34.3h0m2.3 20.3h0m.2-25.2h0m.3 28.8h0m1.1 14.7h0m.3-15.4h0m.5 5.9h0m.7-4.8h0m1 6.8h0m.3-12.7h0m3.7-3.9h0m.1 5.5h0m3.1-6.7h0m0-6.2h0" stroke="#fff" stroke-width="2.4" stroke-opacity="1.0"/>
<path d="M558.7 360.9h0m.4 4.6h0m2.1 7.7h0m3.2 2.7h0m.1 29.6h0m.4-42.1h0m.4-13.7h0m.8 12.5h0m1 46.2h0m1.6-43.6h0m.5 5.6h0m.2 3.8h0m.1-11.5h0m1.1-7.6h0m.4 20.1h0m.2-7.8h0m.3-10.3h0m.6 18.1h0m.1-10h0m.2 38.1h0m.9-35.9h0m1.2 7.2h0m1.1 16.2h0m0 10.7h0m.4-46h0m.6 28h0m0-9.9h0m.3 36.5h0m.1-18.4h0m.2-1.3h0m.2 11.5h0m.1-27.3h0m.9 4.2h0m1 34.2h0m.1-51.2h0m.5 39.3h0m1.7-27.6h0m.6 41.6h0m.1-23.8h0m.1-10.3h0m.2-3.2h0m.6-1.5h0m1.4 31h0m1.3 9h0m0-26.7h0m.8 12.9h0m.3-43.8h0m1.2 52.4h0m.1-20.2h0m.7 7.3h0m.1-4.6h0m.7 3h0m1.6-9.1h0m.2-23h0m0 30.3h0m.6 37.4h0m.1-4.4h0m1.2-47.9h0m.2-4.4h0m.2 36.4h0m.9-32.6h0m.4 2.9h0m0-1.7h0m.3 25.5h0m.3-10.5h0m1.2-.4h0m0 18.9h0m.2-17.7h0m.6-26.2h0m0 16.7h0m1.2 18.3h0m.8-18.1h0m.3-8.9h0m.3 12.4h0m.1 5.3h0m.6-9.4h0m.2 46.6h0m.3-3h0m.5-28.9h0m.6 15.9h0m0 15.5h0m.6-55.4h0m.1 10.9h0m1.6-.1h0m.8 53.9h0m1.8-11.1h0m.3-44.2h0m.1 29.7h0m0-7.8h0m.5 30.8h0m.1-25.5h0m.6-1.7h0m0 4.3h0m1.8 0h0m.3 21.4h0m.5-8.4h0m.6-36.7h0m.3 47.5h0m.3 13.5h0m.1-30.8h0m.6 13.5h0m0-24.9h0m.2 19.1h0m.2-38.2h0m.4-5.6h0m.1 19.8h0m0 20h0m.2-25.2h0m.6 42.6h0m.1-11.6h0m.5-10.3h0m.3-28.9h0m0 10.5h0m1.2 13.4h0m0-6.3h0m.2-8h0m1.6 8.4h0m.1 24.5h0m.2-14.8h0m.1 34.2h0m.6-36.5h0m.4-19h0m.1 16.3h0m.3 4.2h0m.1 47.2h0m.6-19.2h0m.1-21.3h0m.1-7.4h0m.1 9.4h0m.2-29.4h0m.1-14.3h0m.8 77.6h0m.9-65.6h0m.6 11.7h0m.9 9.8h0m0 24.7h0m0-23.1h0m.3 2.1h0m.1 2.3h0m2 14h0m.3-27.8h0m.1 15.6h0m.1 28.5h0m.3 5.1h0m.5-8.6h0m1.1 14.6h0m.2-4.9h0m.5-19.1h0m.2 1.8h0m.2 8.6h0m.2-22.2h0m.1 26.7h0m.2-24.2h0m.4 20.7h0m.4 4.6h0m.2-36.6h0m.3 23.2h0m.1-7h0m.1-27.3h0m.2 60.7h0m0-16.2h0m.4-13.9h0m.2-13.9h0m.4 23.9h0m.2-47.1h0m.4 64.7h0m.1-14.4h0m.4-27.6h0m.1 50.6h0m.3-32.3h0m0-12h0m1.1 31.8h0m1.3-48.8h0m.3 47.3h0m.6-35.6h0m.6 31.3h0m.7 6.5h0m1-32.5h0m.1 17.3h0m.5 14.6h0m0-16h0m.9 20.6h0m0-5.8h0m1.1-20.4h0m.4-32.9h0m0 11h0m.5 24.6h0m.5 28.1h0m0-2.7h0m.1-34.2h0m.3 7.3h0m.5 12.3h0m.2-11.4h0m.2-7.6h0m.8 19.1h0m.1-41.3h0m.2 43h0m1-4.5h0m.5-8.1h0m3.5 30.3h0m.8-33h0m0-28.4h0m.5 43.6h0m.8-8.5h0m.4-17.8h0m.4 39.8h0m.1-9.7h0m.3-3.2h0m1 1.3h0m.1-21.7h0m.5 33.3h0m.2-16.8h0m.3-15h0m1.5 9h0m.1 13.2h0m.1-2h0m.9-5.3h0m.1 26.2h0m.2-63.4h0m0 40h0m.1-8.5h0m.7-24h0m2 49.2h0m0-15h0m.1-2.2h0m0 11.6h0m.3-49.9h0m0 59.4h0m.5-25.2h0m1.2 25.8h0m.5-3.9h0m0-21.2h0m.6-9.4h0m.1 35.9h0m1.8-15.4h0m.1 14.9h0m.4-3.3h0m.6-18h0m.4 9.6h0m.1-10.7h0m.4-13.4h0m1.3-2.4h0m.5 20h0m0 10.4h0m.2 13.4h0m.3-58.6h0m.1 41.6h0m.5 2.1h0m1.9 9.4h0m.8-34.3h0m2.3 20.3h0m.2-25.2h0m.3 28.8h0m1.1 14.7h0m.3-15.4h0m.5 5.9h0m.7-4.8h0m1 6.8h0m.3-12.7h0m3.7-3.9h0m.1 5.5h0m3.1-6.7h0m0-6.2h0" stroke="#4791b4" stroke-width="2"/>
<path d="M558.9 351.7h0m3.1 9.3h0m1.7 3.9h0m1.2 28.1h0m.6 14.3h0m.2-52.7h0m.4-6.8h0m0 10.7h0m.3 .9h0m.6 15.4h0m.4 19.7h0m.7-5.8h0m1-28.6h0m.1-5h0m.8 5.3h0m0 4.3h0m.6 12.5h0m.9 3.5h0m.2-11.6h0m.8-5.1h0m.9-13.9h0m.6 23.6h0m0 12h0m.2-14.5h0m.6 44.5h0m.4-45.3h0m.9 16.5h0m.8-20.8h0m.2 18.3h0m.8 22.2h0m.2-34.3h0m1.4 9.7h0m0-11.1h0m.4 34.4h0m.1-7.6h0m.1-16.7h0m.1-5.4h0m.3 28.5h0m.3-47.4h0m.4 34.4h0m.1 5.9h0m.4-24.5h0m.4 30h0m.5-16.8h0m.7-1.6h0m.3 32.6h0m.4-29.6h0m.1-20.6h0m1 18.5h0m.4 5.7h0m.4-21.2h0m.3 10h0m.1 32.5h0m.1 7.2h0m.6-42.9h0m.8 25.4h0m.9-28.7h0m.8 33.3h0m.9-29.3h0m0 36.2h0m.1 15.6h0m.3-22.5h0m.1-37h0m.2 29.3h0m.2-1.3h0m.6-16.7h0m.4 44.9h0m.5-34.4h0m0 22.1h0m.2-15.7h0m.1-34.3h0m.2 26.1h0m.7 41.1h0m.1-47.6h0m1-10.6h0m.3 27.2h0m.3-8.6h0m.2 3.2h0m.2 10.8h0m.2-17.7h0m1.4 7.1h0m.5-5.1h0m.3 41.9h0m.1-22.6h0m.6 1h0m.1-21.3h0m.6-3.1h0m.2-3.4h0m.3-5.5h0m.1 21.1h0m0 25.4h0m.8-29.4h0m.3 21.1h0m.3 22.7h0m.2-52.1h0m.5 60.3h0m.1-35.5h0m.1-17.8h0m1 43.3h0m.2-6.8h0m.6-9.4h0m.9-25.6h0m.1 41.4h0m1.4-21.9h0m.2-16.7h0m1.8 24.1h0m.1 8.3h0m.3-40.6h0m.9 39.6h0m1-33.3h0m1.1 32h0m.9-28.9h0m1 6.5h0m.2 27.8h0m.2-9.5h0m.2-8.7h0m.1 22.7h0m.2-8.3h0m.6-4h0m.1-8h0m.4-7.1h0m.1 19.2h0m.1-25.8h0m.1 53h0m1.1-35.1h0m0 19h0m.1-23.2h0m.7 30.5h0m.1-22.1h0m0 1.8h0m.2 11.6h0m.2-38.6h0m.9 18.3h0m.2-8.2h0m.4 28.7h0m.2 8.5h0m.5-3.2h0m.8-1.4h0m.5-17.6h0m.3-8.9h0m.1-2.7h0m.7 47.7h0m.9-28.6h0m1.1 20.9h0m.3-46.9h0m0 22.4h0m1.1-16.7h0m.2 2.2h0m0 46.7h0m.2-29.7h0m.1 1.8h0m.8-9.3h0m.1 10h0m1-42.5h0m.3 21.1h0m0 21.7h0m.3-5.5h0m.7-2.3h0m.3-4h0m.1 29.3h0m1.4-5.1h0m.3-17h0m.1-1.7h0m.6-11h0m.1 47.6h0m.2-35.7h0m1.1-11.2h0m0 41.9h0m.5-52.7h0m.4 18.1h0m.1 18.6h0m.4-26.5h0m0 6.5h0m.8-8.1h0m.2 21.4h0m.4-7.4h0m.4 5.9h0m.6 10.2h0m.8 5.7h0m1.3-20.4h0m.1 43.4h0m.3-62.1h0m.4 31.1h0m1-25.6h0m0 3.1h0m.4 32.8h0m0-18.7h0m.8 45h0m.2-25.6h0m.4-4.2h0m.3 22.5h0m.5-18.6h0m.8-14.2h0m.2-10.3h0m.3 30.2h0m.4-37.1h0m.9 12.5h0m1.6 16.1h0m1 20.8h0m.7 1.1h0m.2-21.2h0m.1-25.4h0m1.1 26.1h0m.6-24h0m.1-8.4h0m.4 62.5h0m.2-16.8h0m.3-17.2h0m.7 13.3h0m.5-37.7h0m.4 13.1h0m.1 7.8h0m.4 24.5h0m.9-18.4h0m.1-3h0m1.5 15.3h0m.7 10.2h0m1-34.3h0m.2 6.5h0m1.3 18.7h0m.1-4.9h0m.2 8.8h0m0-23.1h0m.1 3.3h0m1.1 17.1h0m.1-21.6h0m.3 8.8h0m.1-3.4h0m.3 9.3h0m.1-8.2h0m.7-3.8h0m.4-3.5h0m.1 12.8h0m.1 4h0m.1-1.3h0m.1 3.5h0m.4-35.5h0m.2 39.8h0m.3-46.4h0m.2 57.6h0m.2-54.3h0m.8 39.5h0m.2-4h0m.2-19.6h0m.4 28h0m.7-34.1h0m1.1 15.5h0m.7 16.1h0m1.1-2.8h0m.2-9.7h0m.8 25.4h0m.7-24.8h0m1.1 4.1h0m3.1 8.9h0m.3-27.2h0m.2 39.8h0m1.5 1.8h0m1.8-12.3h0m4-15.1h0m.1 6h0m.2-3.8h0m1.8 13.4h0m2.3 .1h0" stroke="#fff" stroke-width="2.4" stroke-opacity="1.0"/>
<path d="M558.9 351.7h0m3.1 9.3h0m1.7 3.9h0m1.2 28.1h0m.6 14.3h0m.2-52.7h0m.4-6.8h0m0 10.7h0m.3 .9h0m.6 15.4h0m.4 19.7h0m.7-5.8h0m1-28.6h0m.1-5h0m.8 5.3h0m0 4.3h0m.6 12.5h0m.9 3.5h0m.2-11.6h0m.8-5.1h0m.9-13.9h0m.6 23.6h0m0 12h0m.2-14.5h0m.6 44.5h0m.4-45.3h0m.9 16.5h0m.8-20.8h0m.2 18.3h0m.8 22.2h0m.2-34.3h0m1.4 9.7h0m0-11.1h0m.4 34.4h0m.1-7.6h0m.1-16.7h0m.1-5.4h0m.3 28.5h0m.3-47.4h0m.4 34.4h0m.1 5.9h0m.4-24.5h0m.4 30h0m.5-16.8h0m.7-1.6h0m.3 32.6h0m.4-29.6h0m.1-20.6h0m1 18.5h0m.4 5.7h0m.4-21.2h0m.3 10h0m.1 32.5h0m.1 7.2h0m.6-42.9h0m.8 25.4h0m.9-28.7h0m.8 33.3h0m.9-29.3h0m0 36.2h0m.1 15.6h0m.3-22.5h0m.1-37h0m.2 29.3h0m.2-1.3h0m.6-16.7h0m.4 44.9h0m.5-34.4h0m0 22.1h0m.2-15.7h0m.1-34.3h0m.2 26.1h0m.7 41.1h0m.1-47.6h0m1-10.6h0m.3 27.2h0m.3-8.6h0m.2 3.2h0m.2 10.8h0m.2-17.7h0m1.4 7.1h0m.5-5.1h0m.3 41.9h0m.1-22.6h0m.6 1h0m.1-21.3h0m.6-3.1h0m.2-3.4h0m.3-5.5h0m.1 21.1h0m0 25.4h0m.8-29.4h0m.3 21.1h0m.3 22.7h0m.2-52.1h0m.5 60.3h0m.1-35.5h0m.1-17.8h0m1 43.3h0m.2-6.8h0m.6-9.4h0m.9-25.6h0m.1 41.4h0m1.4-21.9h0m.2-16.7h0m1.8 24.1h0m.1 8.3h0m.3-40.6h0m.9 39.6h0m1-33.3h0m1.1 32h0m.9-28.9h0m1 6.5h0m.2 27.8h0m.2-9.5h0m.2-8.7h0m.1 22.7h0m.2-8.3h0m.6-4h0m.1-8h0m.4-7.1h0m.1 19.2h0m.1-25.8h0m.1 53h0m1.1-35.1h0m0 19h0m.1-23.2h0m.7 30.5h0m.1-22.1h0m0 1.8h0m.2 11.6h0m.2-38.6h0m.9 18.3h0m.2-8.2h0m.4 28.7h0m.2 8.5h0m.5-3.2h0m.8-1.4h0m.5-17.6h0m.3-8.9h0m.1-2.7h0m.7 47.7h0m.9-28.6h0m1.1 20.9h0m.3-46.9h0m0 22.4h0m1.1-16.7h0m.2 2.2h0m0 46.7h0m.2-29.7h0m.1 1.8h0m.8-9.3h0m.1 10h0m1-42.5h0m.3 21.1h0m0 21.7h0m.3-5.5h0m.7-2.3h0m.3-4h0m.1 29.3h0m1.4-5.1h0m.3-17h0m.1-1.7h0m.6-11h0m.1 47.6h0m.2-35.7h0m1.1-11.2h0m0 41.9h0m.5-52.7h0m.4 18.1h0m.1 18.6h0m.4-26.5h0m0 6.5h0m.8-8.1h0m.2 21.4h0m.4-7.4h0m.4 5.9h0m.6 10.2h0m.8 5.7h0m1.3-20.4h0m.1 43.4h0m.3-62.1h0m.4 31.1h0m1-25.6h0m0 3.1h0m.4 32.8h0m0-18.7h0m.8 45h0m.2-25.6h0m.4-4.2h0m.3 22.5h0m.5-18.6h0m.8-14.2h0m.2-10.3h0m.3 30.2h0m.4-37.1h0m.9 12.5h0m1.6 16.1h0m1 20.8h0m.7 1.1h0m.2-21.2h0m.1-25.4h0m1.1 26.1h0m.6-24h0m.1-8.4h0m.4 62.5h0m.2-16.8h0m.3-17.2h0m.7 13.3h0m.5-37.7h0m.4 13.1h0m.1 7.8h0m.4 24.5h0m.9-18.4h0m.1-3h0m1.5 15.3h0m.7 10.2h0m1-34.3h0m.2 6.5h0m1.3 18.7h0m.1-4.9h0m.2 8.8h0m0-23.1h0m.1 3.3h0m1.1 17.1h0m.1-21.6h0m.3 8.8h0m.1-3.4h0m.3 9.3h0m.1-8.2h0m.7-3.8h0m.4-3.5h0m.1 12.8h0m.1 4h0m.1-1.3h0m.1 3.5h0m.4-35.5h0m.2 39.8h0m.3-46.4h0m.2 57.6h0m.2-54.3h0m.8 39.5h0m.2-4h0m.2-19.6h0m.4 28h0m.7-34.1h0m1.1 15.5h0m.7 16.1h0m1.1-2.8h0m.2-9.7h0m.8 25.4h0m.7-24.8h0m1.1 4.1h0m3.1 8.9h0m.3-27.2h0m.2 39.8h0m1.5 1.8h0m1.8-12.3h0m4-15.1h0m.1 6h0m.2-3.8h0m1.8 13.4h0m2.3 .1h0" stroke="#4791b4" stroke-width="2"/>
<path d="M561.4 367.5h0m2-18.5h0m1.9 20.2h0m.3 29.6h0m.9-34.5h0m1.2 7.6h0m.5-15.4h0m.5 7.1h0m.5 3.5h0m.5 41.1h0m.3-44.5h0m.6 7h0m.1 2.8h0m.8 5.2h0m.1-27.8h0m.1 4.4h0m2.3 39.6h0m.1 6.7h0m.4-18.2h0m.4 24.1h0m.7-56.8h0m.9 26.9h0m.7 8.9h0m.2-17.2h0m.4 19.7h0m.3 11.3h0m.6 20.2h0m.4-42.7h0m.8 32.3h0m.7-39.7h0m.1 28.9h0m.8-4.2h0m.1-19.4h0m.7-15.7h0m.5 14h0m0-10.6h0m.8 7.8h0m.2 18.8h0m.4 24.2h0m.8-5.2h0m.3 14.5h0m.3-10.3h0m.6-41.3h0m.3 12.5h0m.3 .9h0m.7 31.6h0m.2-22.5h0m.1-22.7h0m.5 47.9h0m.2-39.5h0m.4 28.9h0m.1-21.2h0m1 20.9h0m.1 7.1h0m.5 7.7h0m.5-9.1h0m0-22.4h0m.6-2.7h0m1.1 27.6h0m.2-34.3h0m.8 18.5h0m.5-19.6h0m0 51.5h0m.1-22.4h0m.1-2h0m.1-30.8h0m0-7.6h0m.6 17.3h0m.1 15.2h0m.2-9.7h0m.2-9.5h0m.2-9.7h0m.9 17.9h0m.2 19.2h0m.1-27.9h0m.1-17.5h0m1 34.8h0m0-4.6h0m1.2 11.6h0m.4 4h0m1.6-41.3h0m.2 21.5h0m.2 25.4h0m.8-12.2h0m.3 3.6h0m1.1-1h0m.2-6.6h0m.2 16.1h0m.1 16.2h0m.7-55.2h0m.2 25.2h0m.3 13.5h0m.3 16.9h0m.4-45.8h0m.5-2.7h0m.2 24.8h0m0-4.7h0m0-7.6h0m.7-8.9h0m.4 17.5h0m0-25.9h0m.2 24.3h0m.8-9.4h0m.9 30.7h0m1.1 10.3h0m.3-4.8h0m.3-23h0m0 9.8h0m.6 17.2h0m.6-7h0m1.6-32.2h0m.5 1.6h0m1.2 19.7h0m.1-7h0m0 10.3h0m.2 13.3h0m.1-8h0m.4 14.9h0m.1-22.8h0m.1-13.2h0m0 19h0m.6 36.3h0m.6-31.2h0m.1-7.8h0m0-44.7h0m.1 68.7h0m0-43.4h0m0 21.2h0m.2-4.3h0m.6-41.5h0m.2 36.3h0m.7 23.2h0m.3 21.3h0m.4-30.3h0m.3 7.6h0m.3-12.9h0m.8-5.8h0m.1 34.2h0m.7-12.2h0m.3-43.8h0m.4 70.2h0m.2-15h0m.1 2.9h0m.8-18.5h0m.7 7.2h0m.2 17.5h0m.2 2.6h0m.4-12.1h0m.1 21.2h0m.5-17.2h0m.4-5h0m.4-59.1h0m.5 74.7h0m.2-26.8h0m.4 7.7h0m0-26.5h0m1 27.1h0m.4 9.6h0m.4-22h0m.9-6.3h0m.7 11.3h0m0 26.7h0m.4-3.3h0m.2-48h0m.1 29.8h0m0-23.6h0m.5-12.2h0m.8 7h0m.3 34.7h0m.2-3.1h0m.3 10.5h0m.8-6.1h0m.8-7.7h0m.5 4.6h0m.5-24.1h0m.5 56.7h0m.8-54.1h0m0 20.3h0m.2-11.1h0m1.8-1.7h0m.2 3.6h0m.9 10.4h0m.6 18.4h0m.1-28.4h0m.2 34.6h0m.1-25.9h0m.1 36.3h0m1.1-27.1h0m.3-21.2h0m.6 24.7h0m2-27.7h0m1.1 3.9h0m.1 40.6h0m.3-42.7h0m.2 10.6h0m.8 21.1h0m.6-45.9h0m.8 20.8h0m.9 10.9h0m.7-2.6h0m.2 2.5h0m.2-4.9h0m.1 11.6h0m.1-16h0m.2-16.1h0m.5 29.5h0m.3-12.5h0m.5 29.1h0m.3 2.1h0m.1 10.6h0m.3-79.4h0m.8 34.7h0m.4 10h0m.5 20.1h0m1-15.4h0m.5 10.5h0m.5-32.7h0m.1 12.1h0m.8-1.7h0m0-8.6h0m1.1 36.2h0m.1 4.5h0m.2-22h0m.3-19.7h0m.8 24.3h0m.2 29.6h0m.3-48h0m.1 3.4h0m1.3-5.1h0m.6-7.6h0m1.9 32.6h0m1.4-4.7h0m.4-20.6h0m.4 36.8h0m.7-20.4h0m.4 8.3h0m.1 24.9h0m.3-5.3h0m.3-7.6h0m.1-4h0m.1 1.3h0m1 8.8h0m.4-8.5h0m.2-21.7h0m.6-17h0m.1 22.6h0m.4 11.7h0m.9 2.8h0m.1-11.4h0m4-14.4h0m.1 21.4h0m0-6.7h0m.4 5.3h0m2.6-4.8h0m.1-19.3h0m.5 8.9h0m.3 20.5h0m.6 2.3h0m.7-15.9h0m0 24.1h0m1.8-10.3h0m5.3-5.1h0m1.2 7.3h0" stroke="#fff" stroke-width="2.4" stroke-opacity="1.0"/>
<path d="M561.4 367.5h0m2-18.5h0m1.9 20.2h0m.3 29.6h0m.9-34.5h0m1.2 7.6h0m.5-15.4h0m.5 7.1h0m.5 3.5h0m.5 41.1h0m.3-44.5h0m.6 7h0m.1 2.8h0m.8 5.2h0m.1-27.8h0m.1 4.4h0m2.3 39.6h0m.1 6.7h0m.4-18.2h0m.4 24.1h0m.7-56.8h0m.9 26.9h0m.7 8.9h0m.2-17.2h0m.4 19.7h0m.3 11.3h0m.6 20.2h0m.4-42.7h0m.8 32.3h0m.7-39.7h0m.1 28.9h0m.8-4.2h0m.1-19.4h0m.7-15.7h0m.5 14h0m0-10.6h0m.8 7.8h0m.2 18.8h0m.4 24.2h0m.8-5.2h0m.3 14.5h0m.3-10.3h0m.6-41.3h0m.3 12.5h0m.3 .9h0m.7 31.6h0m.2-22.5h0m.1-22.7h0m.5 47.9h0m.2-39.5h0m.4 28.9h0m.1-21.2h0m1 20.9h0m.1 7.1h0m.5 7.7h0m.5-9.1h0m0-22.4h0m.6-2.7h0m1.1 27.6h0m.2-34.3h0m.8 18.5h0m.5-19.6h0m0 51.5h0m.1-22.4h0m.1-2h0m.1-30.8h0m0-7.6h0m.6 17.3h0m.1 15.2h0m.2-9.7h0m.2-9.5h0m.2-9.7h0m.9 17.9h0m.2 19.2h0m.1-27.9h0m.1-17.5h0m1 34.8h0m0-4.6h0m1.2 11.6h0m.4 4h0m1.6-41.3h0m.2 21.5h0m.2 25.4h0m.8-12.2h0m.3 3.6h0m1.1-1h0m.2-6.6h0m.2 16.1h0m.1 16.2h0m.7-55.2h0m.2 25.2h0m.3 13.5h0m.3 16.9h0m.4-45.8h0m.5-2.7h0m.2 24.8h0m0-4.7h0m0-7.6h0m.7-8.9h0m.4 17.5h0m0-25.9h0m.2 24.3h0m.8-9.4h0m.9 30.7h0m1.1 10.3h0m.3-4.8h0m.3-23h0m0 9.8h0m.6 17.2h0m.6-7h0m1.6-32.2h0m.5 1.6h0m1.2 19.7h0m.1-7h0m0 10.3h0m.2 13.3h0m.1-8h0m.4 14.9h0m.1-22.8h0m.1-13.2h0m0 19h0m.6 36.3h0m.6-31.2h0m.1-7.8h0m0-44.7h0m.1 68.7h0m0-43.4h0m0 21.2h0m.2-4.3h0m.6-41.5h0m.2 36.3h0m.7 23.2h0m.3 21.3h0m.4-30.3h0m.3 7.6h0m.3-12.9h0m.8-5.8h0m.1 34.2h0m.7-12.2h0m.3-43.8h0m.4 70.2h0m.2-15h0m.1 2.9h0m.8-18.5h0m.7 7.2h0m.2 17.5h0m.2 2.6h0m.4-12.1h0m.1 21.2h0m.5-17.2h0m.4-5h0m.4-59.1h0m.5 74.7h0m.2-26.8h0m.4 7.7h0m0-26.5h0m1 27.1h0m.4 9.6h0m.4-22h0m.9-6.3h0m.7 11.3h0m0 26.7h0m.4-3.3h0m.2-48h0m.1 29.8h0m0-23.6h0m.5-12.2h0m.8 7h0m.3 34.7h0m.2-3.1h0m.3 10.5h0m.8-6.1h0m.8-7.7h0m.5 4.6h0m.5-24.1h0m.5 56.7h0m.8-54.1h0m0 20.3h0m.2-11.1h0m1.8-1.7h0m.2 3.6h0m.9 10.4h0m.6 18.4h0m.1-28.4h0m.2 34.6h0m.1-25.9h0m.1 36.3h0m1.1-27.1h0m.3-21.2h0m.6 24.7h0m2-27.7h0m1.1 3.9h0m.1 40.6h0m.3-42.7h0m.2 10.6h0m.8 21.1h0m.6-45.9h0m.8 20.8h0m.9 10.9h0m.7-2.6h0m.2 2.5h0m.2-4.9h0m.1 11.6h0m.1-16h0m.2-16.1h0m.5 29.5h0m.3-12.5h0m.5 29.1h0m.3 2.1h0m.1 10.6h0m.3-79.4h0m.8 34.7h0m.4 10h0m.5 20.1h0m1-15.4h0m.5 10.5h0m.5-32.7h0m.1 12.1h0m.8-1.7h0m0-8.6h0m1.1 36.2h0m.1 4.5h0m.2-22h0m.3-19.7h0m.8 24.3h0m.2 29.6h0m.3-48h0m.1 3.4h0m1.3-5.1h0m.6-7.6h0m1.9 32.6h0m1.4-4.7h0m.4-20.6h0m.4 36.8h0m.7-20.4h0m.4 8.3h0m.1 24.9h0m.3-5.3h0m.3-7.6h0m.1-4h0m.1 1.3h0m1 8.8h0m.4-8.5h0m.2-21.7h0m.6-17h0m.1 22.6h0m.4 11.7h0m.9 2.8h0m.1-11.4h0m4-14.4h0m.1 21.4h0m0-6.7h0m.4 5.3h0m2.6-4.8h0m.1-19.3h0m.5 8.9h0m.3 20.5h0m.6 2.3h0m.7-15.9h0m0 24.1h0m1.8-10.3h0m5.3-5.1h0m1.2 7.3h0" stroke="#4791b4" stroke-width="2"/>
</g>
<rect x="395.5" y="306.3" width="312.3" height="250.9" fill="none" stroke="#3a3a3a" stroke-width="0.8"/>
<path d="M453.7 557.2v2M514.3 557.2v2M574.9 557.2v2M635.5 557.2v2M696.1 557.2v2M395.5 340.7h-2M395.5 388.9h-2M395.5 437h-2M395.5 485.1h-2M395.5 533.3h-2" stroke="#3a3a3a" stroke-width="0.6" fill="none"/>
<g font-size="4.7" fill="#111" stroke="#111" stroke-width="0.08">
<text x="453.7" y="564.8" text-anchor="middle">−100</text>
<text x="514.3" y="564.8" text-anchor="middle">−50</text>
<text x="574.9" y="564.8" text-anchor="middle">0</text>
<text x="635.5" y="564.8" text-anchor="middle">50</text>
<text x="696.1" y="564.8" text-anchor="middle">100</text>
<text x="391.9" y="342.4" text-anchor="end">100</text>
<text x="391.9" y="390.6" text-anchor="end">50</text>
<text x="391.9" y="438.7" text-anchor="end">0</text>
<text x="391.9" y="486.8" text-anchor="end">−50</text>
<text x="391.9" y="535" text-anchor="end">−100</text>
<text x="551.6" y="571.8" text-anchor="middle">Dim 1</text>
<text transform="translate(379.3 431.8) rotate(-90)" text-anchor="middle">Dim 2</text>
</g>
<rect x="642.1" y="310.1" width="64.1" height="18.8" rx="1" fill="#888" fill-opacity="0.55"/>
<rect x="641.2" y="309.2" width="64.1" height="18.8" rx="1" fill="#fff" stroke="#ccc" stroke-width="0.5"/>
<circle cx="649.7" cy="314.6" r="0.75" fill="#4791b4"/><circle cx="649.7" cy="323" r="0.75" fill="#ee4a3e"/>
<text x="659.6" y="316.1" font-size="5.68" fill="#111" stroke="#111" stroke-width="0.1">Visual features</text>
<text x="659.6" y="324.5" font-size="5.68" fill="#111" stroke="#111" stroke-width="0.1">Text features</text>
<text x="550.3" y="594.2" font-family="'Liberation Serif',serif" font-size="15" text-anchor="middle" fill="#111" textLength="57.1" lengthAdjust="spacingAndGlyphs">Qwen3.5</text>
<rect x="736.9" y="302.8" width="342.5" height="273.5" fill="#fff" stroke="#ececec" stroke-width="1"/>
<path d="M767.3 306.3V557M806.5 306.3V557M845.7 306.3V557M884.9 306.3V557M924.1 306.3V557M963.3 306.3V557M1002.5 306.3V557M1041.7 306.3V557M761 311.4H1076.4M761 342.7H1076.4M761 373.9H1076.4M761 405.2H1076.4M761 436.5H1076.4M761 467.8H1076.4M761 499.1H1076.4M761 530.3H1076.4" stroke="#e4e4e4" stroke-width="0.5" stroke-dasharray="0.8 0.8" fill="none"/>
<g clip-path="url(#cp3)" fill="none" stroke-linecap="round">
<path d="M783 430h0m5.5-31h0m11.6 74.7h0m.1-8.7h0m.8-41h0m.6-28h0m.4 61.8h0m0-.2h0m.3-32.5h0m.2 4.8h0m.2-32.9h0m1.4 19.7h0m0-25.6h0m1.2 48.8h0m1.3 24.4h0m.7-88.6h0m0 37.7h0m.8 45.3h0m0-75.5h0m.5 51.6h0m.7-46.2h0m.2-15.6h0m.5 .1h0m0 43.3h0m2.4-26.3h0m.4 28.5h0m.4 40h0m.1-87h0m.5 53.5h0m0-27.3h0m1 70.8h0m1.4-71.9h0m.1 22.8h0m.1-40.4h0m0 83h0m.3-34.3h0m.4-40.7h0m.1 45.3h0m.5-25.5h0m.1-47h0m.5 35.7h0m.1 102.2h0m.9-110.6h0m.4 42.9h0m.1-12.3h0m.2 26.8h0m.7 37.7h0m.1-75.6h0m.5-42.6h0m.1 121.6h0m0-64.1h0m.6 .8h0m.1-19.3h0m.4 61.5h0m.6-64.5h0m.1-2.1h0m.9 27.4h0m.3 65.2h0m1-99.3h0m.3 3.9h0m0 25.4h0m.1-6.7h0m.3-27.8h0m0 56.4h0m.9-82.1h0m.2-2.8h0m1.2 46.1h0m.5 36h0m.1-3.9h0m.1-54.4h0m.6 10.2h0m.3 5.1h0m.2 17.3h0m1.3 55.7h0m.2-90.6h0m0 121.7h0m.9-7.9h0m.1-75.8h0m0-22.7h0m.4 114.8h0m0-92.3h0m.3-55h0m1.6 32.6h0m.5-7.2h0m0 116.1h0m.2-136.8h0m.2 17.6h0m.9 110.8h0m.1-4.8h0m0-38.4h0m1 64h0m2-3.3h0m.4-100.3h0m.2-33.4h0m.3 127.6h0m.4-65.6h0m.1-85.7h0m.3 .3h0m.5 46.8h0m.3-11.1h0m.5-30.3h0m.2 132.2h0m.2-75.9h0m0-23.4h0m.5 60.9h0m.2-95.4h0m.4 79.3h0m.2-28.2h0m.2 5.9h0m.3 14.8h0m0-17.8h0m.2 99.1h0m2-113.9h0m.2 62.7h0m0 10.1h0m.2-61.3h0m1.3 34.4h0m.2-20.8h0m.3-55.1h0m.1 7.2h0m1.8 132.9h0m1.4-138.8h0m0 39.9h0m0 14.9h0m.1-12.7h0m.1 99h0m.1-63.6h0m1-75.3h0m.5 4.8h0m.1 30.8h0m0 62.5h0m.4-71.8h0m.2 15.3h0m0-22.7h0m.4 31.8h0m.3 5.3h0m1 4.7h0m.2 19.1h0m.2-31h0m.3 22.8h0m0-23.8h0m1.1-22.3h0m.1 34.1h0m.1-59.5h0m0 55.9h0m.2-51.2h0m.9 32.8h0m.3-1.8h0m0-23.3h0m0 55.7h0m.4 35.6h0m0-34.1h0m.1 50.3h0m.9-57.1h0m.2 56h0m.3-103.9h0m1.2 73.2h0m.9-10.1h0m.5 34.8h0m.7-128.2h0m1.4 58.5h0m.3-34h0m.7-37.6h0m.6 50.5h0m.2 70.1h0m.1 67.1h0m.8-82.1h0m.1-67.6h0m.6 29.2h0m.1 85.8h0m.3 5.2h0m.1-60.1h0m1.3 65.8h0m.5-74.5h0m.1 58.8h0m1.1-120h0m.4 103.7h0m.4-58.8h0m.8 63.8h0m1.5-78.7h0m.3 57.3h0m.3-78.9h0m.6 67.7h0m.2-101.6h0m.2 59.3h0m.3 8.4h0m0 52.1h0m.4-97.2h0m.6 102.7h0m0 14.9h0m2.1-33.6h0m0 49.5h0m.6 7.3h0m1.8-81.2h0m.3 61.4h0m.6 15.8h0m1.1 26.4h0m.3-205h0m.2 4.2h0m.2 73.9h0m0-62.3h0m2.4 196.4h0m0-27.8h0m.9-51.2h0m.8-129.6h0m.1 23.4h0m.6 15.1h0m.5-19.1h0m.3 137.4h0m1.1 10.6h0m.2-97.7h0m.4 98.9h0m.5-127.2h0m.7 167.8h0m.3-213.3h0m1.2 .6h0m1.2 182.4h0m.3-139.1h0m.1-6.9h0m.7-8.5h0m.6 48.8h0m.3-13.9h0m.4-63h0m.7 30.1h0m.4 12.2h0m0-27.8h0m1 28.4h0m1.7 171.6h0m.6-7.8h0m.3-166.6h0m.1 106.7h0m.7-67.1h0m1.4-34.6h0m.6 13.8h0m0 5.4h0m1-9.2h0m0-2.4h0m.5-38.7h0m.3 19.7h0m0-41.3h0m.4 214.7h0m.8-34.4h0m.1 31.2h0m.1-167.3h0m0 23h0m1.2 127.8h0m1.1-115.7h0m.4-5.2h0m.1-39.5h0m.4 167.4h0m.4-180.5h0m.7 67.1h0m0 95.5h0m.2-184.5h0m.5 33.7h0m0-13.6h0m.5 158.7h0m1-146.3h0m.2-28.8h0m.3 163.1h0m0-101.6h0m.3 11.2h0m2.1-59.2h0m.3 171.7h0m.5-15.2h0m.3 30.1h0m1-5.7h0m0-19h0m.2 43.6h0m0-174h0m.7 181.8h0m.2-178.1h0m1.4-16.9h0m1.5 173.7h0m1-165.8h0m.5-27.7h0m.7 40.4h0m.6 22.8h0m.1 117.5h0m.3-180.6h0m.3 69.3h0m.9-43.1h0m.3 9.9h0m0-8.8h0m.7-7.2h0m.8 3.1h0m1.3 23.4h0m.4 144.8h0m1.3 10.1h0m1.6-142.2h0m2.6 5.3h0m.4-79h0m.8 39.2h0m.4 170.2h0m0-180.6h0m0 188.9h0m.2-.1h0m.7-194.7h0m.1 47h0m.2 125.3h0m.1-131.6h0m.2 161.3h0m1-20.2h0m.3-183h0m.3 56.7h0m.2-58.3h0m1.3 13.3h0m.2-23h0m.2 12.7h0m1.5 171.5h0m.1-188.4h0m.6 19.6h0m.5 181h0m.8-41.8h0m.2-163.3h0m.9 75.6h0m.7-22.2h0m.1 23.2h0m1 116.4h0m.2 2.1h0m.1-183.4h0m.6 196.2h0m1.9-204.6h0m1.4 87.4h0m.7 100.2h0m0-103.3h0m.2-22.9h0m.2 107.9h0m.3-140.3h0m1.2 135.8h0m1.9 23.9h0m1.2 30.6h0m1.1-168.4h0m.2 164.8h0m.4-163h0m1 118.7h0m.8 29.1h0m.9-43.5h0m.4-127.6h0m1.6 17.1h0m.7-34.9h0m1.2 173.3h0m2.3-25.2h0m.8-134.6h0m1.3-16.5h0m.7 65.7h0m.9-13.2h0m.5 103.8h0m.2 30.8h0m.2-110.5h0m.9-1h0m.2-24.6h0m.1 144.5h0m.3-124.5h0m.3-43.6h0m.7 8.4h0m.2 147.5h0m.5-23.3h0m1.5 23.3h0m1-154.3h0m.1 159.7h0m.1-39.5h0m.4 21.2h0m.5-15.8h0m0-77.4h0m.4 74.2h0m.3 28.1h0m.1-127.8h0m.7 123.3h0m.8-172.3h0m.6 161h0m1.2-29.5h0m.6-77.6h0m.1-19h0m.4 33.6h0m.6-68.1h0m.3 36.5h0m.2-33h0m1.1 47.7h0m.9-31.6h0m.4 102.9h0m0-25.9h0m.4-77.4h0m0 51.9h0m.1-40h0m.3-24.7h0m.6 57.1h0m.3 12h0m.2-39.7h0m.2 53.3h0m.3 72.2h0m0 3.5h0m.8-115.8h0m.2 1.6h0m.5 118.2h0m.3-50.1h0m1.5 43.7h0m.2-152.5h0m0 89.2h0m1.5-52h0m.4 58.8h0m.1-95.3h0m.3 6.3h0m.3 118.3h0m.5 1.7h0m1.5-41.4h0m2.7 86.9h0m.1-34.6h0m.7-42.4h0m.7-23h0m.5-29.9h0m1.4 47.7h0m.3 27.2h0m.5-15.9h0m1.5-24.2h0m.1 31.5h0m.1-53.3h0m1.3-39.7h0m.2 140.2h0m.8-42.6h0m2.6-38.9h0m.8 59.4h0m.7-31.3h0m1.3 41.8h0m.5-95.9h0m.6-19.9h0m.3 17.1h0m1.1-24.4h0m0 130.5h0m.4-68.2h0m2.7 37.4h0m.2-74.1h0m.2 15.4h0m.2 64.5h0m2.3 16.2h0m1.7-103.9h0m.5 24h0m.4 73.4h0m.1-2.3h0m.1-103h0m.7 66.9h0m.9 48.7h0m.4-102.2h0m1.4 8.5h0m.2 76h0m.8-37.2h0m.4-56.1h0m.7 82.6h0m.1-81.2h0m1.2 47.8h0m2.5 43.9h0m.3-18.9h0m1.7 1.8h0m.3-45.9h0m1.5-4.3h0m1.2 5.8h0m0 2.2h0m1.1-12.1h0m.4 68.2h0m1.5-62.6h0m1.6 57.7h0m.8-10.9h0m2.5-54.6h0m3.2 50.4h0m0-38.9h0m.5 17.3h0m1.6 13.7h0" stroke="#fff" stroke-width="2.7" stroke-opacity="1.0"/>
<path d="M783 430h0m5.5-31h0m11.6 74.7h0m.1-8.7h0m.8-41h0m.6-28h0m.4 61.8h0m0-.2h0m.3-32.5h0m.2 4.8h0m.2-32.9h0m1.4 19.7h0m0-25.6h0m1.2 48.8h0m1.3 24.4h0m.7-88.6h0m0 37.7h0m.8 45.3h0m0-75.5h0m.5 51.6h0m.7-46.2h0m.2-15.6h0m.5 .1h0m0 43.3h0m2.4-26.3h0m.4 28.5h0m.4 40h0m.1-87h0m.5 53.5h0m0-27.3h0m1 70.8h0m1.4-71.9h0m.1 22.8h0m.1-40.4h0m0 83h0m.3-34.3h0m.4-40.7h0m.1 45.3h0m.5-25.5h0m.1-47h0m.5 35.7h0m.1 102.2h0m.9-110.6h0m.4 42.9h0m.1-12.3h0m.2 26.8h0m.7 37.7h0m.1-75.6h0m.5-42.6h0m.1 121.6h0m0-64.1h0m.6 .8h0m.1-19.3h0m.4 61.5h0m.6-64.5h0m.1-2.1h0m.9 27.4h0m.3 65.2h0m1-99.3h0m.3 3.9h0m0 25.4h0m.1-6.7h0m.3-27.8h0m0 56.4h0m.9-82.1h0m.2-2.8h0m1.2 46.1h0m.5 36h0m.1-3.9h0m.1-54.4h0m.6 10.2h0m.3 5.1h0m.2 17.3h0m1.3 55.7h0m.2-90.6h0m0 121.7h0m.9-7.9h0m.1-75.8h0m0-22.7h0m.4 114.8h0m0-92.3h0m.3-55h0m1.6 32.6h0m.5-7.2h0m0 116.1h0m.2-136.8h0m.2 17.6h0m.9 110.8h0m.1-4.8h0m0-38.4h0m1 64h0m2-3.3h0m.4-100.3h0m.2-33.4h0m.3 127.6h0m.4-65.6h0m.1-85.7h0m.3 .3h0m.5 46.8h0m.3-11.1h0m.5-30.3h0m.2 132.2h0m.2-75.9h0m0-23.4h0m.5 60.9h0m.2-95.4h0m.4 79.3h0m.2-28.2h0m.2 5.9h0m.3 14.8h0m0-17.8h0m.2 99.1h0m2-113.9h0m.2 62.7h0m0 10.1h0m.2-61.3h0m1.3 34.4h0m.2-20.8h0m.3-55.1h0m.1 7.2h0m1.8 132.9h0m1.4-138.8h0m0 39.9h0m0 14.9h0m.1-12.7h0m.1 99h0m.1-63.6h0m1-75.3h0m.5 4.8h0m.1 30.8h0m0 62.5h0m.4-71.8h0m.2 15.3h0m0-22.7h0m.4 31.8h0m.3 5.3h0m1 4.7h0m.2 19.1h0m.2-31h0m.3 22.8h0m0-23.8h0m1.1-22.3h0m.1 34.1h0m.1-59.5h0m0 55.9h0m.2-51.2h0m.9 32.8h0m.3-1.8h0m0-23.3h0m0 55.7h0m.4 35.6h0m0-34.1h0m.1 50.3h0m.9-57.1h0m.2 56h0m.3-103.9h0m1.2 73.2h0m.9-10.1h0m.5 34.8h0m.7-128.2h0m1.4 58.5h0m.3-34h0m.7-37.6h0m.6 50.5h0m.2 70.1h0m.1 67.1h0m.8-82.1h0m.1-67.6h0m.6 29.2h0m.1 85.8h0m.3 5.2h0m.1-60.1h0m1.3 65.8h0m.5-74.5h0m.1 58.8h0m1.1-120h0m.4 103.7h0m.4-58.8h0m.8 63.8h0m1.5-78.7h0m.3 57.3h0m.3-78.9h0m.6 67.7h0m.2-101.6h0m.2 59.3h0m.3 8.4h0m0 52.1h0m.4-97.2h0m.6 102.7h0m0 14.9h0m2.1-33.6h0m0 49.5h0m.6 7.3h0m1.8-81.2h0m.3 61.4h0m.6 15.8h0m1.1 26.4h0m.3-205h0m.2 4.2h0m.2 73.9h0m0-62.3h0m2.4 196.4h0m0-27.8h0m.9-51.2h0m.8-129.6h0m.1 23.4h0m.6 15.1h0m.5-19.1h0m.3 137.4h0m1.1 10.6h0m.2-97.7h0m.4 98.9h0m.5-127.2h0m.7 167.8h0m.3-213.3h0m1.2 .6h0m1.2 182.4h0m.3-139.1h0m.1-6.9h0m.7-8.5h0m.6 48.8h0m.3-13.9h0m.4-63h0m.7 30.1h0m.4 12.2h0m0-27.8h0m1 28.4h0m1.7 171.6h0m.6-7.8h0m.3-166.6h0m.1 106.7h0m.7-67.1h0m1.4-34.6h0m.6 13.8h0m0 5.4h0m1-9.2h0m0-2.4h0m.5-38.7h0m.3 19.7h0m0-41.3h0m.4 214.7h0m.8-34.4h0m.1 31.2h0m.1-167.3h0m0 23h0m1.2 127.8h0m1.1-115.7h0m.4-5.2h0m.1-39.5h0m.4 167.4h0m.4-180.5h0m.7 67.1h0m0 95.5h0m.2-184.5h0m.5 33.7h0m0-13.6h0m.5 158.7h0m1-146.3h0m.2-28.8h0m.3 163.1h0m0-101.6h0m.3 11.2h0m2.1-59.2h0m.3 171.7h0m.5-15.2h0m.3 30.1h0m1-5.7h0m0-19h0m.2 43.6h0m0-174h0m.7 181.8h0m.2-178.1h0m1.4-16.9h0m1.5 173.7h0m1-165.8h0m.5-27.7h0m.7 40.4h0m.6 22.8h0m.1 117.5h0m.3-180.6h0m.3 69.3h0m.9-43.1h0m.3 9.9h0m0-8.8h0m.7-7.2h0m.8 3.1h0m1.3 23.4h0m.4 144.8h0m1.3 10.1h0m1.6-142.2h0m2.6 5.3h0m.4-79h0m.8 39.2h0m.4 170.2h0m0-180.6h0m0 188.9h0m.2-.1h0m.7-194.7h0m.1 47h0m.2 125.3h0m.1-131.6h0m.2 161.3h0m1-20.2h0m.3-183h0m.3 56.7h0m.2-58.3h0m1.3 13.3h0m.2-23h0m.2 12.7h0m1.5 171.5h0m.1-188.4h0m.6 19.6h0m.5 181h0m.8-41.8h0m.2-163.3h0m.9 75.6h0m.7-22.2h0m.1 23.2h0m1 116.4h0m.2 2.1h0m.1-183.4h0m.6 196.2h0m1.9-204.6h0m1.4 87.4h0m.7 100.2h0m0-103.3h0m.2-22.9h0m.2 107.9h0m.3-140.3h0m1.2 135.8h0m1.9 23.9h0m1.2 30.6h0m1.1-168.4h0m.2 164.8h0m.4-163h0m1 118.7h0m.8 29.1h0m.9-43.5h0m.4-127.6h0m1.6 17.1h0m.7-34.9h0m1.2 173.3h0m2.3-25.2h0m.8-134.6h0m1.3-16.5h0m.7 65.7h0m.9-13.2h0m.5 103.8h0m.2 30.8h0m.2-110.5h0m.9-1h0m.2-24.6h0m.1 144.5h0m.3-124.5h0m.3-43.6h0m.7 8.4h0m.2 147.5h0m.5-23.3h0m1.5 23.3h0m1-154.3h0m.1 159.7h0m.1-39.5h0m.4 21.2h0m.5-15.8h0m0-77.4h0m.4 74.2h0m.3 28.1h0m.1-127.8h0m.7 123.3h0m.8-172.3h0m.6 161h0m1.2-29.5h0m.6-77.6h0m.1-19h0m.4 33.6h0m.6-68.1h0m.3 36.5h0m.2-33h0m1.1 47.7h0m.9-31.6h0m.4 102.9h0m0-25.9h0m.4-77.4h0m0 51.9h0m.1-40h0m.3-24.7h0m.6 57.1h0m.3 12h0m.2-39.7h0m.2 53.3h0m.3 72.2h0m0 3.5h0m.8-115.8h0m.2 1.6h0m.5 118.2h0m.3-50.1h0m1.5 43.7h0m.2-152.5h0m0 89.2h0m1.5-52h0m.4 58.8h0m.1-95.3h0m.3 6.3h0m.3 118.3h0m.5 1.7h0m1.5-41.4h0m2.7 86.9h0m.1-34.6h0m.7-42.4h0m.7-23h0m.5-29.9h0m1.4 47.7h0m.3 27.2h0m.5-15.9h0m1.5-24.2h0m.1 31.5h0m.1-53.3h0m1.3-39.7h0m.2 140.2h0m.8-42.6h0m2.6-38.9h0m.8 59.4h0m.7-31.3h0m1.3 41.8h0m.5-95.9h0m.6-19.9h0m.3 17.1h0m1.1-24.4h0m0 130.5h0m.4-68.2h0m2.7 37.4h0m.2-74.1h0m.2 15.4h0m.2 64.5h0m2.3 16.2h0m1.7-103.9h0m.5 24h0m.4 73.4h0m.1-2.3h0m.1-103h0m.7 66.9h0m.9 48.7h0m.4-102.2h0m1.4 8.5h0m.2 76h0m.8-37.2h0m.4-56.1h0m.7 82.6h0m.1-81.2h0m1.2 47.8h0m2.5 43.9h0m.3-18.9h0m1.7 1.8h0m.3-45.9h0m1.5-4.3h0m1.2 5.8h0m0 2.2h0m1.1-12.1h0m.4 68.2h0m1.5-62.6h0m1.6 57.7h0m.8-10.9h0m2.5-54.6h0m3.2 50.4h0m0-38.9h0m.5 17.3h0m1.6 13.7h0" stroke="#4791b4" stroke-width="2"/>
<path d="M788 417h0m1-3h0m10.4 64.7h0m.5-39.7h0m.2 26.3h0m.6-72.4h0m.9 26.9h0m.1 68h0m1.7-89.1h0m.1-17.7h0m.9 49.4h0m.5-8.9h0m.1-32h0m.3-2.2h0m.3 34.8h0m.3-42.5h0m.1 90.2h0m.1-65.2h0m.2 54.4h0m.9-62.2h0m.4 28.5h0m.3-34.2h0m.6 9.2h0m0 35.2h0m.9-16.2h0m0 58.1h0m.8-6.8h0m1.3-63.8h0m0-7.2h0m.1 31.6h0m.7-21.9h0m.2 16.6h0m0 37.6h0m0 12.5h0m.2-72.4h0m.5-3.8h0m.1-14.7h0m.4-9.9h0m.1 9.1h0m.7 9.8h0m.9 50.7h0m.1-24.7h0m1.6-16.8h0m.3 18.8h0m.5 70.7h0m3.5-76.8h0m.3 30h0m1.1-26.6h0m.2 13.4h0m.3-52.2h0m.5 19.6h0m.8 82.5h0m.5-100.9h0m.2 58.5h0m.1-1.2h0m0-35.7h0m.5 2.6h0m.2 4.1h0m.2 37.2h0m.7 25h0m.6-81.6h0m.1 115.4h0m.2-69.3h0m.2-43.3h0m0 62.9h0m.8-52.5h0m.2-2.4h0m1.1 57.2h0m.2-24.3h0m.5-53.8h0m1.8 47.9h0m0 60.2h0m0-87.6h0m.6-29h0m.2 13.9h0m1.1 49.8h0m.2-47.7h0m0 89.4h0m.2-53.2h0m.1-7.1h0m.9-36.3h0m.4 22.7h0m.2 55.6h0m2.1-46.2h0m1.3 1.8h0m.3-46.2h0m.4 45.8h0m.1-24.5h0m0-3.7h0m.1-9.2h0m.3 34.7h0m.1 85.6h0m.3-113.7h0m.4-9.9h0m.4-5.3h0m.5 1.1h0m.2 24.5h0m1.5 77.2h0m.2-26.6h0m.4 41.1h0m.6-89.9h0m0 65h0m.1-92.2h0m.4 108.2h0m.1-57.3h0m.2-45.8h0m0 61.6h0m.6 4.8h0m0 57.8h0m.9-111h0m.7 86h0m.1-58.7h0m1-40h0m.2 51.5h0m.3-16.5h0m.1 109.6h0m0-35.7h0m.4-111.5h0m.1 4.9h0m.3 7.4h0m.2 8.7h0m.4 58.8h0m.4-50.8h0m.4 12.7h0m.1 15h0m.2-46.2h0m0 19.4h0m0 120.4h0m.7-142.3h0m1.3 66.8h0m.1-11.7h0m.1-66.8h0m.2 143.7h0m.2-19.2h0m.2-70.2h0m.2 29.2h0m.1-72.1h0m.1 33.9h0m.2 33.8h0m1.2-83.2h0m.2 72h0m.5 44.5h0m1.1-103.9h0m.2 17.4h0m.4 95.2h0m1.8-129.9h0m.1 60.2h0m.3 93.8h0m.8-146.4h0m.5 48.8h0m.1-31.2h0m.2 55h0m.6-45.4h0m.4 85.6h0m.1-95h0m.5 69.8h0m.1-83.3h0m.1 152.2h0m.2-130.5h0m1.5 71.4h0m.3 5h0m.4 63.7h0m.1-99.9h0m.6-.3h0m.5-58.3h0m1.5 43.1h0m.2-42.1h0m.3 40.1h0m.6-8.1h0m.2-2.8h0m.4-20.5h0m.3 141.3h0m.4-87.2h0m0 94.7h0m.6-119.4h0m0 14.1h0m0-29.9h0m.6 114.9h0m.1-21.9h0m1.3-86.4h0m.5 93.7h0m.4 4.6h0m.5-105.2h0m0 60.9h0m.3-78.2h0m0 16.6h0m3.1 100.7h0m.1-124.4h0m0 78.6h0m.2 50.5h0m.2-116.9h0m.2-19.8h0m.4 68.5h0m.6 52.5h0m2.1-125.8h0m.6 136.4h0m.8 3.3h0m0-4.1h0m1.2 22.9h0m1.4-155.3h0m.1 1.3h0m.3 166.3h0m.1-141h0m.1-3.8h0m.3-58.9h0m.5 12.8h0m0 58.7h0m.8 86h0m.3-64.5h0m.1-15.2h0m.2-64.4h0m.7 42.3h0m.2 22.6h0m.5 88.5h0m.2-136.2h0m.3 44.3h0m.1 9.6h0m1.4-46.9h0m1.4 2.7h0m.1 31.6h0m.8 92h0m.2-145.6h0m1 190.3h0m.8-195.3h0m.8-20.2h0m1 159.2h0m.9-102.5h0m1.4 112.8h0m.3-123.7h0m.1 160.9h0m.4-204.5h0m.5 80.1h0m.1-48.5h0m.7 167.7h0m.3-1.4h0m.5-148.3h0m0-12.2h0m.2 142.4h0m.4-16.5h0m0-3.5h0m0-76h0m.5 87.6h0m.9-153.6h0m.5 12h0m1.2-11.4h0m3 38.5h0m.2 6h0m.1 156.5h0m0-12.2h0m.1-158.6h0m.2-20.7h0m.1-7h0m.2 10.7h0m.9 165.5h0m.7-20.9h0m.6 31.1h0m1-182.9h0m.4 50.7h0m.4 144.1h0m1-175.1h0m.2 141.4h0m.1-162.9h0m.5 15.8h0m.8 151.8h0m.5-138.2h0m0-23.4h0m.1 18.4h0m1.7-25.3h0m2.1 53.8h0m.2-34.7h0m.1-31.7h0m.7 21h0m.5 4.1h0m2.6-31.4h0m.1 160.5h0m.5-133.6h0m.2 39.4h0m.4 126.4h0m0-126h0m1.4-21.5h0m0 175.7h0m.2-162.5h0m.9-68.9h0m.6 189.5h0m.5 12.4h0m.9-153.2h0m.5 30.4h0m.8 150.4h0m1.3-59.7h0m.1-109.4h0m.3 .1h0m2.9 19.4h0m.4-49.5h0m.3 30.3h0m.1-26.8h0m.9 49.6h0m0-17h0m.1-15h0m.8 180.7h0m.7-231.9h0m.4 228.9h0m.2-47.8h0m1.7-112h0m.4-17.3h0m.1-26.8h0m0 56.5h0m1.5 107.6h0m.2 44.4h0m.9 .9h0m.1-172.5h0m.7-12.6h0m1.6 159h0m3.1-36.1h0m.1-134.3h0m.3 3.7h0m.1 133.8h0m.6-152.4h0m.8 160.8h0m.7-137.8h0m.1 171.2h0m1.2-175.9h0m.1 42.4h0m.4 134h0m1.1-195.1h0m1 152.5h0m.2-8.1h0m.4 37.3h0m1.6-152.3h0m.8 20h0m.6 101.1h0m.3-161.4h0m0 159.6h0m.1-143.4h0m.4 59.7h0m.2-27h0m.4-11h0m.2-13.5h0m.3-5.7h0m.7 161.7h0m.1-4.3h0m.3-148.2h0m.5 19.2h0m.2-24h0m.6 41.5h0m.9 148.9h0m.1-21.5h0m1.2-189.7h0m0 9.7h0m.4 36.5h0m.3 151.1h0m.1 2.4h0m2-11.8h0m.8-155.9h0m.1 133.5h0m0-144.4h0m.6 153.9h0m.2-126.8h0m.1-22.9h0m.5 135.5h0m.1 41.2h0m.5-18h0m.5-167.8h0m.2-1h0m1.4-14h0m.8 15.5h0m.4 48.7h0m1-44.2h0m0 50h0m1.1 15.6h0m.1-37.2h0m3.9 56.7h0m1.3 49.1h0m.3 7.1h0m.5-97.9h0m2.1 107.9h0m.2-123h0m.1 87.8h0m1.2-20.5h0m.3-71.4h0m.6 101.2h0m.3-91.5h0m.2 103.2h0m1.1-8.6h0m.1-143.7h0m1 162h0m.4 27.4h0m.3-184.3h0m.1 54.3h0m.5 90.3h0m.2-89.7h0m.6 111.1h0m.5 11.6h0m.1-72.7h0m.3-66.4h0m.3 106.5h0m.1-87.1h0m.6 69.6h0m.3-102.1h0m.8 30h0m1 91.2h0m0 1.1h0m.1-38h0m2.2 53.7h0m.6-93.5h0m.9 39.8h0m.4 15.5h0m1.5 15.1h0m.8 10.7h0m.5-34.2h0m.2 46.7h0m1.1-110.5h0m.2-7.3h0m.3 44.7h0m0 19.8h0m0 64.1h0m.8-51.8h0m1.7 20.2h0m1.1-85.1h0m.3-41.2h0m1.3 61.1h0m.1-14.7h0m1 78.5h0m1.1-111h0m.9 7.4h0m.1-15.4h0m1 125.4h0m.2-40h0m.1 17.8h0m.2-50.6h0m.1 77.5h0m.8-101.9h0m1 50h0m.4-35.2h0m1 24.4h0m.2-25.3h0m.6 34.2h0m.9 22.9h0m0-9.4h0m3.1-9.6h0m0-55.2h0m.3 39h0m1.5 24.3h0m.1-46.4h0m.7 11.7h0m.1 17.2h0m.6 5.3h0m.3-16.7h0m1.1 6.4h0m1.1 48.3h0m1.5-37.6h0m.4-20.1h0m1.3 30.4h0m1-41.7h0m2.4 36.3h0m1.1-3.8h0m.8-11.8h0m5.6 38.9h0m.5-42.3h0m.2-34.4h0m1 59.6h0m1.2 0h0m2.7 12.3h0m1.8-28.4h0m.6 8.7h0m.3-45.3h0m7.6 51.6h0m1.8-25.9h0" stroke="#fff" stroke-width="2.7" stroke-opacity="1.0"/>
<path d="M788 417h0m1-3h0m10.4 64.7h0m.5-39.7h0m.2 26.3h0m.6-72.4h0m.9 26.9h0m.1 68h0m1.7-89.1h0m.1-17.7h0m.9 49.4h0m.5-8.9h0m.1-32h0m.3-2.2h0m.3 34.8h0m.3-42.5h0m.1 90.2h0m.1-65.2h0m.2 54.4h0m.9-62.2h0m.4 28.5h0m.3-34.2h0m.6 9.2h0m0 35.2h0m.9-16.2h0m0 58.1h0m.8-6.8h0m1.3-63.8h0m0-7.2h0m.1 31.6h0m.7-21.9h0m.2 16.6h0m0 37.6h0m0 12.5h0m.2-72.4h0m.5-3.8h0m.1-14.7h0m.4-9.9h0m.1 9.1h0m.7 9.8h0m.9 50.7h0m.1-24.7h0m1.6-16.8h0m.3 18.8h0m.5 70.7h0m3.5-76.8h0m.3 30h0m1.1-26.6h0m.2 13.4h0m.3-52.2h0m.5 19.6h0m.8 82.5h0m.5-100.9h0m.2 58.5h0m.1-1.2h0m0-35.7h0m.5 2.6h0m.2 4.1h0m.2 37.2h0m.7 25h0m.6-81.6h0m.1 115.4h0m.2-69.3h0m.2-43.3h0m0 62.9h0m.8-52.5h0m.2-2.4h0m1.1 57.2h0m.2-24.3h0m.5-53.8h0m1.8 47.9h0m0 60.2h0m0-87.6h0m.6-29h0m.2 13.9h0m1.1 49.8h0m.2-47.7h0m0 89.4h0m.2-53.2h0m.1-7.1h0m.9-36.3h0m.4 22.7h0m.2 55.6h0m2.1-46.2h0m1.3 1.8h0m.3-46.2h0m.4 45.8h0m.1-24.5h0m0-3.7h0m.1-9.2h0m.3 34.7h0m.1 85.6h0m.3-113.7h0m.4-9.9h0m.4-5.3h0m.5 1.1h0m.2 24.5h0m1.5 77.2h0m.2-26.6h0m.4 41.1h0m.6-89.9h0m0 65h0m.1-92.2h0m.4 108.2h0m.1-57.3h0m.2-45.8h0m0 61.6h0m.6 4.8h0m0 57.8h0m.9-111h0m.7 86h0m.1-58.7h0m1-40h0m.2 51.5h0m.3-16.5h0m.1 109.6h0m0-35.7h0m.4-111.5h0m.1 4.9h0m.3 7.4h0m.2 8.7h0m.4 58.8h0m.4-50.8h0m.4 12.7h0m.1 15h0m.2-46.2h0m0 19.4h0m0 120.4h0m.7-142.3h0m1.3 66.8h0m.1-11.7h0m.1-66.8h0m.2 143.7h0m.2-19.2h0m.2-70.2h0m.2 29.2h0m.1-72.1h0m.1 33.9h0m.2 33.8h0m1.2-83.2h0m.2 72h0m.5 44.5h0m1.1-103.9h0m.2 17.4h0m.4 95.2h0m1.8-129.9h0m.1 60.2h0m.3 93.8h0m.8-146.4h0m.5 48.8h0m.1-31.2h0m.2 55h0m.6-45.4h0m.4 85.6h0m.1-95h0m.5 69.8h0m.1-83.3h0m.1 152.2h0m.2-130.5h0m1.5 71.4h0m.3 5h0m.4 63.7h0m.1-99.9h0m.6-.3h0m.5-58.3h0m1.5 43.1h0m.2-42.1h0m.3 40.1h0m.6-8.1h0m.2-2.8h0m.4-20.5h0m.3 141.3h0m.4-87.2h0m0 94.7h0m.6-119.4h0m0 14.1h0m0-29.9h0m.6 114.9h0m.1-21.9h0m1.3-86.4h0m.5 93.7h0m.4 4.6h0m.5-105.2h0m0 60.9h0m.3-78.2h0m0 16.6h0m3.1 100.7h0m.1-124.4h0m0 78.6h0m.2 50.5h0m.2-116.9h0m.2-19.8h0m.4 68.5h0m.6 52.5h0m2.1-125.8h0m.6 136.4h0m.8 3.3h0m0-4.1h0m1.2 22.9h0m1.4-155.3h0m.1 1.3h0m.3 166.3h0m.1-141h0m.1-3.8h0m.3-58.9h0m.5 12.8h0m0 58.7h0m.8 86h0m.3-64.5h0m.1-15.2h0m.2-64.4h0m.7 42.3h0m.2 22.6h0m.5 88.5h0m.2-136.2h0m.3 44.3h0m.1 9.6h0m1.4-46.9h0m1.4 2.7h0m.1 31.6h0m.8 92h0m.2-145.6h0m1 190.3h0m.8-195.3h0m.8-20.2h0m1 159.2h0m.9-102.5h0m1.4 112.8h0m.3-123.7h0m.1 160.9h0m.4-204.5h0m.5 80.1h0m.1-48.5h0m.7 167.7h0m.3-1.4h0m.5-148.3h0m0-12.2h0m.2 142.4h0m.4-16.5h0m0-3.5h0m0-76h0m.5 87.6h0m.9-153.6h0m.5 12h0m1.2-11.4h0m3 38.5h0m.2 6h0m.1 156.5h0m0-12.2h0m.1-158.6h0m.2-20.7h0m.1-7h0m.2 10.7h0m.9 165.5h0m.7-20.9h0m.6 31.1h0m1-182.9h0m.4 50.7h0m.4 144.1h0m1-175.1h0m.2 141.4h0m.1-162.9h0m.5 15.8h0m.8 151.8h0m.5-138.2h0m0-23.4h0m.1 18.4h0m1.7-25.3h0m2.1 53.8h0m.2-34.7h0m.1-31.7h0m.7 21h0m.5 4.1h0m2.6-31.4h0m.1 160.5h0m.5-133.6h0m.2 39.4h0m.4 126.4h0m0-126h0m1.4-21.5h0m0 175.7h0m.2-162.5h0m.9-68.9h0m.6 189.5h0m.5 12.4h0m.9-153.2h0m.5 30.4h0m.8 150.4h0m1.3-59.7h0m.1-109.4h0m.3 .1h0m2.9 19.4h0m.4-49.5h0m.3 30.3h0m.1-26.8h0m.9 49.6h0m0-17h0m.1-15h0m.8 180.7h0m.7-231.9h0m.4 228.9h0m.2-47.8h0m1.7-112h0m.4-17.3h0m.1-26.8h0m0 56.5h0m1.5 107.6h0m.2 44.4h0m.9 .9h0m.1-172.5h0m.7-12.6h0m1.6 159h0m3.1-36.1h0m.1-134.3h0m.3 3.7h0m.1 133.8h0m.6-152.4h0m.8 160.8h0m.7-137.8h0m.1 171.2h0m1.2-175.9h0m.1 42.4h0m.4 134h0m1.1-195.1h0m1 152.5h0m.2-8.1h0m.4 37.3h0m1.6-152.3h0m.8 20h0m.6 101.1h0m.3-161.4h0m0 159.6h0m.1-143.4h0m.4 59.7h0m.2-27h0m.4-11h0m.2-13.5h0m.3-5.7h0m.7 161.7h0m.1-4.3h0m.3-148.2h0m.5 19.2h0m.2-24h0m.6 41.5h0m.9 148.9h0m.1-21.5h0m1.2-189.7h0m0 9.7h0m.4 36.5h0m.3 151.1h0m.1 2.4h0m2-11.8h0m.8-155.9h0m.1 133.5h0m0-144.4h0m.6 153.9h0m.2-126.8h0m.1-22.9h0m.5 135.5h0m.1 41.2h0m.5-18h0m.5-167.8h0m.2-1h0m1.4-14h0m.8 15.5h0m.4 48.7h0m1-44.2h0m0 50h0m1.1 15.6h0m.1-37.2h0m3.9 56.7h0m1.3 49.1h0m.3 7.1h0m.5-97.9h0m2.1 107.9h0m.2-123h0m.1 87.8h0m1.2-20.5h0m.3-71.4h0m.6 101.2h0m.3-91.5h0m.2 103.2h0m1.1-8.6h0m.1-143.7h0m1 162h0m.4 27.4h0m.3-184.3h0m.1 54.3h0m.5 90.3h0m.2-89.7h0m.6 111.1h0m.5 11.6h0m.1-72.7h0m.3-66.4h0m.3 106.5h0m.1-87.1h0m.6 69.6h0m.3-102.1h0m.8 30h0m1 91.2h0m0 1.1h0m.1-38h0m2.2 53.7h0m.6-93.5h0m.9 39.8h0m.4 15.5h0m1.5 15.1h0m.8 10.7h0m.5-34.2h0m.2 46.7h0m1.1-110.5h0m.2-7.3h0m.3 44.7h0m0 19.8h0m0 64.1h0m.8-51.8h0m1.7 20.2h0m1.1-85.1h0m.3-41.2h0m1.3 61.1h0m.1-14.7h0m1 78.5h0m1.1-111h0m.9 7.4h0m.1-15.4h0m1 125.4h0m.2-40h0m.1 17.8h0m.2-50.6h0m.1 77.5h0m.8-101.9h0m1 50h0m.4-35.2h0m1 24.4h0m.2-25.3h0m.6 34.2h0m.9 22.9h0m0-9.4h0m3.1-9.6h0m0-55.2h0m.3 39h0m1.5 24.3h0m.1-46.4h0m.7 11.7h0m.1 17.2h0m.6 5.3h0m.3-16.7h0m1.1 6.4h0m1.1 48.3h0m1.5-37.6h0m.4-20.1h0m1.3 30.4h0m1-41.7h0m2.4 36.3h0m1.1-3.8h0m.8-11.8h0m5.6 38.9h0m.5-42.3h0m.2-34.4h0m1 59.6h0m1.2 0h0m2.7 12.3h0m1.8-28.4h0m.6 8.7h0m.3-45.3h0m7.6 51.6h0m1.8-25.9h0" stroke="#4791b4" stroke-width="2"/>
<path d="M785 426h0m14.9 52.2h0m1.5-90.8h0m.1 58.8h0m.3-44h0m.7 47.4h0m.8 5.6h0m2-52.4h0m1.1-7.6h0m.2-19.6h0m.5 32.6h0m0 42.8h0m1.4-22h0m.4-22.8h0m.2 64.9h0m.5-50.6h0m.4 20.3h0m.2-25.6h0m.2-1.7h0m.3 26.5h0m.5-58.5h0m.3 12.2h0m.8 28.1h0m0 74h0m1-43.9h0m.4-69h0m.2 4.4h0m.7 96.9h0m.1-117.5h0m.7 55.5h0m.2 5.6h0m.4-45.4h0m.2 13.1h0m.7-4.7h0m.5 81.5h0m.7-18.2h0m.2-48.6h0m.2-24.6h0m.1 29h0m.2-37.7h0m0 24.4h0m.1-21.8h0m.1 69.9h0m.9-81h0m.1 20.6h0m.2 96h0m.2-83.6h0m.4 63.1h0m1.1-44.7h0m.7-2.4h0m.1-45.9h0m.1 78.6h0m.1-61h0m.1 111.6h0m.1-5h0m.5-16.8h0m.1 26.1h0m.2-71.6h0m.1-8.9h0m.9 34h0m.5-75.5h0m.5 23.4h0m.3 43.5h0m.6-71.3h0m.1-16.3h0m.5 43.9h0m.7-2.7h0m.5 88.8h0m1.3-73.3h0m.5 6.7h0m.2-6.4h0m.2-18.1h0m0-16.8h0m.9 19.2h0m.3-15h0m0 24.9h0m.4-19.7h0m0 67.3h0m.5-72.8h0m.4-3.1h0m1.2 32.8h0m.5-17.5h0m0 67.9h0m.5-86.8h0m0 32.5h0m.3 68.3h0m0-67.3h0m.2 74.5h0m.4-110.7h0m.1 72.6h0m.3-54.2h0m.1-25.7h0m.4 90h0m.5-40.1h0m.9-18.7h0m.9 38h0m.2 7.9h0m.1-80.3h0m.4-4.6h0m.1 22.2h0m.4 42.3h0m.5 9.5h0m0-70h0m0-4.8h0m0 37.2h0m1.9 123.8h0m.3-133h0m.7 99.3h0m.2-89h0m.4 117.9h0m.1-123.1h0m.1 39.3h0m.3 81.6h0m.3-127.8h0m.1 45.9h0m.3 58.2h0m.3-7.8h0m.4-84.1h0m1 32.1h0m.6 13.8h0m.3-81.6h0m1.1 47.7h0m.2-.7h0m0 22.9h0m.5 81.8h0m0-147.6h0m.1 38.1h0m.2 26.6h0m.3-11.1h0m.1 14.1h0m.4-5.2h0m.5-37.6h0m.2 94.8h0m.4-68.4h0m.2-9.6h0m.2-37.3h0m.5 108.3h0m1.1-104.3h0m.3 45.8h0m.1 17h0m.4-4.5h0m.1-20.5h0m.1 114.2h0m.2-84.3h0m.5-38.8h0m.2-30.4h0m.3 22h0m.6-7.4h0m.1-11.3h0m.1 147.6h0m.3-110.9h0m.9-41.8h0m.5 25.6h0m.4 40.3h0m0-4.8h0m.2-58.6h0m.2 91.5h0m.3-65.3h0m.9 69.6h0m.5 37.7h0m.4-135.4h0m.7 35h0m.1 107.1h0m.9-136.8h0m.1-3.2h0m.4 62.3h0m0-36.6h0m0 74.7h0m1.5 4.3h0m1.3 26.2h0m0 21.4h0m0-6.4h0m.2-77.5h0m0-53.2h0m.1 9.3h0m.5 61.3h0m0-1.1h0m.4-73.4h0m.4 129.8h0m.1-94.1h0m.6-40.4h0m.3 75.7h0m.2 .9h0m.1-25.3h0m.1 29.5h0m.1-10h0m.6 77.5h0m.4-91.1h0m.1-28.3h0m1.6 13.5h0m.3-34.7h0m.1-7.4h0m1.3 7h0m.4 13.3h0m.5 43.1h0m3-31.8h0m0 3.2h0m.1 8.4h0m.1-47.3h0m.9 94.7h0m.5-40.7h0m.3-47.2h0m.7-1.2h0m0 21h0m.3-63.3h0m.4 85h0m.2-79.6h0m.3 .9h0m.1 52.5h0m.1-58.5h0m0 66.2h0m.7 8.7h0m.5-20.6h0m.1 120.9h0m0-121.5h0m.1 127.8h0m.2-39.3h0m.7-116.7h0m.2 29.1h0m1.2-3.3h0m.7-50.3h0m1.1 9.8h0m1.6 69.8h0m0 59.1h0m.9 23.5h0m1-23.3h0m1.4-154.2h0m.6 67.3h0m2.2 90.2h0m.5-128.3h0m.4-7.8h0m.2 50.9h0m.3 116.3h0m.2-10.9h0m.5-86.7h0m.2 75.6h0m0-99.6h0m1 149.8h0m.2-15.3h0m.1-152.3h0m.2-16.4h0m.2-9.4h0m.6 183.3h0m1.5-199.5h0m.5 173.9h0m.6-160.3h0m.6 27.7h0m.2 2.3h0m.2 137h0m.2-39h0m.3 53.2h0m.6-188.5h0m.9-15.5h0m.1 17h0m1.2 33.4h0m3.7 28.7h0m0 135.7h0m1.1-200.4h0m.2 5.6h0m.5 22.8h0m.2 119.9h0m.5-126.4h0m1 16h0m1-9.2h0m.7 150.6h0m.5-175.5h0m.2-10.2h0m.3 48.8h0m.1 104.6h0m.5-163.6h0m1 55.7h0m.2 134.5h0m.2-168.1h0m0 158.7h0m1-126.9h0m.1 172h0m1.5-56.2h0m.6-143.6h0m.5 57.7h0m.4 81.8h0m.5-143.6h0m.2 24.8h0m.3-2.7h0m.1 21.1h0m1.4 12.2h0m1-49h0m.3-3.6h0m0 22.8h0m1.3 120.3h0m0-158h0m1 72.7h0m.1-62.3h0m0 10.3h0m.4 22.4h0m.9 136.2h0m.1-110.3h0m1.2 98.3h0m.7-111.4h0m.4-43.7h0m.8 150.1h0m1.3 41.2h0m.5-166.7h0m.6 21.9h0m.2-41.5h0m0 152.3h0m0-177.3h0m.3 189.5h0m.4-157.6h0m1.4 136.2h0m.2-139.5h0m.9 11h0m0-33.9h0m.4-1.8h0m2 175.6h0m.6-143h0m1.8 129.3h0m1.3 54.2h0m.4-162.5h0m.4-.7h0m1.7 137.7h0m.3-197.7h0m.4 194.9h0m.2 14.4h0m.2 18.6h0m.2-174.2h0m.3-25.5h0m.2 137.8h0m3.4-135.4h0m.5 44.7h0m1.2-8.2h0m.6 151.1h0m.4-176.4h0m.4 17.2h0m.2-29.6h0m.4 17.1h0m.3-35.7h0m.9 19.7h0m.2-11.3h0m.1 155.5h0m.5-141.6h0m.1 185.2h0m.4-12.7h0m0-35.7h0m.5 49.8h0m.5-212.5h0m.1 42h0m.8 150.9h0m.2-179.7h0m.1 22.6h0m.4 167.6h0m0-181h0m.7 196.7h0m.8-214.1h0m1.6 178.8h0m.3 13.3h0m.5-130.4h0m.2 10.4h0m.3 105.6h0m.5-168.9h0m.5 153.1h0m0-113.5h0m.4-10.3h0m.3 121.5h0m.3-148.1h0m.7 145.8h0m2.1-132.8h0m.9 50.4h0m1-39.8h0m.4 .7h0m.5 116.6h0m.1-129.4h0m1.2 17.5h0m0-3.3h0m.6 9.4h0m1.1 111.5h0m.5-15.9h0m.3-134.9h0m1.3 56.4h0m0-35.1h0m1.3 144.3h0m.1-97.4h0m.1 80h0m.4-136.3h0m.3 135.5h0m1.2-127.4h0m.3 139.8h0m.9-129.2h0m.6 26.2h0m2.3 133.8h0m.2 .2h0m.4-179.2h0m.1 142h0m1.3-157.3h0m.2 81h0m.4-61.3h0m3.1 24.4h0m.3 114.1h0m1.5-142h0m1.9 58.1h0m.8 91.6h0m.2-55.4h0m.7-27.1h0m.2-56.9h0m0 111.2h0m1-68.4h0m.8-32h0m1.3 107.1h0m1 36.3h0m1.7-137.3h0m.4 144.8h0m.2-66.9h0m.1-29.8h0m.2 64.7h0m.4-32.3h0m.6-60.6h0m.5 110.7h0m0-61.3h0m.1-81.2h0m.1 7h0m4 12.8h0m.2-9h0m1.4 94.7h0m.2-30.8h0m2.2 55.9h0m.3-64.6h0m.4-57.2h0m0-8.6h0m.1 8.6h0m.9 112h0m.2-69.9h0m.1 74.2h0m.4-20.5h0m.2-43.2h0m.7 7.7h0m3.3 19.5h0m.6-29.8h0m.3-40.4h0m.4-.3h0m.4 99.8h0m2.3-112h0m.2 63.5h0m.1-35.5h0m3.5 41.1h0m1.2-44.1h0m.4 81.4h0m1.9 8.6h0m1.8-112.7h0m1.2 29.9h0m.3-6.2h0m0 72.5h0m.5-59.3h0m2.9-15.1h0m.3 70.2h0m.9-21.9h0m1.7-16.6h0m.6 42h0m1-62.4h0m2.9 36.5h0m5.4-50.8h0m.2 23.1h0m.1-22h0m2.6 54.2h0m.5-50.3h0m.4 23.5h0m3 30.2h0m4.1-20.4h0m4.7 12h0" stroke="#fff" stroke-width="2.7" stroke-opacity="1.0"/>
<path d="M785 426h0m14.9 52.2h0m1.5-90.8h0m.1 58.8h0m.3-44h0m.7 47.4h0m.8 5.6h0m2-52.4h0m1.1-7.6h0m.2-19.6h0m.5 32.6h0m0 42.8h0m1.4-22h0m.4-22.8h0m.2 64.9h0m.5-50.6h0m.4 20.3h0m.2-25.6h0m.2-1.7h0m.3 26.5h0m.5-58.5h0m.3 12.2h0m.8 28.1h0m0 74h0m1-43.9h0m.4-69h0m.2 4.4h0m.7 96.9h0m.1-117.5h0m.7 55.5h0m.2 5.6h0m.4-45.4h0m.2 13.1h0m.7-4.7h0m.5 81.5h0m.7-18.2h0m.2-48.6h0m.2-24.6h0m.1 29h0m.2-37.7h0m0 24.4h0m.1-21.8h0m.1 69.9h0m.9-81h0m.1 20.6h0m.2 96h0m.2-83.6h0m.4 63.1h0m1.1-44.7h0m.7-2.4h0m.1-45.9h0m.1 78.6h0m.1-61h0m.1 111.6h0m.1-5h0m.5-16.8h0m.1 26.1h0m.2-71.6h0m.1-8.9h0m.9 34h0m.5-75.5h0m.5 23.4h0m.3 43.5h0m.6-71.3h0m.1-16.3h0m.5 43.9h0m.7-2.7h0m.5 88.8h0m1.3-73.3h0m.5 6.7h0m.2-6.4h0m.2-18.1h0m0-16.8h0m.9 19.2h0m.3-15h0m0 24.9h0m.4-19.7h0m0 67.3h0m.5-72.8h0m.4-3.1h0m1.2 32.8h0m.5-17.5h0m0 67.9h0m.5-86.8h0m0 32.5h0m.3 68.3h0m0-67.3h0m.2 74.5h0m.4-110.7h0m.1 72.6h0m.3-54.2h0m.1-25.7h0m.4 90h0m.5-40.1h0m.9-18.7h0m.9 38h0m.2 7.9h0m.1-80.3h0m.4-4.6h0m.1 22.2h0m.4 42.3h0m.5 9.5h0m0-70h0m0-4.8h0m0 37.2h0m1.9 123.8h0m.3-133h0m.7 99.3h0m.2-89h0m.4 117.9h0m.1-123.1h0m.1 39.3h0m.3 81.6h0m.3-127.8h0m.1 45.9h0m.3 58.2h0m.3-7.8h0m.4-84.1h0m1 32.1h0m.6 13.8h0m.3-81.6h0m1.1 47.7h0m.2-.7h0m0 22.9h0m.5 81.8h0m0-147.6h0m.1 38.1h0m.2 26.6h0m.3-11.1h0m.1 14.1h0m.4-5.2h0m.5-37.6h0m.2 94.8h0m.4-68.4h0m.2-9.6h0m.2-37.3h0m.5 108.3h0m1.1-104.3h0m.3 45.8h0m.1 17h0m.4-4.5h0m.1-20.5h0m.1 114.2h0m.2-84.3h0m.5-38.8h0m.2-30.4h0m.3 22h0m.6-7.4h0m.1-11.3h0m.1 147.6h0m.3-110.9h0m.9-41.8h0m.5 25.6h0m.4 40.3h0m0-4.8h0m.2-58.6h0m.2 91.5h0m.3-65.3h0m.9 69.6h0m.5 37.7h0m.4-135.4h0m.7 35h0m.1 107.1h0m.9-136.8h0m.1-3.2h0m.4 62.3h0m0-36.6h0m0 74.7h0m1.5 4.3h0m1.3 26.2h0m0 21.4h0m0-6.4h0m.2-77.5h0m0-53.2h0m.1 9.3h0m.5 61.3h0m0-1.1h0m.4-73.4h0m.4 129.8h0m.1-94.1h0m.6-40.4h0m.3 75.7h0m.2 .9h0m.1-25.3h0m.1 29.5h0m.1-10h0m.6 77.5h0m.4-91.1h0m.1-28.3h0m1.6 13.5h0m.3-34.7h0m.1-7.4h0m1.3 7h0m.4 13.3h0m.5 43.1h0m3-31.8h0m0 3.2h0m.1 8.4h0m.1-47.3h0m.9 94.7h0m.5-40.7h0m.3-47.2h0m.7-1.2h0m0 21h0m.3-63.3h0m.4 85h0m.2-79.6h0m.3 .9h0m.1 52.5h0m.1-58.5h0m0 66.2h0m.7 8.7h0m.5-20.6h0m.1 120.9h0m0-121.5h0m.1 127.8h0m.2-39.3h0m.7-116.7h0m.2 29.1h0m1.2-3.3h0m.7-50.3h0m1.1 9.8h0m1.6 69.8h0m0 59.1h0m.9 23.5h0m1-23.3h0m1.4-154.2h0m.6 67.3h0m2.2 90.2h0m.5-128.3h0m.4-7.8h0m.2 50.9h0m.3 116.3h0m.2-10.9h0m.5-86.7h0m.2 75.6h0m0-99.6h0m1 149.8h0m.2-15.3h0m.1-152.3h0m.2-16.4h0m.2-9.4h0m.6 183.3h0m1.5-199.5h0m.5 173.9h0m.6-160.3h0m.6 27.7h0m.2 2.3h0m.2 137h0m.2-39h0m.3 53.2h0m.6-188.5h0m.9-15.5h0m.1 17h0m1.2 33.4h0m3.7 28.7h0m0 135.7h0m1.1-200.4h0m.2 5.6h0m.5 22.8h0m.2 119.9h0m.5-126.4h0m1 16h0m1-9.2h0m.7 150.6h0m.5-175.5h0m.2-10.2h0m.3 48.8h0m.1 104.6h0m.5-163.6h0m1 55.7h0m.2 134.5h0m.2-168.1h0m0 158.7h0m1-126.9h0m.1 172h0m1.5-56.2h0m.6-143.6h0m.5 57.7h0m.4 81.8h0m.5-143.6h0m.2 24.8h0m.3-2.7h0m.1 21.1h0m1.4 12.2h0m1-49h0m.3-3.6h0m0 22.8h0m1.3 120.3h0m0-158h0m1 72.7h0m.1-62.3h0m0 10.3h0m.4 22.4h0m.9 136.2h0m.1-110.3h0m1.2 98.3h0m.7-111.4h0m.4-43.7h0m.8 150.1h0m1.3 41.2h0m.5-166.7h0m.6 21.9h0m.2-41.5h0m0 152.3h0m0-177.3h0m.3 189.5h0m.4-157.6h0m1.4 136.2h0m.2-139.5h0m.9 11h0m0-33.9h0m.4-1.8h0m2 175.6h0m.6-143h0m1.8 129.3h0m1.3 54.2h0m.4-162.5h0m.4-.7h0m1.7 137.7h0m.3-197.7h0m.4 194.9h0m.2 14.4h0m.2 18.6h0m.2-174.2h0m.3-25.5h0m.2 137.8h0m3.4-135.4h0m.5 44.7h0m1.2-8.2h0m.6 151.1h0m.4-176.4h0m.4 17.2h0m.2-29.6h0m.4 17.1h0m.3-35.7h0m.9 19.7h0m.2-11.3h0m.1 155.5h0m.5-141.6h0m.1 185.2h0m.4-12.7h0m0-35.7h0m.5 49.8h0m.5-212.5h0m.1 42h0m.8 150.9h0m.2-179.7h0m.1 22.6h0m.4 167.6h0m0-181h0m.7 196.7h0m.8-214.1h0m1.6 178.8h0m.3 13.3h0m.5-130.4h0m.2 10.4h0m.3 105.6h0m.5-168.9h0m.5 153.1h0m0-113.5h0m.4-10.3h0m.3 121.5h0m.3-148.1h0m.7 145.8h0m2.1-132.8h0m.9 50.4h0m1-39.8h0m.4 .7h0m.5 116.6h0m.1-129.4h0m1.2 17.5h0m0-3.3h0m.6 9.4h0m1.1 111.5h0m.5-15.9h0m.3-134.9h0m1.3 56.4h0m0-35.1h0m1.3 144.3h0m.1-97.4h0m.1 80h0m.4-136.3h0m.3 135.5h0m1.2-127.4h0m.3 139.8h0m.9-129.2h0m.6 26.2h0m2.3 133.8h0m.2 .2h0m.4-179.2h0m.1 142h0m1.3-157.3h0m.2 81h0m.4-61.3h0m3.1 24.4h0m.3 114.1h0m1.5-142h0m1.9 58.1h0m.8 91.6h0m.2-55.4h0m.7-27.1h0m.2-56.9h0m0 111.2h0m1-68.4h0m.8-32h0m1.3 107.1h0m1 36.3h0m1.7-137.3h0m.4 144.8h0m.2-66.9h0m.1-29.8h0m.2 64.7h0m.4-32.3h0m.6-60.6h0m.5 110.7h0m0-61.3h0m.1-81.2h0m.1 7h0m4 12.8h0m.2-9h0m1.4 94.7h0m.2-30.8h0m2.2 55.9h0m.3-64.6h0m.4-57.2h0m0-8.6h0m.1 8.6h0m.9 112h0m.2-69.9h0m.1 74.2h0m.4-20.5h0m.2-43.2h0m.7 7.7h0m3.3 19.5h0m.6-29.8h0m.3-40.4h0m.4-.3h0m.4 99.8h0m2.3-112h0m.2 63.5h0m.1-35.5h0m3.5 41.1h0m1.2-44.1h0m.4 81.4h0m1.9 8.6h0m1.8-112.7h0m1.2 29.9h0m.3-6.2h0m0 72.5h0m.5-59.3h0m2.9-15.1h0m.3 70.2h0m.9-21.9h0m1.7-16.6h0m.6 42h0m1-62.4h0m2.9 36.5h0m5.4-50.8h0m.2 23.1h0m.1-22h0m2.6 54.2h0m.5-50.3h0m.4 23.5h0m3 30.2h0m4.1-20.4h0m4.7 12h0" stroke="#4791b4" stroke-width="2"/>
<path d="M784.5 428h0m17.6-31.4h0m1.4 54.5h0m.9-17.4h0m1.3-27.6h0m.3 64.5h0m1.3-16.7h0m0-27.4h0m.7 48.1h0m.5-47.5h0m.3-37.2h0m1.4-27.3h0m.1 34.1h0m.1-28.5h0m.2 22.1h0m1.1 77.7h0m.3 2.1h0m.6-81.1h0m.7-13.4h0m.6 63.7h0m2-27.6h0m0-11.1h0m.3 78h0m.5-100.6h0m.4 13.8h0m.6-15.8h0m.2 49.2h0m.4-41.3h0m1.1-12.5h0m.2 32.9h0m0-36.2h0m.5 91.1h0m.1-80.9h0m.1 21.9h0m.8-6.9h0m.1 57.6h0m.9-68.2h0m.9 26h0m.2-37h0m.8 21.6h0m1.2 24h0m.1-38.4h0m.8 104.7h0m0-101.1h0m.1-2h0m.5 86.8h0m.4-81.9h0m.1 40.1h0m.6-35.1h0m.2 34.3h0m.3-13.2h0m0 56.5h0m.2 27.1h0m1-98.9h0m.1 26.1h0m.9 4.4h0m.4 14.4h0m0-56.1h0m.6 12h0m.3 17.2h0m.1 56h0m.3-62.5h0m.4 27.5h0m.2-10h0m0-1.3h0m.1-56.6h0m0-6.4h0m.1-6.2h0m.8 42.3h0m.1 96.1h0m.4-83.4h0m.3-46.7h0m.1 110h0m0-101.2h0m0 68.4h0m.7-70.4h0m.4-15.5h0m.5 2.8h0m1.7 30.3h0m.2 102.4h0m0-56.9h0m1.1 5.2h0m.6-17.4h0m0 7.8h0m.2 19.3h0m.2 30.4h0m.2-88.4h0m.3-23.1h0m.9 3.4h0m.2 112.9h0m.5 .6h0m.3-56.9h0m.2 26.7h0m.2 17h0m.4-81.5h0m0-13.7h0m0 84h0m.4 61.2h0m.1-96.8h0m.7-65.3h0m0 44.1h0m.4 63.5h0m0-64.8h0m.6 75.2h0m.2-94.5h0m1.1-16.8h0m.3 82.1h0m.4-67.9h0m.2 74.4h0m0-101.2h0m.5 99.4h0m.4-61.8h0m.1 11h0m.2 55.3h0m.6 51h0m.3-103.8h0m0 52.5h0m.2-57.4h0m0 40.7h0m.3 28.5h0m.1-46.3h0m.2 12.5h0m.1-60.7h0m.8-6h0m.1 130.5h0m.3-19h0m.3-88.9h0m.2-10.2h0m.8 36.7h0m0 46.7h0m.1-75.8h0m.2 88.4h0m.2 11.2h0m.6-64.3h0m.2 96.1h0m.1-72.6h0m.1 81.1h0m.6-172.5h0m.1 75.2h0m.7 38.1h0m.8-83.9h0m.1 75.7h0m0 46.5h0m.7-116.1h0m.3 23h0m0-51.4h0m.2 21.1h0m.4 34.3h0m.2 69.1h0m.4-46.5h0m.3-30.9h0m.5-4.8h0m.7-13.9h0m.2 137.7h0m1-136.5h0m.3 33.7h0m.5-7.2h0m.7 79.8h0m0 35h0m.1-137.5h0m.5-5.9h0m0 50.3h0m.1-30.8h0m.1-9.8h0m.2 50.9h0m.1-20.3h0m.3 53.1h0m.4-114.8h0m.2 121.9h0m.3 .4h0m.1-145.2h0m.2 114.6h0m.3-13.7h0m.1-73.9h0m.2-6.3h0m.9 53.4h0m.6-24.5h0m.6 51.3h0m.1 68h0m.1-131h0m.5 104.9h0m.6-75.7h0m1.4-18.7h0m.3 108.5h0m.2-111h0m.4 116h0m.7-83.9h0m0-40.7h0m.1 87.4h0m0-92.3h0m.1 6.4h0m.1 10.3h0m.3 124.5h0m2.1-83.3h0m.8 68.1h0m.2-106h0m0 22h0m.2-22.6h0m.1-1.9h0m.3 124.7h0m.3-133.6h0m.1-41.1h0m.1 163.7h0m.2-108.2h0m.3 114.6h0m.2-96.9h0m.4-40.7h0m.2-19.7h0m.5 36.7h0m.4 4.1h0m1.2 10.7h0m.3 128h0m.2-116h0m.5 92h0m.1-100.8h0m.6 92.6h0m1.1 20.2h0m.2-153.3h0m1.1 116.7h0m1.3 10.6h0m.6-118.3h0m.6 145.8h0m.1-135.5h0m.2-65.1h0m.1 122.5h0m.3 13.1h0m.5-64.5h0m.9-44.2h0m.6 149.8h0m.2-93.1h0m.1 76.1h0m.3-115h0m1.3 22h0m.1-57h0m1.2 196.8h0m.3-170.4h0m.3 142.8h0m0-132.4h0m.4 105.6h0m.7 44.8h0m1.5-145.1h0m.2 8.7h0m.3-21.8h0m.6 137.9h0m.2 17.7h0m.6-186.9h0m.5 10.8h0m.3 9.8h0m.6 29.9h0m.4-59.2h0m.3 84.2h0m.6-1.2h0m.6-17.6h0m.2-48.3h0m1.2 156.2h0m.2-147.5h0m.2-23.9h0m3.1 41.7h0m.9 158h0m.3-19.3h0m4.8-4.9h0m0-8.4h0m1.4 14.5h0m1.1-173.1h0m.1 16.9h0m.2-32.1h0m.6 205.6h0m.2-117.8h0m.3 129.8h0m.2-201.3h0m.5 192.3h0m1-26.7h0m1.6-177.8h0m0 184.4h0m1.1-158.6h0m1 21.2h0m.4-11.8h0m.1 129.4h0m.3-104.4h0m.1 118.9h0m.1 21.5h0m.1-157.4h0m.8-13.5h0m1.1 21.8h0m1 5.3h0m1.6-55.3h0m1.7 31.6h0m1.4-36.9h0m.1 211.8h0m1-7.2h0m.4-199.5h0m0 21.4h0m.5-3h0m0-14.8h0m.1-.4h0m.4 19.7h0m.3 53.1h0m.7-1.3h0m.1-48.5h0m.7-4.1h0m.9-30.1h0m1.5 178h0m.1-124.9h0m.1 171.1h0m0-135.6h0m.1 100.6h0m.7-178.9h0m.2 194.1h0m1.6 25.5h0m.4-226.3h0m1.3 33.2h0m1.4 47.7h0m0-12h0m.5-57.3h0m.1 192.4h0m.2-191h0m.9 198.7h0m.2-25h0m.4-11.6h0m0 23.9h0m.3-113.8h0m.2-87.1h0m.9 221.4h0m.6-210.8h0m1 62.7h0m0 100h0m.1-102.6h0m.2-18.2h0m1.3-28.5h0m0 155h0m.4 .4h0m.3-138.1h0m.4 149.9h0m.5 18h0m1.6-175.6h0m.7 171.5h0m.1-130.8h0m.1-14.6h0m.4-34.9h0m.4 41.3h0m1.1-41.8h0m.7 56.9h0m1.3-30.1h0m2.4-50.1h0m.9 181.1h0m1.9-6h0m1 45.4h0m.2-201.2h0m.8 158.2h0m.8 31h0m.6-183h0m.1-4.8h0m.5 162h0m1.4-125h0m.8 104h0m.3-81.4h0m.4-56.6h0m.2 142.9h0m.3-134.5h0m.4 148h0m2.6-123.9h0m.2 18h0m1.7-43.9h0m1.5 30.8h0m.1 92h0m.5 34.5h0m0-175.1h0m0 180.7h0m.5-42.2h0m.9-75.1h0m.3-26.6h0m2.1 125.2h0m1 5.6h0m.7-142.5h0m.4-15.9h0m1.4 138.1h0m.6-127.3h0m.8 78.1h0m.1-54h0m.4-10h0m.5-29.4h0m.2 3.8h0m.9 24.8h0m.8 117.9h0m.1-144.8h0m.1 173.3h0m1.2 11.6h0m.2-37.2h0m1.6-118.4h0m.3 150.5h0m.5-100.8h0m.7-21.9h0m.9 11.2h0m2.1-48h0m.3 141.7h0m.7-31.1h0m.2 40.3h0m.5-48.9h0m.1 59.4h0m.6-33.1h0m.5 5.4h0m1.3-77.3h0m1.2 5.6h0m.3 33.8h0m.2 60.4h0m.3-85.4h0m.6 60.6h0m.1-51.2h0m.1-61.1h0m0-16h0m.2 62.1h0m.3-24h0m.4 97.5h0m1.8 11.5h0m.1-94.2h0m1.1-10.3h0m.8 49.1h0m1.1 41.1h0m.4-104.4h0m.1-22h0m.2 101.3h0m.3 17.7h0m1-129.9h0m2.1 46.7h0m.1 49.3h0m0-66.3h0m.9 121.8h0m.8-116.3h0m.2 .1h0m.6 10.4h0m.7-18.2h0m.3 43.7h0m.5 44.3h0m.3-102.5h0m.4 129.1h0m2.4-22.5h0m.2-37.8h0m1.9-27.7h0m1 82.5h0m.1-26.9h0m.6-48.4h0m.3 37.7h0m.1 16.8h0m3 22.5h0m1.1-37.9h0m.7-54.2h0m1.2 81.1h0m4-28.5h0m.7-80.4h0m.1 94.4h0m.1 12.6h0m.2-70.9h0m.4 42.7h0m5.1-3.9h0m.1-67.2h0m.4 39.7h0m2.3 31h0m.1-64.1h0m.1-2.7h0m1.4 46.8h0m.6 5.9h0m.7-5.1h0m1 26.1h0m4.2-34.8h0m1.9 17.3h0m5 2h0" stroke="#fff" stroke-width="2.7" stroke-opacity="1.0"/>
<path d="M784.5 428h0m17.6-31.4h0m1.4 54.5h0m.9-17.4h0m1.3-27.6h0m.3 64.5h0m1.3-16.7h0m0-27.4h0m.7 48.1h0m.5-47.5h0m.3-37.2h0m1.4-27.3h0m.1 34.1h0m.1-28.5h0m.2 22.1h0m1.1 77.7h0m.3 2.1h0m.6-81.1h0m.7-13.4h0m.6 63.7h0m2-27.6h0m0-11.1h0m.3 78h0m.5-100.6h0m.4 13.8h0m.6-15.8h0m.2 49.2h0m.4-41.3h0m1.1-12.5h0m.2 32.9h0m0-36.2h0m.5 91.1h0m.1-80.9h0m.1 21.9h0m.8-6.9h0m.1 57.6h0m.9-68.2h0m.9 26h0m.2-37h0m.8 21.6h0m1.2 24h0m.1-38.4h0m.8 104.7h0m0-101.1h0m.1-2h0m.5 86.8h0m.4-81.9h0m.1 40.1h0m.6-35.1h0m.2 34.3h0m.3-13.2h0m0 56.5h0m.2 27.1h0m1-98.9h0m.1 26.1h0m.9 4.4h0m.4 14.4h0m0-56.1h0m.6 12h0m.3 17.2h0m.1 56h0m.3-62.5h0m.4 27.5h0m.2-10h0m0-1.3h0m.1-56.6h0m0-6.4h0m.1-6.2h0m.8 42.3h0m.1 96.1h0m.4-83.4h0m.3-46.7h0m.1 110h0m0-101.2h0m0 68.4h0m.7-70.4h0m.4-15.5h0m.5 2.8h0m1.7 30.3h0m.2 102.4h0m0-56.9h0m1.1 5.2h0m.6-17.4h0m0 7.8h0m.2 19.3h0m.2 30.4h0m.2-88.4h0m.3-23.1h0m.9 3.4h0m.2 112.9h0m.5 .6h0m.3-56.9h0m.2 26.7h0m.2 17h0m.4-81.5h0m0-13.7h0m0 84h0m.4 61.2h0m.1-96.8h0m.7-65.3h0m0 44.1h0m.4 63.5h0m0-64.8h0m.6 75.2h0m.2-94.5h0m1.1-16.8h0m.3 82.1h0m.4-67.9h0m.2 74.4h0m0-101.2h0m.5 99.4h0m.4-61.8h0m.1 11h0m.2 55.3h0m.6 51h0m.3-103.8h0m0 52.5h0m.2-57.4h0m0 40.7h0m.3 28.5h0m.1-46.3h0m.2 12.5h0m.1-60.7h0m.8-6h0m.1 130.5h0m.3-19h0m.3-88.9h0m.2-10.2h0m.8 36.7h0m0 46.7h0m.1-75.8h0m.2 88.4h0m.2 11.2h0m.6-64.3h0m.2 96.1h0m.1-72.6h0m.1 81.1h0m.6-172.5h0m.1 75.2h0m.7 38.1h0m.8-83.9h0m.1 75.7h0m0 46.5h0m.7-116.1h0m.3 23h0m0-51.4h0m.2 21.1h0m.4 34.3h0m.2 69.1h0m.4-46.5h0m.3-30.9h0m.5-4.8h0m.7-13.9h0m.2 137.7h0m1-136.5h0m.3 33.7h0m.5-7.2h0m.7 79.8h0m0 35h0m.1-137.5h0m.5-5.9h0m0 50.3h0m.1-30.8h0m.1-9.8h0m.2 50.9h0m.1-20.3h0m.3 53.1h0m.4-114.8h0m.2 121.9h0m.3 .4h0m.1-145.2h0m.2 114.6h0m.3-13.7h0m.1-73.9h0m.2-6.3h0m.9 53.4h0m.6-24.5h0m.6 51.3h0m.1 68h0m.1-131h0m.5 104.9h0m.6-75.7h0m1.4-18.7h0m.3 108.5h0m.2-111h0m.4 116h0m.7-83.9h0m0-40.7h0m.1 87.4h0m0-92.3h0m.1 6.4h0m.1 10.3h0m.3 124.5h0m2.1-83.3h0m.8 68.1h0m.2-106h0m0 22h0m.2-22.6h0m.1-1.9h0m.3 124.7h0m.3-133.6h0m.1-41.1h0m.1 163.7h0m.2-108.2h0m.3 114.6h0m.2-96.9h0m.4-40.7h0m.2-19.7h0m.5 36.7h0m.4 4.1h0m1.2 10.7h0m.3 128h0m.2-116h0m.5 92h0m.1-100.8h0m.6 92.6h0m1.1 20.2h0m.2-153.3h0m1.1 116.7h0m1.3 10.6h0m.6-118.3h0m.6 145.8h0m.1-135.5h0m.2-65.1h0m.1 122.5h0m.3 13.1h0m.5-64.5h0m.9-44.2h0m.6 149.8h0m.2-93.1h0m.1 76.1h0m.3-115h0m1.3 22h0m.1-57h0m1.2 196.8h0m.3-170.4h0m.3 142.8h0m0-132.4h0m.4 105.6h0m.7 44.8h0m1.5-145.1h0m.2 8.7h0m.3-21.8h0m.6 137.9h0m.2 17.7h0m.6-186.9h0m.5 10.8h0m.3 9.8h0m.6 29.9h0m.4-59.2h0m.3 84.2h0m.6-1.2h0m.6-17.6h0m.2-48.3h0m1.2 156.2h0m.2-147.5h0m.2-23.9h0m3.1 41.7h0m.9 158h0m.3-19.3h0m4.8-4.9h0m0-8.4h0m1.4 14.5h0m1.1-173.1h0m.1 16.9h0m.2-32.1h0m.6 205.6h0m.2-117.8h0m.3 129.8h0m.2-201.3h0m.5 192.3h0m1-26.7h0m1.6-177.8h0m0 184.4h0m1.1-158.6h0m1 21.2h0m.4-11.8h0m.1 129.4h0m.3-104.4h0m.1 118.9h0m.1 21.5h0m.1-157.4h0m.8-13.5h0m1.1 21.8h0m1 5.3h0m1.6-55.3h0m1.7 31.6h0m1.4-36.9h0m.1 211.8h0m1-7.2h0m.4-199.5h0m0 21.4h0m.5-3h0m0-14.8h0m.1-.4h0m.4 19.7h0m.3 53.1h0m.7-1.3h0m.1-48.5h0m.7-4.1h0m.9-30.1h0m1.5 178h0m.1-124.9h0m.1 171.1h0m0-135.6h0m.1 100.6h0m.7-178.9h0m.2 194.1h0m1.6 25.5h0m.4-226.3h0m1.3 33.2h0m1.4 47.7h0m0-12h0m.5-57.3h0m.1 192.4h0m.2-191h0m.9 198.7h0m.2-25h0m.4-11.6h0m0 23.9h0m.3-113.8h0m.2-87.1h0m.9 221.4h0m.6-210.8h0m1 62.7h0m0 100h0m.1-102.6h0m.2-18.2h0m1.3-28.5h0m0 155h0m.4 .4h0m.3-138.1h0m.4 149.9h0m.5 18h0m1.6-175.6h0m.7 171.5h0m.1-130.8h0m.1-14.6h0m.4-34.9h0m.4 41.3h0m1.1-41.8h0m.7 56.9h0m1.3-30.1h0m2.4-50.1h0m.9 181.1h0m1.9-6h0m1 45.4h0m.2-201.2h0m.8 158.2h0m.8 31h0m.6-183h0m.1-4.8h0m.5 162h0m1.4-125h0m.8 104h0m.3-81.4h0m.4-56.6h0m.2 142.9h0m.3-134.5h0m.4 148h0m2.6-123.9h0m.2 18h0m1.7-43.9h0m1.5 30.8h0m.1 92h0m.5 34.5h0m0-175.1h0m0 180.7h0m.5-42.2h0m.9-75.1h0m.3-26.6h0m2.1 125.2h0m1 5.6h0m.7-142.5h0m.4-15.9h0m1.4 138.1h0m.6-127.3h0m.8 78.1h0m.1-54h0m.4-10h0m.5-29.4h0m.2 3.8h0m.9 24.8h0m.8 117.9h0m.1-144.8h0m.1 173.3h0m1.2 11.6h0m.2-37.2h0m1.6-118.4h0m.3 150.5h0m.5-100.8h0m.7-21.9h0m.9 11.2h0m2.1-48h0m.3 141.7h0m.7-31.1h0m.2 40.3h0m.5-48.9h0m.1 59.4h0m.6-33.1h0m.5 5.4h0m1.3-77.3h0m1.2 5.6h0m.3 33.8h0m.2 60.4h0m.3-85.4h0m.6 60.6h0m.1-51.2h0m.1-61.1h0m0-16h0m.2 62.1h0m.3-24h0m.4 97.5h0m1.8 11.5h0m.1-94.2h0m1.1-10.3h0m.8 49.1h0m1.1 41.1h0m.4-104.4h0m.1-22h0m.2 101.3h0m.3 17.7h0m1-129.9h0m2.1 46.7h0m.1 49.3h0m0-66.3h0m.9 121.8h0m.8-116.3h0m.2 .1h0m.6 10.4h0m.7-18.2h0m.3 43.7h0m.5 44.3h0m.3-102.5h0m.4 129.1h0m2.4-22.5h0m.2-37.8h0m1.9-27.7h0m1 82.5h0m.1-26.9h0m.6-48.4h0m.3 37.7h0m.1 16.8h0m3 22.5h0m1.1-37.9h0m.7-54.2h0m1.2 81.1h0m4-28.5h0m.7-80.4h0m.1 94.4h0m.1 12.6h0m.2-70.9h0m.4 42.7h0m5.1-3.9h0m.1-67.2h0m.4 39.7h0m2.3 31h0m.1-64.1h0m.1-2.7h0m1.4 46.8h0m.6 5.9h0m.7-5.1h0m1 26.1h0m4.2-34.8h0m1.9 17.3h0m5 2h0" stroke="#4791b4" stroke-width="2"/>
<path d="M790 416h0m9 35.4h0m1.6-49.7h0m2.5 84.9h0m.4-69.3h0m1.6 53.7h0m.2-73.6h0m.1 22.5h0m0 35.2h0m1-70.8h0m0 27h0m.7-12.3h0m.1 16.2h0m.1 60.2h0m.4-31.7h0m.3 14.8h0m.2-68h0m.6 .9h0m.6-7.2h0m.3 63.5h0m.3-2.3h0m.4-45.7h0m0-8.1h0m.2 56.8h0m.4 43.2h0m.1-92.2h0m.2 66h0m.9-80.2h0m.1 98.7h0m.1-53.2h0m.2-21.3h0m.5 25.7h0m.8 15.8h0m.3-35.8h0m.3 64.3h0m1.3 5.9h0m.5-65.1h0m.5 0h0m.3 16.1h0m0-13.9h0m.4 17.4h0m.4-24.1h0m.5-28.2h0m.3 42.3h0m1.4-65.1h0m1.3 12.1h0m.2 11.9h0m.2 49.6h0m.5-47h0m.3 72.9h0m.3-92.9h0m.6 5.5h0m.6 46h0m.3 61.6h0m.1-120.7h0m.6 96h0m.2-10h0m1.1-40.8h0m.1 37.1h0m.1 36.8h0m.5-100.5h0m.4 104.5h0m.3-118.3h0m.4 10.2h0m.2-6.7h0m.2 79.8h0m.5-40.7h0m.2-4.3h0m.2-42h0m.3 96.7h0m.4-83.7h0m0 101.9h0m.3-104.4h0m.2 82.1h0m.3-13.8h0m.4-83.7h0m.1 112.5h0m0 6.3h0m.2-90.9h0m.1 23.5h0m.1 76.1h0m.1-66.9h0m.2-15.3h0m.1-24.1h0m.3-3.9h0m.7 55.1h0m.1 33.6h0m2.2-75.9h0m.2 39.1h0m.1-18.4h0m0 12.7h0m1.1 33.8h0m.1-93.1h0m0 73.4h0m.1-16.4h0m.1-9.2h0m.1 0h0m1-49h0m.1 15.9h0m.1-8.6h0m.1 14.5h0m.2-2.3h0m.8 51.9h0m.1 15.2h0m.5-82.6h0m.2 24h0m.2 52h0m.8 1.2h0m.5-59.8h0m.7 22.1h0m.2 41.4h0m.1-83.7h0m.7 17.6h0m.8-2.9h0m.2 45.8h0m.1 4.8h0m.3 8.8h0m1.7-82.5h0m.1 37.2h0m0-16.9h0m.2 29.4h0m.4 91.2h0m.6-81.4h0m.8 5.7h0m.8-42h0m.7 114h0m.2-106.7h0m.2-29.2h0m.3 145.8h0m0-109.2h0m.4-32.6h0m1 .9h0m.5 43.4h0m.1-9.1h0m1.1 45.8h0m.1-79.7h0m.2-3.8h0m.2 27.3h0m.3 40.5h0m.8-11.4h0m.1-50.9h0m.3 91.4h0m.1 13.9h0m.4-108h0m.3 11.1h0m.4-7.3h0m.2 17.6h0m.4 41.5h0m.4-20h0m.3 12.2h0m.1 100h0m.6-121.5h0m.1-26.8h0m.6 79h0m.8-53.3h0m.2 59.1h0m.4-77.8h0m.6 83.2h0m.7-45.5h0m.7-49.6h0m.1 144.3h0m.1-124.3h0m1.3 48.9h0m1.4-17.4h0m.4 110.7h0m.2-178.4h0m.4 80.5h0m.3-65.3h0m1.8 9.6h0m.5 22.7h0m1.5-21h0m.3 122.5h0m.8-101.4h0m.4 124.1h0m.5-8.7h0m.7-29.1h0m.1 5.5h0m2.4-92h0m.3 18.1h0m.3-39.8h0m.1 125.9h0m.4-120.3h0m0 130.1h0m.6-60.5h0m.2 70.2h0m1.7-129.9h0m.1-50h0m.3 40.9h0m.2 113.7h0m.1-58h0m.9-27h0m.1 10h0m.5 102.7h0m.1-57.1h0m.8 12.2h0m.5-123.1h0m.7 111.9h0m.1-80h0m1 22.1h0m.1-58.7h0m2 8.6h0m.1 9.3h0m1 47.4h0m.6 53.7h0m.1-93.4h0m.1 136.9h0m.2 12.5h0m.5-155.2h0m.1-38.4h0m.5 82.6h0m0-9.2h0m.6-67.9h0m.9 192.5h0m.3-201.3h0m.1 191.6h0m.1-139.1h0m.3 1h0m.5 131.9h0m.6-139.5h0m1 137.6h0m.1-102.3h0m.5-39.9h0m.1-22.6h0m.6 60.6h0m.2 128.5h0m.4-20h0m.2-156.4h0m.5 126.9h0m0-145.8h0m.9 204.2h0m.2-181.2h0m.4 8.5h0m.5 140.1h0m.1-125.2h0m.2 111h0m.2-10.7h0m.2-61.5h0m.2-93.9h0m.3 155.6h0m.8 35.3h0m.2-126.3h0m.3-32.1h0m1 32.5h0m.7 114h0m.3-175.6h0m.8 181.5h0m1.7-115.7h0m.4-49.9h0m.7 8.2h0m.2 130.9h0m1.1 31.5h0m2.2-122.8h0m1.4-50.1h0m1.1-.2h0m.8 53.6h0m.7 126h0m.8-201.3h0m.2 77.8h0m.4-46.8h0m.3-17.4h0m.1-7.1h0m2 201.6h0m.5-131.8h0m.4-45.9h0m2 37.1h0m0 137.5h0m.1-201.2h0m.1 168.6h0m1-153h0m.5 25.2h0m.6 179.1h0m.1-188.6h0m1-10.6h0m.2 186.7h0m.4-196.5h0m.1 23.4h0m.1 155.9h0m1 1.2h0m.5-173.4h0m.1 152.9h0m.5-141.8h0m.6 43.6h0m1.6-18.8h0m.1-15.3h0m.8 171.9h0m2-182.8h0m.1 162.1h0m.1-170h0m.1 150h0m.1-6.3h0m.8-134.1h0m0-6.2h0m.2-22.8h0m.2 52h0m.7 102.8h0m.6-150.5h0m.8 207.7h0m.3-199.4h0m.3 43.3h0m.7-20.3h0m0 132.4h0m2.9-119.4h0m0-23.2h0m.1-29.3h0m1.2 18.9h0m.3 27.7h0m.8-43h0m.6 167.2h0m.6-119.3h0m1.3 4.8h0m.4 138.3h0m.7 14.4h0m1.7-168.3h0m.2-28.4h0m.4 55.5h0m.1 100h0m.3-137h0m.9 .2h0m0-17.9h0m.1 181.5h0m.6-116.4h0m.2-71.1h0m.3 48h0m.3-33.8h0m0-18.2h0m.5 38.9h0m1.1 7.3h0m.1 121.1h0m.8 47.5h0m.6-37.2h0m.1-185h0m.1 201.8h0m.1-31.2h0m.6 45h0m3.6-162.6h0m.2-30.2h0m.3-7.5h0m1.8 61.5h0m.1 96.5h0m.1-113.5h0m0 124.9h0m1.1 8.6h0m.8-127.9h0m.1-64.1h0m2.2 36.6h0m.2-26.2h0m.4 32.6h0m2.5-42.7h0m.1 30h0m.3 147.4h0m.4-15.7h0m.1 46h0m.4-121.8h0m.2-26.5h0m.4 32.7h0m0 119.4h0m.6-177.2h0m.9 5.5h0m1.2-23.3h0m.3 158.9h0m.5-163.9h0m.7 46.3h0m.1 120.3h0m.6-17.9h0m1 47.2h0m.4-8.8h0m.8-40.2h0m.7 47h0m.6-163.1h0m1.1 145.5h0m.3-135.2h0m.1 98.8h0m1-128h0m.8 188.2h0m.2-189.7h0m.7-11.7h0m.7 70.2h0m.2 109.6h0m1-23.2h0m.3 46.3h0m.7-164h0m.5-34.5h0m0 64.4h0m.6 30.1h0m.7 85.7h0m1 6.4h0m1.3-.2h0m.3-39.7h0m.9-8.7h0m.3 42.9h0m.2-13h0m.4-141.7h0m0 166.6h0m.7-139.1h0m.1-45.9h0m.2 47.2h0m.1 134.4h0m.2-124.7h0m3.1 40.4h0m.3 12.7h0m.5-32.9h0m1.4-28.4h0m.2 42.3h0m.2 87.3h0m.3-93.8h0m5.8-54.3h0m.2 92.2h0m.1 17h0m.5-114.7h0m.8 85.9h0m1.2-17.6h0m.2-76.2h0m1.2 145.5h0m.8-109.5h0m1.7 79.3h0m.1-21.9h0m1.2 12.1h0m.2-115.3h0m.9 150.7h0m.1-119.6h0m.4 29.5h0m1.4 94h0m.7-131.5h0m.4 3.4h0m1.5 83.3h0m.2-46.4h0m2.7 30.3h0m1.1 6.6h0m1.1-37.8h0m0 41.4h0m.5-72.8h0m0 96.1h0m.2-81.7h0m.6-23.3h0m.2 19.7h0m.4 63.8h0m2.7 7h0m1.3 28.6h0m1.1-82.1h0m.6-27h0m.9 58.9h0m3.5-17.8h0m.9-47.8h0m.3 54.7h0m.2 28.4h0m.2-69.6h0m1.2 17.6h0m.3 31.9h0m1.6-20.7h0m.7 31.1h0m.7 31.9h0m.7-18.7h0m.2-71.7h0m3.1 50h0m.5-1.1h0m.2 19h0m1.8-29.2h0m.5 6.4h0m2.4 24.8h0m.3-44.7h0m.3 48.6h0m2.2-27.3h0m.9-30.9h0m1.2 53.2h0m3-42.8h0m5.4 25.5h0" stroke="#fff" stroke-width="2.7" stroke-opacity="1.0"/>
<path d="M790 416h0m9 35.4h0m1.6-49.7h0m2.5 84.9h0m.4-69.3h0m1.6 53.7h0m.2-73.6h0m.1 22.5h0m0 35.2h0m1-70.8h0m0 27h0m.7-12.3h0m.1 16.2h0m.1 60.2h0m.4-31.7h0m.3 14.8h0m.2-68h0m.6 .9h0m.6-7.2h0m.3 63.5h0m.3-2.3h0m.4-45.7h0m0-8.1h0m.2 56.8h0m.4 43.2h0m.1-92.2h0m.2 66h0m.9-80.2h0m.1 98.7h0m.1-53.2h0m.2-21.3h0m.5 25.7h0m.8 15.8h0m.3-35.8h0m.3 64.3h0m1.3 5.9h0m.5-65.1h0m.5 0h0m.3 16.1h0m0-13.9h0m.4 17.4h0m.4-24.1h0m.5-28.2h0m.3 42.3h0m1.4-65.1h0m1.3 12.1h0m.2 11.9h0m.2 49.6h0m.5-47h0m.3 72.9h0m.3-92.9h0m.6 5.5h0m.6 46h0m.3 61.6h0m.1-120.7h0m.6 96h0m.2-10h0m1.1-40.8h0m.1 37.1h0m.1 36.8h0m.5-100.5h0m.4 104.5h0m.3-118.3h0m.4 10.2h0m.2-6.7h0m.2 79.8h0m.5-40.7h0m.2-4.3h0m.2-42h0m.3 96.7h0m.4-83.7h0m0 101.9h0m.3-104.4h0m.2 82.1h0m.3-13.8h0m.4-83.7h0m.1 112.5h0m0 6.3h0m.2-90.9h0m.1 23.5h0m.1 76.1h0m.1-66.9h0m.2-15.3h0m.1-24.1h0m.3-3.9h0m.7 55.1h0m.1 33.6h0m2.2-75.9h0m.2 39.1h0m.1-18.4h0m0 12.7h0m1.1 33.8h0m.1-93.1h0m0 73.4h0m.1-16.4h0m.1-9.2h0m.1 0h0m1-49h0m.1 15.9h0m.1-8.6h0m.1 14.5h0m.2-2.3h0m.8 51.9h0m.1 15.2h0m.5-82.6h0m.2 24h0m.2 52h0m.8 1.2h0m.5-59.8h0m.7 22.1h0m.2 41.4h0m.1-83.7h0m.7 17.6h0m.8-2.9h0m.2 45.8h0m.1 4.8h0m.3 8.8h0m1.7-82.5h0m.1 37.2h0m0-16.9h0m.2 29.4h0m.4 91.2h0m.6-81.4h0m.8 5.7h0m.8-42h0m.7 114h0m.2-106.7h0m.2-29.2h0m.3 145.8h0m0-109.2h0m.4-32.6h0m1 .9h0m.5 43.4h0m.1-9.1h0m1.1 45.8h0m.1-79.7h0m.2-3.8h0m.2 27.3h0m.3 40.5h0m.8-11.4h0m.1-50.9h0m.3 91.4h0m.1 13.9h0m.4-108h0m.3 11.1h0m.4-7.3h0m.2 17.6h0m.4 41.5h0m.4-20h0m.3 12.2h0m.1 100h0m.6-121.5h0m.1-26.8h0m.6 79h0m.8-53.3h0m.2 59.1h0m.4-77.8h0m.6 83.2h0m.7-45.5h0m.7-49.6h0m.1 144.3h0m.1-124.3h0m1.3 48.9h0m1.4-17.4h0m.4 110.7h0m.2-178.4h0m.4 80.5h0m.3-65.3h0m1.8 9.6h0m.5 22.7h0m1.5-21h0m.3 122.5h0m.8-101.4h0m.4 124.1h0m.5-8.7h0m.7-29.1h0m.1 5.5h0m2.4-92h0m.3 18.1h0m.3-39.8h0m.1 125.9h0m.4-120.3h0m0 130.1h0m.6-60.5h0m.2 70.2h0m1.7-129.9h0m.1-50h0m.3 40.9h0m.2 113.7h0m.1-58h0m.9-27h0m.1 10h0m.5 102.7h0m.1-57.1h0m.8 12.2h0m.5-123.1h0m.7 111.9h0m.1-80h0m1 22.1h0m.1-58.7h0m2 8.6h0m.1 9.3h0m1 47.4h0m.6 53.7h0m.1-93.4h0m.1 136.9h0m.2 12.5h0m.5-155.2h0m.1-38.4h0m.5 82.6h0m0-9.2h0m.6-67.9h0m.9 192.5h0m.3-201.3h0m.1 191.6h0m.1-139.1h0m.3 1h0m.5 131.9h0m.6-139.5h0m1 137.6h0m.1-102.3h0m.5-39.9h0m.1-22.6h0m.6 60.6h0m.2 128.5h0m.4-20h0m.2-156.4h0m.5 126.9h0m0-145.8h0m.9 204.2h0m.2-181.2h0m.4 8.5h0m.5 140.1h0m.1-125.2h0m.2 111h0m.2-10.7h0m.2-61.5h0m.2-93.9h0m.3 155.6h0m.8 35.3h0m.2-126.3h0m.3-32.1h0m1 32.5h0m.7 114h0m.3-175.6h0m.8 181.5h0m1.7-115.7h0m.4-49.9h0m.7 8.2h0m.2 130.9h0m1.1 31.5h0m2.2-122.8h0m1.4-50.1h0m1.1-.2h0m.8 53.6h0m.7 126h0m.8-201.3h0m.2 77.8h0m.4-46.8h0m.3-17.4h0m.1-7.1h0m2 201.6h0m.5-131.8h0m.4-45.9h0m2 37.1h0m0 137.5h0m.1-201.2h0m.1 168.6h0m1-153h0m.5 25.2h0m.6 179.1h0m.1-188.6h0m1-10.6h0m.2 186.7h0m.4-196.5h0m.1 23.4h0m.1 155.9h0m1 1.2h0m.5-173.4h0m.1 152.9h0m.5-141.8h0m.6 43.6h0m1.6-18.8h0m.1-15.3h0m.8 171.9h0m2-182.8h0m.1 162.1h0m.1-170h0m.1 150h0m.1-6.3h0m.8-134.1h0m0-6.2h0m.2-22.8h0m.2 52h0m.7 102.8h0m.6-150.5h0m.8 207.7h0m.3-199.4h0m.3 43.3h0m.7-20.3h0m0 132.4h0m2.9-119.4h0m0-23.2h0m.1-29.3h0m1.2 18.9h0m.3 27.7h0m.8-43h0m.6 167.2h0m.6-119.3h0m1.3 4.8h0m.4 138.3h0m.7 14.4h0m1.7-168.3h0m.2-28.4h0m.4 55.5h0m.1 100h0m.3-137h0m.9 .2h0m0-17.9h0m.1 181.5h0m.6-116.4h0m.2-71.1h0m.3 48h0m.3-33.8h0m0-18.2h0m.5 38.9h0m1.1 7.3h0m.1 121.1h0m.8 47.5h0m.6-37.2h0m.1-185h0m.1 201.8h0m.1-31.2h0m.6 45h0m3.6-162.6h0m.2-30.2h0m.3-7.5h0m1.8 61.5h0m.1 96.5h0m.1-113.5h0m0 124.9h0m1.1 8.6h0m.8-127.9h0m.1-64.1h0m2.2 36.6h0m.2-26.2h0m.4 32.6h0m2.5-42.7h0m.1 30h0m.3 147.4h0m.4-15.7h0m.1 46h0m.4-121.8h0m.2-26.5h0m.4 32.7h0m0 119.4h0m.6-177.2h0m.9 5.5h0m1.2-23.3h0m.3 158.9h0m.5-163.9h0m.7 46.3h0m.1 120.3h0m.6-17.9h0m1 47.2h0m.4-8.8h0m.8-40.2h0m.7 47h0m.6-163.1h0m1.1 145.5h0m.3-135.2h0m.1 98.8h0m1-128h0m.8 188.2h0m.2-189.7h0m.7-11.7h0m.7 70.2h0m.2 109.6h0m1-23.2h0m.3 46.3h0m.7-164h0m.5-34.5h0m0 64.4h0m.6 30.1h0m.7 85.7h0m1 6.4h0m1.3-.2h0m.3-39.7h0m.9-8.7h0m.3 42.9h0m.2-13h0m.4-141.7h0m0 166.6h0m.7-139.1h0m.1-45.9h0m.2 47.2h0m.1 134.4h0m.2-124.7h0m3.1 40.4h0m.3 12.7h0m.5-32.9h0m1.4-28.4h0m.2 42.3h0m.2 87.3h0m.3-93.8h0m5.8-54.3h0m.2 92.2h0m.1 17h0m.5-114.7h0m.8 85.9h0m1.2-17.6h0m.2-76.2h0m1.2 145.5h0m.8-109.5h0m1.7 79.3h0m.1-21.9h0m1.2 12.1h0m.2-115.3h0m.9 150.7h0m.1-119.6h0m.4 29.5h0m1.4 94h0m.7-131.5h0m.4 3.4h0m1.5 83.3h0m.2-46.4h0m2.7 30.3h0m1.1 6.6h0m1.1-37.8h0m0 41.4h0m.5-72.8h0m0 96.1h0m.2-81.7h0m.6-23.3h0m.2 19.7h0m.4 63.8h0m2.7 7h0m1.3 28.6h0m1.1-82.1h0m.6-27h0m.9 58.9h0m3.5-17.8h0m.9-47.8h0m.3 54.7h0m.2 28.4h0m.2-69.6h0m1.2 17.6h0m.3 31.9h0m1.6-20.7h0m.7 31.1h0m.7 31.9h0m.7-18.7h0m.2-71.7h0m3.1 50h0m.5-1.1h0m.2 19h0m1.8-29.2h0m.5 6.4h0m2.4 24.8h0m.3-44.7h0m.3 48.6h0m2.2-27.3h0m.9-30.9h0m1.2 53.2h0m3-42.8h0m5.4 25.5h0" stroke="#4791b4" stroke-width="2"/>
<path d="M787 397h0m.5 4h0m12 82.8h0m.2-31.2h0m1.1 21.2h0m.5-4.6h0m.6 23.6h0m0-47.5h0m.1 37.7h0m.7-75.7h0m.6-24.4h0m.1 28.9h0m.4-18.6h0m2.2 39.1h0m.1-1.2h0m.2-20.5h0m.8 69.6h0m1.5-77.8h0m0 86.1h0m.7-104.3h0m1.6 98.9h0m0-118.9h0m0 12.6h0m0 .9h0m1.1 31.7h0m0 34.8h0m.7 53h0m.1-60.8h0m.2 4h0m.3 4h0m.7-64.9h0m.2-6.4h0m1.1 34.9h0m0-40.5h0m.5 27.6h0m.2 4.5h0m.4 51.6h0m1-14h0m0 35.2h0m.2-22h0m.6 40.5h0m1-49.2h0m.3-41h0m.1-11.4h0m.3 45.9h0m.5-18.3h0m1.5-24.2h0m.1 4h0m.1 73.3h0m.1 4.7h0m1.1-1.7h0m0-23.8h0m.6 9.2h0m.1-60.1h0m0 29.5h0m.2-35.4h0m.4 28.3h0m.2 32.8h0m.3-65.5h0m.1-18.6h0m.2 33.9h0m.7 28.9h0m.4-57.4h0m.3 47.4h0m.1 1.7h0m.1-33.6h0m.7-3h0m.3 28.2h0m.4 1h0m.1-28.3h0m0 40.2h0m.3 9.8h0m.2-59.1h0m.1 52.2h0m.3-59h0m.3 62.2h0m.7-7.7h0m.2 20.3h0m1.6-26.6h0m.2 29.9h0m1.1-90.4h0m.7 101.2h0m.3-4.2h0m.4-12.7h0m.2-73.2h0m.2 6h0m.3 50.6h0m.1-28.4h0m.4-38.6h0m.3 20.7h0m.2 12.4h0m.5 74.9h0m.8 9.6h0m.4-90.7h0m.2 55.7h0m0-36h0m.4 99.7h0m.2-113.6h0m.8 68.8h0m.2-58.4h0m.1-29.6h0m1.5 34.3h0m0-11.8h0m.4 36.2h0m.2-33h0m.2-19.9h0m.3 39.9h0m.4-14.7h0m.5-33.2h0m.1 63.2h0m.1-26.7h0m.8-14.2h0m.2 13.7h0m.4 92.9h0m.8 5.1h0m.4-80.5h0m.2-13.9h0m.1-38.2h0m.1 47h0m.2-42.2h0m0 47.6h0m.2-20h0m.1-19.3h0m.2 102.2h0m.6-65.8h0m1.3-70.1h0m.3 38.5h0m.4-5.6h0m.1-14.1h0m.6 7.8h0m.2 113.9h0m1.2-41h0m.7 21.1h0m1.5-58.8h0m.9 41.7h0m.1-55.4h0m.2-16.4h0m1.1 55.6h0m1-40.3h0m.3 7.8h0m.2-1h0m.6 92.4h0m1-83.7h0m.5 6.3h0m.1-41h0m0 49.2h0m.8-58.6h0m.2 51.8h0m.4 21.5h0m.2-58.1h0m1.6-4.9h0m0 125.7h0m.2 14.6h0m.3-76.6h0m.1-57.6h0m.5 110.4h0m.1 11.9h0m.1-91.3h0m.5-9h0m.3-7.2h0m0 .3h0m.5 69.7h0m.2-104.6h0m.1 55.7h0m.2-12h0m.5-5.4h0m.2-43h0m1.1 14.6h0m.2 99.2h0m0 11.6h0m.5-64.9h0m.3 22h0m.9-45.7h0m.2 68.2h0m0-79.8h0m.2 102.5h0m1.3-26.8h0m.3 54.2h0m.8-146.7h0m.1 9.8h0m1.8 148.4h0m0-18.3h0m.2-100.6h0m.3 43.1h0m.1-12.3h0m.4 41.8h0m.1-97.3h0m.2 66.9h0m.2 83.2h0m0-8.6h0m.3-116.8h0m.2 125.9h0m.3-146.6h0m.4-44.3h0m.4 141.8h0m1.6-9.2h0m.6 51.3h0m.4-100.8h0m.6 15.6h0m.5-26.8h0m.1 26.7h0m0-52.7h0m.5 117.7h0m1.3-81.9h0m.1 84h0m.9-73.2h0m.2-67.4h0m.1 29.3h0m.1-43.2h0m.4-26.5h0m.1 45.7h0m.3-40h0m.2 87h0m.4 96.3h0m.6-162.1h0m.1-11.5h0m.1 15.8h0m.6-10.7h0m.1 123.2h0m1.3-59.5h0m.1 69.5h0m0-74.9h0m.3 97.2h0m.3 20.2h0m0-180.8h0m.7 64.8h0m.4 129h0m.4-17.2h0m.8-156.9h0m.3 127.2h0m1.2-141.6h0m1.4-2.9h0m.9-11.3h0m.9 170.3h0m1.4-166.6h0m.7 176.9h0m.3 4.3h0m.3-195.7h0m.7 46.8h0m1.2 165h0m.5-210.1h0m.9 9h0m0 20.2h0m.1 181.5h0m0-54.6h0m1 57.7h0m.1-37.9h0m.4 6.2h0m.6 22.8h0m.2-51.1h0m1.1-146.4h0m.2 40h0m.5-38.7h0m.2 49.3h0m0 21.5h0m.2-62.6h0m.3-13.2h0m.3 45.6h0m0-12.7h0m.5 3.6h0m.6-42.4h0m.2 199.8h0m.2-181.3h0m1.6 39.3h0m.5-52.7h0m.6 213.5h0m1.9-41.4h0m.5-128.3h0m.7 106.3h0m.4-145.9h0m.2 34.6h0m.2-17.5h0m.2 11.7h0m.5 26.3h0m.6-39.9h0m0 141.1h0m.1 51.3h0m2.5-167h0m1.1 3.3h0m.6-43h0m.6 191.9h0m.7 19.6h0m.1-226.5h0m.1 169.1h0m1 52.5h0m.5-145.1h0m.1-34.6h0m.3 173.5h0m.3-23.5h0m.6-124.6h0m.2 105.2h0m1.8-163.4h0m.8 176.3h0m1.8 40.4h0m1.2-212.2h0m.2 42.7h0m3-38.9h0m.5 56.6h0m1-9.1h0m.1 142.5h0m.6-172.7h0m0-23.2h0m.3 199.8h0m.5-39.9h0m.3-174.1h0m1.3 19.5h0m.6-7h0m.6 207.5h0m.4-188h0m.4 160.6h0m0 4.3h0m.6 13.9h0m.4-202.2h0m.2 184.3h0m.8-159.6h0m1.2 156.8h0m.1-132.2h0m.7-13.2h0m.2-15.5h0m.3 .2h0m.8 11.7h0m1.9 143.9h0m1.4-114.6h0m0-39.4h0m.5 193.8h0m.3-145.8h0m.3 141.1h0m.2-25h0m.1-169.2h0m1.4 8.4h0m.1 177.5h0m.6 5.9h0m.2-1.4h0m.6-16.9h0m0-193.3h0m.7 49h0m.1-38.7h0m.2 152h0m.1 36.3h0m.6 19.4h0m1.8-31h0m1.1-3h0m.4-123.3h0m.2 141.1h0m0-42.7h0m.1-90.2h0m1.1 98.6h0m.5-167.6h0m.2 65.1h0m1.6-56.8h0m0 24.3h0m2.2 179.3h0m.6-209.9h0m1.1 66.8h0m.4-58h0m1.9 183.1h0m.1 14h0m1.5-144.4h0m.2-39.4h0m.2 176.7h0m.1-13.9h0m2.5-33.8h0m.1 19h0m0-111.6h0m.1-59h0m.7 60.5h0m0-26.3h0m.1 159h0m.8-10.3h0m1-103.6h0m0-37.3h0m.1 141h0m0 28.6h0m.3-147.2h0m2.2 91.6h0m.2 20.7h0m.2-147h0m1.3-18.2h0m2.5 51.2h0m.6 16h0m.5-41.2h0m.3 34.7h0m.2 87.6h0m.6 38.2h0m.6-139.6h0m.4 123.1h0m.8-147h0m.8-16.1h0m.3-12.8h0m2.3 80.7h0m.1-54.6h0m.3 1.9h0m.3 115.1h0m.1-63h0m0 90.8h0m.4-142.8h0m.7 132.6h0m0-125.1h0m0 56.1h0m1.2 89.5h0m1.7 5.7h0m.2-39.4h0m.5-64.4h0m.8-14.2h0m.2-50.5h0m.6-3.2h0m6.7 41.3h0m.1 7.8h0m.7 67.3h0m1-105.5h0m.1 118.4h0m.4 .5h0m1.8 23.2h0m.7-115h0m1.7 28.4h0m2.2 34.1h0m.4 15.5h0m.6-78.9h0m.2 113.4h0m.1-50.9h0m.6-36.1h0m.5 77.4h0m2.6-54.1h0m.4 72.9h0m1.4-84.3h0m0-.4h0m.1 3.3h0m.8-14.4h0m5.6 8.4h0m.1-30.2h0m.7 4.1h0m.5 70.2h0m1.9-84.6h0m.1 93.3h0m.5-56.1h0m.3-27.8h0m.2 45.4h0m1.7-41.3h0m.4-16.9h0m1.2 19.2h0m.3 69.8h0m2.6-80.4h0m1.1 83.9h0m.3-89.1h0m1.9 41.2h0m.1-16.2h0m3.4 77.3h0m.4-17.3h0m.4-28.8h0m1-33.1h0m.7 77.7h0m.3-81.6h0m.6 53.2h0m1 10.6h0m0-40.9h0m1.2-10h0m1.9 61.8h0m.8-27.7h0m1.2 23.1h0m2.7-55.6h0m.8 30.7h0m1.7-14.4h0m1.4 10.5h0m2.9-6.2h0m.3-8.7h0m1 19.5h0" stroke="#fff" stroke-width="2.7" stroke-opacity="1.0"/>
<path d="M787 397h0m.5 4h0m12 82.8h0m.2-31.2h0m1.1 21.2h0m.5-4.6h0m.6 23.6h0m0-47.5h0m.1 37.7h0m.7-75.7h0m.6-24.4h0m.1 28.9h0m.4-18.6h0m2.2 39.1h0m.1-1.2h0m.2-20.5h0m.8 69.6h0m1.5-77.8h0m0 86.1h0m.7-104.3h0m1.6 98.9h0m0-118.9h0m0 12.6h0m0 .9h0m1.1 31.7h0m0 34.8h0m.7 53h0m.1-60.8h0m.2 4h0m.3 4h0m.7-64.9h0m.2-6.4h0m1.1 34.9h0m0-40.5h0m.5 27.6h0m.2 4.5h0m.4 51.6h0m1-14h0m0 35.2h0m.2-22h0m.6 40.5h0m1-49.2h0m.3-41h0m.1-11.4h0m.3 45.9h0m.5-18.3h0m1.5-24.2h0m.1 4h0m.1 73.3h0m.1 4.7h0m1.1-1.7h0m0-23.8h0m.6 9.2h0m.1-60.1h0m0 29.5h0m.2-35.4h0m.4 28.3h0m.2 32.8h0m.3-65.5h0m.1-18.6h0m.2 33.9h0m.7 28.9h0m.4-57.4h0m.3 47.4h0m.1 1.7h0m.1-33.6h0m.7-3h0m.3 28.2h0m.4 1h0m.1-28.3h0m0 40.2h0m.3 9.8h0m.2-59.1h0m.1 52.2h0m.3-59h0m.3 62.2h0m.7-7.7h0m.2 20.3h0m1.6-26.6h0m.2 29.9h0m1.1-90.4h0m.7 101.2h0m.3-4.2h0m.4-12.7h0m.2-73.2h0m.2 6h0m.3 50.6h0m.1-28.4h0m.4-38.6h0m.3 20.7h0m.2 12.4h0m.5 74.9h0m.8 9.6h0m.4-90.7h0m.2 55.7h0m0-36h0m.4 99.7h0m.2-113.6h0m.8 68.8h0m.2-58.4h0m.1-29.6h0m1.5 34.3h0m0-11.8h0m.4 36.2h0m.2-33h0m.2-19.9h0m.3 39.9h0m.4-14.7h0m.5-33.2h0m.1 63.2h0m.1-26.7h0m.8-14.2h0m.2 13.7h0m.4 92.9h0m.8 5.1h0m.4-80.5h0m.2-13.9h0m.1-38.2h0m.1 47h0m.2-42.2h0m0 47.6h0m.2-20h0m.1-19.3h0m.2 102.2h0m.6-65.8h0m1.3-70.1h0m.3 38.5h0m.4-5.6h0m.1-14.1h0m.6 7.8h0m.2 113.9h0m1.2-41h0m.7 21.1h0m1.5-58.8h0m.9 41.7h0m.1-55.4h0m.2-16.4h0m1.1 55.6h0m1-40.3h0m.3 7.8h0m.2-1h0m.6 92.4h0m1-83.7h0m.5 6.3h0m.1-41h0m0 49.2h0m.8-58.6h0m.2 51.8h0m.4 21.5h0m.2-58.1h0m1.6-4.9h0m0 125.7h0m.2 14.6h0m.3-76.6h0m.1-57.6h0m.5 110.4h0m.1 11.9h0m.1-91.3h0m.5-9h0m.3-7.2h0m0 .3h0m.5 69.7h0m.2-104.6h0m.1 55.7h0m.2-12h0m.5-5.4h0m.2-43h0m1.1 14.6h0m.2 99.2h0m0 11.6h0m.5-64.9h0m.3 22h0m.9-45.7h0m.2 68.2h0m0-79.8h0m.2 102.5h0m1.3-26.8h0m.3 54.2h0m.8-146.7h0m.1 9.8h0m1.8 148.4h0m0-18.3h0m.2-100.6h0m.3 43.1h0m.1-12.3h0m.4 41.8h0m.1-97.3h0m.2 66.9h0m.2 83.2h0m0-8.6h0m.3-116.8h0m.2 125.9h0m.3-146.6h0m.4-44.3h0m.4 141.8h0m1.6-9.2h0m.6 51.3h0m.4-100.8h0m.6 15.6h0m.5-26.8h0m.1 26.7h0m0-52.7h0m.5 117.7h0m1.3-81.9h0m.1 84h0m.9-73.2h0m.2-67.4h0m.1 29.3h0m.1-43.2h0m.4-26.5h0m.1 45.7h0m.3-40h0m.2 87h0m.4 96.3h0m.6-162.1h0m.1-11.5h0m.1 15.8h0m.6-10.7h0m.1 123.2h0m1.3-59.5h0m.1 69.5h0m0-74.9h0m.3 97.2h0m.3 20.2h0m0-180.8h0m.7 64.8h0m.4 129h0m.4-17.2h0m.8-156.9h0m.3 127.2h0m1.2-141.6h0m1.4-2.9h0m.9-11.3h0m.9 170.3h0m1.4-166.6h0m.7 176.9h0m.3 4.3h0m.3-195.7h0m.7 46.8h0m1.2 165h0m.5-210.1h0m.9 9h0m0 20.2h0m.1 181.5h0m0-54.6h0m1 57.7h0m.1-37.9h0m.4 6.2h0m.6 22.8h0m.2-51.1h0m1.1-146.4h0m.2 40h0m.5-38.7h0m.2 49.3h0m0 21.5h0m.2-62.6h0m.3-13.2h0m.3 45.6h0m0-12.7h0m.5 3.6h0m.6-42.4h0m.2 199.8h0m.2-181.3h0m1.6 39.3h0m.5-52.7h0m.6 213.5h0m1.9-41.4h0m.5-128.3h0m.7 106.3h0m.4-145.9h0m.2 34.6h0m.2-17.5h0m.2 11.7h0m.5 26.3h0m.6-39.9h0m0 141.1h0m.1 51.3h0m2.5-167h0m1.1 3.3h0m.6-43h0m.6 191.9h0m.7 19.6h0m.1-226.5h0m.1 169.1h0m1 52.5h0m.5-145.1h0m.1-34.6h0m.3 173.5h0m.3-23.5h0m.6-124.6h0m.2 105.2h0m1.8-163.4h0m.8 176.3h0m1.8 40.4h0m1.2-212.2h0m.2 42.7h0m3-38.9h0m.5 56.6h0m1-9.1h0m.1 142.5h0m.6-172.7h0m0-23.2h0m.3 199.8h0m.5-39.9h0m.3-174.1h0m1.3 19.5h0m.6-7h0m.6 207.5h0m.4-188h0m.4 160.6h0m0 4.3h0m.6 13.9h0m.4-202.2h0m.2 184.3h0m.8-159.6h0m1.2 156.8h0m.1-132.2h0m.7-13.2h0m.2-15.5h0m.3 .2h0m.8 11.7h0m1.9 143.9h0m1.4-114.6h0m0-39.4h0m.5 193.8h0m.3-145.8h0m.3 141.1h0m.2-25h0m.1-169.2h0m1.4 8.4h0m.1 177.5h0m.6 5.9h0m.2-1.4h0m.6-16.9h0m0-193.3h0m.7 49h0m.1-38.7h0m.2 152h0m.1 36.3h0m.6 19.4h0m1.8-31h0m1.1-3h0m.4-123.3h0m.2 141.1h0m0-42.7h0m.1-90.2h0m1.1 98.6h0m.5-167.6h0m.2 65.1h0m1.6-56.8h0m0 24.3h0m2.2 179.3h0m.6-209.9h0m1.1 66.8h0m.4-58h0m1.9 183.1h0m.1 14h0m1.5-144.4h0m.2-39.4h0m.2 176.7h0m.1-13.9h0m2.5-33.8h0m.1 19h0m0-111.6h0m.1-59h0m.7 60.5h0m0-26.3h0m.1 159h0m.8-10.3h0m1-103.6h0m0-37.3h0m.1 141h0m0 28.6h0m.3-147.2h0m2.2 91.6h0m.2 20.7h0m.2-147h0m1.3-18.2h0m2.5 51.2h0m.6 16h0m.5-41.2h0m.3 34.7h0m.2 87.6h0m.6 38.2h0m.6-139.6h0m.4 123.1h0m.8-147h0m.8-16.1h0m.3-12.8h0m2.3 80.7h0m.1-54.6h0m.3 1.9h0m.3 115.1h0m.1-63h0m0 90.8h0m.4-142.8h0m.7 132.6h0m0-125.1h0m0 56.1h0m1.2 89.5h0m1.7 5.7h0m.2-39.4h0m.5-64.4h0m.8-14.2h0m.2-50.5h0m.6-3.2h0m6.7 41.3h0m.1 7.8h0m.7 67.3h0m1-105.5h0m.1 118.4h0m.4 .5h0m1.8 23.2h0m.7-115h0m1.7 28.4h0m2.2 34.1h0m.4 15.5h0m.6-78.9h0m.2 113.4h0m.1-50.9h0m.6-36.1h0m.5 77.4h0m2.6-54.1h0m.4 72.9h0m1.4-84.3h0m0-.4h0m.1 3.3h0m.8-14.4h0m5.6 8.4h0m.1-30.2h0m.7 4.1h0m.5 70.2h0m1.9-84.6h0m.1 93.3h0m.5-56.1h0m.3-27.8h0m.2 45.4h0m1.7-41.3h0m.4-16.9h0m1.2 19.2h0m.3 69.8h0m2.6-80.4h0m1.1 83.9h0m.3-89.1h0m1.9 41.2h0m.1-16.2h0m3.4 77.3h0m.4-17.3h0m.4-28.8h0m1-33.1h0m.7 77.7h0m.3-81.6h0m.6 53.2h0m1 10.6h0m0-40.9h0m1.2-10h0m1.9 61.8h0m.8-27.7h0m1.2 23.1h0m2.7-55.6h0m.8 30.7h0m1.7-14.4h0m1.4 10.5h0m2.9-6.2h0m.3-8.7h0m1 19.5h0" stroke="#4791b4" stroke-width="2"/>
<path d="M1005 444.5L1004.7 451L1003.8 456.2L1002.2 461.1L1000.1 465.5L997.4 469.7L994.1 473.5L990.2 476.9L985.8 480L980.9 482.8L975.6 485.1L969.7 487L963.4 488.5L956.6 489.6L949.1 490.3L940 490.5L930.9 490.3L923.4 489.6L916.6 488.5L910.3 487L904.4 485.1L899.1 482.8L894.2 480L889.8 476.9L885.9 473.5L882.6 469.7L879.9 465.5L877.8 461.1L876.2 456.2L875.3 451L875 444.5L875.3 438L876.2 432.8L877.8 427.9L879.9 423.5L882.6 419.3L885.9 415.5L889.8 412.1L894.2 409L899.1 406.2L904.4 403.9L910.3 402L916.6 400.5L923.4 399.4L930.9 398.7L940 398.5L949.1 398.7L956.6 399.4L963.4 400.5L969.7 402L975.6 403.9L980.9 406.2L985.8 409L990.2 412.1L994.1 415.5L997.4 419.3L1000.1 423.5L1002.2 427.9L1003.8 432.8L1004.7 438z" fill="#fcd3cf" stroke="none" filter="url(#bl2)"/>
<g fill="#f7a29b" stroke="none" filter="url(#bl3)" clip-path="url(#cp3)"><ellipse cx="940.4" cy="439.2" rx="46" ry="38"/><ellipse cx="986.5" cy="456" rx="19" ry="17"/><ellipse cx="898.4" cy="468.6" rx="21" ry="17"/><ellipse cx="940.4" cy="480" rx="40" ry="11"/><ellipse cx="881.6" cy="447.6" rx="10" ry="14"/><ellipse cx="915" cy="415" rx="18" ry="14"/></g>
<path d="M873.1 444.8h0m.1-2.5h0m.1 5.6h0m.1 3.7h0m.3-2h0m.1-10.4h0m.1 13.8h0m.3-6.8h0m.2 9.8h0m.3-1.5h0m0-10.8h0m.1 4.7h0m.1 3.6h0m.3-14.7h0m0 2h0m.1 1.5h0m.3 16.3h0m.4-1.4h0m.1-13.6h0m0 4.6h0m.1 3h0m0-6.1h0m.2 4.6h0m0 4.1h0m0 1.7h0m.1 5.5h0m.1-20.8h0m.2 6.4h0m.1 5.8h0m.1-13.7h0m0-1.3h0m.3 5.4h0m0-1.5h0m.2 3.2h0m.1 13.3h0m.2 1.6h0m0-5h0m.1-6.1h0m.1 7.6h0m0-4.7h0m.2 1.7h0m0-16.6h0m.2 24.5h0m0 7h0m.1-18.2h0m.1-10.1h0m0 3.9h0m0-5.7h0m.2 24.6h0m.3-17.3h0m.1 1.6h0m0 11.4h0m.1-16.5h0m0 6.8h0m0 6h0m0 10.9h0m0-1.4h0m.2-3.9h0m.2-8.7h0m.1 4.6h0m.1 11.4h0m0-31.4h0m.3 34.1h0m.1-20.5h0m.1-11.1h0m.1 30.1h0m.1-10.7h0m0-11.9h0m0-2h0m.1 9.9h0m.1-1.7h0m.1 12.5h0m.2-17.2h0m0 13.2h0m0-20.5h0m.1-2.9h0m.3-1.5h0m0 26.8h0m.1-6.9h0m0 14.4h0m.2-28h0m0 29.5h0m.1-4.7h0m.3-8.3h0m0 9.6h0m0-4.2h0m.1-18.7h0m0 7.8h0m.1-6.1h0m0 3.7h0m.1-1.9h0m0-11.3h0m.1 24h0m.2 11.5h0m0-16.1h0m0-13.7h0m.1 31.5h0m0-35.7h0m0 1.5h0m.1 25.4h0m.1-11.4h0m.2 15h0m0-9.4h0m.2 2.9h0m.1-21.1h0m.1 29.1h0m.1-12.9h0m.1-5.6h0m.1-14.5h0m.1 6.2h0m.1 20.5h0m0-17.8h0m.1 2.3h0m.1-9.7h0m.2 34.2h0m0-5.9h0m.1-31.3h0m0 20.2h0m0 2.7h0m0 12.7h0m.1-10.8h0m.1 14.9h0m.1-13h0m0 2.7h0m.1-20.1h0m.1 9.1h0m0-1.5h0m.1-11.1h0m.2 8.4h0m0-9.9h0m.2 36.7h0m.1-33.7h0m0 26.5h0m.1-32.2h0m0 36.3h0m0-26.1h0m.2 10.5h0m0 1.8h0m0-8.7h0m.1 20.1h0m.2-6.6h0m.1 11h0m.1-20.7h0m0 13.2h0m.1-6h0m.3-5.3h0m.1 9.4h0m0-22.2h0m.1 14.9h0m0-20.4h0m0 11.2h0m0-9.1h0m0 31.7h0m.1-2.7h0m0-17.4h0m0-5.7h0m0 16.9h0m.3-2.9h0m.1 10.4h0m0 3.9h0m.3 2.8h0m0-29.8h0m.1 16.8h0m0-9.8h0m.3 21.3h0m0-18.3h0m.1-12.7h0m0 22.2h0m.1-24.9h0m0 19.5h0m0 11.6h0m.1-4.1h0m0-29.7h0m0 16.7h0m0 15.4h0m.1-12.4h0m0 4h0m.4-12.3h0m0-4.7h0m.2 19.3h0m0-12.2h0m.1 25.5h0m.1-2.1h0m0-16h0m.1 13.9h0m0-19.7h0m.1 2.6h0m.1-13.1h0m.1 26h0m.1-1.8h0m0-19.7h0m.1 23.9h0m.2-13.8h0m0 7.7h0m0-3.3h0m.3-20.5h0m.2 34.8h0m.1-12.6h0m0-9.6h0m.1 4.8h0m0 19.3h0m.2-29.2h0m.1-2.8h0m0 26.4h0m.2-3.2h0m0-1.7h0m.3-7.6h0m0 5.1h0m.1-12.5h0m0 3.4h0m.1 5.9h0m.2 12.4h0m.1 5.1h0m.2-2.1h0m.1-13.9h0m.1-5.7h0m.1 12.3h0m.1 6h0m0-21.3h0m0 11.6h0m0 1.7h0m.4-6h0m.1-6h0m.1 22.3h0m.1-4.3h0m.1-1.4h0m0-13.3h0m.1-25.2h0m.1 16.6h0m0 13.9h0m0 12.4h0m0-16.1h0m.2 6.3h0m.1 13.2h0m.1-11h0m0-16.3h0m.2 28.8h0m.1-18.6h0m.1-25.9h0m0 17.5h0m.1 20.9h0m0-31.8h0m0-11.8h0m.1 38.7h0m.1-31.9h0m0 19.2h0m.1 16h0m0-14.5h0m.1 1.7h0m.1-20.8h0m0 15.9h0m.2 8.1h0m.1 2.6h0m0 10.1h0m.1-46.5h0m.1 48.7h0m.1-27.8h0m.1 20.2h0m.1-18.2h0m.1 27.6h0m.1-12.7h0m0-24.9h0m.2 26.6h0m0-7.8h0m.1-12.6h0m0-14.1h0m.1 24h0m0 23.1h0m0-6.5h0m0-47.5h0m.1 9.1h0m.1-5.7h0m.1 22.6h0m0 23.2h0m.1-21.6h0m.1-43.2h0m0 59.6h0m0-42.3h0m0 15.9h0m.1-4.3h0m0 25h0m0-2.7h0m0-23.6h0m0 39h0m0-5.1h0m.1-40.4h0m.1 13.7h0m0-3.2h0m.2 7.9h0m0-30.1h0m.1-13h0m0 48.9h0m0-19.2h0m0 32.1h0m.1-5.5h0m.1-5.4h0m0-49.3h0m0 5.2h0m.1 9.4h0m.1 10.4h0m0 13.7h0m.1 19.9h0m0-26.7h0m0-28.7h0m.1 48.2h0m.1 5.8h0m0-21.2h0m.1-14.9h0m0-3.2h0m0 28.1h0m.1 18.6h0m0-57.8h0m0-5.5h0m.1 25h0m0-10.5h0m0 45.6h0m.1 11.3h0m0-5h0m.1 2.9h0m0-35.9h0m.1 18.3h0m0-29.8h0m0 40h0m0-20h0m.1 5.3h0m.1-39.6h0m0 20.3h0m0 11.1h0m.1 25.7h0m0-33h0m.1 4.4h0m0-23.2h0m0-16.5h0m.1 4.8h0m.2 1.6h0m0 27.2h0m0 10.6h0m.1-24.7h0m.1 28.4h0m0-20.3h0m0 29.9h0m0-36h0m0 40.9h0m.1-52.5h0m0-1.7h0m.1 4.5h0m0 25.4h0m0 3.1h0m0-43.1h0m0 25.9h0m0 49.6h0m.1-44.1h0m0 41.9h0m0-53.3h0m.1 31.6h0m.1 5.5h0m.1-3h0m0 17.3h0m0-9.4h0m0 6.1h0m.1-40.6h0m0-21.8h0m.1-2.5h0m0 29.8h0m0 36.7h0m.3-31.6h0m0 10.7h0m.1-35.8h0m0 31.2h0m.1 21h0m0-18h0m0 5.7h0m.1-33.8h0m0-10.6h0m0 33.9h0m.1 13.1h0m0-30.5h0m0 11.3h0m0-6h0m0 30.4h0m.1-53.6h0m0 38.7h0m0-22.3h0m.1-22h0m0 57.7h0m0-8.7h0m.1 24.6h0m.1-63.4h0m0 14.7h0m0 40.6h0m0-34.9h0m.1 31.8h0m0 7.8h0m.1-61.5h0m0 52h0m.1-33h0m0 11.7h0m.1-19.3h0m0 12.2h0m.1-19.1h0m0 37.1h0m.1 16.7h0m.1-64.8h0m0 33.3h0m0-20.1h0m0 40.7h0m.1 15.6h0m.1-20h0m0-25.3h0m0 42h0m0-69.5h0m0 43.7h0m0-13.1h0m.1-22.5h0m0 38.6h0m.1 1.8h0m0 16.3h0m0-46.5h0m.1 36.1h0m0-48.7h0m0 29.3h0m.1 2.9h0m0-18h0m0 3.9h0m.1 51.8h0m.1-4.8h0m0-57.4h0m.1 8.7h0m0-20.2h0m0-3.1h0m.1 68.3h0m0-8.8h0m0-46.3h0m.1 27.9h0m0-14.5h0m0 36.2h0m.1-33.2h0m0 31.4h0m0-18.2h0m0 32.3h0m.1-10.3h0m0-13h0m0-40.7h0m0 46.5h0m.1 9.3h0m0-69.6h0m.1 48.6h0m.1-27.2h0m.1-10.7h0m0 12.3h0m.1-3.6h0m.1 18.6h0m0-25.7h0m0-4.2h0m.3-4.6h0m0 37.3h0m0 32.5h0m0-37h0m.1 15.4h0m0-45.1h0m0 21.4h0m0-11h0m0 39.5h0m0 18.3h0m.1-48.7h0m0 16.5h0m0-18.1h0m0-9h0m0 38.1h0m0 27.3h0m.1-75.8h0m0 71.5h0m0-14.4h0m0 4.6h0m.1 1.8h0m.1-38.3h0m0 27.7h0m0 20.5h0m.1-69.3h0m0-10.7h0m0 2.8h0m0 64.1h0m0-18.6h0m.1 3.1h0m.1-10.6h0m0-4.8h0m0 29.6h0m0 7.4h0m0-27.3h0m.1-30h0m0 45.8h0m0-60.1h0m.1 54.9h0m0 15.2h0m.1-47.8h0m.1-10.1h0m0 6.2h0m.1-10.8h0m.1-3.7h0m0 28.4h0m.2 8.4h0m0 22.2h0m0-46h0m0 7.5h0m.1 23.8h0m0 3.8h0m.1 1.6h0m0-10.4h0m0-16.3h0m.1 30.2h0m0-54.4h0m0 18.1h0m0 40.7h0m0 11.7h0m.1 3.8h0m.1-18.4h0m0-23.1h0m0-1.9h0m0-23.4h0m.1 35.8h0m0 4.6h0m0 30h0m.1-43h0m0 37.7h0m0-7.5h0m.1-53.8h0m0 30.6h0m.1-15.9h0m0-23.5h0m0 64.7h0m.2-27.8h0m0-34.8h0m0-7.4h0m0 30.5h0m0 35.4h0m0-1.7h0m.1-16.8h0m.1-31.9h0m.1 24.7h0m0 37.9h0m0-79.6h0m0 10.6h0m0 13.8h0m0-3.6h0m.1 30h0m0-47.5h0m.1 9.5h0m0 14.8h0m0-13.3h0m0 49.6h0m.1-7.7h0m.1 1.9h0m0 2.3h0m.1-24.9h0m0-12.4h0m0 50.9h0m0-68.8h0m.1 72.6h0m0-25.7h0m.1 10.1h0m0-24.1h0m0 37.9h0m.1 5.7h0m.2-66.1h0m0 3.4h0m0 51.1h0m0-44h0m0 28.5h0m.1 13.8h0m0 3.9h0m0-38.7h0m.1-31.2h0m0 9.1h0m.1 18.1h0m0 13.9h0m0 21.5h0m0-19.3h0m0 37.4h0m.1-83.9h0m0 40.6h0m0-32.9h0m.1 41.2h0m.1-39.3h0m.1 71h0m0-26.7h0m0-2.1h0m0-36.6h0m0-4.2h0m0-9.5h0m.1 59.5h0m0-36.4h0m.1-1.6h0m0 20h0m.1 28.9h0m0-67.2h0m0 59.5h0m.1-50.4h0m.1 53.9h0m0 6.2h0m0-36.4h0m.1 37.9h0m0 1.7h0m0-44.4h0m0 49.8h0m0-25.3h0m0-38.7h0m.1 44.3h0m.1 7.3h0m.1-11.1h0m0-30.2h0m0-12.2h0m.1 4.1h0m0-18.2h0m0 62.9h0m0-53.5h0m.1 19.2h0m0 17.2h0m0 31.2h0m0-44.6h0m0 10h0m.1-37.5h0m.1 47.8h0m0-28.2h0m0 13.1h0m.1 6.6h0m0-31.8h0m0 27.1h0m0-41.3h0m.1 84h0m0-34.4h0m.1 31.1h0m0-28h0m0-17h0m.1-14.5h0m0 39.5h0m.1-37h0m0 59h0m.1-10.2h0m0-1.7h0m0-58.5h0m.1 54.4h0m0-23.6h0m0 19.7h0m.2-54.4h0m0 67.7h0m0 1.5h0m.1-67.4h0m0 48.4h0m0-43.2h0m.1 22.8h0m0-35.3h0m.2 65.1h0m0-23.5h0m0-39h0m0 28.4h0m.1 23.2h0m0-5.7h0m.1-21.4h0m0 11.7h0m0-19.4h0m0 23.8h0m0-29.4h0m0 38.5h0m0 4.7h0m0-45.9h0m.1 26h0m0 44.4h0m0-85.4h0m.1 26.2h0m0 36.5h0m.1-41.5h0m0 7h0m0 20.3h0m0-46.8h0m.1 63.3h0m0-32.2h0m0 49.8h0m0-7.1h0m.1-56.3h0m.1 52.4h0m0 9.3h0m0-76.1h0m0 32.4h0m.1-29.2h0m0 58.6h0m.1 6.9h0m.1-23.1h0m.1-37h0m0-3.2h0m0 73.9h0m0-29.5h0m0 22.2h0m.1-73.6h0m.1 30.9h0m0 45.1h0m.1-33.1h0m0 11.1h0m.1-15.6h0m0-1.7h0m.1 3.9h0m0 9.4h0m.1 32.4h0m0-56.5h0m0 2.6h0m0 27.3h0m0-36.4h0m0 2.7h0m0-25.3h0m.1 26.9h0m0 43.5h0m0-22.8h0m.2 19.9h0m0-2.9h0m0-1.6h0m0-27.3h0m0-30.1h0m.1 50.4h0m0 4.9h0m.1-58.9h0m0 17.3h0m0-7.8h0m0-2h0m.1 5.8h0m0 5.5h0m0-3.9h0m.1 56.1h0m0 1.5h0m.1-60.8h0m0 68.9h0m.1-2.6h0m.1-35.3h0m0 21.5h0m.1-38.4h0m0-20h0m.1 60.9h0m0-19h0m0 27.8h0m0-24.2h0m0-23.1h0m0 16.1h0m.1-4.5h0m0 1.6h0m.1-20.6h0m0-18.9h0m0 48h0m0-27.6h0m.1 9.7h0m0 22.8h0m0 14.6h0m.1-32.9h0m.1-26.2h0m.1 73.3h0m0-1.9h0m0-51.1h0m0-14.7h0m0 47h0m0-54.5h0m0-4.2h0m.1 9.9h0m0 20.7h0m.1-36.8h0m0 62.3h0m0-2h0m.1 6.7h0m0-46.5h0m.1 27.5h0m0 22.1h0m.1-30.1h0m.1 35.7h0m0-73.9h0m0 77.2h0m.1-24.8h0m0-46.1h0m0 17.4h0m0 33.3h0m.1-6h0m0 3h0m.1 21.5h0m0-3.6h0m0 6.8h0m.1-45h0m0 14.6h0m.1 21.3h0m.1-59.7h0m0-7.8h0m0 41.5h0m0 37h0m.1-25h0m0-27.7h0m0-2.1h0m.1 58.5h0m0-24.8h0m0-47.9h0m.1 2h0m0 3.4h0m0 14.6h0m0 35.4h0m0-68.4h0m.1 21.2h0m0 21.1h0m0-1.6h0m0-31.3h0m0 29.2h0m.1-15.8h0m0 60.9h0m0-18h0m0-48.8h0m0-11h0m.1 53.5h0m0-12.6h0m.1 16h0m.1-31.3h0m0 5.4h0m0-34.5h0m.2 67.5h0m0-44.2h0m0 25.7h0m.1-44.1h0m.1-3.1h0m0 39.5h0m.1 12h0m.1 8.7h0m0-29.1h0m.1 14.4h0m0-39.3h0m0 1.9h0m.1 27.6h0m0 17.8h0m0 16h0m.1 8.2h0m0-20.8h0m0-13h0m0-15.1h0m.1 42.9h0m0-46.4h0m0 48.6h0m0 6.6h0m0-69.6h0m.1 56.6h0m0-18.6h0m0-34.5h0m0 49.1h0m0-61.6h0m.2 14h0m.1 8h0m0-11h0m0 41.8h0m0-59.2h0m.1 54.9h0m0 32.6h0m.1-63.4h0m0 22.8h0m0 4.6h0m0-24.5h0m.1-4.5h0m0-17.8h0m.1 75.6h0m.1-41.7h0m0 18h0m.1-54.4h0m0 43.1h0m0 29.8h0m0-33.8h0m0 22.4h0m0-54.3h0m.1 16.2h0m0 6.8h0m0 32.8h0m0 5.1h0m0-8h0m0-18.9h0m.1 17.3h0m0 22h0m.1-33.5h0m.1 27.3h0m0-9.3h0m0-54.1h0m.1 21.2h0m0 44.4h0m0-47.6h0m.1 54.3h0m0-78.3h0m0 11.7h0m0 17.3h0m.1 16.8h0m0-13.1h0m0-10.6h0m.1-8.2h0m0-5.9h0m0 35.8h0m0 8.1h0m0 27.8h0m.1-13.1h0m.1-18.7h0m0-43.7h0m.2 57.3h0m.1-26.6h0m0-36.3h0m0 42.5h0m.1-15.3h0m0 48.1h0m0-79.6h0m.1 45.4h0m0-9.1h0m0 34.2h0m0-46.5h0m.1-1.8h0m0-19.7h0m0 41.2h0m.1 25h0m0-7.9h0m0-35.1h0m0-7.3h0m0-10.9h0m.1 66.8h0m0-57.7h0m.1 65.7h0m0-18.2h0m0 1.6h0m0 12.2h0m0-47.8h0m0 9h0m.1-24h0m0 47.2h0m0-11.8h0m.1 6h0m0 1.7h0m.1-3.5h0m0-21.8h0m0-24.2h0m0 43.3h0m.1-3.4h0m.1 24.2h0m.1 13.6h0m.1-74.8h0m0 15.5h0m.1 49.2h0m0-70.8h0m0 14.1h0m0 27.3h0m0-5.9h0m0-37.5h0m.1 30.6h0m0 45.1h0m.1-8.3h0m0-28.1h0m0-41.8h0m.1-1.6h0m0 69.1h0m0 15.5h0m.1-20.8h0m.1-55.5h0m0 29.2h0m0-23.3h0m0 8.2h0m.1 28.1h0m0 16.7h0m.1-21.5h0m0-16.7h0m.1 52.5h0m0-64.2h0m0 65.8h0m.1-27.9h0m0 10h0m0-34.6h0m0-20.9h0m0 49.5h0m.1 2.4h0m0-50.4h0m0 37.4h0m.1-25h0m0 54.4h0m.1-79.3h0m0 6.7h0m0 21.1h0m0-19.7h0m.1 33.1h0m0 30.4h0m0-37.4h0m.1 9.7h0m.1-21.5h0m0 54.6h0m0-23.4h0m.1-14.1h0m0-34.8h0m0 83.5h0m.1-45.7h0m0-28.6h0m0 12.4h0m.1 29.2h0m0 25.4h0m0-29.7h0m.1 35.5h0m0-40.9h0m0-28.7h0m.1 40.6h0m0 16.6h0m0-71.1h0m0 61.4h0m.1-5.4h0m0-21.5h0m0-19.1h0m0 30h0m.1-19.5h0m0 3.8h0m0-12.9h0m.1 10.9h0m0-18.8h0m.2 12h0m0 37.6h0m0 6.8h0m0 16.8h0m0-14.7h0m0 11.8h0m.1-76.4h0m.2 22h0m.1-20.5h0m0 7.5h0m0 29.6h0m0-23.4h0m0 15.1h0m.1 29.4h0m0-13.8h0m0 26.9h0m.1-38.3h0m0 26.8h0m0-57.5h0m.1 67.5h0m0-34.8h0m.1 7.3h0m0-27.2h0m0 65.2h0m0-33h0m0-8.3h0m.1-20.3h0m0 57.7h0m0-20.1h0m0 10.2h0m0-13.9h0m0-57.3h0m.1 72.9h0m.1-59.2h0m0 55.9h0m0 9.1h0m0-47.5h0m.1 22.7h0m0-17.6h0m0-34.2h0m.1 6.4h0m0 47.4h0m.1 27.8h0m0-67.8h0m0-5.9h0m.1 18.7h0m.1-23.4h0m0 40.5h0m0 31.3h0m.1-50.8h0m.1 42.2h0m.1-33.7h0m0 15.4h0m0-25.9h0m.1-13h0m0 52.3h0m0-44.2h0m.1 47.3h0m0-13.9h0m0-13.8h0m0-17.3h0m0 37.2h0m.1-55.4h0m0 67.1h0m0-27.8h0m0-9.8h0m.1 40.9h0m0-72.9h0m0 85.3h0m0-4.4h0m.1-9.4h0m0-7.6h0m0-57.5h0m.1 40.2h0m0 13h0m0 14.9h0m0-13.4h0m.1-5.5h0m.1 27h0m.1-32.2h0m0-34.1h0m0 62.2h0m0-66.6h0m.1 27.5h0m0-31.2h0m0-3.9h0m0 23.8h0m.1 7.4h0m0-5h0m0 37.9h0m0-49h0m0-5.9h0m.1 8.6h0m0 25.8h0m0-3.4h0m.2-3.5h0m0 13.3h0m0-36.5h0m0 8.8h0m.2 49.3h0m0-74.4h0m0 82.9h0m0-19h0m0-13.1h0m0 18.3h0m.1-37h0m.1-35.6h0m0 1.9h0m0 25.2h0m0 12.2h0m.1-30.3h0m.1 35.2h0m0 32.2h0m0-2.2h0m0-61.5h0m.2 18.6h0m0-25.9h0m.1 53.5h0m0-33.4h0m0-7.8h0m0 34.9h0m.1 12.8h0m0-4.5h0m0 10.3h0m0-25.6h0m.1 2.9h0m.1 31.3h0m0-10.8h0m.1-45.2h0m0-1.8h0m0 61.3h0m.1-42.2h0m0 22.9h0m0-29.3h0m0 27.6h0m0 23.2h0m0-66.3h0m.1-12.2h0m.1 26.1h0m0 48.5h0m.1-65.1h0m0-2h0m0-3.1h0m.1 9.2h0m0 17.3h0m.1-9h0m0 27.6h0m0-29h0m0 45.3h0m.1-72.6h0m0 4.1h0m0 35.3h0m0 37.5h0m0-67.5h0m0 41.4h0m.2 27.5h0m0-28.9h0m.1-5.5h0m0-42h0m0 33.9h0m0 11.1h0m0-29.2h0m.1 42h0m.1-46.9h0m0 41.4h0m0 11h0m0 5.6h0m0-2.7h0m.1 12.3h0m0-19.1h0m.1 13.9h0m0-67h0m0 78.8h0m.1-56.8h0m0 12.4h0m.1-1.6h0m0-6.6h0m.1-2.8h0m0-7.5h0m0-4.7h0m.1-4h0m0-12.3h0m0 22.7h0m0-15.3h0m0 72.6h0m.1-25.3h0m0 8.7h0m0 6.2h0m.1-66.1h0m0-6.8h0m.1 51.9h0m0-28.9h0m.1 23.1h0m0 10.4h0m0 7.1h0m.1-25.1h0m0 6.1h0m0-39.8h0m.1 81h0m0-38.3h0m.1 31.9h0m.1-19.4h0m.1 14.4h0m0-9h0m0-47.9h0m0-5.6h0m.1 58h0m0-36.7h0m0-19.6h0m0 22h0m0 4.6h0m.1-30.4h0m0 31.7h0m.1-20.8h0m0 7.5h0m0 54h0m0-83.4h0m0 44.2h0m0 12.3h0m0 3.4h0m.1-56.2h0m0-1.6h0m0 25.7h0m.1 5.2h0m0 18.4h0m0-20.1h0m.1 23.7h0m0-28.9h0m0 52.3h0m.1-15.9h0m0 19.6h0m.1-8.4h0m.1-68.6h0m0 4.3h0m0 43.6h0m.1-45.6h0m0 12.7h0m.1 37.6h0m0-7.5h0m0 26.7h0m.1-38.6h0m0 31.1h0m0-20.7h0m.1-32.3h0m.1 69.5h0m0-50.4h0m0 29.3h0m0-40.8h0m.1 43.9h0m.1-22.6h0m0-8.5h0m.1 10.3h0m0-34.7h0m0 71.6h0m.1-8.9h0m0-15.3h0m0-45.3h0m.1 72.8h0m.1-81.3h0m0-1.9h0m.1 48h0m0 30h0m0-71.8h0m0 7.5h0m0 53.9h0m.1-17.2h0m0 25.8h0m0-58.6h0m0 40.1h0m0-34h0m.2 5.3h0m0 30.4h0m0-23.3h0m.1-20.8h0m0 58.3h0m0-4.7h0m0-6.9h0m0 19h0m0-42.8h0m.1-33.6h0m0 16.9h0m.1 8.9h0m0-31.6h0m0 53.4h0m0-26.8h0m0 2h0m.1 12.4h0m0 25.4h0m0-69.4h0m.1 38.7h0m0-15.3h0m.1-11.6h0m0 24.9h0m0 12.4h0m0 34.2h0m0-37.6h0m.1 13.1h0m0-45.2h0m.1 67.8h0m0-5.9h0m.1-24.1h0m.1 19.7h0m0-64.8h0m.1 41.3h0m0 12.7h0m.1-50.5h0m0 57.4h0m0-2.6h0m0-60.1h0m0 10.6h0m0 64h0m.2-59h0m0 66.6h0m0-70h0m.1 41h0m0 27.5h0m0-66.8h0m0 70.1h0m.1-35.1h0m0 8.5h0m.1-6.5h0m0-27.8h0m.1 4.9h0m.1 17.6h0m0-48.7h0m.1 6.1h0m0 66.3h0m.1 4.2h0m0-40.8h0m0 38.9h0m0 7.4h0m.1-2.7h0m0-39.9h0m0-10.2h0m.1-25.2h0m0 39.8h0m.1-23h0m0-18.8h0m0 10.2h0m0 33h0m0-3h0m.1-18.3h0m0-13.6h0m0 27.3h0m0 12.2h0m.1 18.2h0m0-4.1h0m0 6.5h0m.1-37h0m0-17.4h0m0 64.6h0m0-58h0m0 35.5h0m.1-49.3h0m.1 18.3h0m0 56.2h0m.1 1.5h0m0 2.4h0m0-25.9h0m.1-42.3h0m0 58.9h0m.1-24.3h0m.1-6.4h0m0 26.3h0m.1-68.6h0m0 60.1h0m0-30h0m.1-17.6h0m0 21.5h0m0-8h0m.1 10h0m0 25.7h0m0-38.1h0m.1-17.3h0m0-3.8h0m0 41.7h0m0-35.1h0m0 11.8h0m.1 36.7h0m0-7h0m0 25.8h0m.1-24.2h0m.1-53.5h0m.1-3h0m0 71.3h0m.1-56.2h0m0 16.6h0m.1 36.3h0m0 7.4h0m0-24.1h0m.1-8.3h0m0 15.6h0m.1-32h0m0-7.1h0m0 17.3h0m0 47.8h0m.1-82.9h0m0 84.6h0m0-12.7h0m.1-61.7h0m.1 26.9h0m0-29.2h0m0-11.2h0m0 24.8h0m.1 56h0m0-49.9h0m0-11.5h0m0 34.9h0m0 12.1h0m.1-20h0m0 2.1h0m.2-6.3h0m0 16.6h0m0-50.1h0m0 62.1h0m.1 8.3h0m0-56.7h0m.1 41.2h0m0-56.4h0m0 42.7h0m.1-22.7h0m0-25.7h0m.1 35.7h0m0-1.4h0m0 29.3h0m0-59.6h0m0 10.1h0m0 35.8h0m0-52.4h0m.1 63.1h0m0 15.6h0m0-9.9h0m0 16.4h0m0-2.2h0m.1-47.9h0m.1 42h0m0-23.1h0m.1-35.8h0m0 52.2h0m.1-39.3h0m0-9.2h0m0 35.6h0m.1 30.4h0m0-76.8h0m0 18.6h0m0 12.6h0m.1-15.3h0m0 29.2h0m0-41.6h0m.1 66.5h0m0-41.5h0m.1 34.2h0m0-29.3h0m0 3.4h0m.1-28.2h0m.1 47.9h0m0 7.5h0m0-11h0m0-30.4h0m.1 52.8h0m0-82.6h0m.1 46.8h0m0-43.3h0m.1-6.3h0m0 76.9h0m.1-61.6h0m0 32.9h0m0-24.2h0m0 36.8h0m0-16.1h0m0-22.5h0m.1 45.9h0m0 13.1h0m0-44.4h0m0-28.7h0m.1 50.5h0m0 16.7h0m0 3.3h0m.1-47.4h0m0-11.1h0m.1 63.9h0m0-48.6h0m0 21.7h0m.1-5.4h0m0-9.8h0m0 27.8h0m0 18.5h0m.1-75.6h0m0 1.4h0m.1 41.3h0m0-1.9h0m0-19.5h0m0-32.9h0m0 2.9h0m.1 61.4h0m0-39.4h0m.1 17.5h0m0-13.6h0m.1-2h0m.1 19.1h0m0-8h0m0 20.8h0m.1 13.2h0m0-56.4h0m0-7.2h0m0 1.3h0m.1 71.8h0m.1-11.1h0m0-48.1h0m0 62.1h0m0-21.9h0m.1 16.6h0m0-77.7h0m0 35.2h0m.1 7.3h0m0 29.6h0m0-34.1h0m0-8.4h0m.1 45h0m.1-28.5h0m0-23.9h0m0-6h0m.1 68.7h0m0-65.5h0m0 56.9h0m0-43.1h0m0 7h0m.1-8.4h0m0-33.8h0m.1 6.6h0m0-1.9h0m0 52.4h0m.1-44.6h0m0 55.4h0m.1-53.4h0m0 47.4h0m0 21.1h0m.1-17.3h0m0-12.9h0m0 22.4h0m.1-25.7h0m0-46.4h0m.1 26.7h0m0-20.6h0m.2 63.7h0m.1-3.3h0m0-18.2h0m0-35.2h0m0-17.6h0m.1 9.4h0m0 19.9h0m0-2.9h0m0 12.1h0m0 49h0m.1-26.5h0m0-26.7h0m0 30.7h0m0-62.5h0m0 39.8h0m0 14.6h0m0-16.8h0m.1-27.8h0m.1 35.7h0m0 34.6h0m0 6.7h0m.1-67.8h0m0-14.9h0m0 79.3h0m.1-40.2h0m.1 3.7h0m0-35.4h0m.1 9.8h0m0 53.5h0m0-52.1h0m.1 55.7h0m0-61.9h0m0 11.6h0m.1 35.8h0m0-29.8h0m0 33h0m.1-52.9h0m.1 16.3h0m0 46.4h0m0 5.1h0m0-8.8h0m.1-17.6h0m0 9.8h0m0-56.7h0m0 51.4h0m0 9.8h0m.1-44.9h0m0 28.3h0m0-52.3h0m.1 6.2h0m0 50.4h0m0-59.6h0m.1 53.4h0m0-18.7h0m0-13h0m.1-7h0m.1 28.9h0m.1-38.5h0m0 7.3h0m0 33.7h0m0-38.8h0m0 57.5h0m.1 21.2h0m0-4.2h0m.1-4.2h0m0-7.5h0m0 18.6h0m.1-63.2h0m0 25.1h0m0-9h0m0-12.9h0m0 45.4h0m0-53.9h0m.1 43h0m0-15.3h0m0-10.2h0m0 1.6h0m.1-9.1h0m0-7.3h0m.1 10.4h0m.1-16.5h0m0 35.5h0m0-41.8h0m.1 25.4h0m0 47.4h0m.1-38.6h0m0 35h0m.1-61.1h0m0 35.8h0m.1 3.4h0m0-31h0m0-18.2h0m0 64.3h0m.1 12.1h0m0-25.9h0m0-9.6h0m0 6.6h0m.1 15.1h0m0-9.8h0m.1-59.5h0m.2 13.7h0m0 8.9h0m0-12.4h0m0 75.2h0m0-81.9h0m.1 16.4h0m0 6.4h0m0-28h0m0 65.8h0m0 2.3h0m.1-37.4h0m0 7.2h0m0 40.5h0m.1 2.8h0m0-40.2h0m0 34.1h0m0 14.3h0m0-75.7h0m0 36.8h0m0 12.1h0m.1-55.7h0m0-3.4h0m0 30.9h0m0 11.1h0m.1 23.9h0m0-22.3h0m.1-17.9h0m0 13.9h0m.1-6.5h0m.1 46.7h0m.1-64.2h0m0 33.6h0m.1 27.1h0m0 4.9h0m0-12h0m.1 3.9h0m0-19.4h0m0-46.9h0m0 22.4h0m0 21.7h0m0 16.5h0m.1-7.1h0m.1-4.8h0m.1-32.9h0m0 13.6h0m0 42.2h0m.1-69.7h0m0 5.1h0m0 10.2h0m.1-12.9h0m0 51.9h0m0 21.5h0m0-85.3h0m0 2.4h0m.1 25.8h0m.1-30.6h0m0 60.9h0m0-40h0m0 47.1h0m0-30.3h0m0 6.7h0m.1-3.4h0m.1-7.2h0m.1-26.4h0m0 55h0m0-39.6h0m.1 23.3h0m.1-37.1h0m0 55.5h0m0 13.6h0m0-58.7h0m0 29.2h0m.1 6.1h0m0 19.8h0m.2-45.5h0m0-25.4h0m.1 7.5h0m0 75.1h0m0-35.3h0m0-18.8h0m0 20.8h0m.1-28.7h0m0 34h0m0-22.9h0m0 21.5h0m0-40.6h0m0 66.3h0m.1-12.5h0m0-26.9h0m.1-17.1h0m0 10.9h0m.1 22.7h0m.1 20.3h0m0-6.9h0m0 11.4h0m0-42.8h0m0-27h0m.1 6.3h0m0-14.1h0m.1 38.3h0m0 21h0m0-35.4h0m.1 45.2h0m.1-42.1h0m0 5h0m0-25.9h0m0 75.1h0m.1-70.2h0m0 53.7h0m0-52h0m0-11h0m0 60.1h0m.1-20.9h0m0 33.5h0m0-6.7h0m0-34.1h0m0 23.3h0m.1-2.1h0m0-59h0m0 2.6h0m.1 44.3h0m0-39.4h0m0 67.3h0m.1-19.7h0m0-35.3h0m.1 4.8h0m0-10.7h0m.1 12.5h0m0 56.5h0m0-53.1h0m.1 54.5h0m.1-49.6h0m.1 16.3h0m0 16.9h0m0-26.9h0m0 29.4h0m0-5.7h0m0-42h0m.1 9.5h0m0 45.1h0m0-28.5h0m0-39.5h0m.2 11.9h0m0 35.5h0m0-52.8h0m0-4.9h0m.1 54h0m0-13.4h0m.1 39.9h0m0-7.2h0m0-9.3h0m.1-26.5h0m0 7h0m0 23h0m0-38.1h0m.1-11.2h0m0 41.5h0m0-47.4h0m0 70.7h0m.1-37h0m0 15.8h0m.1-54.8h0m0 69.6h0m0-62.7h0m.1 34.1h0m.1-46.3h0m0 1.3h0m0 53.2h0m.1 18.3h0m0-23.4h0m.1-41.8h0m0 69.6h0m0-53.5h0m.1-8.8h0m0 69.4h0m0-55h0m0 34.3h0m0-44.7h0m0 18.4h0m.2 30.9h0m.1-17h0m.1-10.1h0m0-6.1h0m.1 47.3h0m0-49.1h0m0-19.9h0m.1 58h0m0-15.2h0m0-34.8h0m0-3.7h0m.1 9.7h0m.1-17.2h0m0-7.3h0m0 22.2h0m0 50.8h0m.1-79.9h0m0 47.7h0m0-12.2h0m0-25.8h0m.1 33.2h0m0 19.7h0m.1-13h0m0 27.7h0m.1-6.5h0m0-14.3h0m0 27.8h0m0-20.3h0m.1-60.5h0m0 65.4h0m0 5.3h0m0-20.3h0m0-42.5h0m0 47.1h0m.1-31.9h0m0 24.9h0m0-10.6h0m.1-16.5h0m0 9.4h0m.1-14.1h0m0-4h0m0 30.5h0m.1 19.3h0m.1 22.2h0m0-26.4h0m0 5.6h0m0 14.5h0m.1-37h0m.1-16.5h0m0 55.2h0m0-78.3h0m.1 68.3h0m.1-24.9h0m0 30.1h0m0 7.9h0m.1-54.1h0m0-9.4h0m0 49h0m.1-54.3h0m0 13.3h0m0-22.9h0m.1 49.7h0m0 18.7h0m.1-33.8h0m.1-21.5h0m0 30h0m.1 5.1h0m0-1.8h0m0-48h0m0 57h0m.1-3.4h0m.1-20.8h0m0-29.8h0m0 5.1h0m0 50.6h0m0-28.8h0m0 52.5h0m0-63.4h0m.1-13h0m0 56.7h0m.1-21.9h0m0-27.8h0m0 55.6h0m0-25.2h0m.1-22.1h0m.1 6.9h0m0 45.5h0m0 2.1h0m.1-38.3h0m0 41.4h0m0-68.4h0m0 60.9h0m.1-11h0m0-14.5h0m.1 9.2h0m0-38.2h0m0 48.1h0m.1-66.4h0m0 5.8h0m0 34.7h0m.2 38.3h0m0-52.3h0m0-2.1h0m.1 19h0m0 38.2h0m0-45.5h0m0 35.4h0m.2-69.4h0m0 43.8h0m0 22.7h0m.1-40.4h0m0 3.8h0m.1-21.2h0m0 48.1h0m0 14.9h0m.1-12.9h0m0-27h0m.1 42.2h0m0-60h0m0-8.2h0m0 34.1h0m0 21.6h0m.1-33.2h0m0 22.9h0m0-49.5h0m.1 79.6h0m0-63.9h0m0 30.3h0m0-12.2h0m0-25.1h0m.1 26.9h0m0-38.5h0m0 4.3h0m.1 50h0m0-33.9h0m.1-3.5h0m.1 47.4h0m0 4.9h0m.1-60.7h0m0 16.1h0m0 22.7h0m0 29.6h0m0-10.9h0m.1-70.1h0m0 47.5h0m.2-3.5h0m0 5.4h0m0 28.6h0m0-60.9h0m0 9.3h0m.1 49.4h0m0-21h0m0 8.5h0m.1 1.4h0m0-26.7h0m.1-32.8h0m0 77.9h0m0-22.5h0m0-20.8h0m.1-8.5h0m0-12.8h0m.1 56h0m0-38.1h0m0-11.2h0m0-15.1h0m.1 69.5h0m0-34.3h0m0 11.7h0m0-43.1h0m.1 19.5h0m0 19.8h0m0-50h0m0 3.7h0m.1 34.8h0m.1-18.8h0m0 61.6h0m.1-13.9h0m0-54.7h0m0 11.9h0m.1 41.3h0m0-60.6h0m0 41.8h0m.1 31.6h0m0-16.1h0m0 1.7h0m.1-47.6h0m0-8.7h0m.1-10.2h0m.1 29h0m0 43.4h0m0-1.4h0m0-14h0m0-40.5h0m0 59.2h0m0-15h0m.1-40h0m0 56.8h0m.1-35.3h0m0-11.2h0m.1-17.4h0m.1-4.9h0m0 54.6h0m0-18h0m0-20.3h0m0-13.5h0m0 62.5h0m0-21.2h0m.1-17.4h0m0 3.2h0m.1 8.8h0m.1 31.8h0m0-24.5h0m0-20.7h0m.1-10.6h0m0-17.3h0m.1 52.9h0m0-22.1h0m0 24.8h0m.1-43.9h0m0 33.3h0m.1-7.6h0m0-39.5h0m0 35.9h0m0 42.7h0m.1-56.4h0m0 54.6h0m.1-14h0m0 17.3h0m0-55.5h0m0 41.9h0m.1 5h0m.1-59.5h0m0 25.3h0m0 27.3h0m.1-49.4h0m0-10h0m0 40.4h0m.1-35.2h0m0 50.8h0m0-35.2h0m.1 1.4h0m0 21.6h0m0 20.6h0m.1-25.5h0m0-23.7h0m0-19.3h0m.1 57.7h0m0-6.1h0m0 21.2h0m0-67.1h0m0 44.3h0m.1-27.8h0m.1 8.7h0m0-13.2h0m0 23.1h0m.1-32.7h0m0-6.6h0m.2 51.9h0m.1 9.1h0m0-46.3h0m0 12.3h0m0 38.5h0m0-20.7h0m0 29.3h0m.1-55h0m0-8.6h0m.1 26.9h0m0 19.9h0m.1-25.3h0m0 32h0m0 5.6h0m0-64.3h0m0 30.3h0m.1-38.6h0m0 50.3h0m0 6h0m0 23.7h0m.1-69.2h0m0 59.9h0m.1-25.2h0m0-19.2h0m.2-5.9h0m.1 32.3h0m0-15.7h0m0-31.5h0m0 52.2h0m0 17.9h0m0 2.7h0m.1-62.4h0m0 12.8h0m0-4.4h0m.1 18.2h0m0 20.8h0m.1 2h0m0 4.2h0m.2-25.2h0m0-11.2h0m0-29.7h0m.1 70h0m0-26.9h0m.1-36.9h0m0 2.9h0m.1 36.7h0m0-26.8h0m0-4.6h0m0 33.1h0m0 20.8h0m.1-41.5h0m.1-16.1h0m0 5.1h0m0 6.3h0m0-18.9h0m.1 25.3h0m.1-23.7h0m0 31.8h0m0 36.8h0m0-76.4h0m.1 26.9h0m0 40.9h0m0-63.6h0m0 54.1h0m.1-47.8h0m.1 10h0m0 35.7h0m0-41h0m.1 18.9h0m0 20h0m0 16h0m0-10.3h0m.2 18.3h0m0-54.7h0m0 56.7h0m0-15.8h0m.2-62h0m0 33.1h0m.1 11.5h0m0 19.6h0m.1-37.9h0m0 14.6h0m.1-5.4h0m0 11.9h0m0-32h0m.1 55.7h0m0-60.8h0m0 29.1h0m.1 10h0m0-46.8h0m0-4h0m0 15.3h0m.1 14.3h0m.1 44.4h0m0-43h0m0-7.3h0m0 54.5h0m0-60h0m.2 49.5h0m0-61.5h0m0 19.5h0m0 30.7h0m0-53.8h0m0 50h0m.1-8.7h0m0-33.8h0m.1 60.9h0m.1-16.5h0m0-41h0m0 6h0m0 30.2h0m.1 27.1h0m0-38.1h0m0-16.7h0m.1 11h0m.1-24.5h0m.1 38.8h0m0 19.1h0m.1 3h0m0-11.8h0m.1-12.5h0m0 18.7h0m.2-39.2h0m0 18h0m.2-6.7h0m.1 17.5h0m0-36.9h0m.1-14.6h0m0 16.4h0m0-8.7h0m0-4.6h0m0 62.6h0m0-21.4h0m.1-25.5h0m0 35.2h0m0-28.1h0m0 24h0m0 13.4h0m0-42.4h0m0 49.6h0m.1-72.4h0m.1 75.8h0m0-46.3h0m.1-16.4h0m0 1.8h0m.1 16.5h0m0 2.5h0m0-22.2h0m.1 65.7h0m.1-7.1h0m0-12.9h0m0-31.1h0m0 11.7h0m0 11h0m.1 24.8h0m0-32.3h0m.1 27.1h0m0-28.9h0m0-15.3h0m.1-17.5h0m0 40.4h0m.1 3h0m0-47h0m.1 15.6h0m.1 48.2h0m.1-32.1h0m.1-13.8h0m0 24.3h0m0-29.2h0m.1 37.5h0m0-10h0m.1-38.5h0m.1 69.6h0m0-51.8h0m.1 4.3h0m0-18.1h0m0 47.2h0m0 15h0m0-6.5h0m.2-51.5h0m0 22.9h0m.2 33.5h0m0-17.6h0m0 20.7h0m0-61.5h0m0 13.2h0m0-7h0m.1 30.6h0m0-6.3h0m.1-12.2h0m0 1.5h0m0 1.6h0m.1 33.5h0m0-8h0m.1-56.5h0m0 75h0m0-56.8h0m.1 30.7h0m0-4.6h0m.1-18h0m0 12.1h0m.1-14.2h0m0 12.7h0m.1-17.2h0m0 13.7h0m.2 35.8h0m0-65.5h0m0 38.7h0m0-28h0m0-1.7h0m0 54h0m0-12.5h0m.1-48.8h0m0-3.7h0m.1 49.6h0m.1 1.4h0m.1-44h0m0 64.7h0m0-66.5h0m.1 63.9h0m0-41h0m.1-13.2h0m0 18.6h0m.1 11.5h0m0-5.6h0m0-30.2h0m.1 52.5h0m0-45.1h0m.1 21h0m0 10.8h0m.1-6.5h0m0-21.3h0m0 34.2h0m.3 18.4h0m.1-61.6h0m0 1.8h0m0 22h0m.1-11h0m0 22.4h0m0-3.3h0m0-13.8h0m0-11.6h0m.1 46.3h0m0 2.6h0m.1-35.3h0m.1-5.3h0m.1-3.5h0m0 29.6h0m0-24.3h0m.1-18h0m0 60.5h0m.1-20.1h0m0-31.2h0m0-16.7h0m.1-2.2h0m0 37.5h0m.2-31.1h0m0 1.6h0m.1 63.8h0m0-4.1h0m0-12.4h0m0-15.9h0m.1-35.2h0m.1 28.8h0m0-12h0m0-7.8h0m.1 2.3h0m.1 33.3h0m0-1.7h0m0 6.2h0m0-18.4h0m.1 29.2h0m0-21.4h0m.1-1.8h0m0-10.7h0m0-18.5h0m0 33.6h0m.1-16.8h0m.1-5.6h0m.1-5.6h0m0 14.2h0m.1-29.8h0m.3 48.9h0m0-41.9h0m.1 27.7h0m0-33h0m0 65.5h0m0-13h0m0-17.7h0m.1 27.7h0m0-41.1h0m0 29.3h0m.1-27.1h0m0-14.2h0m.1 9h0m0 11.9h0m0-19.4h0m0 48.3h0m0-56.7h0m.1 13.1h0m0-8.2h0m.1 36.8h0m.1 9.7h0m.2-16.7h0m.1-5.4h0m0 6.8h0m0 2h0m0 8.3h0m.1-35.2h0m0 28.4h0m.1 3.9h0m0 17.9h0m0-36.2h0m.1-28.9h0m0 48.6h0m.1-13.8h0m.1-7.8h0m0-8.5h0m.1 18.6h0m0-32h0m.1 4.7h0m0 51.4h0m0-7.2h0m0-42.5h0m.1 44.3h0m0-33.2h0m0 40.2h0m.1-18.1h0m0-24.3h0m.2-18.7h0m0 49.2h0m.1-37.8h0m0 18.4h0m.1 14.8h0m.1 6h0m.1-10.7h0m0 6.1h0m0-11.8h0m.1-2h0m0 9.6h0m.1-27.7h0m0 10.4h0m.2 12.6h0m0-17.3h0m.1 6.9h0m0 26.5h0m0-30.6h0m0-15.7h0m.1 9.5h0m0 11.8h0m.1 19.7h0m.1 14.4h0m.1-18.9h0m0-25.5h0m0 33.9h0m.1-49.7h0m0 36.8h0m.1-28.8h0m.1 1.4h0m.2 1.7h0m.1 17.3h0m0 14.3h0m.1 5.5h0m0-15.9h0m0 11.9h0m.2-25.7h0m0 20h0m0-25.2h0m0 26.9h0m.1-17.3h0m.1 12.8h0m.1 16.6h0m0-37.5h0m0-10.1h0m.2 57h0m.1-34.6h0m0-1.4h0m0-5.1h0m0 25.9h0m.1-40.4h0m0 43.9h0m.1-42.3h0m.1 29.6h0m.2-2.7h0m0-3.8h0m.1 12.4h0m0-33.8h0m.1 29.9h0m0-20.4h0m0-7.4h0m.2 5.5h0m.2 5.6h0m0 18.6h0m0-9h0m.2-5.7h0m0-13.1h0m0 15h0m0-12.9h0m.1 29.6h0m0-20.1h0m.1 26h0m0-30.9h0m.2 29.1h0m.1-2.2h0m.1-12.7h0m.1 8.7h0m0-3.8h0m.2-32h0m0 16.3h0m0-11.6h0m0 25.8h0m.1-31.9h0m0 13.1h0m.1-4.7h0m0 22h0m.1-6.3h0m0-7.9h0m.2 23.5h0m0-29.5h0m.1 25.2h0m.1-30.7h0m.1 16.2h0m.1 21.9h0m.1 1.7h0m0-30.1h0m.1 32.5h0m.1-8.8h0m0-12.8h0m0-6.7h0m.1 10.5h0m0-21.9h0m.1 5h0m0 5.1h0m.2 5.9h0m0 18.4h0m.1-10.3h0m0-4.3h0m.1-17.6h0m.2 26.8h0m.1-2.7h0m.1-11.9h0m.1-1.9h0m.1 20h0m.2 5.5h0m0-20.7h0m.2 19.2h0m0-1.3h0m.2 5.9h0m0-22.4h0m0-10.4h0m0 14h0m.1 5.7h0m.2-18.2h0m.1-8.1h0m.1 28.9h0m.1-9.9h0m.1 3.8h0m.1-11.3h0m0-1.5h0m.1 22.1h0m0-19.1h0m0 17.5h0m.2 3.9h0m.1-9.4h0m0-9.9h0m.1 21h0m.3-9.8h0m0-21.4h0m.3 23.1h0m0 10.1h0m0-29.6h0m.1 11.7h0m.2-7.3h0m.1-3h0m0 21.4h0m.1-20h0m0 6.1h0m0 5.2h0m.2-15.6h0m0 22.3h0m.1-15.1h0m.1 19h0m.1 3.4h0m.1-11h0m0 9.5h0m.2-11.1h0m.1-8.4h0m.1 4.3h0m.3-1.5h0m.1 3.1h0m0 6h0m0-19.9h0m.1 6h0m.1 18h0m.1-14.6h0m.1-7h0m0 2.3h0m.1 10.6h0m.1 2.2h0m.1 10.8h0m.1-1.6h0m0 3h0m.3-7.8h0m.1-20.9h0m.1 7.1h0m0-9h0m.1 7.6h0m.1 5h0m.1-8.8h0m.1 16.5h0m.4 6.2h0m0-16h0m.1 7.9h0m.1 10.1h0m0-12.8h0m.2 14.3h0m0-23.5h0m0 18.2h0m.1-2.5h0m0-8.2h0m.1-9.3h0m.1 4.5h0m.1-5.9h0m.2-2h0m.2 15.7h0m0 3.4h0m.2 3.3h0m.1-11.5h0m.2-6.4h0m.2 8.5h0m0 14.6h0m.2-10.1h0m0 6.7h0m0-17.9h0m.1 14.1h0m.2 5.4h0m0-17h0m.3-7.7h0m.2 20.6h0m0-18.3h0m.1-4h0m.2 29h0m.1-9.9h0m.1-4.2h0m.1-2.1h0m0 3.7h0m0-11.1h0m.1 5.3h0m.1-8h0m.1 20.9h0m0 3.6h0m0-19h0m.3 17h0m.4-21.4h0m.2 14.3h0m0-11.4h0m0 4.6h0m.1 9.1h0m0-6h0m0-13.1h0m.3 7.9h0m0 13.9h0m0-6.8h0m.4 5.5h0m0 4.2h0m.2-21h0m.3 22.3h0m.1-19.7h0m.1 5.5h0m.1-2.3h0m.1 14.1h0m.3-10.1h0m.1 3.7h0m0 4.1h0m.1-20.1h0m.1 6.9h0m0-2.9h0m0 10.7h0m.4 3.2h0m0-16h0m.2 19.4h0m0-11.2h0m.3-1.7h0m.1-2.9h0m0 13.8h0m.2-16.2h0m.3 19.5h0m.2-10.3h0m0 3.1h0m.4 2h0m.2-10.5h0m.4 2.9h0m.1 8.9h0m.1 2.5h0m0-16.6h0m.1 8.6h0m.4 1.9h0m.2-6.6h0m.1 8.7h0m0 2.6h0m.3-8.5h0m.4-4.8h0m.2 7.3h0m.6-5.2h0m0 3.3h0m0 4h0m.3-8.6h0m.5 6.9h0m.2-4.1h0" stroke="#f1695e" stroke-width="1.3"/>
<path d="M861.2 438h0m1.2 7.3h0m.6-11.5h0m1.1-15h0m1.3 54.4h0m4.9-45.2h0m.4 14.3h0m3.1 22.3h0m.8-3.3h0m.3-59.4h0m.7 27.4h0m1.8-7.1h0m.7 67.1h0m.1-60.1h0m3.4-29.1h0m.6 26.3h0m1.8 .8h0m3-16.3h0m.1 14.7h0m.2-8.6h0m.5 61.4h0m.3-48.4h0m.1-2.5h0m.5 7.6h0m1.3-11.8h0m.1 13.4h0m.5 47.4h0m.4-43.4h0m.3-19.3h0m1.1 19.6h0m.1-23.7h0m1 9.6h0m.5-16.2h0m1.5 3.8h0m2.8-6.7h0m3.5 79.3h0m1.7-84.9h0m3.1 84.9h0m6.1 1.5h0m1.3 1.2h0m.3-92.5h0m1.1 100.7h0m2.8-98.5h0m1.4 98.5h0m.3-98.1h0m9.3 1.7h0m2.5 90.4h0m2.1 .1h0m.6-104.7h0m1.6 4.3h0m0 110.3h0m1.5-106.1h0m.2 3.4h0m5.1 .9h0m3.1-11.8h0m1.4 104.6h0m2.3 1.4h0m.8-94.4h0m.7-13.7h0m4.1 108.2h0m4.1-89.5h0m.9 87.4h0m3.7-93.5h0m.9 2.5h0m.3 2.3h0m2 .4h0m.5 65h0m3.3-1h0m1.5-62.5h0m4.4 7.2h0m1.4-5.4h0m.9 77.4h0m.9 6.9h0m0-19.2h0m1.4-52.6h0m0 77.1h0m1.6-85.6h0m.9 4h0m1.3 3.9h0m1.5-20.5h0m0 28.1h0m1.2 4.6h0m0-14.6h0m0 63.8h0m.8-5.2h0m.5-43.2h0m.9-10.5h0m.5 8.7h0m3.8-25.4h0m1 4.7h0m.8 29.7h0m0 36.6h0m.4-54.6h0m.3-2.9h0m0 13.6h0m.3-6.1h0m2 45.6h0m.7-35.2h0m3.1-24.6h0m.9 3.4h0m.9 3.4h0m.7 25.3h0m2.6-.5h0m.1 34.2h0m3.8-21.2h0m1.4-11.2h0m.4-28.5h0m2.3 13.7h0" stroke="#fff" stroke-width="2.3" stroke-opacity="1.0"/>
<path d="M861.2 438h0m1.2 7.3h0m.6-11.5h0m1.1-15h0m1.3 54.4h0m4.9-45.2h0m.4 14.3h0m3.1 22.3h0m.8-3.3h0m.3-59.4h0m.7 27.4h0m1.8-7.1h0m.7 67.1h0m.1-60.1h0m3.4-29.1h0m.6 26.3h0m1.8 .8h0m3-16.3h0m.1 14.7h0m.2-8.6h0m.5 61.4h0m.3-48.4h0m.1-2.5h0m.5 7.6h0m1.3-11.8h0m.1 13.4h0m.5 47.4h0m.4-43.4h0m.3-19.3h0m1.1 19.6h0m.1-23.7h0m1 9.6h0m.5-16.2h0m1.5 3.8h0m2.8-6.7h0m3.5 79.3h0m1.7-84.9h0m3.1 84.9h0m6.1 1.5h0m1.3 1.2h0m.3-92.5h0m1.1 100.7h0m2.8-98.5h0m1.4 98.5h0m.3-98.1h0m9.3 1.7h0m2.5 90.4h0m2.1 .1h0m.6-104.7h0m1.6 4.3h0m0 110.3h0m1.5-106.1h0m.2 3.4h0m5.1 .9h0m3.1-11.8h0m1.4 104.6h0m2.3 1.4h0m.8-94.4h0m.7-13.7h0m4.1 108.2h0m4.1-89.5h0m.9 87.4h0m3.7-93.5h0m.9 2.5h0m.3 2.3h0m2 .4h0m.5 65h0m3.3-1h0m1.5-62.5h0m4.4 7.2h0m1.4-5.4h0m.9 77.4h0m.9 6.9h0m0-19.2h0m1.4-52.6h0m0 77.1h0m1.6-85.6h0m.9 4h0m1.3 3.9h0m1.5-20.5h0m0 28.1h0m1.2 4.6h0m0-14.6h0m0 63.8h0m.8-5.2h0m.5-43.2h0m.9-10.5h0m.5 8.7h0m3.8-25.4h0m1 4.7h0m.8 29.7h0m0 36.6h0m.4-54.6h0m.3-2.9h0m0 13.6h0m.3-6.1h0m2 45.6h0m.7-35.2h0m3.1-24.6h0m.9 3.4h0m.9 3.4h0m.7 25.3h0m2.6-.5h0m.1 34.2h0m3.8-21.2h0m1.4-11.2h0m.4-28.5h0m2.3 13.7h0" stroke="#ee4a3e" stroke-width="1.7"/>
<path d="M861.8 425.6h0m.5 36.2h0m2.6-12.1h0m1.3-34.6h0m3.1 24.1h0m2.3-7.4h0m.7 53.6h0m5-21.4h0m3-52.7h0m.2 14.4h0m1.4-11.5h0m2.3 11h0m2.8-1.5h0m1.4 9.4h0m.4-17.2h0m.4-4.7h0m1.3 21.3h0m.4 55.8h0m0-68.9h0m.5 25.3h0m.5-19.6h0m.2-12.8h0m.6 36.6h0m2-27.1h0m5.6-27.1h0m.4 29.6h0m.5 65.5h0m2 3.3h0m3.6-98.6h0m8.2 4.8h0m.3-9.8h0m1.2 104.1h0m4.3-92h0m1-6h0m4.9-.6h0m2.3 5.1h0m.5 90.6h0m3.2-93.8h0m.1-3.8h0m1.5 102h0m4.2-97.3h0m.1 101.5h0m.3-109.5h0m6.5 105.2h0m3.4-104.6h0m.9 107.1h0m4.1-97.1h0m6.9 96.1h0m1.2-106.6h0m3.5 106.2h0m.2-86.7h0m5.1 61h0m2.8 1h0m.3-60.8h0m1-14.2h0m.4 91.7h0m.5-76.4h0m.5 60h0m.2-72.7h0m.3 11.7h0m1-17.2h0m2 15.7h0m.8 8.4h0m.3-11.6h0m.6 6h0m.9 66.4h0m.2-54.6h0m1-5.1h0m.5 69.9h0m.3-13.9h0m.3-57.5h0m.7 8.4h0m1.8 4.5h0m.7-25.5h0m.1 5.9h0m.4 24.5h0m.2 38.8h0m.3 3.7h0m.4 19.4h0m.1-73h0m.5-14.3h0m.4 26.9h0m.5 36.8h0m.4-71.9h0m.7 73.5h0m1.5 7.1h0m.1-45.8h0m2.4-5.9h0m.4-3h0m1.3 46.9h0m.4-67.2h0m.2 21.7h0m.6-16.2h0m0 29.6h0m1.8-19.7h0m.9 50.9h0m.4-47h0m.9-18.2h0m.5 36.3h0m.4-4.1h0m4.6 .5h0m.2-3.1h0m0-4.8h0m2.1 29h0m.8-34.4h0m.1 4h0m2.4 17.2h0m2.1 2.3h0" stroke="#fff" stroke-width="2.3" stroke-opacity="1.0"/>
<path d="M861.8 425.6h0m.5 36.2h0m2.6-12.1h0m1.3-34.6h0m3.1 24.1h0m2.3-7.4h0m.7 53.6h0m5-21.4h0m3-52.7h0m.2 14.4h0m1.4-11.5h0m2.3 11h0m2.8-1.5h0m1.4 9.4h0m.4-17.2h0m.4-4.7h0m1.3 21.3h0m.4 55.8h0m0-68.9h0m.5 25.3h0m.5-19.6h0m.2-12.8h0m.6 36.6h0m2-27.1h0m5.6-27.1h0m.4 29.6h0m.5 65.5h0m2 3.3h0m3.6-98.6h0m8.2 4.8h0m.3-9.8h0m1.2 104.1h0m4.3-92h0m1-6h0m4.9-.6h0m2.3 5.1h0m.5 90.6h0m3.2-93.8h0m.1-3.8h0m1.5 102h0m4.2-97.3h0m.1 101.5h0m.3-109.5h0m6.5 105.2h0m3.4-104.6h0m.9 107.1h0m4.1-97.1h0m6.9 96.1h0m1.2-106.6h0m3.5 106.2h0m.2-86.7h0m5.1 61h0m2.8 1h0m.3-60.8h0m1-14.2h0m.4 91.7h0m.5-76.4h0m.5 60h0m.2-72.7h0m.3 11.7h0m1-17.2h0m2 15.7h0m.8 8.4h0m.3-11.6h0m.6 6h0m.9 66.4h0m.2-54.6h0m1-5.1h0m.5 69.9h0m.3-13.9h0m.3-57.5h0m.7 8.4h0m1.8 4.5h0m.7-25.5h0m.1 5.9h0m.4 24.5h0m.2 38.8h0m.3 3.7h0m.4 19.4h0m.1-73h0m.5-14.3h0m.4 26.9h0m.5 36.8h0m.4-71.9h0m.7 73.5h0m1.5 7.1h0m.1-45.8h0m2.4-5.9h0m.4-3h0m1.3 46.9h0m.4-67.2h0m.2 21.7h0m.6-16.2h0m0 29.6h0m1.8-19.7h0m.9 50.9h0m.4-47h0m.9-18.2h0m.5 36.3h0m.4-4.1h0m4.6 .5h0m.2-3.1h0m0-4.8h0m2.1 29h0m.8-34.4h0m.1 4h0m2.4 17.2h0m2.1 2.3h0" stroke="#ee4a3e" stroke-width="1.7"/>
<path d="M861.2 430.3h0m4.6 9.5h0m1-6.9h0m2.8 .7h0m.6 35.4h0m.1-44.7h0m.5 25.1h0m1.8-2.9h0m.3 31.2h0m.8-36.8h0m1.1-24.4h0m2.1 67.3h0m1.2-68.5h0m.6 16.8h0m1.8 40.4h0m.7-39.9h0m3.5-15.1h0m.9 66.4h0m.7-68.6h0m.1 4.2h0m2.1 61.9h0m.6-73.2h0m.2 10.7h0m.4 14.9h0m.8-27.8h0m.8 87.1h0m.5-42h0m.3-15.4h0m.7-16.5h0m.2 18.3h0m.3 8.5h0m.6-38.2h0m.1 7.9h0m1.2 11.1h0m0 7.6h0m.1-9.3h0m1.5-.5h0m1.5-2.4h0m2.4 62.8h0m4-97.4h0m.9 11.8h0m4.1 97.3h0m6.9-96.8h0m.6-2.4h0m.6 93.1h0m9.4-90.6h0m1.5 93h0m5.6-94.3h0m.6 99.8h0m.8-98.3h0m1.5 1.1h0m.9 90.8h0m3.5-92.9h0m.2 104.2h0m1.2-9.7h0m10.7-2.4h0m2.8-91.8h0m3.9 1.4h0m5.1 89h0m1.4-84h0m1.4-3.1h0m.3 3.9h0m3.3 65.7h0m.3-74.6h0m3.2 88.5h0m.1-78.1h0m1.3 82.6h0m.2-6.8h0m2.5-79.7h0m.6 81.6h0m0-96.7h0m1.1 7.1h0m1.4 8.5h0m.4 80.9h0m.2-5.3h0m.8-7.3h0m1.9 18.9h0m.3-76.6h0m3.3 .2h0m.2 67.1h0m.7-54.4h0m.5 5.6h0m.7-15.8h0m0-9.5h0m.1 7.6h0m.1 3.6h0m1.1-9.2h0m1.4 68.2h0m.3-64h0m.1-14.8h0m2.8 78.5h0m1-45h0m.4-12.4h0m.1 4.3h0m.2-6.5h0m3.3 9.5h0m.2 8.4h0m.3-15.7h0m1.5 15.2h0m.2 10.5h0m1.9 24.4h0m.4-25.5h0m1 14.9h0m.8-12h0m1.3-2.6h0m7 20h0m2.5-4.3h0m4.5-9.4h0" stroke="#fff" stroke-width="2.3" stroke-opacity="1.0"/>
<path d="M861.2 430.3h0m4.6 9.5h0m1-6.9h0m2.8 .7h0m.6 35.4h0m.1-44.7h0m.5 25.1h0m1.8-2.9h0m.3 31.2h0m.8-36.8h0m1.1-24.4h0m2.1 67.3h0m1.2-68.5h0m.6 16.8h0m1.8 40.4h0m.7-39.9h0m3.5-15.1h0m.9 66.4h0m.7-68.6h0m.1 4.2h0m2.1 61.9h0m.6-73.2h0m.2 10.7h0m.4 14.9h0m.8-27.8h0m.8 87.1h0m.5-42h0m.3-15.4h0m.7-16.5h0m.2 18.3h0m.3 8.5h0m.6-38.2h0m.1 7.9h0m1.2 11.1h0m0 7.6h0m.1-9.3h0m1.5-.5h0m1.5-2.4h0m2.4 62.8h0m4-97.4h0m.9 11.8h0m4.1 97.3h0m6.9-96.8h0m.6-2.4h0m.6 93.1h0m9.4-90.6h0m1.5 93h0m5.6-94.3h0m.6 99.8h0m.8-98.3h0m1.5 1.1h0m.9 90.8h0m3.5-92.9h0m.2 104.2h0m1.2-9.7h0m10.7-2.4h0m2.8-91.8h0m3.9 1.4h0m5.1 89h0m1.4-84h0m1.4-3.1h0m.3 3.9h0m3.3 65.7h0m.3-74.6h0m3.2 88.5h0m.1-78.1h0m1.3 82.6h0m.2-6.8h0m2.5-79.7h0m.6 81.6h0m0-96.7h0m1.1 7.1h0m1.4 8.5h0m.4 80.9h0m.2-5.3h0m.8-7.3h0m1.9 18.9h0m.3-76.6h0m3.3 .2h0m.2 67.1h0m.7-54.4h0m.5 5.6h0m.7-15.8h0m0-9.5h0m.1 7.6h0m.1 3.6h0m1.1-9.2h0m1.4 68.2h0m.3-64h0m.1-14.8h0m2.8 78.5h0m1-45h0m.4-12.4h0m.1 4.3h0m.2-6.5h0m3.3 9.5h0m.2 8.4h0m.3-15.7h0m1.5 15.2h0m.2 10.5h0m1.9 24.4h0m.4-25.5h0m1 14.9h0m.8-12h0m1.3-2.6h0m7 20h0m2.5-4.3h0m4.5-9.4h0" stroke="#ee4a3e" stroke-width="1.7"/>
<path d="M865 457.5h0m2 4h0m1.4-14.8h0m0 32.8h0m.4-58.3h0m2.9 40.9h0m.2-25.9h0m1.2-7.3h0m.2 5.1h0m1.6 40.9h0m.2-62.3h0m1.1 14.9h0m1.2-17.9h0m1.8 60.1h0m.5-47.7h0m1 8.7h0m.1-26.4h0m.1 70.9h0m.4-58.5h0m2.1 3.4h0m.4 3.3h0m.2-20.7h0m1.4 77.9h0m.5 11.5h0m.1-70h0m.1 12.5h0m4.5-4h0m.5-20.1h0m.7-10.9h0m3.1 36.3h0m.8 13.8h0m.5-33.3h0m.3-14.3h0m1 85.1h0m.1-66.2h0m7.2 66.7h0m3-86.8h0m2.8 101.4h0m10.6-104h0m5.4-7.6h0m4 103.8h0m.5-92.8h0m.6 97.5h0m1.7-8.6h0m3.7 5.5h0m4.4 1h0m4.9 4.7h0m.9-104h0m4-5h0m3.3 11h0m5.6-6h0m2.9 5.6h0m.1 90.3h0m2.8-23.8h0m.3-73h0m.1-4h0m.7 77.8h0m.5 20.7h0m2.4-101.6h0m.7 11.3h0m1.9 86.3h0m0-84.8h0m2.5 70.7h0m0 20.3h0m1-91.9h0m.9 95.4h0m.7-93.6h0m.7 80.1h0m1.9-9.4h0m.6-60.4h0m0 64.6h0m.3-75.9h0m1.5 18.9h0m1.5 .1h0m.7-26.3h0m.4 86.9h0m.7-74.3h0m.2 5.8h0m0 61.6h0m.8 9.8h0m3.2-46h0m.1-32.8h0m.1 83.3h0m.2-9.7h0m.4-47.7h0m.5-19.1h0m.9 64.3h0m.2-38h0m.1-16.4h0m.5-26.7h0m.9 78.8h0m.5-36.7h0m.2-17.5h0m.4-8h0m1 3.3h0m.4 55.7h0m3.7-3.4h0m.5 10.9h0m1-54.9h0m.7 21.7h0m2.8 18.7h0m1-31.2h0m.7-7.7h0m1.7-4.3h0m.1 52.8h0m.1-7.1h0m6.5 4.5h0m2-34.7h0" stroke="#fff" stroke-width="2.3" stroke-opacity="1.0"/>
<path d="M865 457.5h0m2 4h0m1.4-14.8h0m0 32.8h0m.4-58.3h0m2.9 40.9h0m.2-25.9h0m1.2-7.3h0m.2 5.1h0m1.6 40.9h0m.2-62.3h0m1.1 14.9h0m1.2-17.9h0m1.8 60.1h0m.5-47.7h0m1 8.7h0m.1-26.4h0m.1 70.9h0m.4-58.5h0m2.1 3.4h0m.4 3.3h0m.2-20.7h0m1.4 77.9h0m.5 11.5h0m.1-70h0m.1 12.5h0m4.5-4h0m.5-20.1h0m.7-10.9h0m3.1 36.3h0m.8 13.8h0m.5-33.3h0m.3-14.3h0m1 85.1h0m.1-66.2h0m7.2 66.7h0m3-86.8h0m2.8 101.4h0m10.6-104h0m5.4-7.6h0m4 103.8h0m.5-92.8h0m.6 97.5h0m1.7-8.6h0m3.7 5.5h0m4.4 1h0m4.9 4.7h0m.9-104h0m4-5h0m3.3 11h0m5.6-6h0m2.9 5.6h0m.1 90.3h0m2.8-23.8h0m.3-73h0m.1-4h0m.7 77.8h0m.5 20.7h0m2.4-101.6h0m.7 11.3h0m1.9 86.3h0m0-84.8h0m2.5 70.7h0m0 20.3h0m1-91.9h0m.9 95.4h0m.7-93.6h0m.7 80.1h0m1.9-9.4h0m.6-60.4h0m0 64.6h0m.3-75.9h0m1.5 18.9h0m1.5 .1h0m.7-26.3h0m.4 86.9h0m.7-74.3h0m.2 5.8h0m0 61.6h0m.8 9.8h0m3.2-46h0m.1-32.8h0m.1 83.3h0m.2-9.7h0m.4-47.7h0m.5-19.1h0m.9 64.3h0m.2-38h0m.1-16.4h0m.5-26.7h0m.9 78.8h0m.5-36.7h0m.2-17.5h0m.4-8h0m1 3.3h0m.4 55.7h0m3.7-3.4h0m.5 10.9h0m1-54.9h0m.7 21.7h0m2.8 18.7h0m1-31.2h0m.7-7.7h0m1.7-4.3h0m.1 52.8h0m.1-7.1h0m6.5 4.5h0m2-34.7h0" stroke="#ee4a3e" stroke-width="1.7"/>
<path d="M863.5 453.6h0m1.3-17.3h0m3.7 13.5h0m2.9-34.5h0m.8 5h0m1.6-13.5h0m1.1 28.6h0m.2 23.5h0m.1 12.7h0m1.7-46.6h0m.2-5.9h0m.7 60.5h0m.3-52.6h0m.9-3h0m1.1 3.5h0m.3-7.4h0m1.1 60.3h0m.4-72.8h0m.6 79.8h0m1.4-74.9h0m.4 3.3h0m1.6 11h0m.4-20.5h0m.6 81.2h0m.8-73.5h0m1-11.2h0m1.7 24.2h0m.1-12.1h0m.1 23.5h0m1.4-29.3h0m1.1 30.1h0m.2 5.1h0m.2-13.2h0m1.2-7.9h0m.2-3.1h0m1-8.7h0m.1 78.7h0m.2-81.1h0m.2 18.8h0m1.7-36.2h0m1.1 32.4h0m0-24.8h0m2.9 6.9h0m1 79.4h0m.3 12h0m8.8-98.5h0m1.7 95.7h0m7-103.6h0m3.5 2.4h0m7.4 5.3h0m2.6 4.5h0m5.4-3.4h0m.5-2.3h0m.3 93.2h0m2.4-105.7h0m9.2 14.7h0m.4 94.6h0m.7-96h0m.5 4.2h0m4.7-4.1h0m.1 1.8h0m3.1 100.3h0m5.4-99.7h0m1.3 94.3h0m.7-90.6h0m2.7 92.6h0m3.1 4.2h0m.2-26.2h0m2.6-2.6h0m1 15.3h0m.1-5.8h0m.8-61h0m1.7-5.5h0m.3-5.6h0m.5 8.1h0m.3 64.7h0m.5-6.7h0m.7-66.4h0m.2 13.3h0m1.3-11.8h0m2.7 14.8h0m1.2 3.4h0m.4-16.5h0m.2 5.5h0m.9 58.3h0m1.3-41h0m.6 2h0m.2-7.5h0m.2-15.5h0m.1 17.6h0m.4 1.9h0m1.1-15.2h0m0 8.9h0m3.8 54h0m2.8-42.8h0m1.9-8.9h0m.6 51h0m.5-32.7h0m.6 13.1h0m1.6-31.6h0m.1 18.6h0m.5 2.2h0m2.1-42.7h0m1.1 44h0m.7 18.7h0m1.3-48.8h0m1.9 37.5h0m6.3-29.9h0" stroke="#fff" stroke-width="2.3" stroke-opacity="1.0"/>
<path d="M863.5 453.6h0m1.3-17.3h0m3.7 13.5h0m2.9-34.5h0m.8 5h0m1.6-13.5h0m1.1 28.6h0m.2 23.5h0m.1 12.7h0m1.7-46.6h0m.2-5.9h0m.7 60.5h0m.3-52.6h0m.9-3h0m1.1 3.5h0m.3-7.4h0m1.1 60.3h0m.4-72.8h0m.6 79.8h0m1.4-74.9h0m.4 3.3h0m1.6 11h0m.4-20.5h0m.6 81.2h0m.8-73.5h0m1-11.2h0m1.7 24.2h0m.1-12.1h0m.1 23.5h0m1.4-29.3h0m1.1 30.1h0m.2 5.1h0m.2-13.2h0m1.2-7.9h0m.2-3.1h0m1-8.7h0m.1 78.7h0m.2-81.1h0m.2 18.8h0m1.7-36.2h0m1.1 32.4h0m0-24.8h0m2.9 6.9h0m1 79.4h0m.3 12h0m8.8-98.5h0m1.7 95.7h0m7-103.6h0m3.5 2.4h0m7.4 5.3h0m2.6 4.5h0m5.4-3.4h0m.5-2.3h0m.3 93.2h0m2.4-105.7h0m9.2 14.7h0m.4 94.6h0m.7-96h0m.5 4.2h0m4.7-4.1h0m.1 1.8h0m3.1 100.3h0m5.4-99.7h0m1.3 94.3h0m.7-90.6h0m2.7 92.6h0m3.1 4.2h0m.2-26.2h0m2.6-2.6h0m1 15.3h0m.1-5.8h0m.8-61h0m1.7-5.5h0m.3-5.6h0m.5 8.1h0m.3 64.7h0m.5-6.7h0m.7-66.4h0m.2 13.3h0m1.3-11.8h0m2.7 14.8h0m1.2 3.4h0m.4-16.5h0m.2 5.5h0m.9 58.3h0m1.3-41h0m.6 2h0m.2-7.5h0m.2-15.5h0m.1 17.6h0m.4 1.9h0m1.1-15.2h0m0 8.9h0m3.8 54h0m2.8-42.8h0m1.9-8.9h0m.6 51h0m.5-32.7h0m.6 13.1h0m1.6-31.6h0m.1 18.6h0m.5 2.2h0m2.1-42.7h0m1.1 44h0m.7 18.7h0m1.3-48.8h0m1.9 37.5h0m6.3-29.9h0" stroke="#ee4a3e" stroke-width="1.7"/>
<path d="M860.7 457.2h0m3.1 11.8h0m3.6-4h0m5.8-38.7h0m3.7 34.9h0m1.1 11.7h0m3.3-48.6h0m1.1-2.5h0m.5 6.7h0m3.6-34.1h0m1.6 5.1h0m5.7 86h0m.2-57.1h0m.1-34.2h0m.5 54.5h0m.5-18.3h0m.3-32.5h0m.2 49.3h0m.8-40.3h0m.1 15.4h0m1.9-16.3h0m1.6-4.1h0m2.1-4.2h0m.2 6.3h0m1.4-11.2h0m1.9 98.4h0m1.6-1.8h0m2.7-93.2h0m.2 4.2h0m2.2-7.9h0m2.9 98.5h0m.5-1.6h0m4.1 12.5h0m3.4-103.3h0m.9-2h0m.9 2.6h0m.8 92.3h0m3.9-103.7h0m.5 10.8h0m.5 106.1h0m4.7-12.9h0m.1-94.9h0m.7 1.7h0m3.5 94.6h0m5.1-95.1h0m1 1.7h0m5.7 2.9h0m4.1-9.7h0m1.7 108.2h0m.1-98.8h0m.2 2.3h0m.2 93h0m3.7-104.2h0m.3 6.4h0m.8 5.4h0m1.2-9.6h0m1.3-8.2h0m1.1 11.7h0m.3 100.2h0m2.1-10.9h0m.2-18.1h0m1.6 18.3h0m.7-93.4h0m.2 13h0m1.6-.8h0m.8-6.8h0m.6 5.1h0m1.8 .3h0m1.7 68.4h0m.2-65.4h0m0-3.6h0m1 8.7h0m.3 61.5h0m1.5 1.4h0m.3-69.4h0m2.9 5.6h0m1.7 17.6h0m.3 7.8h0m.1-29h0m.2-19.7h0m.2 46.3h0m.3 40.9h0m5.1-52.1h0m1.7-.3h0m1.1 62.1h0m.4-54.7h0m2.7 6.7h0m.1-21.6h0m.2 6.3h0m.4 64.3h0m.2-47.2h0m1.4-12.2h0m.4 1.9h0m1.3 1.3h0m1.1 3.1h0m.6 34.9h0m.7 4.5h0m.3 3.5h0m.4-54.1h0m3.6-9.5h0m2.3 35.6h0m.5-6.5h0m1 10.2h0m1-12.7h0m4.6 .2h0m3.5-4.5h0m.7 29.2h0" stroke="#fff" stroke-width="2.3" stroke-opacity="1.0"/>
<path d="M860.7 457.2h0m3.1 11.8h0m3.6-4h0m5.8-38.7h0m3.7 34.9h0m1.1 11.7h0m3.3-48.6h0m1.1-2.5h0m.5 6.7h0m3.6-34.1h0m1.6 5.1h0m5.7 86h0m.2-57.1h0m.1-34.2h0m.5 54.5h0m.5-18.3h0m.3-32.5h0m.2 49.3h0m.8-40.3h0m.1 15.4h0m1.9-16.3h0m1.6-4.1h0m2.1-4.2h0m.2 6.3h0m1.4-11.2h0m1.9 98.4h0m1.6-1.8h0m2.7-93.2h0m.2 4.2h0m2.2-7.9h0m2.9 98.5h0m.5-1.6h0m4.1 12.5h0m3.4-103.3h0m.9-2h0m.9 2.6h0m.8 92.3h0m3.9-103.7h0m.5 10.8h0m.5 106.1h0m4.7-12.9h0m.1-94.9h0m.7 1.7h0m3.5 94.6h0m5.1-95.1h0m1 1.7h0m5.7 2.9h0m4.1-9.7h0m1.7 108.2h0m.1-98.8h0m.2 2.3h0m.2 93h0m3.7-104.2h0m.3 6.4h0m.8 5.4h0m1.2-9.6h0m1.3-8.2h0m1.1 11.7h0m.3 100.2h0m2.1-10.9h0m.2-18.1h0m1.6 18.3h0m.7-93.4h0m.2 13h0m1.6-.8h0m.8-6.8h0m.6 5.1h0m1.8 .3h0m1.7 68.4h0m.2-65.4h0m0-3.6h0m1 8.7h0m.3 61.5h0m1.5 1.4h0m.3-69.4h0m2.9 5.6h0m1.7 17.6h0m.3 7.8h0m.1-29h0m.2-19.7h0m.2 46.3h0m.3 40.9h0m5.1-52.1h0m1.7-.3h0m1.1 62.1h0m.4-54.7h0m2.7 6.7h0m.1-21.6h0m.2 6.3h0m.4 64.3h0m.2-47.2h0m1.4-12.2h0m.4 1.9h0m1.3 1.3h0m1.1 3.1h0m.6 34.9h0m.7 4.5h0m.3 3.5h0m.4-54.1h0m3.6-9.5h0m2.3 35.6h0m.5-6.5h0m1 10.2h0m1-12.7h0m4.6 .2h0m3.5-4.5h0m.7 29.2h0" stroke="#ee4a3e" stroke-width="1.7"/>
<path d="M861.2 450.2h0m5.1-26.2h0m.6 5.1h0m.2 24.5h0m.6-9.8h0m.3-7.8h0m2.2 19.3h0m.1 9.4h0m.7-12.2h0m2.2 14.7h0m.5-29.5h0m3.9-31.8h0m3.8 77.5h0m2.1-53.2h0m1.6-21.6h0m.5 68.7h0m.1-64.4h0m.5 19.1h0m3.1-18.6h0m1.1 3.4h0m1 17.3h0m.9-19.8h0m2.3 28.9h0m.8-38.5h0m.2 13.3h0m2.4 76.6h0m1.9 5.9h0m.4-95.7h0m8.2 82.3h0m1.2 2.1h0m2.9 2.9h0m6.6 1.4h0m1.2-2.3h0m1.2-91h0m3.3 98.3h0m.1 3.4h0m1.2-7.7h0m.2-96.4h0m2.2 .5h0m4.7 1.9h0m1.8-6h0m7 2.9h0m.5-6.5h0m1.2 6.2h0m1-3.9h0m.5 104.8h0m1.9-102.6h0m3.2 107.8h0m.3-11h0m2.7-97h0m2.2 3h0m.7 5.5h0m1.5-7.5h0m.1 95.5h0m3.5-2h0m7.8-21.1h0m1.1-62.4h0m.6-2.8h0m.2 89.1h0m2.4-2.4h0m1-85.9h0m.3 65.9h0m3.2 16h0m1.4-8.6h0m.6 6.1h0m4.4-55.3h0m.5 50.7h0m.2-72.8h0m.5 22.7h0m1 50.7h0m1.2-56.4h0m.8-28.3h0m.9 31.5h0m2.9 1.3h0m1-14.5h0m.2 59.2h0m.5-32.2h0m4-4.1h0m0-33h0m.4 28.1h0m1.5 1.8h0m.1-5.9h0m.3 15.1h0m.3-21.6h0m.6 13.5h0m.2 11h0m1.3-41.2h0m.6 29.3h0m.5-6.1h0m1.4 12.6h0m0-7.8h0m0 10.5h0m1.1-4.6h0m1.8 26.5h0m.8-34.6h0m.6 26.1h0m.4-30.9h0m1.1 57.3h0m.1-47.3h0m1.6 30.8h0m1.2 12.2h0m.5-43.3h0m.1-23.6h0m.2 15.8h0m2.4 19.2h0m1-23.3h0m.6 27.3h0" stroke="#fff" stroke-width="2.3" stroke-opacity="1.0"/>
<path d="M861.2 450.2h0m5.1-26.2h0m.6 5.1h0m.2 24.5h0m.6-9.8h0m.3-7.8h0m2.2 19.3h0m.1 9.4h0m.7-12.2h0m2.2 14.7h0m.5-29.5h0m3.9-31.8h0m3.8 77.5h0m2.1-53.2h0m1.6-21.6h0m.5 68.7h0m.1-64.4h0m.5 19.1h0m3.1-18.6h0m1.1 3.4h0m1 17.3h0m.9-19.8h0m2.3 28.9h0m.8-38.5h0m.2 13.3h0m2.4 76.6h0m1.9 5.9h0m.4-95.7h0m8.2 82.3h0m1.2 2.1h0m2.9 2.9h0m6.6 1.4h0m1.2-2.3h0m1.2-91h0m3.3 98.3h0m.1 3.4h0m1.2-7.7h0m.2-96.4h0m2.2 .5h0m4.7 1.9h0m1.8-6h0m7 2.9h0m.5-6.5h0m1.2 6.2h0m1-3.9h0m.5 104.8h0m1.9-102.6h0m3.2 107.8h0m.3-11h0m2.7-97h0m2.2 3h0m.7 5.5h0m1.5-7.5h0m.1 95.5h0m3.5-2h0m7.8-21.1h0m1.1-62.4h0m.6-2.8h0m.2 89.1h0m2.4-2.4h0m1-85.9h0m.3 65.9h0m3.2 16h0m1.4-8.6h0m.6 6.1h0m4.4-55.3h0m.5 50.7h0m.2-72.8h0m.5 22.7h0m1 50.7h0m1.2-56.4h0m.8-28.3h0m.9 31.5h0m2.9 1.3h0m1-14.5h0m.2 59.2h0m.5-32.2h0m4-4.1h0m0-33h0m.4 28.1h0m1.5 1.8h0m.1-5.9h0m.3 15.1h0m.3-21.6h0m.6 13.5h0m.2 11h0m1.3-41.2h0m.6 29.3h0m.5-6.1h0m1.4 12.6h0m0-7.8h0m0 10.5h0m1.1-4.6h0m1.8 26.5h0m.8-34.6h0m.6 26.1h0m.4-30.9h0m1.1 57.3h0m.1-47.3h0m1.6 30.8h0m1.2 12.2h0m.5-43.3h0m.1-23.6h0m.2 15.8h0m2.4 19.2h0m1-23.3h0m.6 27.3h0" stroke="#ee4a3e" stroke-width="1.7"/>
<path d="M863.1 441.8h0m6.8 32.6h0m.2-16.1h0m.9-47.8h0m2.4 48h0m1.1-35.2h0m1.4 8.7h0m.8 34.8h0m.1-33.3h0m1.7 42.7h0m4.2-58h0m.3 59.6h0m.1-43.7h0m.4-2.1h0m2.1-2.7h0m2.2-8h0m1 15.4h0m.4-11.8h0m.4-3.9h0m2.8 7.6h0m.1-25.3h0m.3 19.7h0m.9 24.7h0m.1-6.1h0m1.3-28.9h0m1.8 6.9h0m3.2-13.3h0m6 88.6h0m2-2.4h0m.5-101.2h0m1.4 7.3h0m8-4.7h0m1.5 2.5h0m2.3 99.1h0m.3-3.5h0m0-103.8h0m2.8 14.4h0m.8-1.5h0m1.1 1h0m1.4 94.8h0m1.1-104h0m1.3 7.4h0m.1-4.4h0m3.7-12.9h0m4.7 1.7h0m1.4 9.8h0m3.8 97.1h0m4-91.7h0m1-1.7h0m1.6-.8h0m3.2 100h0m.6-108.1h0m1 101.7h0m2.1 2.7h0m1-101.9h0m.7-4.7h0m3.3 14.2h0m.7 88.3h0m1-83.7h0m4.5-5.7h0m.2-2h0m1.5 89.2h0m1.8-17.6h0m1.8-78.9h0m4.1 31.4h0m.8-22.5h0m.1 11.6h0m1.6 10.3h0m1 52.8h0m.5-2h0m1.4-65.2h0m1-6h0m.1 75.2h0m1.4-52.7h0m.6-2.5h0m.2 67.2h0m1-69.2h0m0-5.1h0m.1-7h0m2 78.7h0m.5-74.6h0m2.7 82.9h0m.4-76.8h0m.9 5.7h0m.5 1.9h0m.3 48.3h0m.1-39.1h0m.2 2.5h0m1.6 33.2h0m2.1 .1h0m0-72.2h0m0 40.4h0m1.2 38h0m.2-59.6h0m1.1 69.8h0m.8-44.5h0m1.6-13.3h0m.3 38.6h0m2.7-13.5h0m.1 3.7h0m.6-40h0m2.1 41.4h0m1.5-20.6h0m4.2 16.1h0m4.4 2.6h0m.8-10.6h0m3.2-4h0" stroke="#fff" stroke-width="2.3" stroke-opacity="1.0"/>
<path d="M863.1 441.8h0m6.8 32.6h0m.2-16.1h0m.9-47.8h0m2.4 48h0m1.1-35.2h0m1.4 8.7h0m.8 34.8h0m.1-33.3h0m1.7 42.7h0m4.2-58h0m.3 59.6h0m.1-43.7h0m.4-2.1h0m2.1-2.7h0m2.2-8h0m1 15.4h0m.4-11.8h0m.4-3.9h0m2.8 7.6h0m.1-25.3h0m.3 19.7h0m.9 24.7h0m.1-6.1h0m1.3-28.9h0m1.8 6.9h0m3.2-13.3h0m6 88.6h0m2-2.4h0m.5-101.2h0m1.4 7.3h0m8-4.7h0m1.5 2.5h0m2.3 99.1h0m.3-3.5h0m0-103.8h0m2.8 14.4h0m.8-1.5h0m1.1 1h0m1.4 94.8h0m1.1-104h0m1.3 7.4h0m.1-4.4h0m3.7-12.9h0m4.7 1.7h0m1.4 9.8h0m3.8 97.1h0m4-91.7h0m1-1.7h0m1.6-.8h0m3.2 100h0m.6-108.1h0m1 101.7h0m2.1 2.7h0m1-101.9h0m.7-4.7h0m3.3 14.2h0m.7 88.3h0m1-83.7h0m4.5-5.7h0m.2-2h0m1.5 89.2h0m1.8-17.6h0m1.8-78.9h0m4.1 31.4h0m.8-22.5h0m.1 11.6h0m1.6 10.3h0m1 52.8h0m.5-2h0m1.4-65.2h0m1-6h0m.1 75.2h0m1.4-52.7h0m.6-2.5h0m.2 67.2h0m1-69.2h0m0-5.1h0m.1-7h0m2 78.7h0m.5-74.6h0m2.7 82.9h0m.4-76.8h0m.9 5.7h0m.5 1.9h0m.3 48.3h0m.1-39.1h0m.2 2.5h0m1.6 33.2h0m2.1 .1h0m0-72.2h0m0 40.4h0m1.2 38h0m.2-59.6h0m1.1 69.8h0m.8-44.5h0m1.6-13.3h0m.3 38.6h0m2.7-13.5h0m.1 3.7h0m.6-40h0m2.1 41.4h0m1.5-20.6h0m4.2 16.1h0m4.4 2.6h0m.8-10.6h0m3.2-4h0" stroke="#ee4a3e" stroke-width="1.7"/>
<path d="M773.3 459.9h0m5.5-8.5h0m1.4-4.5h0m4.6 4h0m1.6-2.1h0m2.7-2.2h0m2.8 1.3h0m3.8 4.5h0m3.2-.4h0m3.5-6.8h0m32.4 79.1h0m2.8-20.5h0m6.9-73.4h0m5.2 9.5h0m11.2 30.8h0m8.1 29.4h0m3.5-142.8h0m6.5 48.1h0m.8-10.8h0m5.6 4.9h0m3.3-11.5h0m10.5 144.1h0m13.7-207.3h0m17.5 200.4h0m29.3 5.1h0m25.5 9.3h0m22.2-190.3h0m7.3 170.5h0m8.8-158.7h0m5.9 22.6h0m2 91.2h0m7.9-85.4h0m2.6 90.1h0m3.4-109h0m5.1 70.3h0m1.7-15.6h0m3.4-28.8h0m4.5 20.6h0" stroke="#fff" stroke-width="2.5" stroke-opacity="1.0"/>
<path d="M773.3 459.9h0m5.5-8.5h0m1.4-4.5h0m4.6 4h0m1.6-2.1h0m2.7-2.2h0m2.8 1.3h0m3.8 4.5h0m3.2-.4h0m3.5-6.8h0m32.4 79.1h0m2.8-20.5h0m6.9-73.4h0m5.2 9.5h0m11.2 30.8h0m8.1 29.4h0m3.5-142.8h0m6.5 48.1h0m.8-10.8h0m5.6 4.9h0m3.3-11.5h0m10.5 144.1h0m13.7-207.3h0m17.5 200.4h0m29.3 5.1h0m25.5 9.3h0m22.2-190.3h0m7.3 170.5h0m8.8-158.7h0m5.9 22.6h0m2 91.2h0m7.9-85.4h0m2.6 90.1h0m3.4-109h0m5.1 70.3h0m1.7-15.6h0m3.4-28.8h0m4.5 20.6h0" stroke="#ee4a3e" stroke-width="1.8"/>
</g>
<rect x="761" y="306.3" width="315.4" height="250.7" fill="none" stroke="#3a3a3a" stroke-width="0.8"/>
<path d="M767.3 557v2M806.5 557v2M845.7 557v2M884.9 557v2M924.1 557v2M963.3 557v2M1002.5 557v2M1041.7 557v2M761 311.4h-2M761 342.7h-2M761 373.9h-2M761 405.2h-2M761 436.5h-2M761 467.8h-2M761 499.1h-2M761 530.3h-2" stroke="#3a3a3a" stroke-width="0.6" fill="none"/>
<g font-size="4.7" fill="#111" stroke="#111" stroke-width="0.08">
<text x="767.3" y="564.6" text-anchor="middle">−100</text>
<text x="806.5" y="564.6" text-anchor="middle">−75</text>
<text x="845.7" y="564.6" text-anchor="middle">−50</text>
<text x="884.9" y="564.6" text-anchor="middle">−25</text>
<text x="924.1" y="564.6" text-anchor="middle">0</text>
<text x="963.3" y="564.6" text-anchor="middle">25</text>
<text x="1002.5" y="564.6" text-anchor="middle">50</text>
<text x="1041.7" y="564.6" text-anchor="middle">75</text>
<text x="757.4" y="313.1" text-anchor="end">100</text>
<text x="757.4" y="344.4" text-anchor="end">75</text>
<text x="757.4" y="375.6" text-anchor="end">50</text>
<text x="757.4" y="406.9" text-anchor="end">25</text>
<text x="757.4" y="438.2" text-anchor="end">0</text>
<text x="757.4" y="469.5" text-anchor="end">−25</text>
<text x="757.4" y="500.8" text-anchor="end">−50</text>
<text x="757.4" y="532" text-anchor="end">−75</text>
<text x="918.7" y="571.6" text-anchor="middle">Dim 1</text>
<text transform="translate(744.8 431.6) rotate(-90)" text-anchor="middle">Dim 2</text>
</g>
<rect x="1010.6" y="310.1" width="63.9" height="18.9" rx="1" fill="#888" fill-opacity="0.55"/>
<rect x="1009.7" y="309.2" width="63.9" height="18.9" rx="1" fill="#fff" stroke="#ccc" stroke-width="0.5"/>
<circle cx="1018.2" cy="314.6" r="0.75" fill="#4791b4"/><circle cx="1018.2" cy="323" r="0.75" fill="#ee4a3e"/>
<text x="1028.1" y="316.1" font-size="5.68" fill="#111" stroke="#111" stroke-width="0.1">Visual features</text>
<text x="1028.1" y="324.5" font-size="5.68" fill="#111" stroke="#111" stroke-width="0.1">Text features</text>
<text x="921.3" y="594.2" font-family="'Liberation Serif',serif" font-size="15" text-anchor="middle" fill="#111" textLength="90.7" lengthAdjust="spacingAndGlyphs">LongCat-Next</text>
</svg>
</body></html>
